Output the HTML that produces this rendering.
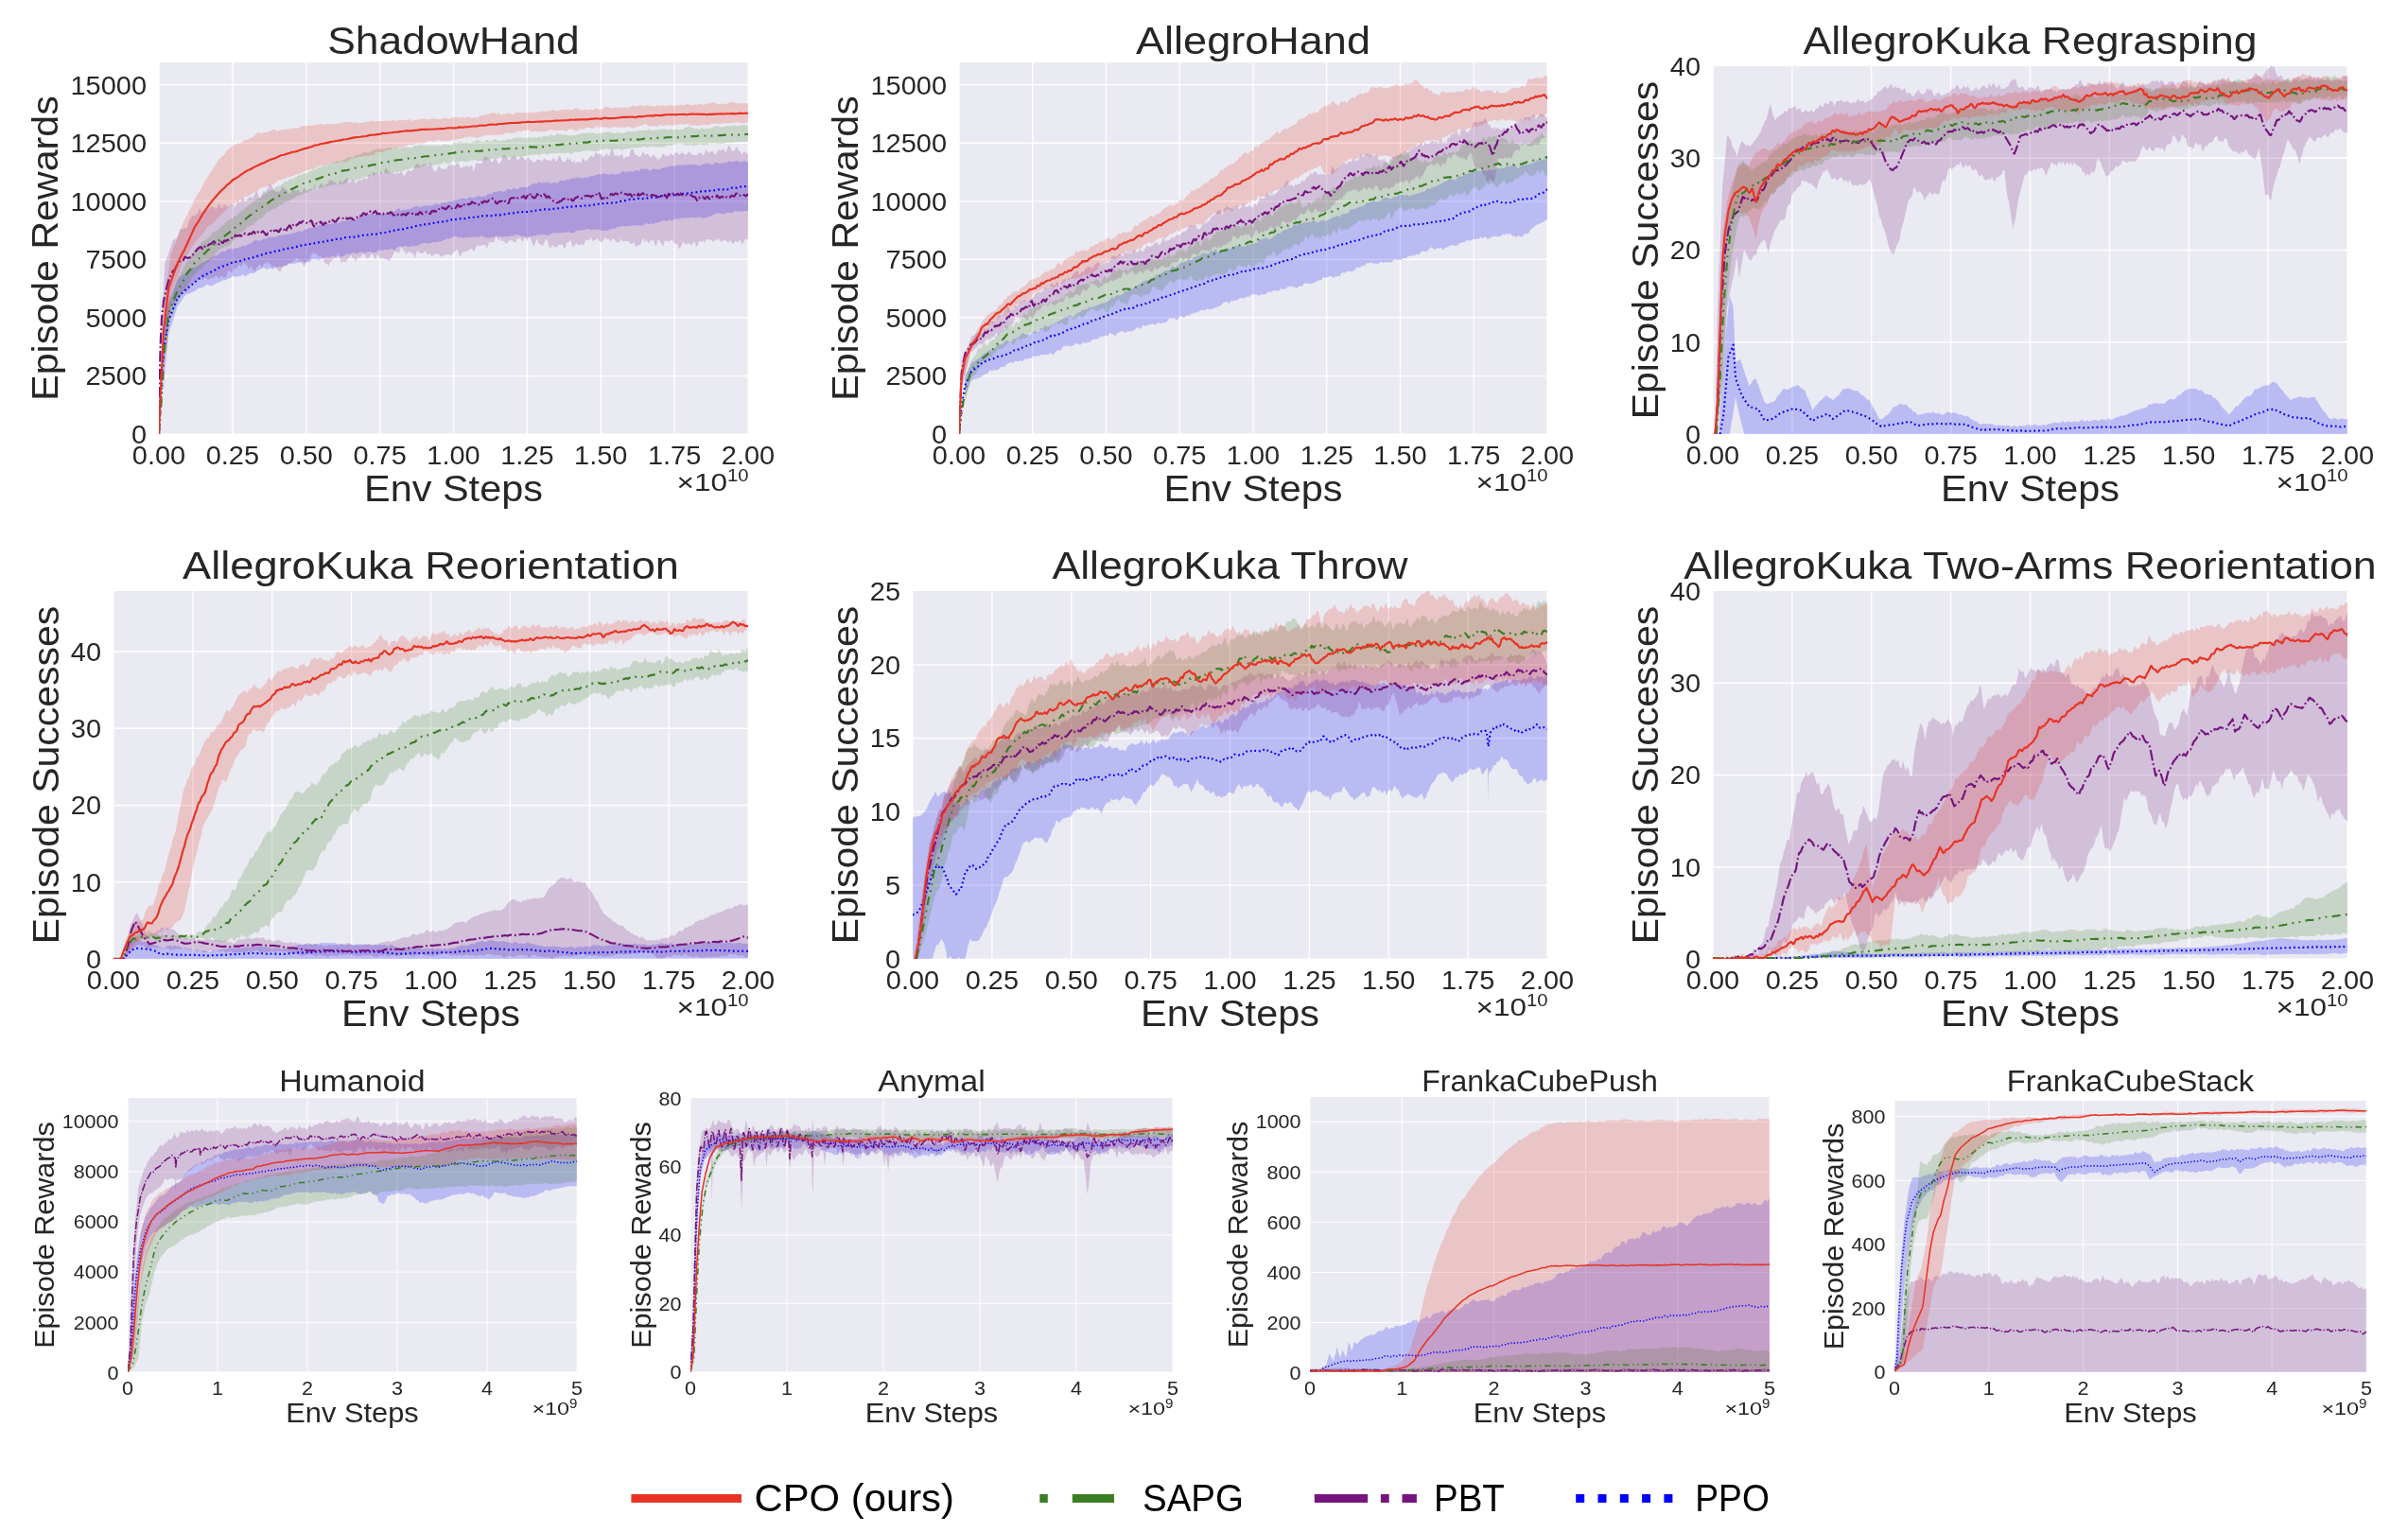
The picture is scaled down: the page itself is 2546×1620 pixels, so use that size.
<!DOCTYPE html>
<html><head><meta charset="utf-8"><title>Learning curves</title>
<style>html,body{margin:0;padding:0;background:#fff}svg{display:block;will-change:transform}text{font-family:"Liberation Sans",sans-serif}</style></head>
<body>
<svg width="2546" height="1620" viewBox="0 0 2546 1620">
<rect x="0" y="0" width="2546" height="1620" fill="#fff"/>
<g id="P1">
<rect x="168" y="66" width="623" height="393" fill="#EAEAF2"/>
<clipPath id="cP1"><rect x="168" y="66" width="623" height="393"/></clipPath>
<path d="M168.00,66V459M245.88,66V459M323.75,66V459M401.62,66V459M479.50,66V459M557.38,66V459M635.25,66V459M713.12,66V459M791.15,66V459M168,459.15H791M168,397.53H791M168,335.97H791M168,274.40H791M168,212.83H791M168,151.26H791M168,89.70H791" stroke="#fff" stroke-width="1.30" fill="none" clip-path="url(#cP1)"/>
<g clip-path="url(#cP1)">
<path d="M171.8,374.1l2-24.1l.6-6.9l1.4-8.6l2-11.8l.5-2.3l1.5-4.1l2-4.9l2-5.2l2-5.1l1.7-4.5l.3-.5l2-2.7l2-1.9l2-1.2l2-1l.7-1.1l1.3-2.2l2,.3l2-2.2l2-1.1l1.9,0l.1,0l2-1.3l2-1.2l2-.9l2-2l.9,.1l1.1-.1l2-1.6l2-1.3l2-.9l2-2.1l2-.7l2-.9l2-.4l2-2.1l1.4-.8l.6-.4l2-1.1l2,.8l2-2.2l2-.4l2-.9l2,1.3l0,0l2-1.3l2-.1l2-.6l2-.5l2-1.3l2-.7l2,.5l2-1.3l2-.9l2-.6l2-1.7l2-1.6l2,.1l2,1.1l2-1.1l2-.6l2-.8l2-.1l2-1.6l1,0l1-.1l2-.3l2,.7l2-.6l2-1l2-.7l2-.3l2-.2l2,0l2-.6l2,.4l2-.9l2-1.2l2,.3l2-1.1l2-1.1l2,.9l2-.4l2-1.7l1.7-.4l.3-.1l2-.4l2-1.4l2,1.1l2-1.9l2,.6l2-1.8l2-.8l2,.8l2-1l2-.4l2-1.2l2,1.2l2-.5l2-.7l2,.3l2-.7l2,.6l2-1.3l2-1.7l.4,.3l1.6,.7l2-.8l2,0l2-.9l2-.8l2,.7l2,.8l2-3.1l2-.1l2-.5l2-2l2,.3l2-.2l2-1.3l2-.1l2-.5l2,1.2l2-1l2-.6l1.5,.3l.5,.3l2,.3l2,.7l2-1.1l2-1l2-.5l2,.2l2-.5l2-1l2-1.7l2-1.3l2,3.2l2-1.8l2,1.1l2-.9l2-.4l2-.2l2-1.7l2-.2l2-1l.2,0l1.8-.2l2,1.3l2-.8l2-.8l2-.4l2,.2l2-.5l2,.9l2-.7l2-1.1l2-1.2l2,1.7l2-1.1l2-1l2-.7l2,1l2-1.6l2-.4l2,.5l1.2-1l.8-.7l2,0l2-.2l2-.5l2-1.3l2,.3l2,0l2,.7l2-1.8l2-.1l2,.7l2-.4l2-1.2l2-.7l2,.8l2,.2l2-.6l2,0l2-2.7l2,.3l2,.1l2-2.3l2,.3l2-.3l2-.7l2-.1l2,.6l2-.1l2-2.2l2-.9l2,1.5l2-1.1l2-1l2,1.5l2-.6l2-1.8l2,.2l2-.5l2,.8l1.7-.3l.3-.2l2-1.5l2-1.2l2-1.6l2,.8l2-.1l2-1.8l2,.8l2,.1l2-.1l2-.7l2,.7l2,.5l2,.3l2-1.7l2,1.5l2-.8l2-1.8l2-.3l2-.1l2,.1l2-1.2l2,.1l2-.8l2-.8l2,.5l2-.9l2-.4l2,.7l2,.3l2-.8l2-.5l2,.3l2-.9l2-.7l2,.3l2-1.5l2,0l2-1.2l1.7,1.3l.3,.1l2-1.6l2,.4l2,.3l2,.6l2-.1l2-1.4l2,1.9l2-.8l2-.4l2,.2l2-3l2,.3l2,1.2l2-1.8l2,1.1l2-.9l2,.6l2-1.3l2-.1l2,1l2-2.5l2,0l2,.4l2-.8l2,1.2l2,1.3l2-1.9l2,0l2,0l2,.4l2-.3l2-1.4l2-.2l2,.2l2-1.2l2-.5l2-.3l2,.1l1.5,.2l.5-.3l2-.7l2-.2l2-.1l2,.1l2-.2l2-.3l2,0l2,.4l2-.8l2,.7l2-.5l2,.6l2,.9l2-1.6l2,0l2-.6l2-.9l2,1.5l2-.2l2,.6l2-2.2l2-.2l2,1l2-.1l2-.7l2,.6l2-.6l2-.9l2-1l2,1.4l2-1.2l2,.3l2-.9l2,2.3l2-1l2-.4l2-.7l2,1.5l1.2,.3l0,51.7l-1.9-.1l-2-.2l-2,.3l-2,.4l-2-.2l-2,.2l-2-.7l-2,1.9l-2,.4l-2-.7l-2,.1l-2,.6l-2,1l-2-.2l-2-.4l-2-.8l-2,.9l-2,.8l-2,.7l-2,1.6l-2,0l-2,1.2l-2,.4l-2,.3l-2-1.4l-2,.2l-2,.2l-2,.3l-2-.3l-2-.1l-2,.8l-2-.4l-2,0l-2,.8l-2-.8l-2,.9l-2,.7l-2-.5l-1.8,.6l-.2,0l-2,1.1l-2,.3l-2-1.1l-2,1.7l-2-.5l-2-.3l-2,1.2l-2,.1l-2,1.4l-2-.7l-2,2.1l-2-1.1l-2,1.5l-2-.8l-2-.9l-2,1.3l-2,1.6l-2-.4l-2-.7l-2,1.3l-2-1.3l-2,.7l-2,.3l-2,.4l-2,0l-2,.1l-2-.1l-2-.1l-2,1.3l-2-.7l-2,2.2l-2-.2l-2,.6l-2,.4l-2,1.1l-2,.3l-2-.2l-2,.2l-1.6-.2l-.4-.2l-2-.5l-2-.5l-2,0l-2,0l-2,1l-2-1.4l-2-.2l-2,.4l-2,.5l-2,.5l-2,.6l-2-.5l-2,.6l-2,1.6l-2,.8l-2-.3l-2-1l-2,.4l-2,.4l-2-.6l-2,.9l-2-.1l-2,.3l-2-.4l-2,.4l-2,.6l-2,1.2l-2,.7l-2-.6l-2-.7l-2,.8l-2-.1l-2-.7l-2,1.2l-2,.3l-2,.8l-2-.4l-2,.4l-1.6,1.2l-.4,.3l-2-1.4l-2,0l-2-.5l-2-.9l-2-.4l-2-.2l-2,1.5l-2-.2l-2,0l-2,1.1l-2-.7l-2,.4l-2,.6l-2-1l-2,.8l-2-1l-2,.9l-2,.4l-2,0l-2,1.2l-2-.6l-2-.4l-2-.6l-2-1.4l-2,.9l-2,1l-2-.8l-2,.6l-2,0l-2-.2l-2,1l-2-.7l-2,.3l-2,.6l-2-1.4l-2,1l-2-1.2l-2-.7l-2,1.6l-.1,0l-1.9,.4l-2,1l-2-.2l-2,.9l-2,.7l-2,1.1l-2,.6l-2,0l-2,1l-2-.7l-2,.2l-2,.9l-2,.7l-2-.7l-2,.2l-2-.1l-2,1l-2,1.2l-2,.3l-1.1,.5l-.9-.4l-2,.8l-2-.7l-2,1.1l-2,.2l-2-1.1l-2,.7l-2,.3l-2-.4l-2,.5l-2,1.4l-2,2.2l-2-1.3l-2-.5l-2,1.4l-2-.2l-2-.2l-2,.6l-2,.3l-1.8-.4l-.2-.1l-2,.7l-2,2.1l-2,0l-2-.4l-2-.9l-2,1l-2,0l-2,1.2l-2-1.9l-2,.6l-2,.6l-2,1.2l-2-1.5l-2,0l-2,1.4l-2,0l-2,.2l-2,.8l-2,1.6l-.9,.3l-1.1,.2l-2,0l-2-.1l-2,1.9l-2-2.3l-2-.1l-2,1.1l-2,.3l-2-.7l-2,1.2l-2,.1l-2,1.4l-2,1.3l-2-1.3l-2,.1l-2-.7l-2,1.4l-2,2.3l-2-.1l-1.6-.2l-.4,.3l-2,.3l-2-1.9l-2,.7l-2,1.6l-2,.1l-2,.5l-2,.3l-2-.6l-2,.3l-2,1l-2,1.2l-2,.7l-2,.8l-2-.6l-2,1.3l-2-.6l-2,2.1l-2-.6l-2-.4l-.3,0l-1.7,1.5l-2-.9l-2-1.2l-2,1l-2,.5l-2,1.5l-2,.7l-2,1.9l-2,.4l-2-.3l-2,.8l-2,1.5l-2,1.2l-2-2.2l-2,1.5l-2,1l-2-.6l-2,1.6l-2-1.5l-1.1-.2l-.9,1.3l-2,1.1l-2,.2l-2,1.5l-2,.5l-2,.2l-1.9,1.6l-.1,.1l-2,.1l-2,1l-2,.9l-2,1.9l-2-.2l-2-.1l-2-1.4l-2,1.8l-2,1.5l-.4,0l-1.6,.7l-2,.2l-2,.3l-2,2.5l-1.4,.6l-.6,.1l-2,.7l-2,1.4l-2,.9l-2,0l-.6,.5l-1.4,1.7l-2,2.6l-2,3.1l-2,3l-1.6,2.3l-.4,1.3l-2,6.3l-2,6.6l-2,5.8l-2,6.1l-.8,2.7l-1.2,9.3l-1.4,11.6l-.6,8.6l-2,29.9Z" fill="#0000FF" fill-opacity="0.2"/>
<path d="M170.6,348.3l1.5-27.2l1.5-27.1l.8-15.4l.7-2.1l1.5-4.2l1.5-3.6l1.5-5.1l1.2-3.2l.3-.5l1.5-5.1l1.5-1.8l1.5-.6l1.5-.7l1.5-3.7l1.5-5.6l1.5,.1l1.5-.3l.6-.2l.9-1.1l1.5,.1l1.5,1.3l1.5-6.4l1.5-4.3l1.5-1.8l1.5-2l1.5,1l1.4-1.6l.1,0l1.5-.1l1.5-3l1.5-4.4l1.5,4.3l1.5,.4l1.5-2.4l1.5,.4l1.5-1l1.5-1.5l1.5,1.1l1.5-3.2l1.5,.9l1.5,.2l1.5,1.5l1.5,.5l1.5-4l1.5-1.3l1.5,4.2l1.5,.6l1.5-4.2l1.5,.3l1.5,2.3l1.5-.8l1.5,.9l1.5-2.7l1.5,.6l.2-.1l1.3-.5l1.5,3.6l1.5-3.5l1.5-5.1l1.5,3.3l1.5-1.4l1.5-3.3l1.5-.2l1.5,3.5l1.5-.2l1.5-3.4l1.5-.6l1.5-1.6l1.5,3l1.5-2.7l1.5-3.1l1.5-2.7l1.5,2.3l1.5,5.7l1.5-.4l1.5-3.9l1.5-3.2l1.5,.5l1.5-1.1l1.5-2l.4-1.4l1.1-3.3l1.5-.4l1.5,2l1.5,4.2l1.5,.9l1.5,2.1l1.5-1.8l1.5,.9l1.5-1.7l1.5-2.8l1.5-1.2l1.5,2.9l1.5-.2l1.5,2.3l1.5,3l1.5-.8l1.5-3.2l1.5-.5l1.5-.6l1.5,1.9l1.5-1.5l1.5-.1l1.5,4l1.5-1.6l1.5-2.8l1.5-1.6l1.4,2.3l.1,.2l1.5,.8l1.5-.6l1.5-2.5l1.5,2.2l1.5-1.5l1.5-4.1l1.5,1.9l1.5,4.3l1.5-3.7l1.5-3.5l1.5-.1l1.5,3.1l1.5-.4l1.5-2.3l1.5,.8l1.5-3.5l0-.2l1.5-1.2l1.5,.1l1.5,1.8l1.5,0l1.5,.8l1.5,3.1l1.5-1.7l1.5-3.4l1.5,.8l1.5,1.4l1.5-2.4l1.5-2.3l1.5-.7l1.5,6.1l1.5-1.4l1.5-1.3l1.5-1.3l1.5,2.1l1.5,2.2l1.5-2.5l1.5-1.2l1.5-.4l1.5,.8l1.5-1.9l1.5-1.1l1.5,1l1.5,1l1.5-5.2l1.5-.5l1.5,3l1.5-5.7l1.5,.4l1.5,1.7l1.5-1.3l1.5,2.4l1.2-1.2l.3-.7l1.5-1.7l1.5,3.2l1.5-2.6l1.5-5l1.5,2.3l1.5,1.6l1.5,2.2l1.5,.5l1.5,.3l1.5-2.3l1.5,3.5l1.5-2.4l1.5,.9l1.5-.5l1.5-2.9l1.5,3.6l1.5,2.7l1.5-1.9l1.5-2.7l1.5-1.8l1.5,.1l1.5,2.1l1.5-2.3l1.5-.8l1.5-3.8l.9-1.5l.6-.2l1.5,0l1.5,2.1l1.5,0l1.5-.8l1.5-1.8l1.5,.5l1.5,.4l1.5,1.8l1.5-2l1.5-1.5l1.5,4.9l1.5,2.8l1.5,1.8l1.5-1.3l1.5-3.7l1.5-1.4l1.5,2.6l1.5,1.2l1.5-.8l1.5,.6l1.5-1l1.5-1.6l1.5-3l1.5,1.6l1.5-.5l.9-.2l.6,.6l1.5,.6l1.5-2.7l1.5-.5l1.5,2.5l1.5,3.7l1.5-1.3l1.5-.6l1.5,.3l1.5-2.1l1.5,1l1.5,1.5l1.5-2.3l1.5,.3l1.5,6.4l1.5-4.8l1.5-4.3l1.5,0l1.5,.6l1.5,.5l1.5-.9l1.5-5.1l1.5-1.4l1.5-1.4l1.5,2.6l1.5-.2l.4-.6l1.1,3.6l1.5,1.9l1.5-2.7l1.5-2.8l1.5,1.6l1.5,2.7l1.5,3.3l1.5-3.1l1.5-1.8l1.5-5.8l1.5,.2l1.5,1.9l1.5,1.6l1.5,3.1l1.5-2.5l1.5-1.8l1.5,0l1.5-1.4l1.5,2.5l1.5,1.9l1.5,.1l1.5-3.5l1.5,0l1.5,1l1.5,2.1l1.5,.6l1.4-3l.1-.1l1.5,.9l1.5,2.1l1.5,.8l1.5,.9l1.5,1l1.5-1.7l1.5-1.9l1.5,.7l1.5,0l1.5,2.2l1.5-2.3l1.5-2l1.5,2.3l1.5,0l1.5-.3l1.5,1.6l1.5-.7l1.5-2.6l1.5,.5l1.5,3.1l1.5-.8l1.5-4.7l1.5-.5l1.5,4l.9,1.8l.6,.3l1.5,.7l1.5-1.1l1.5-3.9l1.5,3.1l1.5-2.6l1.5,3.9l1.5,.5l1.5-1.9l1.5,3.2l1.5-1.5l1.5-.4l1.5,1.4l1.5-.3l1.5-5.7l1.5,2.1l1.5,2.2l1.5-1.1l1.5-1.3l1.5-2.4l1.5-1l1.5,1.5l1.5-1.3l1.5-4.1l1.5,.9l1.5,1.6l1.5-1l1.4,.5l.1,.1l1.5,2.3l1.5,.5l1.5-1.8l1.5-2.4l1.5,3.7l1.5-1.4l1.5-6.6l1.5-1l1.5,6l1.5,2.6l1.5-.9l1.5,1.1l1.5-.2l1.5-1.1l1.5-.8l1.5,5.5l1.5-2.1l1.5-1.5l1.5,1.6l1.5-2l1.5-6.5l1.5,0l1.5,.4l1.5,6.1l1.5-.8l.9,.3l.6,1.7l1.5,.3l1.5-.7l1.5-3.7l1.5-.5l1.5,3.2l1.5-1.4l1.5-.4l1.5,2.8l1.5,1.4l1.5-2.2l1.5-1l1.5,1.7l1.5,1.3l1.5,3.3l1.5-2.7l1.5,.9l1.5-4.5l1.5-1.1l1.5,2.7l1.5-.9l1.5,1.4l1.5-1l1.5-3.1l1.5,2.4l1.5,.1l1.2-1.6l.3-.4l1.5-1.3l1.5,1.6l1.5,1.5l1.5-1.5l1.5-1l1.5,.5l1.5,2.3l1.5-.5l1.5-1.8l1.5-1.9l1.5,1.6l1.5,2.5l1.5-.6l1.5,.7l1.5-.2l1.5-.2l1.5-2l1.5-.1l1.5,.6l1.5,2.5l1.5-2.9l1.5-3.8l1.5,2.2l1.5,1.8l1.4-2l.1,0l1.5,.4l1.5-.8l1.5,4.1l1.5-.8l1.5-3.8l1.5-.8l1.5,1l1.5-1.2l1.5-.4l1.5,1.5l1.5,2.5l1.5-5l1.5-3l1.5,1.5l1.5,4.7l1.5-.3l1.5-.6l1.5-2.9l1.5-.8l1.5,4.5l1.5,.5l1.5,3.4l1.5-2.1l1.5-1.7l1.5,1l1.5,1.5l.9,.9l0,90.1l-1.2-.2l-1.4-.5l-1.6,2.6l-1.4,2.3l-1.6,.2l-1.4-5.6l-1.6,3.9l-1.4,.1l-1.6-1.9l-1.4,2.2l-1.6,1.8l-1.4-2.3l-1.6-2l-1.4,2.6l-1.6-.8l-1.4-1.7l-1.6-.1l-1.4,.7l-1.6,0l-1.4,.4l-1.6-3.6l-1.4,2.5l-1.6-.8l-1.4,1.8l-1.6,.5l-1.4-1.9l-1.4-.3l-.2,.3l-1.4,0l-1.6-.9l-1.4,1l-1.6,2.7l-1.4-2l-1.6,1.5l-1.4-1.1l-1.6,.5l-1.4,4.9l-1.6,.5l-1.4-6l-1.6,2.6l-1.4,1.8l-1.6-.5l-1.4-1.4l-1.6,.7l-1.4,.7l-1.6-1.2l-1.4-2.1l-1.6,3.8l-1.4,2.6l-1.6,1.8l-1.4-5.7l-1.6,.4l-1.4-.9l-.1-.1l-1.5-1.7l-1.4-2.4l-1.6,1.6l-1.4,1.1l-1.6-1.4l-1.4,.6l-1.6-.6l-1.4,5.7l-1.6-1.3l-1.4-2.5l-1.6-2.6l-1.4-.3l-1.6,6.9l-1.4-2.1l-1.6-4.7l-1.4,1.5l-1.6-1.9l-1.4,4.4l-1.6-1.8l-1.4-2.8l-1.6,3.9l-1.4-5.1l-1.6,2.5l-1.4,4.6l-1.6,.4l-1.4,0l-.4,1l-1.2,1.2l-1.4-2.4l-1.6-3.8l-1.4,3.3l-1.6-1.3l-1.4-1.2l-1.6-1.1l-1.4-.2l-1.6,.2l-1.4,.3l-1.6-.2l-1.4-2.9l-1.6,4l-1.4,.3l-1.6-.5l-1.4-1.4l-1.6-1.9l-1.4-.3l-1.6,3.7l-1.4-2.9l-1.6-.2l-1.4-.1l-1.6-2l-1.4,2.7l-1.6,3.1l-1.3-.7l-.1,.1l-1.6-1.1l-1.4-2l-1.6-.3l-1.4,1.4l-1.6,.6l-1.4,.5l-1.6-4.7l-1.4,2.9l-1.6,1.2l-1.4-1.2l-1.6,1.5l-1.4,3.7l-1.6,1.1l-1.4-2.2l-1.6,2.3l-1.4-1.1l-1.6-.8l-1.4,.3l-1.6,2.3l-1.4,1.1l-1.6-6.6l-1.4-.9l-1.6,3l-1.4-1.3l-1.6,5.6l-1.4,1.8l-1.6-4.4l-.3-.3l-1.1,.1l-1.6,.8l-1.4-.7l-1.6,2.8l-1.4-.6l-1.6,.6l-1.4-3l-1.6,2.5l-1.4,2.2l-1.6-5l-1.4-5.3l-1.6,.8l-1.4,2.8l-1.6,3.8l-1.4-1.1l-1.6-1.2l-1.4-.9l-1.6-4.5l-1.4,2.7l-1.6,5.5l-1.4-2.5l-1.6-3l-1.4-4l-1.6,0l-1.3,3.8l-.1-.2l-1.6-2.5l-1.4-.9l-1.6,4.3l-1.4-1.4l-1.6-3.2l-1.4,1.7l-1.6-.5l-1.4,3.8l-1.6,.7l-1.4-2.2l-1.6-.2l-1.4-.9l-1.6,1.8l-1.4,1.5l-1.6,1.2l-1.4-2.6l-1.6-1l-1.4,.8l-1.6-3.6l-1.4,3.2l-1.6-2.9l-1.4-2.9l-1.6,6.2l-1.4,1.1l-1.6-.4l-1.4,.2l-.9-.5l-.7,.8l-1.4,6.7l-1.6-3.8l-1.4,.1l-1.6-.2l-1.4-.4l-1.6,2l-1.4-1.9l-1.6,1.4l-1.4,.3l-1.6,4.7l-1.4-.3l-1.6-1.8l-1.4-.7l-1.6,2.4l-1.4-.1l-1.6,2.3l-1.4-1.9l-1.6,1.4l-1.4,.7l-1.6,4.2l-1.4-2.1l-1.6-5.4l-1.4,.6l-1.6,1.2l-1.4,1.5l-.4,.3l-1.2,2.5l-1.4-.5l-1.6-.3l-1.4,.3l-1.6-1.4l-1.4,1.8l-1.6,.4l-1.4-.1l-1.6,1.6l-1.4-2.7l-1.6-.8l-1.4-.7l-1.6,1.6l-1.4,0l-1.6,2.5l-1.4-2.6l-1.6-1.3l-1.4,1.9l-1.6-2.2l-1.4-2.5l-1.6,1.9l-1.4,.9l-1.6-.3l-1.4-.3l-1.6-2.3l-1.4,1.7l-.4,1.7l-1.2,5.6l-1.4-5.6l-1.6,0l-1.4-1.9l-1.6-.1l-1.4,0l-1.6,2.5l-1.4-2.1l-1.6-2.1l-1.4-2l-1.6-1.9l-1.4,6l-1.6,.8l-1.4-1.3l-1.6-.8l-1.4,1.8l-1.6,3.8l-1.4,2.5l-1.6,2.3l-1.4-.6l-1.6-.9l-1.4-.5l-1.6,.4l-1.4-2.2l-1.6,1.8l-1.4-.9l-.1-.3l-1.5-4.2l-1.4,1.6l-1.6,4.3l-1.4-2.5l-1.6-3.7l-1.4,.6l-1.6,3.1l-1.4,.8l-1.6,.5l-1.4-1l-1.6-4.4l-1.4,1.7l-1.6,1.7l-1.4,1.9l-1.6-1.9l-1.4,3.4l-1.6,1.6l-1.4-3l-1.6,.1l-1.4-3.7l-1.6,1.7l-1.4,1.6l-1.6,2.6l-1.4,2l-1.6-1l-1.4-.4l-.2,.2l-1.4,2l-1.4-5.4l-1.6-5.1l-1.4,1.2l-1.6,2.2l-1.4,2.4l-1.6,.7l-1.4,2l-1.6,.6l-1.4,4.7l-1.6-3l-1.4-.1l-1.6-1.6l-1.4-3.8l-1.6-.9l-1.4-2.3l-1.6,1.9l-1.4-2.2l-1.6-1.6l-1.4-.1l-1.6,0l-1.4,1.2l-1.6,5.1l-1.4,.5l-1.6,.5l-1.3,2.6l-.1,.6l-1.6,3.7l-1.4-1.8l-1.6-2.8l-1.4,.2l-1.6-1.6l-1.4-3.5l-1.6,2l-1.4,1.4l-1.6-.1l-1.4,2.2l-1.6,.2l-1.4,.4l-1.6,2.9l-1.4-.6l-1.6,.6l-1.4-.1l-1.6,2.9l-1.4,2.6l-1.6,0l-1.4-2.3l-1.6-1.6l-1.4-2.1l-1.6,.4l-1.4,1.5l-1.6-3.9l-1,.3l-.4-.9l-1.6-2.3l-1.4,2.9l-1.6-.8l-1.4,1.9l-1.6,2.3l-1.4-2.3l-1.6-.1l-1.4,2.1l-1.6,1.4l-1.4,3.7l-1.6-2.1l-1.4-1.7l-1.6-2.5l-1.4,4.1l-1.6-2.7l-1.4-2.2l-1.6-2.1l-1.4-.5l-1.6,3.6l-1.4,1.2l-1.6-2.9l-1.4,2.7l-1.6,1.4l-1.4,1.4l-1.6-1l-1,4.1l-.4,.9l-1.6-1l-1.4-2.4l-1.6,1.6l-1.4,5.9l-1.6,.4l-1.4,.2l-1.6-2l-1.4,.7l-1.6,3l-1.4-3.2l-1.6-.1l-1.4-.2l-1.6,2.9l-1.4-1.3l-1.6,.6l-1.4,1.2l-1.6,1.1l-1.4-2.3l-1.6-.2l-1.4,.5l-1.6,2.8l-1.4-3.2l-1.6-1.1l-1.4,3.8l-1.6-.7l-1.3,.9l-.1,.2l-1.6,1.7l-1.4,.1l-1.6,1.3l-1.4,5l-1.6,1.6l-1.4,2.5l-1.6-.1l-1.4-1l-.7,.1l-.9,1.4l-1.4,3.4l-1.6,1.9l-1.4,.7l-1.6,.5l-1.4,1.4l-1.6,4.2l-1.4,.6l-1.6,2l0,0l-1.4,6.2l-1.6,7l-1.4,7.3l-.7,2.9l-.9,11.2l-1.4,20.3l-1.6,20.2Z" fill="#75147C" fill-opacity="0.2"/>
<path d="M175.7,335.5l2-12l.6-3.3l1.4-4l2-5.5l1.9-5.6l.1-.1l2-5.2l1.8-4.9l.2-.5l2-3.2l2-2.9l2-4.4l2-4.2l.8-1.6l1.2-1.7l2-3l2-1.6l2-4.2l2-2.4l0,0l2-2.3l2-2.1l2-2.1l2-2.7l1-.9l1-1l2-.9l2-1.5l2-1.5l2-2.3l.2-.3l1.8-2.2l2-.6l2-1l2-2.2l1.5-1.4l.5-.6l2-1.3l2-2.3l2-1.7l2-1.2l2-1.8l2-.2l.3-.4l1.7-1.9l2-.9l2-1.4l2-2.6l2-1.2l2-.9l2-2.4l2-.8l.7-.8l1.3-1.2l2-1.2l2-1.7l2-1.3l2-1.6l2-1.2l2-1.9l2-1.2l2-.9l2-1.4l2-1.5l2-1.5l2-.5l.4-.1l1.6-.6l2-2.6l2-.1l2-1l2-1.3l2-1.1l2-2.4l2,1l2-2.7l.6-.3l1.4-.2l2-.3l2-1.2l2-.8l2-1.4l2-.6l2-.6l2-1.7l2,.7l.8-1l1.2,0l2-1.5l2-.4l2-1l2,.1l2-2.2l2-.9l2,.1l2-1.3l1.1-.2l.9,.4l2,.2l2-1.4l2-1.1l2-.7l2-1.3l2-.7l2,0l2-.2l2-.8l.5-.2l1.5,.2l2-2l2-.7l2-.9l2,.4l2-.3l2-1.5l2-.8l2-.2l2-.5l2-1.6l2-.7l2,.9l2-.3l2,0l2-2.4l2-.4l2-.5l2-.5l1.6,.1l.4-.3l2,0l2,.4l2-.7l2-1l2,1l2-1l2,.9l2-1.1l2-.5l2,1.7l2-.4l2-.6l2-.2l2,.5l2-.7l2,1.2l2-1l2-1l2-1.2l.3,.1l1.7,.3l2-.8l2-.5l2,1.4l2-.3l2,.6l2-.7l2,.4l2-.3l2,.4l2-.1l2-.6l2,.4l2-.2l2-1.6l2,1l2-.2l2,.3l2,.7l1.3-2.4l.7-1.2l2,.4l2,.2l2-.9l2,0l2,.7l2,.1l2-.7l2,1.1l2-.5l2-.9l2,.4l2-2.2l2,.5l2,1.2l2,.1l2,.5l2-2l2-.7l2,2.6l2-1.6l2-.3l2-1.3l2,1.6l2,.5l2-.4l2-.2l2,.2l2-.9l2-1.2l2,1.5l2-1.7l2,.2l2-1.9l2,1.8l2-2.1l2,1.6l2,.2l2-.4l1.8-.6l.2,0l2,.3l2,.6l2-.6l2-.4l2,.8l2-1.7l2,1.8l2-2.5l2,.5l2,.6l2-.1l2-1.9l2,.1l2,.9l2-.7l2-2.4l2,2.1l2-.7l2,1.6l2-1.7l2,1.5l2-.1l2,.1l2-.2l2,.1l2-1l2-.4l2-.2l2-.8l2,.1l2,.1l2-.8l2,.5l2-.4l2,.4l2,.2l2,1.1l2-1.4l1.8,0l.2,.1l2,0l2-1.1l2,.5l2-.8l2,.8l2,.4l2,.7l2-1.1l2,.4l2-.2l2,.7l2-.5l2-.2l2-1.6l2,.4l2-.2l2-.1l2,.2l2-.4l2-.6l2,.3l2-.2l2-.4l2,0l2-.7l2,0l2,1.5l2-.9l2,0l2-.6l2,.3l2-.5l2-.5l2,.7l2,0l2,.4l2-1.1l2,1.3l1.6-.5l.4-.3l2-.4l2,1l2-.7l2,.6l2-1.7l2-.8l2-.6l2-.8l2,2.1l2,0l2,.8l2-.1l2,.8l2-1.7l2,.4l2,.9l2-.5l2-.1l2-.6l2-.8l2-.6l2-1l2,1l2,.3l2,.2l2-.3l2-1.2l2,.2l2,.4l2-.5l2,0l2-.4l2,.2l2,.2l2-.9l2,.1l2,.2l2-.3l1.3,.9l0,16.9l-1.3-.3l-2,.2l-2,.2l-2-.1l-2,.6l-2-.3l-2-.1l-2,.4l-2,.4l-2,.3l-2-1.1l-2,1.3l-2-.1l-2,.7l-2-.2l-2,.3l-2-.3l-2-.3l-2,0l-2-.2l-2,0l-2,2.1l-2-.9l-2,1l-2-1.1l-2-.1l-2,.7l-2,.1l-2,1.2l-2-1.2l-2-.1l-2,.4l-2,.1l-2,0l-2-1.4l-2-.8l-2,.3l-2,.2l-2,1.5l-.4-.4l-1.6-.5l-2,1.7l-2-.5l-2-.7l-2,1.8l-2,.6l-2-.2l-2,.6l-2-.5l-2,.5l-2-.4l-2-1l-2,.5l-2,.4l-2,.5l-2-1.2l-2,.7l-2,.5l-2,.3l-2,.1l-2-.8l-2,1.2l-2-.3l-2,.7l-2,.6l-2-.1l-2,.2l-2,1.3l-2-.6l-2-1.4l-2,.9l-2,.3l-2-1.3l-2,.5l-2,.2l-2-.3l-2,.5l-2,.3l-2,.4l-.2,0l-1.8,.1l-2,1.3l-2,0l-2-.1l-2,0l-2-.6l-2-.3l-2,.9l-2-.6l-2,.6l-2,.9l-2,.3l-2-.5l-2,.4l-2,1l-2,1.1l-2-1.4l-2-.1l-2,.8l-2-.6l-2,.1l-2-.1l-2,.4l-2,0l-2,.3l-2-.7l-2,.5l-2,.7l-2,.4l-2-.5l-2-.4l-2,1.1l-2,.7l-2-1.3l-2,.5l-2,0l-2,.6l-2,0l-2,1.3l-.2,0l-1.8-.5l-2,.3l-2,.5l-2-.2l-2,.2l-2,.8l-2-.1l-2,.2l-2-.1l-2-.1l-2,.2l-2,0l-2,0l-2,.5l-2-.6l-2,1.8l-2-1.2l-2,.4l-2,.8l-2-.6l-2,1.1l-2,.7l-2,0l-2,.4l-2,.1l-2,.3l-2-.6l-2-.8l-2,1.1l-2-.3l-2,.9l-2,.5l-2,.2l-2-.7l-2-.2l-2,1.3l-2,0l-2,.3l-2-1.8l-.7,0l-1.3,.7l-2,1.4l-2,.8l-2-.6l-2-1.3l-2,1.9l-2,.6l-2,.1l-2,.7l-2-.4l-2,1.3l-2-1l-2,.2l-2-.2l-2,.1l-2,.8l-2,.7l-2,1.1l-2,.4l-1.7-.1l-.3,.1l-2,1.1l-2-1.4l-2,1.3l-2,.6l-2,.4l-2,.7l-2,.7l-2-.3l-2,1.3l-2,.9l-2-1.5l-2,1.2l-2,1.5l-2-.1l-2-.2l-2-.1l-2-1.4l-2,2.3l-2-.8l-.4-.1l-1.6,.1l-2,.9l-2,1l-2-.3l-2,.8l-2,.5l-2,.5l-2-.3l-2,1l-2,1l-2,.9l-2-.3l-2,1.4l-2,.9l-2-1.3l-2,.7l-2,.6l-2,1.8l-2,1.3l-1.5-.8l-.5-.1l-2,1.3l-2,.8l-2-.5l-2-.1l-2,0l-2,.6l-2,0l-2,.9l-2,.6l-.9,.2l-1.1,.9l-2-.3l-2,1.3l-2-.6l-2-1.4l-2,1.3l-2,2.6l-2,.3l-2,1.1l-1.2,.7l-.8,.8l-2-.7l-2,2.2l-2,.5l-2,.1l-2,1.2l-2,1.1l-2,1.2l-2,1.1l-1.4,1l-.6,.3l-2,1l-2,.6l-2,1l-2,2.3l-2-.4l-2,2.3l-2,.9l-2,1.2l-1.6,0l-.4-.1l-2,2.2l-2,.8l-2,.3l-2,3.1l-2,2.2l-2,1.6l-2,.6l-2,1.8l-2,1.7l-2,3l-2-.6l-2,1.4l-1.3,.8l-.7,.2l-2,2.1l-2,2.6l-2,0l-2,2.8l-2,1.6l-2,1.8l-2,2.6l-1.7,1.6l-.3,.2l-2,3.7l-2,0l-2,2.1l-2-.7l-2,2.3l-2,0l-.5,.2l-1.5,1.7l-2,1.3l-2,2.8l-2,2l-1.8,2.3l-.2,.5l-2,1.7l-2,2.3l-2,.7l-2,2.6l-1,1.7l-1,1.9l-2-.4l-2,1.9l-2,2.1l-2,2l0,0l-2,2.3l-2,2.9l-2,3.2l-2,3.3l-1.2,1.7l-.8,.7l-2,3.6l-2,3.3l-2,4.2l-2,4.4l-.2,.4l-1.8,4.2l-2,4.5l-.1,.2l-1.9,5.1l-2,5.2l-1.4,3.9l-.6,9.6l-2,33.9Z" fill="#3A7D22" fill-opacity="0.2"/>
<path d="M173.1,322.8l2-14.3l2-13.9l2-13.8l1.7-11.9l.3-.8l2-5.3l2-5.1l2-4.8l2-5.7l2-4.7l2-5.8l.6-1.3l1.4-2.9l2-3.8l2-3.7l2-4.7l2-2.4l2-5.9l1.4-2.6l.6-.7l2-4.3l2-2.5l2-3l2-4.5l2-3.5l2-3l.2-.4l1.8-2.9l2-2.7l2-3.9l2-2l2-3.4l2-3.7l1.1-1.2l.9-1l2-1.1l2-2.2l2-2.8l2-2.6l2-1.3l2-2.2l.7-.7l1.3-.6l2,.2l2-2.3l2,.6l2-1.1l2-1l2-2.1l2,.9l2-1.7l2-1.4l2-.3l2-1.6l1.5-1.8l.5-.4l2-.9l2,.1l2,.8l2-1.5l2,.6l2-.8l2-.4l2-1.1l2-1.2l2,.9l2,1.4l2-1.1l1.2-.3l.8-.7l2,.5l2-1.3l2,.9l2-.4l2-1l2,.3l2-1l2,.9l2-.5l2-.9l2-1l2-.6l2,.6l.4-.1l1.6-.9l2,.5l2-.2l2-.4l2-.2l2-.3l2-.9l2,.1l2,0l2,1.7l2-1.7l2-.3l2,.8l2-.3l2-.4l2,0l2,.1l2-.7l2-.2l2-.5l2-.4l2-.4l2,.4l2-.8l2,1.5l.2,0l1.8-.3l2-.4l2,1.2l2-.2l2-.5l2-.8l2,.4l2-.9l2-.5l2-.4l2,1.3l2-.6l2-.2l2-.1l2,.2l2-.2l2,0l2-.6l2,.5l2,.4l2-1.5l2,.9l2,.5l2-1.1l2-.1l1.5-.4l.5,0l2,.8l2,.1l2-1l2-.4l2,2.4l2-1.9l2,.7l2-.5l2-.8l2-.1l2-.3l2,.1l2,.8l2-.5l2-.2l2-.1l2,0l2,.1l2,.3l2,.2l2-.5l2-.8l2,.1l2,.4l2,.3l2-1.3l1.9-.4l.1,0l2,.2l2-.8l2,1l2,.2l2-.5l2,.6l2-1l2-.2l2,.9l2,.6l2-.9l2,.7l2-.4l2-1.6l2-.6l2-.9l2,.4l2-1.1l2,0l2-1.1l2-.2l2-.1l2,1.4l2-1.4l2,2.4l2-.5l2-1l2,1.1l2-2.1l2,1l2,.3l2,1l2-2.3l2-.2l2,.6l2-.6l2,.1l2,.2l2,0l.4,0l1.6-.1l2-.3l2,.1l2,.5l2-.7l2,0l2-.9l2-.6l2,1.2l2-1.2l2,1l2-1.6l2,.7l2-1.5l2,1.4l2,.1l2-.5l2-.2l2-.9l2,.2l2-.5l2,.5l2-.5l2,1.4l2-2.4l2,.1l2,.3l2,1.7l2-.2l2-.2l2-.8l2,1.3l2-.6l2-.1l2,.3l2-.9l2-1l2,1.4l2-.1l.4,.1l1.6,.2l2-2.3l2-.9l2,.7l2,.9l2-.2l2,.2l2-1.3l2,1.6l2-1.2l2,.4l2,0l2-.3l2,1.1l2-1.4l2-.3l2-1.3l2,.5l2,.4l2-.8l2-.8l2,.5l2,1.2l2-1.5l2,.3l2,.6l2,.1l2,.8l2-.9l2-.6l2,.8l2-.5l2-.4l2,.8l2-.2l2-.6l2-.2l2,.6l2,0l.2,0l1.8-.2l2,0l2-.7l2,0l2,.7l2-1.3l2,0l2,.9l2-.4l2,.9l2-1.4l2,.2l2,.1l2-1l2,1.6l2-.4l2-1.4l2,.8l2-1l2-.7l2-.1l2,1.5l2,.4l2-.5l2,.3l2-.2l2,0l2-.1l2-.9l2-1.3l2,1.3l2-.6l2,1.2l2-.6l2,.7l2-.1l2-.4l2,.2l1.9,.6l0,20.1l-1.3-.1l-2,.2l-2-.1l-2,.6l-2-.8l-2-.8l-2,.5l-2,.5l-2-.1l-2,.8l-2-.5l-2,.3l-2-.1l-2,.5l-2,0l-2,.2l-2,.1l-2-.5l-2,.2l-2,0l-2,1.5l-2,0l-2-.5l-2,.1l-2,.6l-2,.1l-2,.7l-2-.8l-2,.2l-2-.3l-2,0l-2-1.1l-2-.5l-2,1.3l-2-.7l-2-.6l-2,1l-2,.2l-2,0l-.4,.2l-1.6,.4l-2,0l-2-.4l-2-.2l-2,.5l-2,.4l-2,.2l-2-1.3l-2,2l-2-.4l-2,.4l-2-.8l-2,.6l-2-.5l-2-1.1l-2-1.2l-2,1.6l-2,.3l-2,.7l-2,.1l-2,1l-2,1.2l-2-.8l-2-1l-2,.4l-2,.2l-2,.4l-2-.8l-2,.7l-2-.1l-2,0l-2-.8l-2,.4l-2,1.2l-2-.4l-2-.3l-2-.1l-2-1l-2,.8l-.2,.1l-1.8,.5l-2-1.6l-2,.6l-2,2l-2-.2l-2-.6l-2-.4l-2,.1l-2,1.5l-2-.1l-2,.1l-2,.7l-2,1.6l-2-.6l-2-1.2l-2-.7l-2,.4l-2,1.6l-2,.6l-2-1.9l-2,1l-2-.5l-2,1.2l-2-.2l-2-.7l-2-.5l-2,0l-2,.7l-2,.6l-2,1.2l-2-.8l-2,.6l-2-.5l-2-.1l-2-.3l-2,.4l-2,.8l-2-2.1l-2-.2l-.2,0l-1.8,.8l-2-1.3l-2,2.2l-2,.3l-2-1.3l-2,1.8l-2,.4l-2,.2l-2,.3l-2-1l-2,.8l-2,0l-2,1.6l-2,.2l-2-.6l-2,.9l-2-.4l-2,.4l-2,0l-2-.1l-2,0l-2,.4l-2,0l-2,1.1l-2,.4l-2,1.1l-2-.3l-2-.1l-2-.7l-2-.2l-2-.2l-2,1.1l-2-.8l-2,1.4l-2,.5l-2,.4l-2-.2l-2,1.4l-2,.1l-.7,.1l-1.3-.3l-2,.4l-2,.6l-2-.1l-2,.1l-2,0l-2,.1l-2-1.7l-2,1.2l-2,.9l-2,0l-2-.7l-2,.1l-2,.4l-1.4,1.4l-.6,.4l-2,.3l-2,0l-2,.6l-2-.5l-2,.4l-2,.7l-2,.4l-2,0l-2-.1l-2,1.6l-2,.5l-2,.7l-1.1,0l-.9,.2l-2-.2l-2,.1l-2,.6l-2-.2l-2,2.2l-2-.3l-2,.7l-2-.1l-2,1.6l-2,.9l-2-.3l-.4,0l-1.6-.2l-2,.4l-2,2.4l-2,.4l-2,0l-2,1.2l-2-.6l-2,1l-2-.8l-2,1.3l-2-.3l-2,.5l-2,1.1l-2-.2l-.4-.1l-1.6,.3l-2,1.7l-2,1.7l-2,.1l-2,.9l-2-1.5l-2,.3l-2,1.5l-2,.4l-2-.2l-2,.5l-2,.4l-2,1l-.1,0l-1.9,.8l-2,.6l-2-.5l-2,.2l-2,.1l-2,.8l-2,1.7l-2,1.5l-2-.5l-2-.1l-2,1.6l-2,.2l-.2,0l-1.8,.6l-2,1.7l-2-.1l-2,2l-2-.5l-2,.9l-2,.8l-2,.8l-2,.7l-2-.1l-2,1.4l-2,.5l-2,.9l-1.4,0l-.6,.2l-2,.6l-2,2l-2,1.7l-2,.6l-2,.2l-2,1.5l-2,.7l-2,.1l-2,.6l-2,.1l-2,1.8l-2,1.9l-1.1,1.2l-.9-.1l-2,.8l-2,.9l-2,1.6l-2,1.3l-2-.2l-2,1.3l-2,1.9l-2,.7l-2,1.6l-2,1.2l-2,.4l-1.9,2.1l-.1,.1l-2,1.2l-2,1l-2,2.7l-2,.7l-2,3.1l-2,1.7l-1.5,1.1l-.5,.6l-2,2.4l-2,2l-2,2.2l-2,1.9l-2,.2l-2,1.9l-.4,.4l-1.6,2.3l-2,3l-2,2.2l-2,2.5l-2,1.7l-2,3.1l-1.2,1.4l-.8,.7l-2,3.9l-2,2.1l-2,3.5l-2,2.7l-2,4.5l-2,2.5l0,.1l-2,5l-2,6l-2,5l-2,5.2l-2,4.8l-2,5.6l-.9,2.2l-1.1,14.1l-2,24.8l-2,25.1Z" fill="#E83323" fill-opacity="0.2"/>
<path d="M168.0,459.2l2-33.9l1-20.3l.8-18.2l2.2-21.5l.4-4.2l2.6-14.7l1.3-7.3l1.7-4.7l3-7.7l3-7.3l1.5-4.2l1.5-1.5l3-3.2l3-2.9l1.5-1.7l1.5-.9l3-2.5l3-2.3l1.7-1.6l1.3-1l3-2.6l3-2l1.7-1.4l1.3-.9l3-1.2l3-1.3l3-1.8l3-1.2l3-1.9l2.2-.9l.8-.2l3-1.1l3-1.2l3-1.3l3-1l0,0l3-.6l3-.9l3-.4l3-1.1l3-1.3l3,.2l3-.9l3-1l3-1l3-.9l3-1.3l3-.5l2.8-.5l.2-.1l3-.7l3-.9l3-.4l3-.8l3-.9l3-.6l3-.6l3-.4l3-1.1l3-.1l3-1.1l3-.8l2.5-.1l.5-.1l3-.4l3-1.1l3,0l3-.8l3-.3l3-.5l3-.6l3-.6l3-.5l3-.9l3-.2l3-.1l2.2-1.1l.8-.2l3-.3l3-.4l3,0l3-.1l3-.7l3-.4l3-.8l3,0l3-.6l3-.4l3,.2l3-.6l2.3-.6l.7-.2l3-.3l3-.5l3-.7l3-.6l3-.8l3-.5l3-.3l3-.4l3-1.3l3-.1l3-.5l3-1.3l2-.2l1-.1l3-.7l3-.3l3-.8l3-.3l3-.4l3-.7l3-.5l3-.4l3-.4l3-.6l3-.3l3-1.1l2-.4l1,.2l3-.2l3-.6l3-.3l3,0l3-1.1l3,.4l3-.6l3-.1l3-.7l3-.6l3,.2l3-.8l3,.4l3-.1l3-.9l3,.4l3-.9l3-.2l3-.6l3-.3l3-.3l3-.4l3-.8l3,0l3-.3l2.5,.2l.5,.1l3-.6l3-.5l3-.5l3-.4l3-.4l3-.4l3,.2l3-.1l3-.5l3-.4l3-.3l3-.5l3-.2l3-.6l3-.2l3-.1l3-.5l3-.1l3,.1l3-.6l3-.1l3-.2l3-.4l3-.8l3-.3l2.5-.1l.5,0l3-.8l3,0l3,.2l3-.7l3-.2l3-.4l3-1.1l3-.2l3-.8l3-.7l3,.1l3-.8l3-.3l3,0l3,.2l3-.6l3-.4l3-.6l3,.1l3-.3l3-.9l3-.3l3-.4l3-.5l3,.2l2.3-.1l.7-.1l3-.5l3-.3l3-.6l3-.3l3-.2l3-.5l3-.4l3-.3l3-.6l3-.4l3,.3l3-.6l3-.3l3-.2l3-.8l3-.3l3,.2l3,0l3-.2l3-1.6l3,.4l3-.7l3-.8l3-.3l3-.1l2-.1" fill="none" stroke="#0000FF" stroke-width="2.15" stroke-linejoin="round" stroke-dasharray="1.80 2.97"/>
<path d="M168.0,458.8l.8-59.5l.2-8.6l.8-29.8l.2-3.9l1-19.8l.1-1.6l.9-8.4l.9-8.2l.1-.5l1-4.4l1-4.6l1-4.4l1-3.9l1-4l.3-1.2l.7-1.8l1-2.1l1-1.3l1-2.5l1-1.9l.6-.3l.4,.1l1-1.8l1-2.1l1-1.3l.5-.7l.5-.5l1-.5l1-2.7l1-1.5l1,.1l1,0l1-.2l1-2.6l1-.8l.5,.3l.5,.5l1,.5l1-.1l1-.3l1-.1l1-2.1l1-.8l1-.2l1-1.5l.7-.9l.3-.4l1-1l1-1.2l1-1.1l1-.8l1-.8l1,0l1-.3l1,2.1l.7,.2l.3,.1l1-1.8l1-2.2l1-.6l1,.9l1-.5l1-.8l1-.7l1,.1l.9-1l.1,0l1-.8l1-1.1l1,.7l1,1.2l1-.3l1,.3l1,.9l1,.2l1-.5l.2-.4l.8-1.6l1,1.2l1-.1l1-2.2l1-.2l1,.8l1-1.3l1-.4l1,.4l1-.7l1-.7l1-1l1,.4l0,0l1,.5l1-1.9l1-2l1,1.1l1,0l1-.5l1,.4l1-.9l1,1.1l1-.3l1,.3l1-1.6l1-1.5l1,.7l1,.7l1,.3l.4-.2l.6-.2l1-1.2l1,.5l1,.2l1-1.3l1-1.2l1,.5l1,1.7l1,.1l1-1.7l1-.1l1,1.2l1-.9l1,.1l1-.8l1-.6l1,1.2l1,1.2l1,1.6l1,.2l1-1.8l1-.3l1-.5l1-1.8l1-.1l1,1.4l.1-.1l.9-.8l1-.6l1-.2l1-.2l1,.2l1,1.2l1,.2l1-2l1-1.4l1,0l1-.7l1,.8l1,2.4l1,.8l1-2.4l1-2l1-.6l1-1.8l.3,.3l.7,.7l1,2.3l1-1l1-2.9l1-.5l1,1.6l1-.4l1-.8l1-.3l1-1.5l1-1l1,1.1l1-.8l1-1.2l1-.1l1,.9l1,.2l1,.7l.5,.2l.5,.1l1,.5l1-1l1-1.4l1-.9l1,1.5l1,3.4l1,1.5l1-3l1-1l1,1.3l1,.3l1-1l1-.6l1-1l1,1l1,1.9l1,.4l.8-1.3l.2-.4l1-.7l1,.7l1,.5l1-1.1l1-1.1l1,.5l1,.2l1-1.8l1-.7l1,1.3l1,.7l1-.1l1-1.3l1-1.5l1-.8l1-.9l1-.5l1,.2l1,.7l.2,.1l.8,.3l1-1.2l1-.1l1,.8l1,1.4l1-.5l1-.6l1,.4l1-.4l1-.1l1,1.4l1,.4l1,.2l1-.6l1-1.3l1-1.6l1-1.2l1,.7l1,0l1-.3l1-1.2l1-1.5l1-.2l1,1.4l1,.4l1-1.3l1,.1l1,0l1-1.8l1-.9l1,.4l1,1.6l1-.1l1-1.4l1-.6l1,1.8l1,1.5l1-.5l1-.1l.3,.1l.7,.3l1-.7l1,.7l1,.4l1-1.2l1-.4l1,.7l1,0l1-.2l1,.2l1-.4l1-1l1,.3l1,1.7l1,1.3l1-.2l1-1.2l1,.9l1,.3l1-.6l1,.5l1,.9l1,0l1-1.7l1,0l1-.1l1,.2l1,1.1l1-.7l1-1.7l1-.1l1,0l1-.5l1,1.1l1,.1l1,.1l1,.9l1,.8l1-1.2l1-.3l1,.8l1-1.5l1-1.3l1,.1l1,1.7l1,.4l1-.3l1-.5l1-.8l1-.9l1,.2l1,1.1l1,.7l1,.2l1-2l1-1.2l1,.2l1,.7l1-1l1,.8l1,.5l1-1.3l1-1.5l1-2.1l1-.2l1,.1l1,1.1l1,.2l1-.1l1,.9l1-.4l1-1.3l1-1l1-.4l1,1.7l1,1.6l1-1.4l1-.6l0,0l1-.1l1,.7l1-.3l1-1.8l1-1.5l1,1.1l1,1.4l1-.5l1-.5l1-1.6l1-1.1l1,1.5l1,.3l1-.9l1-.1l1,.2l1-.3l1,.1l1-1.2l1-1.5l1,.9l1,.4l1,.1l1,.7l1,.1l1,.8l1,.4l1-1.7l1-1.9l1,.4l1,1.1l1-.9l1-1.1l1,.4l1,.5l1,0l1-.6l1-1.3l.5-.1l.5-.1l1,.2l1-.7l1-1.2l1,.6l1,1l1,2.5l1,1.5l1-.1l1-1.3l1-1.1l1,.3l1-.3l1-.5l1-1.1l1,.1l1,1.6l1,.9l1-.3l1,1.5l1-.5l1-3.6l1-1.2l1-.4l1,0l1,0l1,.5l1,1l1-.2l1-1l1-.8l1-.2l1,.1l1,.1l1-.3l1-.6l1-.7l1,1.7l1,1l1-1.9l.5-.6l.5-.5l1,1.2l1-1.6l1-2.1l1,1.9l1,2l1,.7l1,.5l1-.6l1-1.7l1-2l1,.6l1,1.9l1,.4l1-1.1l1,.1l1,.3l1-1.8l1,0l1,2.2l1,1.2l1-.9l1-.8l1,1.4l1,1l1,1.6l1,.6l1,.6l1,.3l1-.2l1,1.1l1,.7l1-.3l1-.4l1-1.1l1,.2l1-.8l.5-.6l.5-.8l1-.2l1-.4l1-.1l1,1l1,.6l1-.8l1-.8l1-.7l1,1.4l1,1.7l1,0l1-1.1l1-1.5l1-.7l1-.2l1-.9l1,.3l1,1.2l1,.1l1,.3l1-1.6l1-.4l1-.5l1-.1l1-.4l1,.3l1,0l1-.1l1,1l1,.3l1-1.3l1,0l1-.3l1,.3l1,.2l1-2.9l1-.9l1,.2l1,1.3l1,2.7l.5,1.4l.5,1.5l1-.8l1-.1l1-.5l1-1.4l1,.7l1,.9l1-.9l1-.7l1-.9l1-1.8l1,.1l1,1.2l1-.2l1-1.3l1-.2l1,.3l1,.4l1,.6l1-.2l1-.8l1-1.3l1,.4l1,.8l1-.3l1,.8l1,0l1,.2l1,.9l1-.7l1-.6l1,.6l1,2l1,1.1l1-2.8l1,0l1,1.2l1,.5l1-1.6l0,0l1-1.2l1,1.7l1-.5l1-.7l1-.9l1-.1l1,1.3l1,1.5l1,0l1-1.1l1,.1l1-.3l1,.2l1,.5l1,.1l1-.7l1,.2l1,.6l1-.1l1,.3l1,1.4l1-.4l1,.2l1,.3l1-.6l1-1.2l1,1.7l1-1.1l1-1.4l1,1.6l1,1.7l1-1.9l1-2.4l1,.4l1,.7l1-1.6l1-.1l1,1.4l1,1.4l.3-.2l.7-.5l1-.2l1-1.3l1-.1l1,1.6l1-.5l1-1.4l1,1.4l1,.6l1-.7l1,.4l1,.2l1-.5l1-.2l1,.3l1,.3l1,0l1,.6l1,.1l1,1.1l1,.2l1,0l1,2l1,1.5l1-1.3l1-2l1,.8l1-.1l1-1l1-.3l1,1l1,1.4l1-.5l1-1.4l1-.5l1,.8l1,1.7l1,.5l1-2.1l1-.5l1-.3l1-.1l1,.8l1-.3l1-1.8l1,.5l1,2l1,.2l1-.5l1-.9l1,.1l1,.5l1-.8l1-.6l1,1.2l1,.5l1-.7l1,.9l1-.4l1-1.6l1-.1l1,.4l1,.4l1-.8l1-2.2l1-.1l1,1.8l1,.2l1-.1l1,.4l1,.1l1-1.3l1,.4l1-.1l1,1.1l1,.2l1-1.5l1,.3l0,0" fill="none" stroke="#75147C" stroke-width="2.15" stroke-linejoin="round" stroke-dasharray="11.52 2.88 1.80 2.88"/>
<path d="M168.0,459.2l2.6-34.1l.4-7.1l3-50.1l.4-6.9l2.6-19.6l1.3-9.8l1.7-4.6l3-8l.6-1.8l2.4-5.8l1.5-3.5l1.5-2.9l3-4.9l3-5.5l1.5-3.2l1.5-2.6l3-3.5l3-4.4l1.7-2.8l1.3-1.2l3-2.9l3-2.5l1.7-2l1.3-1.2l3-3.1l3-2.4l1.9-2.3l1.1-.7l3-3l3-2.1l2.2-1.9l.8-.7l3-2.1l3-2.3l3-2.4l3-2l0,0l3-3l3-2.3l3-2l3-3l3-2.5l1.4-1.2l1.6-1.3l3-1.9l3-2.4l3-1.9l3-2l3-2.1l3-1.9l3-2.6l3-2l.1,0l2.9-1.7l3-1.7l3-1.4l3-1.9l3-1.7l3-1.6l.3-.2l2.7-1.3l3-1.4l3-1.6l3-1.4l3-1.4l3-1l.5-.1l2.5-.7l3-1.2l3-1.5l3-.3l3-1.1l3-1.3l.8-.2l2.2-.3l3-1.5l3-.3l3-1l3-.8l3-1.1l2.2-.9l.8-.2l3-.2l3-.7l3-.7l3-1l3-.7l3-.5l3-.2l3-1.1l3,.1l3-.9l3-.4l3-.8l2.3-.5l.7-.4l3-.6l3,.4l3-1.3l3,0l3-1.1l3-.5l3-.3l3-.3l3-.4l3-.8l3-.8l3,.4l2-.1l1-.1l3-.8l3-.3l3-.6l3-.1l3-.6l3-.2l3-.3l3-.4l3-.3l3-.2l3-.5l3-.6l2,0l1-.4l3-.6l3,.4l3-.9l3,.2l3-.5l3-.1l3-.4l3,0l3,0l3-.3l3-.2l3-.5l3-.1l3-.2l3-.4l3-.6l3,0l3,.1l3-.3l3-.2l3-.2l3,.1l3-.7l3,.2l3-.3l2.5-.4l.5-.1l3-.2l3,0l3,.4l3-1.2l3,.8l3-.5l3-.4l3-.8l3-.3l3-.4l3,.3l3-.7l3-.1l3,0l3-.6l3,0l3-.4l3-.3l3-.3l3-.4l3,.2l3-.8l3,.3l3-1l3,.2l2.5-.3l.5,0l3-.4l3,.4l3-.4l3,0l3-.1l3-.3l3,.1l3-.8l3,.1l3-.2l3,.2l3-.5l3,.4l3-.4l3-.6l3,0l3,.2l3-.7l3-.1l3-.2l3,.2l3-.3l3-.4l3-.1l3-.2l2.3-.1l.7-.1l3,.5l3-.5l3-.1l3-.5l3,.2l3-.3l3,0l3-.4l3-.1l3,.3l3-.5l3-.4l3,.7l3-.3l3-.1l3-.2l3-.2l3-.4l3,.2l3-.2l3,.4l3,.1l3-1.2l3,.3l3-.1l2-.1" fill="none" stroke="#3A7D22" stroke-width="2.15" stroke-linejoin="round" stroke-dasharray="9.00 5.40 1.80 5.40 1.80 5.40"/>
<path d="M168.0,459.2l1.3-33.8l1.3-25.9l.4-8.6l2.1-42.6l.9-7.4l3-25.8l1.3-10.8l1.7-4.8l3-8.3l3-8.3l1.5-4.1l1.5-3l3-6.1l3-5.8l1.5-3.2l1.5-3.2l3-6.6l3-6.5l1.7-4.1l1.3-2l3-4.5l3-5.1l1.7-3l1.3-1.8l3-4.4l3-4.1l1.9-2.5l1.1-1.3l3-3.3l3-3.5l2.2-2.6l.8-.7l3-2.6l3-3.2l3-2.3l2.8-3l.2-.2l3-1.5l3-1.9l3-2.1l3-2.2l3-1.8l1.4-.9l1.6-.3l3-1.7l3-1.7l.6-.4l2.4-.9l3-1.5l3-1l3-1.8l3-1.2l3-1.2l3-.8l3-1.5l2.3-1.2l.7-.3l3-.5l3-1l3-.9l3-1.1l3-.3l3-.9l3-1l3-1.2l2.5-.6l.5,0l3-.9l3-.9l3-1.4l3-.3l3-1l3-.5l3-.7l2.6-.5l.4-.2l3-.6l3-.5l3-.6l3-.3l3-.9l3-.2l3-.6l3-.8l1.3-.3l1.7-.2l3-.4l3-.3l3-.5l3-.2l3-.9l3-.4l3-.1l3-.5l2.3-.2l.7-.2l3-1l3,.3l3-.5l3-.2l3-.5l3-.2l3-.5l1.6-.1l1.4-.3l3-.4l3,0l3,0l3-.4l3-.1l3-.7l3-.3l3,0l.3,.1l2.7-.2l3,0l3-.2l3,0l3-.5l3,.1l3-.4l3-.5l3,.1l2,.2l1-.1l3-.3l3-.7l3,.4l3-.5l3-.1l3-.4l3-.3l3,0l3-.7l3-.2l3,.1l3-.7l3-.4l3,.1l3-.1l3-.6l3,0l3-.4l3-.2l3-.4l3,0l3-.3l3,.2l3-.7l3,.1l2.5-.3l.5-.2l3,.2l3,0l3-.3l3-.1l3,0l3-.3l3-.1l3,0l3-.5l3-.1l3-.1l3-.1l3-.2l3,0l3-.6l3,.2l3-.2l3-.2l3,0l3-.1l3,.1l3-.5l3-.3l3-.2l3,.1l2.5,.1l.5,.2l3-1.2l3,.5l3,0l3,0l3-.1l3-.5l3-.4l3-.2l3,0l3-.1l3-.3l3,.7l3-1.1l3,.3l3-.4l3-.5l3-.2l3,.3l3-.7l3,.1l3,.1l3-.5l3-.4l3,.1l3-.2l2.3,.1l.7,.2l3-.4l3,0l3-.1l3,.4l3-.5l3-.2l3,.2l3-.2l3,.2l3,0l3,.4l3-.3l3,0l3-.3l3-.1l3-.2l3,.2l3-.2l3-.1l3-.1l3,.3l3-.4l3-.4l3,.4l3-.4l2,.2" fill="none" stroke="#E83323" stroke-width="2.15" stroke-linejoin="round"/>
</g>
<text x="168.0" y="490.8" font-size="26.82" text-anchor="middle" fill="#262626" textLength="56.3" lengthAdjust="spacingAndGlyphs">0.00</text>
<text x="245.9" y="490.8" font-size="26.82" text-anchor="middle" fill="#262626" textLength="56.3" lengthAdjust="spacingAndGlyphs">0.25</text>
<text x="323.8" y="490.8" font-size="26.82" text-anchor="middle" fill="#262626" textLength="56.3" lengthAdjust="spacingAndGlyphs">0.50</text>
<text x="401.6" y="490.8" font-size="26.82" text-anchor="middle" fill="#262626" textLength="56.3" lengthAdjust="spacingAndGlyphs">0.75</text>
<text x="479.5" y="490.8" font-size="26.82" text-anchor="middle" fill="#262626" textLength="56.3" lengthAdjust="spacingAndGlyphs">1.00</text>
<text x="557.4" y="490.8" font-size="26.82" text-anchor="middle" fill="#262626" textLength="56.3" lengthAdjust="spacingAndGlyphs">1.25</text>
<text x="635.2" y="490.8" font-size="26.82" text-anchor="middle" fill="#262626" textLength="56.3" lengthAdjust="spacingAndGlyphs">1.50</text>
<text x="713.1" y="490.8" font-size="26.82" text-anchor="middle" fill="#262626" textLength="56.3" lengthAdjust="spacingAndGlyphs">1.75</text>
<text x="791.0" y="490.8" font-size="26.82" text-anchor="middle" fill="#262626" textLength="56.3" lengthAdjust="spacingAndGlyphs">2.00</text>
<text x="155.0" y="468.9" font-size="26.82" text-anchor="end" fill="#262626" textLength="16.1" lengthAdjust="spacingAndGlyphs">0</text>
<text x="155.0" y="407.3" font-size="26.82" text-anchor="end" fill="#262626" textLength="64.4" lengthAdjust="spacingAndGlyphs">2500</text>
<text x="155.0" y="345.7" font-size="26.82" text-anchor="end" fill="#262626" textLength="64.4" lengthAdjust="spacingAndGlyphs">5000</text>
<text x="155.0" y="284.2" font-size="26.82" text-anchor="end" fill="#262626" textLength="64.4" lengthAdjust="spacingAndGlyphs">7500</text>
<text x="155.0" y="222.6" font-size="26.82" text-anchor="end" fill="#262626" textLength="80.5" lengthAdjust="spacingAndGlyphs">10000</text>
<text x="155.0" y="161.0" font-size="26.82" text-anchor="end" fill="#262626" textLength="80.5" lengthAdjust="spacingAndGlyphs">12500</text>
<text x="155.0" y="99.5" font-size="26.82" text-anchor="end" fill="#262626" textLength="80.5" lengthAdjust="spacingAndGlyphs">15000</text>
<text x="769.0" y="518.7" font-size="25.93" text-anchor="end" fill="#262626" textLength="53.4" lengthAdjust="spacingAndGlyphs">×10</text>
<text x="791.5" y="509.4" font-size="18.77" text-anchor="end" fill="#262626" textLength="22.5" lengthAdjust="spacingAndGlyphs">10</text>
<text x="479.5" y="529.8" font-size="38.95" text-anchor="middle" fill="#262626" textLength="189.0" lengthAdjust="spacingAndGlyphs">Env Steps</text>
<text x="479.5" y="56.7" font-size="41.51" text-anchor="middle" fill="#262626" textLength="266.5" lengthAdjust="spacingAndGlyphs">ShadowHand</text>
<text x="0" y="0" transform="translate(61.2,262.5) rotate(-90)" font-size="38.95" text-anchor="middle" fill="#262626" textLength="322.6" lengthAdjust="spacingAndGlyphs">Episode Rewards</text>
</g>
<g id="P2">
<rect x="1014" y="66" width="622" height="393" fill="#EAEAF2"/>
<clipPath id="cP2"><rect x="1014" y="66" width="622" height="393"/></clipPath>
<path d="M1014.00,66V459M1091.75,66V459M1169.50,66V459M1247.25,66V459M1325.00,66V459M1402.75,66V459M1480.50,66V459M1558.25,66V459M1636.15,66V459M1014,459.15H1636M1014,397.53H1636M1014,335.97H1636M1014,274.40H1636M1014,212.83H1636M1014,151.26H1636M1014,89.70H1636" stroke="#fff" stroke-width="1.30" fill="none" clip-path="url(#cP2)"/>
<g clip-path="url(#cP2)">
<path d="M1020.4,397.2l1.5-2.9l1.5-2.9l1.5-3.1l1.5-3.2l.4-.8l1.1-.9l1.5-.9l1.5-.6l1.5-1.1l1.5-.9l1.5-1.2l1.5-1.3l1.5-1.8l1.3-1.2l.2,0l1.5-.6l1.5-.9l1.5-.8l1.5-2.1l1.5,.2l1.5,.8l1.5-1.5l1.5-1.6l1.5-2l1.5-.9l1.5-1.3l1.5,.5l1.5,.4l1.5-1.7l1.5-1.2l1.5-2l1.4,.2l.1,.1l1.5,1.6l1.5-.1l1.5-.5l1.5-3.1l1.5-.1l1.5,.2l1.5-1.4l1.5-.3l1.5-1.9l1.5-1.6l1.5-.5l1.5,.9l1.5,1.3l1.5-1.1l1.5,.8l1.5-.2l1.5-1.6l.1-.1l1.4-1.6l1.5-.5l1.5,.2l1.5,.5l1.5-1.4l1.5-2.6l1.5,.2l1.5,.6l1.5-3.4l1.5,.4l1.5,.5l1.5-.3l1.5-.6l1.5-1.6l1.5,.7l1.5-1.6l1.5-.7l1.5-1.2l1.5-.2l1.5-.7l1.5-1l1.5-1l1.5-.9l1.5-1l1.5,.6l1.1-1.1l.4-.5l1.5-1l1.5,.8l1.5,1.7l1.5-1.5l1.5-1.5l1.5-1.8l1.5-.6l1.5,.1l1.5-1.8l1.5-.4l1.5-.7l1.5-.1l1.5-.3l1.5-1.8l1.5-.9l1.5,.7l1.5-.3l1.5-1.2l1.5-.1l1.5-.5l1.5-.6l1.5-.7l1.5-.7l1.5-.3l1.5,.2l1.5-1.5l.1-.1l1.4-.5l1.5-.5l1.5-1.1l1.5-2.6l1.5,.1l1.5,.6l1.5-2.2l1.5-.7l1.5-.2l1.5,.3l1.5-.6l1.5-.8l1.5-1.9l1.5-1.3l1.5,.5l1.5-.3l1.5-1.9l1.5-.6l1.5,.3l1.5-1.7l1.5-1.6l1.5-.3l1.5-1.1l1.5-.4l1.5-.9l.1,0l1.4-1.2l1.5-1.5l1.5-.1l1.5-.7l1.5-.2l1.5-.2l1.5-.9l1.5,0l1.5-1.5l1.5-1.2l1.5-2.4l1.5,.9l1.5,0l1.5-1.9l1.5-.5l1.5-1.4l1.5-1l1.5,.1l1.5-.2l1.5-.3l1.5-2.2l1.5-2.4l1.5,1l1.5,.9l1.5-.7l1.5-1.1l1.5-2.1l.1-.1l1.4-1.5l1.5,0l1.5-.1l1.5-.6l1.5,.2l1.5-2.6l1.5,.2l1.5,1.1l1.5-.9l1.5-2.5l1.5-.7l1.5-.4l1.5-.7l1.5-.1l1.5-.8l1.2-1.1l.3-.3l1.5-.3l1.5,0l1.5,0l1.5,.8l1.5-.6l1.5-3.2l1.5,1.3l1.5-.3l1.5-1.7l1.5-.4l1.5,3.3l1.5-.7l1.5-.9l1.5-1.2l1.5,.3l1.5-1.7l1.4-.6l.1,0l1.5,1.4l1.5,.2l1.5-1l1.5-1.4l1.5,.5l1.5-2l1.5,0l1.5,.5l1.5-1.1l1.5,1.4l1.5-.1l1.5,.1l1.5,.3l1.5-.9l1.5-1.7l1.5,.2l1.5-.1l1.5-1.5l1.5,1.2l.1,0l1.4-1.1l1.5-.2l1.5-.2l1.5-2.5l1.5-.8l1.5-.2l1.5-1l1.5-.4l1.5-.3l1.5,.4l1.5,1.3l1.5-.1l1.5-1.1l1.5-1.3l1.5-1.1l1.5-1.1l1.5-1.8l.3,0l1.2,0l1.5,.2l1.5-1.6l1.5-1.2l1.5-.6l1.5-1l1.5,.2l1.5-1.7l1.5-.5l1.5,.6l1.5-2.1l1.5-1.7l1.5,.6l1.5-.2l1.5-.9l1.5-.9l1.5,.5l.4,.5l1.1-1.3l1.5-.5l1.5,.4l1.5-.5l1.5-.4l1.5,.7l1.5-.5l1.5-1.8l1.5-.3l1.5,1.7l1.5,.8l1.5,0l1.5-1l1.5-1.3l1.5,0l1.5,0l1.5,1.4l1.5-1.6l.6-.1l.9,0l1.5-.9l1.5-.4l1.5-1.2l1.5-1.2l1.5,1.2l1.5-2.1l1.5-.1l1.5,1.8l1.5-2.5l1.5-1.3l1.5,.3l1.5-.1l1.5-.6l1.5-.2l1.5-2.1l.7-1.1l.8-1.1l1.5,0l1.5,.3l1.5,0l1.5-1.9l1.5-.1l1.5-.6l1.5-.8l1.5,.5l1.5-.6l1.5-1.9l1.5-1.9l1.5,.2l1.5,.2l1.5-.6l1.5-1.4l1.5-1l.9,.5l.6,1.1l1.5,.4l1.5-.9l1.5,.4l1.5-.9l1.5-1.7l1.5-1.1l1.5,0l1.5-.6l1.5,.8l1.5,.3l1.5,.8l1.5-1l1.5-1.2l1.5-.3l1.5,.6l1.5-1.8l1.5-.5l1.5,0l.9-.1l.6-.2l1.5,.3l1.5,.2l1.5-.2l1.5-.2l1.5,1.8l1.5-1.1l1.5-.6l1.5-.9l1.5,.4l1.5-.4l1.5-1.1l1.5,.2l1.5-1l1.5-.5l1.2-.4l.3,0l1.5,0l1.5-2.1l1.5-1.6l1.5,.9l1.5-.1l1.5-1.4l1.5-.4l1.5-.4l1.5-.5l1.5-.6l1.5-.8l1.5-.7l1.5-.9l1.5-.3l1.5-1.3l1.5-.6l1.4-.6l.1-.1l1.5-1.6l1.5-1.6l1.5,1.6l1.5,1.1l1.5-.2l1.5-.4l1.5-2.5l1.5-.5l1.5-.8l1.5,.7l1.5-.8l1.5-2.1l1.5,.4l1.5-1.1l1.5-.3l1.5-1.2l1.5,.7l1.5-.3l1.5-.8l.6-.9l.9,.2l1.5-.1l1.5-.1l1.5,.1l1.5,0l1.5,0l1.5-.6l1.5,.7l1.5,.1l1.5-1.3l1.5,.3l1.5,.5l1.5-.3l1.5-.2l1.5-.6l.2-.3l1.3-1.7l1.5,1.4l1.5-.3l1.5-.7l1.5-.3l1.5,.6l1.5-1.1l1.5-1.4l1.5,.7l1.5-.6l1.5,.7l1.5-2.6l1.5,.1l1.5,.5l1.5,2.8l1.5,1.5l1.5-2.3l.4-.2l1.1-.3l1.5-1.6l1.5,.6l1.5,0l1.5-.3l1.5-.2l1.5-.5l1.5-1.2l1.5,.2l1.5-.8l1.5-.8l1.5-1.4l1.5,.1l1.5,.9l1.5-.3l1.5-1.6l1.5,.1l1.5-.4l1.5-1.7l1.1,.1l0,64.6l-1.1,.9l-1.5,.5l-1.5,1.4l-1.5,1.3l-1.5-.2l-1.5,1.4l-1.5,.5l-1.5,.3l-1.5,1l-1.5,2.1l-1.5,.4l-1.5,1.6l-1.5,2.2l-1.5,1.9l-1.5,.6l-1.5,0l-1.5,.2l-1.5,2.4l-1.5,.5l-1.1,.2l-.4-.5l-1.5-.8l-1.5,1l-1.5,.7l-1.5-2.1l-1.5,.8l-1.5-1.2l-1.5-2l-1.5,1.9l-1.5-1.7l-1.5,1.1l-1.5,.4l-1.5-.7l-1.5,1.8l-1.5,1l-1.5-.3l-1.5,.6l-1.3-.8l-.2-.1l-1.5,.4l-1.5,.2l-1.5,.2l-1.5,1.4l-1.5,.5l-1.5,0l-1.5-2l-1.5,.2l-1.5,1.3l-1.5-.7l-1.5-.5l-1.5,2.4l-1.5-.7l-1.5,.2l-.9,.5l-.6-.1l-1.5,0l-1.5,1.1l-1.5,.3l-1.5-.1l-1.5-.1l-1.5,.1l-1.5,2.3l-1.5-.5l-1.5,.7l-1.5,.2l-1.5,.7l-1.5,1.8l-1.5,.4l-1.5,.1l-1.5-.7l-1.5,.2l-1.5-.2l-1.5,1.1l-1.5,1.1l-.1-.1l-1.4,.2l-1.5,1l-1.5,2.1l-1.5-1.9l-1.5-1.1l-1.5,1l-1.5-.1l-1.5,.4l-1.5,1l-1.5-1.1l-1.5-1.6l-1.5,1l-1.5,.8l-1.5,2.2l-1.5,.8l-1.5,.1l-1.5-.6l-.3-.1l-1.2,.4l-1.5,1.2l-1.5,2l-1.5,.4l-1.5-.7l-1.5,1.1l-1.5,.5l-1.5-.1l-1.5,.4l-1.5,0l-1.5,1.1l-1.5,1l-1.5,.1l-1.5,.1l-1.5,1l-.6,.7l-.9,.5l-1.5-.7l-1.5,.6l-1.5-.3l-1.5-.6l-1.5,.9l-1.5,2l-1.5,.5l-1.5-.3l-1.5,.5l-1.5-1l-1.5,.8l-1.5,.6l-1.5-1.5l-1.5,.5l-1.5,.3l-1.5,1.7l-1.5-.5l-1.5-.1l-.6,.2l-.9-.1l-1.5-.5l-1.5-.6l-1.5,1l-1.5-.6l-1.5,.3l-1.5,2.3l-1.5,.4l-1.5,.1l-1.5,1.3l-1.5,.5l-1.5-.4l-1.5,.6l-1.5,1.7l-1.5,1.6l-1.5,.7l-1.5-.1l-.8,.2l-.7,0l-1.5-.7l-1.5,.6l-1.5,1.3l-1.5,.2l-1.5-.5l-1.5,1.4l-1.5,2.7l-1.5-.4l-1.5,.5l-1.5,.5l-1.5,.7l-1.5,.1l-1.5-1.4l-1.5-.3l-1.5,.5l-.9,.9l-.6,.2l-1.5,.6l-1.5-1l-1.5,.5l-1.5,2.8l-1.5-.2l-1.5,.2l-1.5,.8l-1.5,1l-1.5,1l-1.5,.4l-1.5,.4l-1.5,0l-1.5-.4l-1.5,.5l-1.5-.8l-1.5,.1l-1.5,2.7l-1.1,.8l-.4-.4l-1.5,0l-1.5,.8l-1.5,1.5l-1.5-.7l-1.5-.7l-1.5-.1l-1.5-.4l-1.5-.1l-1.5,.3l-1.5,.9l-1.5,1l-1.5,.9l-1.5,0l-1.5-1.5l-1.5,1.9l-1.5,1.1l-1.2-.1l-.3,.1l-1.5,.3l-1.5-.6l-1.5,.3l-1.5,1.3l-1.5,.3l-1.5-.8l-1.5,1.2l-1.5,1.1l-1.5,1.3l-1.5-.8l-1.5,.3l-1.5,.8l-1.5,.3l-1.5-.7l-1.5-.2l-1.5,0l-1.4-.2l-.1,0l-1.5,0l-1.5,1.4l-1.5,1.2l-1.5-.5l-1.5,1.2l-1.5,.4l-1.5,.7l-1.5-.6l-1.5-.1l-1.5,.7l-1.5,1.3l-1.5,.9l-1.5-.5l-1.5,1.1l-1.5-.5l-1.5,.8l-1.5,2.6l-1.5-1.9l-1.5-.6l-.1,.1l-1.4,.7l-1.5,.4l-1.5,2l-1.5,1.6l-1.5,.1l-1.5,.2l-1.5,1.5l-1.5-.3l-1.5,1l-1.5,.6l-1.5,0l-1.5,1l-1.5-1.3l-1.5,.2l-1.5,1.5l-1.5-.5l-1.5,.1l-.3,0l-1.2,.3l-1.5,1l-1.5,.9l-1.5,.7l-1.5-.4l-1.5,1l-1.5,.4l-1.5,.5l-1.5,1.5l-1.5,0l-1.5-.2l-1.5,1.9l-1.5,.6l-1.5-.9l-1.5-1.1l-1.4,.8l-.1,.1l-1.5,2.8l-1.5,.5l-1.5-1.2l-1.5-.3l-1.5,.4l-1.5-.3l-1.5-.3l-1.5,1.9l-1.5,2.6l-1.5-.3l-1.5,.2l-1.5,.8l-1.5,.4l-1.5-.5l-1.5-.9l-1.5,1.3l-1.5,1.9l-1.5-1.5l-1.5-.2l-1.5,.7l-1.5,.3l-1.5,.5l-1.5,.3l-1.5,1.1l-1.5-1l-1.5,.4l-1.4,2.4l-.1,.1l-1.5,1.1l-1.5-2l-1.5,.2l-1.5,1.6l-1.5,1.6l-1.5,.4l-1.5,0l-1.5,.8l-1.5-.6l-1.5,1l-1.5,1.1l-1.5-.9l-1.5-1.6l-1.5,.8l-1.5,.4l-1.5,.6l-1.5,1l-1.5,2.7l-1.5-1l-1.5-.6l-1.5-.8l-1.5-1.3l-1.5,3l-1.5,1.4l-1.4-1.2l-.1,0l-1.5,.3l-1.5,1l-1.5,0l-1.5-.1l-1.5,2.7l-1.5-.1l-1.5-.1l-1.5,.3l-1.5,0l-1.5,1.3l-1.5,2.2l-1.5-.7l-1.5,1.1l-1.5,.1l-1.5-.3l-1.5-.2l-1.5,1.5l-1.5,1.3l-1.5-1.4l-1.5,0l-1.5-.5l-1.5,1.6l-1.5,.5l-1.5,.8l-1.5,.8l-1.5-1.9l-.4,.1l-1.1,1.1l-1.5-.2l-1.5-.5l-1.5,1.6l-1.5,2l-1.5,2.1l-1.5-1.1l-1.5,.7l-1.5,1.1l-1.5,1.8l-1.5,1.3l-1.5-.4l-1.5-1.5l-1.5,1.7l-1.5,0l-1.5,.4l-1.5,0l-1.5,.3l-1.5-.5l-1.5,.3l-1.5,1.5l-1.5-.4l-1.5,.1l-1.5,.5l-1.5-.3l-1.4,2l-.1,0l-1.5,.3l-1.5-.1l-1.5,1l-1.5-.2l-1.5-.4l-1.5,2.1l-1.5,1l-1.5-1.1l-1.5,.8l-1.5,.3l-1.5-.3l-1.5,.1l-1.5,1.7l-1.5-.5l-1.5-.4l-1.5,1.1l-1.5,.5l-.1,.1l-1.4,1.5l-1.5,1.7l-1.5,.4l-1.5-.4l-1.5,.4l-1.5,2.3l-1.5,.4l-1.5,.6l-1.5-.5l-1.5,.3l-1.5,1.2l-1.5-.9l-1.5,.5l-1.5,2.9l-1.5,.1l-1.5,.9l-1.5,.7l-.2,0l-1.3,.9l-1.5,2l-1.5-.5l-1.5,.9l-1.5,.6l-1.5-.1l-1.5,.6l-1.5,1.1l-1.1,.5l-.4,1.1l-1.5,3.9l-1.5,4.1l-1.5,4l-1.5,4.3Z" fill="#0000FF" fill-opacity="0.2"/>
<path d="M1016.6,381.6l1.5-3.5l1.5-3.7l1.5-3.6l1.5-3.4l1.5-3.7l1.5-3l1.2-4l.3-.2l1.5-1.7l1.5,0l1.5-2.2l1.5-1.2l1.5,.6l1.5,.2l1.5,.9l1.5-1.3l.6-1.7l.9-2.9l1.5,.9l1.5-.4l1.5-1.3l1.5-3.9l1.5-2.8l1.5,0l1.5,.7l1.5-1.4l1.5-3.4l1.5-3.3l1.5,1.1l1.5,1.2l1.5-1.2l1.5-1.7l1.5-2.5l1.5-2.2l.7-2.2l.8-.5l1.5,3.8l1.5,1.4l1.5-3.4l1.5,1l1.5-3.9l1.5,.7l1.5-1.4l1.5-2.8l1.5-1.8l1.5,.5l1.5-.9l1.5-.9l1.5,1.8l1.5-2.2l1.5-1.4l1.5-.5l.9,.1l.6,.6l1.5-1l1.5-3.1l1.5-1.9l1.5,.3l1.5-.3l1.5,.3l1.5-.9l1.5-1.6l1.5-3.2l1.5,.8l1.5,0l1.5-1.5l1.5-2l1.5-1.8l1.5,2.8l1.5-.4l1.5-3.6l1.5,.8l1.5,2.7l1.5-.3l1.5-3.6l1.5-2.3l1.5,.1l1.5,1.6l1.5-2.4l.4-.7l1.1,.3l1.5-.1l1.5-2.2l1.5-2l1.5-2l1.5-.8l1.5-.6l1.5,4.3l1.5-2.1l1.5-1.3l1.5,.2l1.5-2.5l1.5-1.8l1.5-1.2l1.5-.2l1.5,.1l1.5,2.1l1.5-1.6l1.5-3l1.5-.7l1.5-2l1.5,1l1.5,2.8l1.5,0l1.5-1.4l1.5-.6l.9-.8l.6-.4l1.5,.6l1.5-.6l1.5-3.8l1.5-2.5l1.5-1.1l1.5,1.9l1.5-1.5l1.5,1.8l1.5-3.5l1.5,.4l1.5,1.5l1.5,.7l1.5-3.6l1.5-.6l1.5,0l1.5,1.4l1.5-1.4l1.5,1.6l1.5-3.3l1.5-.7l1.5,1.6l1.5,.6l1.5-1.4l1.5-1.8l.9,.6l.6,1.5l1.5,1.1l1.5-3.3l1.5-1.7l1.5-2.8l1.5,2.2l1.5-.1l1.5-.6l1.5-1.1l1.5-2.9l1.5,.5l1.5-1.3l1.5,3.3l1.5-.8l1.5-2.3l1.5-4.3l1.5,.9l1.5,3.4l1.5-2.1l1.5,.3l1.5-.3l1.5-3l1.5,.9l1.5-.8l1.5-.7l1.5-2.4l1.5,1.4l.9-.5l.6-1l1.5-.4l1.5-2.3l1.5-.2l1.5-.2l1.5-1.6l1.5-3.4l1.5-1.6l1.5,.4l1.5,.6l1.5,.3l1.5-.7l1.5,3.3l1.5,.5l1.5,.1l1.5-2.4l.5-1.6l1-1.1l1.5-1.4l1.5-.1l1.5-1.2l1.5-.4l1.5-1.1l1.5-3.4l1.5-1.6l1.5-.2l1.5-2.1l1.5-2.2l1.5-1.4l1.5-.3l1.5,2.1l1.5,3.8l1.5-6.8l1.5-1.1l.7-1.3l.8-.7l1.5,.8l1.5,1l1.5,.1l1.5,1l1.5,0l1.5-3l1.5-.9l1.5,2.6l1.5,1.9l1.5-1.4l1.5-3.3l1.5-1.6l1.5,3.7l1.5,0l1.5-.2l1.5-1.6l1.5,1.2l1.5,1.6l.9-1.6l.6-1.4l1.5-1.8l1.5,1.9l1.5-2.2l1.5-4.5l1.5-.8l1.5,.8l1.5-.2l1.5-1.4l1.5-3.4l1.5-2.1l1.5,2.8l1.5,1.5l1.5-2.6l1.5,1.9l1.5-2.1l1.5-.2l1.1-1.7l.4-.5l1.5-1.4l1.5-2.5l1.5-.5l1.5-1.3l1.5-.8l1.5-4.3l1.5-.2l1.5,5l1.5-.8l1.5-.1l1.5,2.8l1.5-2.9l1.5,.2l1.5-.6l1.5-.2l1.5-1.2l1.2-2.4l.3-.5l1.5,.9l1.5,.1l1.5-3.6l1.5-.9l1.5-1.4l1.5-3.6l1.5,2.8l1.5-2.5l1.5-1l1.5,.6l1.5,2.2l1.5,.5l1.5-.9l1.5,.4l1.5,.3l1.5,0l1.5,.2l1.4,.1l.1,0l1.5-.2l1.5-.7l1.5-7.7l1.5,.7l1.5,3.1l1.5-.8l1.5-1.2l1.5-1.1l1.5-2l1.5,.1l1.5-3.4l1.5,0l1.5,2.7l1.5-1.5l1.5-2.2l1.5,.7l0-.1l1.5-.7l1.5-1.2l1.5-.2l1.5,1.6l1.5-.8l1.5-1.2l1.5-4.7l1.5-2.1l1.5,4.6l1.5-2.9l1.5-.9l1.5-.9l1.5,2.4l1.5-.7l1.5,.5l1.5,1.1l1.5-1.5l.2,.2l1.3,.7l1.5,.1l1.5,4.9l1.5-.7l1.5,1l1.5-.2l1.5-2.3l1.5,3.7l1.5,.4l1.5,2.5l.6,1.4l.9-1.2l1.5-4.9l1.5-2.5l1.5-1.6l1.5,2.3l1.5-1.3l1.5-2.5l1.5,.8l1.5-2.2l.2,.3l1.3,.9l1.5-3l1.5-1l1.5,2.3l1.5-1.1l1.5-1.1l1.5-2l1.5-1.1l1.5,.6l1.5-1.6l1.5-.6l1.5-1.5l1.5-1.1l1.5-2.1l1.5,3.4l.5,1.3l1-1.1l1.5-4.2l1.5,2.4l1.5,1.2l1.5-2.5l1.5-.7l1.5-1.4l1.5,1.4l1.5,0l1.5-.7l1.5,2.8l1.5-3l1.5-4.2l1.5,5.7l1.5,.3l1.5-1l1.5,1.2l.7-3.4l.8-2l1.5,.5l1.5-4.2l1.5-.1l1.5-.3l1.5-.2l1.5-2l1.5,2.4l1.5,2.9l1.5-6l1.5-.7l1.5,.8l1.5-1.6l1.5,3.1l1.5-.6l1.5-1.5l1.5-2.2l1.5-3.6l1.5-3l1.4-.3l.1,0l1.5-.4l1.5,1.2l1.5-.3l1.5-1.7l1.5,.9l1.5-1.2l.2-.5l1.3-2l1.5,2.1l1.5,3.8l1.5,.4l1.5,2.6l1.5,2.2l1.5-1l1.5-.7l1,2.9l.5-1.2l1.5-1.4l1.5,1.7l1.5,.8l1.5-.5l1.5-1.8l1.5,1.1l1.5,0l1.5,1.3l1.5-.3l1.5-.9l1.5-.6l1.5-.8l1.5-2.5l1.5-3.8l1.5,1.7l1.5-.9l1.2-3.2l.3-.7l1.5,2l1.5,.7l1.5-4l1.5,0l1.5,.7l1.5-.6l1.5-.5l1.5,.4l1.5-4.2l1.5,3.5l.1,.3l1.4,2.3l1.5-2.6l1.5-.2l1.5-3.7l1.5,2.7l1.5-1.8l1.5,1.7l1.5,2.9l1.5-1.6l.4-1.2l0,22.7l-.4-.4l-1.5-3.1l-1.5,4.4l-1.5,.5l-1.5-.4l-1.5,2.9l-1.5,4.4l-1.5,.5l-1.5-.9l-1.5,.4l-1.5-.1l-1.5,1.7l-1.5-.1l-1.5-.3l-1.5,0l-1.5-3.5l-1.5,.9l-1.5,1.3l-1.5,.5l-1.5,1.1l-.3,1.3l-1.2,4.2l-1.5-2l-1.5,1l-1.5,.6l-1.5,2.6l-1.5,4.1l-1.5,1.6l-1.5-2.1l-1.5,1.6l-1.5,.1l-1.5-1.9l-1.5,1.9l-1.5,.9l-1.5-1.6l-1.5,.8l-.9-.1l-.6,2.2l-1.5,7.6l-1.5,11.6l-1.5,3.9l-.1,0l-1.4-2.2l-1.5-.9l-1.5-.2l-1.5,3.6l-1.5-2.8l-1.5-5.8l-1.5,.3l-1.5-3.1l-1.5-3.7l-1.5-.1l-1.5,.9l-1.5-1.7l-1.5-.2l-.1,0l-1.4-3.5l-1.5-6.7l-.6-3.6l-.9-1.4l-1.5,1.3l-1.5,2.4l-1.5,3.9l-1.5-.6l-1.5-2.9l-1.5,2.7l-1.5-2l-1.5-.4l-1.5-.7l-1.5-.9l-1.5-1.6l-1.5-.3l-1.5,2.1l-1.5,3.7l-1.5-2.3l-1.5-.5l-.8,2.1l-.7,1.6l-1.5,4.1l-1.5,.2l-1.5-1.7l-1.5,5l-1.5-1.8l-1.5-2.3l-1.5-.5l-1.5,1.4l-1.5,2.2l-1.5-2l-1.5-.6l-1.5,.6l-1.5,1.7l-1.5,.9l-1.5,3.6l-1.5,2.3l-1,2.4l-.5,.7l-1.5,1l-1.5,3.2l-1.5-2.7l-1.5-1.1l-1.5,1.6l-1.5,1.8l-1.5,.7l-1.5,.3l-1.5,4.1l-1.5-1.5l-1.5-2.9l-1.5,.1l-1.5,2.9l-1.5-.5l-1.3-.1l-.2,0l-1.5-.7l-1.5,1.6l-1.5,.9l-1.5-1.3l-1.5,4.1l-1.5,.7l-1.5,.5l-1.5,1l-.9,.7l-.6-.5l-1.5-1.3l-1.5,.2l-1.5,0l-1.5,1.1l-1.5,2.5l-1.5-.5l-1.5-.7l-1.5-4.4l-1.5-.8l-1.3,1.8l-.2,.4l-1.5,2.9l-1.5-1l-1.5-1.2l-1.5-.8l-1.5,3.1l-1.5-.6l-1.5-3.2l-1.5,3.1l-1.5,1.1l-1.5,.6l-1.5,1.2l-1.5-.7l-1.5-2.6l-1.5,1.7l-1.5-1.4l-1.5,1.6l-1.5,1.2l0,0l-1.5-1.3l-1.5,1.7l-1.5,.9l-1.5,2.6l-1.5,.8l-1.5,3.5l-1.5-1.4l-1.5,1.8l-1.5,.4l-1.5,.5l-1.5,3.1l-1.5,1.4l-1.5,.7l-1.5,3l-1.5,1l-1.5,.8l-.1,.1l-1.4,1.7l-1.5-.1l-1.5-.2l-1.5,1.8l-1.5-1.8l-1.5-.2l-1.5,.4l-1.5-2.8l-1.5-.3l-1.5,3.3l-1.5,1.5l-1.5-2l-1.5-1.2l-1.5-2.1l-1.5,4.4l-1.5,1.1l-1.5,1.3l-1.5-1.3l-.3-.3l-1.2-.2l-1.5,2.5l-1.5,2.4l-1.5,1.2l-1.5,2.3l-1.5-1.8l-1.5,2.5l-1.5,.6l-1.5,.5l-1.5-.2l-1.5,1.3l-1.5-2.6l-1.5,0l-1.5,.2l-1.5,3.5l-1.5,2.8l-1.5-1.5l-.4-1l-1.1,1.4l-1.5,5.9l-1.5-1.8l-1.5-4.3l-1.5,.7l-1.5,.7l-1.5,2.6l-1.5,.6l-1.5-.6l-1.5,2.9l-1.5-.9l-1.5-.4l-1.5,2.3l-1.5-.9l-1.5-3.5l-1.5,2l-1.5,3.4l-.6,2.2l-.9,2.4l-1.5-1.8l-1.5-2.9l-1.5,.1l-1.5-.3l-1.5-.6l-1.5,1.9l-1.5,0l-1.5-.7l-1.5,1.8l-1.5,2.1l-1.5-.7l-1.5-1.1l-1.5-1.4l-1.5,.7l-1.5,5.1l-1.5,1l-1.5-.3l-1.5,2.2l-.8,.9l-.7,.3l-1.5-.1l-1.5,.8l-1.5,1.7l-1.5,.5l-1.5-1.5l-1.5,2.2l-1.5-1.2l-1.5-.7l-1.5,1.4l-1.5,2.2l-1.5,0l-1.5,1.4l-1.5-1.1l-1.5-.1l-1.5,.3l-1.5-.7l-1,0l-.5,.3l-1.5,2.4l-1.5,2.4l-1.5,.8l-1.5-1.1l-1.5-.6l-1.5-.2l-1.5,2.8l-1.5,3.2l-1.5-1.2l-1.5,.6l-1.5-.8l-1.5,1.4l-1.5,1.3l-1.5-3.4l-1.5-.1l-.6,1.9l-.9,1.9l-1.5,1.5l-1.5-.1l-1.5-.4l-1.5,1l-1.5-.2l-1.5,3.5l-1.5,1.5l-1.5-.4l-1.5,1.2l-1.5-2l-1.5-.4l-1.5,.7l-1.5,.6l-1.5,1.8l-1.5,.9l-1.5-.9l-1.5-.6l-1.5,2.9l-1.5,1.7l-1.5-1.6l-1.5-1.3l-1.5-1l-1.5,1.5l-1.5,.5l-1.5,3.1l-1.5-1.1l-.6-1.1l-.9-.3l-1.5,.5l-1.5,3.1l-1.5-1.7l-1.5,1.7l-1.5-2.9l-1.5-1.5l-1.5,1.4l-1.5,1.6l-1.5,2.5l-1.5-1.7l-1.5-1.3l-1.5-.4l-1.5,3.5l-1.5,3.5l-1.5-2.2l-1.5,2.3l-1.5,0l-1.5,.8l-1.5,2l-1.5-2.1l-1.5,.6l-1.5,1.8l-1.5,1l-1.5,.4l-.6,0l-.9,.1l-1.5,.7l-1.5,2.2l-1.5-.1l-1.5,2l-1.5-.2l-1.5-2.9l-1.5-.3l-1.5-1.4l-1.5,.3l-1.5,0l-1.5,3.7l-1.5,1.6l-1.5,3.2l-1.5-1.6l-1.5-1.1l-1.5,2.3l-1.5,3.6l-1.5,1l-1.5-1.3l-1.5-.3l-1.5,0l-1.5,3l-1.5,.9l-1.5-.5l-1.5,1.3l-1.1-1.3l-.4-1.3l-1.5-.7l-1.5,1.2l-1.5,4.7l-1.5,1.4l-1.5-1.1l-1.5,.7l-1.5,.3l-1.5,1.5l-1.5,1l-1.5,.1l-1.5-.3l-1.5-2.4l-1.5,.6l-1.5,3.4l-1.5-.7l-1.5-.4l-1.5,.1l-1.5,.7l-1.5,2.7l-1.5,2.2l-1.5-1l-1.5,1.8l-1.5,2.4l-1.5,2.8l-1.5,2.8l-.6-.7l-.9-1.8l-1.5-1.2l-1.5,4.7l-1.5,.4l-1.5-2.1l-1.5-.4l-1.5-1.3l-1.5,2.1l-1.5,.3l-1.5-1.8l-1.5,1l-1.5-2.3l-1.5,5.2l-1.5,4.9l-1.5-1.4l-1.5-.9l-1.5,3.5l-.8,1.9l-.7,1.2l-1.5-1.8l-1.5-1.2l-1.5,5.5l-1.5,1.4l-1.5,.1l-1.5,2l-1.5-1.4l-1.5-.5l-1.5,3.9l-1.5-.2l-1.5,.5l-1.5,3.1l-1.5-1.4l-1.5,0l-1.5,1l-1.5,2.9l-.9,1.1l-.6,0l-1.5,.6l-1.5,.6l-1.5-.3l-1.5,2.9l-1.5,.6l-1.5,1.1l-1.5,2.9l-1.5-.4l-.3-.2l-1.2,2.6l-1.5,6l-1.5,5.9l-1.5,5.7l-1.5,5.4l-1.5,5.5l-1.5,5.5Z" fill="#75147C" fill-opacity="0.2"/>
<path d="M1020.4,399.2l1.5-4.3l1.5-4l1.5-3.9l1.5-4.2l.4-1.1l1.1-1.6l1.5-2.5l1.5-1.7l1.5-2.5l1.5-4.8l1.5-1l1.5,1.6l1.5-2.9l1.3-2.5l.2-.5l1.5-.1l1.5,2.4l1.5-.4l1.5-3.1l1.5-1.6l1.5-1.3l1.5,.3l1.5-1.4l1.5-2.6l1.5-1.7l1.5-1.4l1.5,1.2l1.5-2l1.5-3.6l1.5-3.4l1.5-.8l1.4,1.9l.1,.1l1.5-3.4l1.5-1.3l1.5,4.4l1.5,0l1.5-2.7l1.5-2.9l1.5,1.7l1.5-.3l1.5-2.7l1.5-3.1l1.5-3.6l1.5-1.2l1.5,1.9l1.5,1.4l1.5-5.2l1.5-2.7l1.5,.9l.1-.1l1.4-2.1l1.5-.3l1.5,1.5l1.5-1.8l1.5-2.3l1.5-.2l1.5,.9l1.5-.2l1.5-.9l1.5,2l1.5-1.2l1.5-2.6l1.5-.9l1.5,1.1l1.5-1.4l1.5-.2l1.5-1l1.5-.2l1.5,1.5l1.5-2.8l1.5-1.7l1.5,2.4l1.5-3.8l1.5-3l1.5,1.2l1.1-.6l.4-1.3l1.5-2l1.5,2l1.5,.9l1.5-1.6l1.5-2.2l1.5-4.9l1.5-1.8l1.5,2.1l1.5,.3l1.5-1.4l1.5,.8l1.5-.9l1.5-.6l1.5,1.5l1.5-.7l1.5-2.4l1.5-.8l1.5,0l1.5-1.2l1.5-1.3l1.5,1.7l1.5,2.4l1.5,.7l1.5-4.8l1.5-2.7l1.5,.8l.1,.1l1.4,.8l1.5,.4l1.5-1.4l1.5-3.2l1.5-2.2l1.5-2.7l1.5,1.2l1.5,1l1.5-1.8l1.5-1.3l1.5,1.6l1.5,1.4l1.5-1.4l1.5-.4l1.5-.8l1.5,3l1.5-2.5l1.5-2.4l1.5,1.6l1.5-3.3l1.5-2.1l1.5-.7l1.5,1.4l1.5-.6l1.5-2l.1,0l1.4,.5l1.5,2l1.5-1.8l1.5,.3l1.5-2.5l1.5-1.1l1.5-.1l1.5,.2l1.5,.1l1.5,.9l1.5-.5l1.5,0l1.5-1.2l1.5,1.2l1.5-1l1.5-3.1l1.5,3.2l1.5-2.5l1.5-.5l1.5-2.8l1.5,3.4l1.5,.8l1.5-2.5l1.5,.3l1.5-2.9l1.5-2.5l1.5,.3l.1-.2l1.4-2.4l1.5,2.5l1.5-.7l1.5,1.9l1.5,.5l1.5-4l1.5-3.2l1.5-1.6l1.5,3.1l1.5,.2l1.5-2.9l1.5-3.6l1.5,.4l1.5,2l1.5,4.4l1.2-2.6l.3-1.4l1.5-3.6l1.5-.6l1.5-1.8l1.5,1l1.5,2.7l1.5-1.6l1.5-1.5l1.5-3.7l1.5,.5l1.5-2.1l1.5-2.5l1.5,1.7l1.5-1.8l1.5,.8l1.5-2.2l1.5-2.1l1.4,.4l.1,.2l1.5-2.3l1.5,1.1l1.5-.1l1.5,1.4l1.5,.5l1.5-2.8l1.5-.4l1.5,1.1l1.5-.8l1.5,2l1.5-.1l1.5-.5l1.5-4.5l1.5,1.8l1.5,2.8l1.5-.9l1.5-2.5l1.5,.8l1.5,3.1l.1-.2l1.4-6.1l1.5-.5l1.5-3.6l1.5,2.1l1.5,3l1.5-3.3l1.5-4.1l1.5,.2l1.5,.2l1.5-2.8l1.5-1.1l1.5,.2l1.5,4.4l1.5-1l1.5-6.2l1.5,2.9l1.5-2.1l.3-.7l1.2-2.2l1.5-1l1.5-.4l1.5,.3l1.5-1.8l1.5-1.8l1.5,1.6l1.5-.4l1.5-2.5l1.5,1.1l1.5-.4l1.5,.8l1.5,1.6l1.5-3.9l1.5-4.4l1.5,3l1.5,3.8l.4,1.4l1.1,3.1l1.5-2l1.5-.1l1.5-1l1.5-2.2l1.5-.7l1.5,2.9l1.5-2.7l1.5-1.1l1.5-2.2l1.5,.3l1.5-2.3l1.5,1.6l1.5,.4l1.5-4.8l1.5-1.5l1.5-2l1.5,.7l.6,1.2l.9,1.2l1.5-4.4l1.5-.1l1.5-1.8l1.5-2.1l1.5,2.4l1.5-2.7l1.5-.1l1.5-2l1.5,2.2l1.5,.8l1.5-2.1l1.5-2.9l1.5-.9l1.5-.2l1.5-1.2l.7-.6l.8-.7l1.5,.2l1.5-2.2l1.5-1l1.5,.9l1.5-.8l1.5-.2l1.5-1l1.5-.9l1.5-2.2l1.5-2.1l1.5-1.7l1.5-.2l1.5-.2l1.5,.2l1.5-1.5l1.5-1l.9-.4l.6,.9l1.5,1.8l1.5-2.9l1.5,.3l1.5,3.4l1.5-1.4l1.5-4.6l1.5-.7l1.5-.9l1.5,2.3l1.5-3.5l1.5-2.6l1.5,2.6l1.5-1.8l1.5-3l1.5-1.5l1.5,2.3l1.5-2.1l1.5-2.1l.9,1l.6,1.2l1.5-.6l1.5,.7l1.5-1.2l1.5-1.7l1.5,3l1.5,3.7l1.5-.1l1.5-.7l1.5-1.4l1.5-.3l1.5,1.7l1.5,2l1.5,3.1l1.5-1.2l1.2,1.5l.3,.3l1.5-4.1l1.5,1.5l1.5,2.6l1.5-2.3l1.5,2l1.5-2l1.5-2.6l1.5-1.2l1.5-2.8l1.5,.7l1.5,.8l1.5-1.2l1.5,1.7l1.5-2.4l1.5-3l1.5,2.3l1.4,1.7l.1,0l1.5-3.3l1.5,.9l1.5-.7l1.5-1l1.5,1.7l1.5-.4l1.5-1.6l1.5,.6l1.5-4.4l1.5-3.3l1.5,.2l1.5,0l1.5-4.7l1.5,.6l1.5-.4l1.5-.1l1.5,0l1.5,2.4l1.5-.5l.6-1.2l.9,.5l1.5,1l1.5-.8l1.5,.1l1.5-.5l1.5-4.6l1.5,.9l1.5,2.8l1.5-1.7l1.5-2.6l1.5,.6l1.5,.9l1.5-.9l1.5-1.1l1.5,.7l.2-.1l1.3,.8l1.5,3.3l1.5-1.9l1.5-1l1.5,.2l1.5,.9l1.5,1.2l1.5-.1l1.5,3.4l1.5,.7l1.5-2.4l1.5-1.5l1.5,2.5l1.5,2.4l1.5-1.4l1.5,1.6l1.5,1.6l.4,.2l1.1-1.1l1.5-1.3l1.5-2.7l1.5,.6l1.5,.6l1.5,1.6l1.5,.2l1.5-2.7l1.5-.4l1.5-1.7l1.5-1.8l1.5-.4l1.5-1.4l1.5,.3l1.5-4.3l1.5,1.5l1.5,2.1l1.5-.2l1.5-1.2l1.1,.1l0,43.5l-1.1,.5l-1.5-1.1l-1.5-2.6l-1.5-4.2l-1.5,2.3l-1.5,3.2l-1.5-3.6l-1.5,.5l-1.5,2.9l-1.5,1.7l-1.5-.2l-1.5,1.1l-1.5,.4l-1.5-3.6l-1.5-.7l-1.5-1.9l-1.5,3.4l-1.5,.5l-1.5,.3l-1.1,1l-.4,.3l-1.5,1.9l-1.5,.5l-1.5,.2l-1.5,1.6l-1.5,2.2l-1.5-.4l-1.5,.7l-1.5,.6l-1.5,2l-1.5-1.5l-1.5-4.2l-1.5,1.3l-1.5,3l-1.5,.2l-1.5,2.7l-1.5,1.3l-1.3-.8l-.2-.2l-1.5-2.8l-1.5-1.9l-1.5,1.7l-1.5-.3l-1.5,1.2l-1.5-1.4l-1.5-1.1l-1.5,5.1l-1.5,1.6l-1.5-1.2l-1.5,3.2l-1.5,.5l-1.5-2.6l-1.5-1.9l-.9,0l-.6,.7l-1.5,1.2l-1.5,1.1l-1.5,3.2l-1.5,1.1l-1.5,2.4l-1.5-2.7l-1.5-2.4l-1.5,3l-1.5-.6l-1.5,.6l-1.5,.5l-1.5-1.5l-1.5,.6l-1.5,2.1l-1.5,.7l-1.5-1.6l-1.5-1l-1.5,2.5l-1.5,2.3l-.1-.1l-1.4,.2l-1.5,2.6l-1.5-1.7l-1.5-.6l-1.5,.1l-1.5,2.1l-1.5,1.1l-1.5,1.2l-1.5,3.7l-1.5-1.4l-1.5,1.1l-1.5-1.1l-1.5,1.6l-1.5,1.6l-1.5,1.4l-1.5-.7l-1.5-.4l-.3-.3l-1.2-.4l-1.5,1.4l-1.5,.6l-1.5-.7l-1.5,1.2l-1.5-.8l-1.5-2.5l-1.5,1.2l-1.5,1.4l-1.5-1.3l-1.5,1.9l-1.5,0l-1.5,1.8l-1.5-1.6l-1.5-2.1l-.6-1.2l-.9-.3l-1.5,1.1l-1.5,1.6l-1.5,2.3l-1.5-.6l-1.5,4.3l-1.5,3.5l-1.5-1.2l-1.5-5.8l-1.5,1l-1.5,3.6l-1.5,2l-1.5,1.8l-1.5-.9l-1.5,.9l-1.5,1.4l-1.5-.1l-1.5-2.5l-1.5,1.1l-.6,0l-.9-1.1l-1.5-.6l-1.5,2.9l-1.5-.3l-1.5-2l-1.5,1.5l-1.5,.7l-1.5-.8l-1.5,2.4l-1.5-1.4l-1.5-1.1l-1.5,1.4l-1.5,2.3l-1.5,.3l-1.5,1.4l-1.5,1l-1.5,.9l-.8,.7l-.7,1l-1.5,1.1l-1.5,.1l-1.5-.4l-1.5,.1l-1.5,1.6l-1.5-1.5l-1.5-2.9l-1.5,3.3l-1.5,4.5l-1.5-1.4l-1.5-3.2l-1.5,2.8l-1.5,4.5l-1.5-.1l-1.5-2.7l-.9,.9l-.6,1.1l-1.5,.6l-1.5,.4l-1.5-1.8l-1.5,3.1l-1.5,1l-1.5-1.9l-1.5,.5l-1.5,1.5l-1.5-2.7l-1.5-1.6l-1.5,.1l-1.5,1.8l-1.5,3l-1.5-2.1l-1.5-2l-1.5,4.6l-1.5,2l-1.1-.5l-.4,.4l-1.5,2.8l-1.5,2.1l-1.5-1.6l-1.5-1l-1.5,.3l-1.5,1.9l-1.5,2.6l-1.5,.6l-1.5,.5l-1.5-1.7l-1.5,1.6l-1.5,.7l-1.5-.9l-1.5,2.9l-1.5,1.5l-1.5,1.7l-1.2,.9l-.3-.1l-1.5-.4l-1.5-3.8l-1.5-.6l-1.5,4.3l-1.5,.9l-1.5-1.1l-1.5,1.2l-1.5,1.7l-1.5,3.6l-1.5,3l-1.5-2.1l-1.5,.4l-1.5-.4l-1.5,1.5l-1.5,1.8l-1.5-.3l-1.4,2.7l-.1,.2l-1.5,.6l-1.5-2.9l-1.5-2.2l-1.5,3.2l-1.5,1.3l-1.5-2.4l-1.5,2.3l-1.5-1.8l-1.5,.6l-1.5-1.4l-1.5,.8l-1.5,3.2l-1.5,1.4l-1.5,1.1l-1.5,.2l-1.5-3.7l-1.5,.2l-1.5,4.8l-1.5-.3l-.1,0l-1.4,1.5l-1.5,1.9l-1.5-1.8l-1.5,.2l-1.5,.9l-1.5-1.6l-1.5,.4l-1.5,1.1l-1.5,.7l-1.5-.3l-1.5,1.1l-1.5,1.8l-1.5,.1l-1.5-3.2l-1.5,2.8l-1.5,3.2l-1.5-.1l-.3-.3l-1.2-1.1l-1.5,.3l-1.5,1.3l-1.5,.4l-1.5-1.4l-1.5,.6l-1.5-2.9l-1.5-2.2l-1.5,2l-1.5,2.3l-1.5,0l-1.5-.3l-1.5,1.9l-1.5-2.4l-1.5,.2l-1.4,.9l-.1-.1l-1.5-.4l-1.5,1.3l-1.5,1.7l-1.5,1l-1.5-1.3l-1.5-.8l-1.5-.5l-1.5,3.4l-1.5,.5l-1.5,2.2l-1.5,1.9l-1.5,1.9l-1.5,.6l-1.5-1.6l-1.5,1.2l-1.5-2.2l-1.5-.2l-1.5-1l-1.5-.7l-1.5,5.8l-1.5,1.5l-1.5,2.5l-1.5-2l-1.5,1.4l-1.5-.4l-1.5,1.2l-1.4,1.4l-.1,0l-1.5-.7l-1.5-1.6l-1.5-.6l-1.5,.3l-1.5-.6l-1.5,.2l-1.5,1.7l-1.5,1.9l-1.5,4.9l-1.5,3.4l-1.5-2.8l-1.5-1.3l-1.5,2.1l-1.5-.9l-1.5-2.1l-1.5-1.8l-1.5,1.8l-1.5,1.4l-1.5,3.4l-1.5,1.6l-1.5-1.1l-1.5,2.1l-1.5,3.3l-1.5,2l-1.4-1.7l-.1,0l-1.5-2.1l-1.5-1.5l-1.5,1.5l-1.5,.6l-1.5,1.4l-1.5,0l-1.5-.5l-1.5-.2l-1.5-2.6l-1.5,1.1l-1.5,1.4l-1.5,.5l-1.5,1.8l-1.5,1.9l-1.5,2l-1.5,1.1l-1.5,.4l-1.5-1.4l-1.5-.8l-1.5,2.7l-1.5,.7l-1.5-.3l-1.5,2.1l-1.5-3l-1.5-1.7l-1.5,2.8l-.4,2l-1.1,4l-1.5,1.2l-1.5-.8l-1.5-.4l-1.5-2.6l-1.5,1.9l-1.5,1.3l-1.5-2.6l-1.5-.4l-1.5,3.7l-1.5-1.7l-1.5,1.7l-1.5,2.6l-1.5,2.6l-1.5,1.3l-1.5-.9l-1.5,1.4l-1.5-2.4l-1.5-1.4l-1.5,1.4l-1.5-.7l-1.5,1.7l-1.5,2.5l-1.5,.4l-1.5-.3l-1.4-1.8l-.1,0l-1.5,1.9l-1.5-.4l-1.5,3.7l-1.5,1.4l-1.5,1.1l-1.5-1.5l-1.5,2.6l-1.5-.7l-1.5-1l-1.5,0l-1.5,1.9l-1.5,2.7l-1.5,2.5l-1.5-2.3l-1.5-1.2l-1.5-.1l-1.5,1.4l-.1,.2l-1.4,2.2l-1.5,.3l-1.5,2.6l-1.5,1.2l-1.5-1.1l-1.5,1.1l-1.5,.3l-1.5,2.3l-1.5,1.8l-1.5,.1l-1.5,2.9l-1.5,1.9l-1.5-1.5l-1.5,1.6l-1.5,2.9l-1.5,1.1l-1.5-.5l-.2,.4l-1.3,3.1l-1.5,2l-1.5,1.8l-1.5,2l-1.5,3.3l-1.5,1.6l-1.5,.8l-1.5,1.4l-1.1,1.3l-.4,1.7l-1.5,5.5l-1.5,6.4l-1.5,5.7l-1.5,5.8Z" fill="#3A7D22" fill-opacity="0.2"/>
<path d="M1016.6,387.2l1.5-3.9l1.5-3.8l1.5-3.9l1.5-3.7l1.5-3.6l1.5-3.3l1.2-3.1l.3-.4l1.5-2.2l1.5-3.1l1.5-3.7l1.5-3l1.5-2.7l1.5-2.2l1.5-1.9l1.5-3.9l.6-1l.9-.9l1.5-1.6l1.5-2.2l1.5-.3l1.5-1.2l1.5-2.1l1.5-.3l1.5,.3l1.5-1.5l1.5-1l1.5-3.8l1.5-.3l1.5-.9l1.5-1.4l1.5-3.7l1.5-.6l1.5-1.5l.7-1.9l.8-.4l1.5,.2l1.5-1.4l1.5-2.8l1.5,.3l1.5-1.1l1.5,.3l1.5,.3l1.5-2.4l1.5-1.1l1.5-1l1.5-.8l1.5-1l1.5-1.7l1.5-1.7l1.5-1.8l1.5-1l.9-.2l.6-.2l1.5-.3l1.5,.2l1.5-1.3l1.5-1.2l1.5,.4l1.5-1.6l1.5-2l1.5-.9l1.5-1.1l1.5-.5l1.5,.2l1.5-.8l1.5-1.8l1.5-.7l1.5,.7l1.5-2l1.5-2.7l1.5-1.9l1.5,.3l1.5,1.9l1.5-.8l1.5-3.3l1.5-2.7l1.5-.1l1.5-.6l.4-.6l1.1-.4l1.5-.5l1.5-1.2l1.5,1.5l1.5-4.5l1.5-1.7l1.5,1.5l1.5-1.1l1.5-1.1l1.5,.2l1.5-1.1l1.5,1.3l1.5,.5l1.5-.6l1.5-2.6l1.5-1.9l1.5,.6l1.5-1.2l1.5-1l1.5-.8l1.5,0l1.5-1.6l1.5-1.6l1.5,.3l1.5,.8l1.5-2.2l.9-.9l.6-.4l1.5-.7l1.5-.8l1.5,2.7l1.5-1l1.5-1.2l1.5,.2l1.5-1.7l1.5-1.9l1.5-1.8l1.5,1.3l1.5-1.2l1.5-1.8l1.5,.7l1.5,.7l1.5-.3l1.5-.9l1.5,.4l1.5-.8l1.5-2.9l1.5-3.4l1.5,.5l1.5,.4l1.5-1.4l1.5-2.6l.9-.2l.6-.1l1.5-1.4l1.5-.2l1.5-1.1l1.5-.5l1.5-1.7l1.5-1.9l1.5,.3l1.5,1.3l1.5-.6l1.5-2.7l1.5-.2l1.5-.1l1.5-.9l1.5-1.9l1.5-1.6l1.5-.9l1.5-.5l1.5-1.4l1.5-1.2l1.5-1l1.5,.8l1.5,.2l1.5-.2l1.5-1.6l1.5-.2l1.5-2.1l.9-1.6l.6-1.1l1.5,.7l1.5,.6l1.5-.9l1.5-2.6l1.5-1.5l1.5-1.5l1.5-1.3l1.5-2.8l1.5,0l1.5,.3l1.5-.9l1.5-1.5l1.5,.2l1.5-.9l1.5-1.8l.5-.4l1-.7l1.5-1.3l1.5-1.2l1.5,.3l1.5-1.5l1.5-1.8l1.5-1.9l1.5,.1l1.5-.6l1.5-1.9l1.5,.5l1.5-2.2l1.5-2.6l1.5-2.3l1.5,.7l1.5-1l1.5-1.4l.7-.9l.8-.3l1.5-1.5l1.5-1l1.5-.2l1.5-1.1l1.5,.7l1.5-2.1l1.5-1.4l1.5-1l1.5-2.8l1.5,0l1.5-3.2l1.5-1l1.5-1l1.5,1.1l1.5,1.3l1.5-2.4l1.5-1.2l1.5,.2l.9-.6l.6-.8l1.5-3.9l1.5,1l1.5,.1l1.5-1.6l1.5-2.3l1.5-.5l1.5-.6l1.5-1.7l1.5-.3l1.5-1.1l1.5,0l1.5-1.6l1.5-2.3l1.5-.7l1.5-1.9l1.5-1.4l1.1-.5l.4,.2l1.5,2.8l1.5-2.3l1.5-2l1.5-.9l1.5-1.3l1.5,1l1.5-.5l1.5-1.4l1.5-1.3l1.5,0l1.5-1.1l1.5-.6l1.5-.9l1.5-2.6l1.5-2.1l1.5,.2l1.2-1.1l.3-.2l1.5,.8l1.5-1.7l1.5-1.1l1.5-.5l1.5-2.5l1.5-.1l1.5,.6l1.5-1.2l1.5-.8l1.5,.6l1.5-.2l1.5-1.7l1.5-1.8l1.5-.6l1.5-1.8l1.5-1.9l1.5,2l1.4-1.7l.1-.1l1.5-1.2l1.5,1.3l1.5-3.6l1.5-.7l1.5,2.2l1.5,.5l1.5,1.2l1.5,.8l1.5-3.5l1.5-1.3l1.5,1.4l1.5-1.8l1.5,2.2l1.5-.4l1.5-3l1.5-.9l0,0l1.5-.8l1.5-.7l1.5,1.3l1.5-2.7l1.5-.6l1.5-1.6l1.5-.8l1.5,.5l1.5,.9l1.5-1.6l1.5-.8l1.5,.5l1.5-.8l1.5-3.6l1.5-1.8l1.5,.1l1.5,.7l.2-.1l1.3,.2l1.5,.6l1.5-1.1l1.5-.6l1.5,.4l1.5,.4l1.5,.9l1.5-.2l1.5,.4l1.5-1.2l1.5,0l1.5-1l1.5-.5l1.5-.3l1.5-.5l1.5-1.2l1.5,1.3l1.5,1.5l1.5-1.4l.2,.1l1.3,0l1.5-.5l1.5-1.8l1.5,.9l1.5,0l1.5-.7l1.5,.1l1.5-1.5l1.5-1.2l1.5-1.1l.3-.1l1.2,.6l1.5,1.6l1.5,1.8l1.5,1.2l1.5,1.4l1.5,1.6l1.5,1.5l1.5-1.4l1.5,.7l1.5,2.9l1.5-1.3l1.5,2.8l1.5,1.5l1.4-.4l.1-.2l1.5,.6l1.5,1.8l1.5-.8l1.5-2.9l1.5-1.1l1.5,.6l1.5,.7l1.5,.3l1.5,.1l1.5-.9l1.5,.9l1.5-.2l1.5-.9l1.5,1.1l1.5-1.1l1.5-.5l1.5,.4l0,0l1.5,0l1.5-.6l1.5,.2l1.5-1.7l1.5-.6l1.5-.2l1.5,1.3l1.5-.1l1.5-2.8l1.5-1.3l1.4,1.7l.1,0l1.5,2.2l1.5-1.1l1.5,1.3l1.5,2.7l1.5-1.2l1.5-.2l1.5-.5l1.5-.6l1.5,.7l1.5-.7l1.5,0l1.5-.2l1.5,2.7l1.5,1.2l1-1.4l.5-.7l1.5-.4l1.5,1.2l1.5,.7l1.5,.1l1.5-.7l1.5,.4l1.5-.3l1.5-1.6l1.5-.4l1.5-1.5l1.5-1.1l1.5-.2l1.5-.6l1.5,.1l1.5,0l1.5,.2l1.2-.7l.3-.4l1.5-1.3l1.5,.9l1.5,.6l1.5-2l1.5-4.5l1.5-2.3l1.5,.5l1.5,.2l.5-.4l1-.2l1.5-.6l1.5-.9l1.5,.8l1.5,.5l1.5-.8l1.5-.5l1.5,.6l1.5-2.3l1.5,.1l1.5,1.1l.4,.3l0,38.1l-.4-.4l-1.5,1.3l-1.5,.8l-1.5,1l-1.5,1.1l-1.5,.1l-1.5-1.4l-1.5-1.1l-1.5,2.2l-1.5,.3l-1.5,0l-1.5-.2l-1.5,3.2l-1.5,2.2l-1.5-2.7l-1.5-.3l-1.5,1.6l-1.5,1.9l-1.5-3l-1.5,1.1l-.3,.6l-1.2,1.2l-1.5-.3l-1.5-.5l-1.5-.4l-1.5-.8l-1.5-.1l-1.5-.6l-1.5-.3l-1.5,.9l-1.5,.7l-1.5-.2l-1.5-1l-1.5-.3l-1.5,.1l-1.5,1.3l-1.5-.1l-1.5-.1l-.5-.6l-1-.2l-1.5,.6l-1.5,.4l-1.5,.2l-1.5,0l-1.5,.5l-1.5,2.4l-1.5-.5l-1.5,.6l-1.5,2.3l-1.5-1.3l-1.5,.5l-1.5,1.6l-1.5,.3l-1.5-.3l-.1,0l-1.4-1.8l-1.5,2.2l-1.5,.7l-1.5,.1l-1.5,.9l-1.5,.5l-1.5,.4l-1.5,1.6l-1.5,.1l-1.5-1.4l-1.5-.8l-1.5-.5l-1.5,3.8l-1.5,.1l-1.5,1.3l-1.5-.7l-1.5,.9l-1.5,.2l-1.5,1.6l-.8,.6l-.7-.1l-1.5,1.3l-1.5,1l-1.5-.7l-1.5,.2l-1.5,2.4l-1.5,2.1l-1.5-2l-1.5,.7l-1.5-.8l-1.5,.1l-1.5,.7l-1.5,0l-1.5,.6l-1.5-1.4l-1.5,.8l-1.5,3.2l-1-1.4l-.5,.1l-1.5,1.5l-1.5,.4l-1.5-1.9l-1.5,2.2l-1.5,2.6l-1.5,1.1l-1.5-1l-1.5,.4l-1.5,3l-1.5,.9l-1.5-.3l-1.5,1.9l-1.5,.7l-1.5,.7l-1.3,3.1l-.2,.5l-1.5-.9l-1.5,1.4l-1.5,.9l-1.5-1.1l-1.5,.4l-1.5,1.1l-1.5-1.5l-1.5-2.3l-1.5,1.5l-1.5-1.7l-1.5,.9l-1.5-1.1l-1.5,1.1l-1.5-.2l-1.5-.5l-1.5,1l-1.5,.5l-1.5-2.3l-1.3,0l-.2-.1l-1.5-1.4l-1.5,2.3l-1.5,1.6l-1.5-1l-1.5-1.2l-1.5-.5l-1.5,.1l-1.5-.5l-1.5,.8l-1.5,.7l-1.5,2.2l-1.5,1.4l-1.5-.5l-1.5,1.1l-1.5,.6l-1.5-.6l-1.5-1.6l0-.1l-1.5,2.1l-1.5,.5l-1.5,1.4l-1.5-1l-1.5,1.5l-1.5,3.7l-1.5-.2l-1.5,2l-1.5,3.8l-1.5-1.2l-1.5,2.7l-1.5,2.4l-1.5-1.1l-1.5-.4l-1.5,1.2l-1.5,1l-.1,0l-1.4-1.1l-1.5-.6l-1.5-2.4l-1.5-3.3l-.8-1.7l-.7-.6l-1.5-.3l-1.5,1.7l-1.5,.7l-1.5,.3l-1.5,.6l-1.5,.3l-1.5,1.4l-1.5,0l-1.5,1.1l-1.5,.9l-1.5,.2l-1.5,1.5l-1.5,1.5l-.3-.3l-1.2-.3l-1.5,2.3l-1.5,1.3l-1.5,0l-1.5,.1l-1.5,1.9l-1.5,.1l-1.5,1.6l-1.5,1.4l-1.5-.1l-1.5,2.3l-1.5,1.4l-1.5,.4l-1.5,.1l-1.5,.9l-1.5,2.5l-1.5-.6l-.4-.3l-1.1,.7l-1.5,.3l-1.5,.6l-1.5,2.5l-1.5,.7l-1.5-1.4l-1.5-.3l-1.5,4l-1.5,.6l-1.5-.7l-1.5,.7l-1.5,1l-1.5-1.5l-1.5,0l-1.5,3.3l-1.5,1.9l-1.5,.4l-.6-1.1l-.9-1l-1.5,3l-1.5,.4l-1.5-.6l-1.5,2.5l-1.5-.1l-1.5,1.1l-1.5-.5l-1.5,.4l-1.5,1.2l-1.5-.2l-1.5,1l-1.5-.4l-1.5,3l-1.5,1.2l-1.5,.4l-1.5-1.2l-1.5-1.6l-1.5,1.7l-.8,.2l-.7-.4l-1.5,1.7l-1.5,.2l-1.5,1l-1.5,1.1l-1.5,1l-1.5-.6l-1.5-1.5l-1.5,.4l-1.5,1.8l-1.5,1.2l-1.5,.5l-1.5,2.1l-1.5,1.4l-1.5,1.2l-1.5,2.5l-1.5,1l-1,0l-.5,.3l-1.5,.8l-1.5-1.5l-1.5,.3l-1.5,2.6l-1.5,.3l-1.5-.2l-1.5-.4l-1.5-.3l-1.5,1.3l-1.5-.5l-1.5,.8l-1.5,.8l-1.5,.1l-1.5,1.2l-1.5,2.1l-.6,0l-.9-.3l-1.5-.1l-1.5,0l-1.5,1.9l-1.5,.2l-1.5,.7l-1.5,.2l-1.5,1.4l-1.5,1l-1.5,2l-1.5,.4l-1.5-1l-1.5,.2l-1.5,.7l-1.5,.1l-1.5,1.1l-1.5,0l-1.5,2.5l-1.5,.5l-1.5,1.6l-1.5-1.6l-1.5-.5l-1.5,1.5l-1.5,.9l-1.5,.2l-1.5,1.2l-1.5,2.4l-.6,.4l-.9,.7l-1.5,.2l-1.5-1.1l-1.5,2.7l-1.5,.3l-1.5,1.7l-1.5-.5l-1.5,.1l-1.5,1.7l-1.5-2.2l-1.5-.3l-1.5,1.8l-1.5,2.2l-1.5-1.6l-1.5,2.8l-1.5,.8l-1.5,.6l-1.5,1.5l-1.5,.1l-1.5,1.4l-1.5-2.1l-1.5,1.2l-1.5,1l-1.5,.9l-1.5,1.5l-.6-.1l-.9-.1l-1.5,1.4l-1.5,2l-1.5-1.2l-1.5,1.4l-1.5,3.5l-1.5,1.2l-1.5,.7l-1.5,1.8l-1.5,1.1l-1.5-.1l-1.5,1.2l-1.5-.4l-1.5,1.7l-1.5-.7l-1.5,.4l-1.5,1.3l-1.5,1.1l-1.5-.1l-1.5-.4l-1.5,1.8l-1.5-1l-1.5,.2l-1.5,.5l-1.5-1.1l-1.5,1.8l-1.1,1.4l-.4-.2l-1.5-.9l-1.5,1.8l-1.5,1.6l-1.5,1.8l-1.5-.3l-1.5-.8l-1.5,2.6l-1.5-.1l-1.5,.8l-1.5,1.2l-1.5-.9l-1.5-.8l-1.5,0l-1.5,1.2l-1.5,.7l-1.5,1.4l-1.5-.3l-1.5,0l-1.5,1.1l-1.5,1.1l-1.5,.3l-1.5-.4l-1.5,.9l-1.5,1.2l-1.5,2.7l-.6,.9l-.9,.4l-1.5,0l-1.5,1.7l-1.5,.9l-1.5,2.3l-1.5-.1l-1.5,0l-1.5,.6l-1.5,1.4l-1.5-.4l-1.5,2.2l-1.5,2.4l-1.5,1.1l-1.5-1.1l-1.5,2l-1.5,3.6l-1.5,.6l-.8-1.2l-.7-.8l-1.5,2.9l-1.5,2.1l-1.5-1.5l-1.5,1.6l-1.5,2.3l-1.5,.1l-1.5,1.6l-1.5-.2l-1.5,3.1l-1.5,1.6l-1.5-1.7l-1.5,2.9l-1.5,2.3l-1.5,2l-1.5,.2l-1.5,1.4l-.9,.6l-.6,1.4l-1.5,3.4l-1.5,.6l-1.5,3.2l-1.5,2.8l-1.5,1.1l-1.5,2.2l-1.5,1.8l-1.5,3l-.3,.5l-1.2,5.3l-1.5,5.9l-1.5,6.2l-1.5,6.3l-1.5,6.2l-1.5,6l-1.5,6.1Z" fill="#E83323" fill-opacity="0.2"/>
<path d="M1014.0,459.3l1.5-16.8l1.1-12l.4-2.6l1.5-9l1.5-9l.4-2.5l1.1-2.4l1.5-3.2l1.5-3.1l1.5-3.4l.8-2l.7-.7l1.5-1.1l1.5-1.1l1.5-1.3l1.5-1.1l1.5-1.4l1.5-.9l1.5-1.7l1.5-1.4l.2-.2l1.3-.2l1.5-.1l1.5-.7l1.5-.8l1.5-.6l1.5-.3l1.5-.2l1.5-.9l1.5-.8l1.5-.6l1.5-.7l1.5-.2l1.5,.2l1.5-.6l1.5-.2l1.5-.7l1.5-.3l.3-.2l1.2-.8l1.5-.4l1.5-1.8l1.5-.5l1.5-.7l1.5-.7l1.5,.1l1.5-.2l1.5-1.3l1.5-.3l1.5-.4l1.5-.3l1.5-1.1l1.5-.8l1.5,0l1.5-.6l1.5-.9l.5-.1l1-.2l1.5-1.3l1.5,.2l1.5-.6l1.5-.6l1.5-.9l1.5-.2l1.5-.4l1.5-.2l1.5-.5l1.5-1.5l1.5-1l1.5-.2l1.5-1.4l1.5,.2l1.5,.1l1.5-1l1.5-.6l1.5,0l1.5-.6l1.5-.8l1.5-.4l1.5-.7l1.5-.7l1.5-1.1l1.5-.1l0,0l1.5-.5l1.5-1l1.5,.2l1.5-.4l1.5-1.2l1.5-1.3l1.5,.3l1.5-.6l1.5-.6l1.5-.8l1.5-.7l1.5-.3l1.5-.4l1.5-.3l1.5-1.2l1.5-.9l1.5,.2l1.5-.7l1.5-.8l1.5-.4l1.5-1l1.5-.2l1.5,.2l1.5-1l1.5-1l1.5-.3l.5-.2l1-.4l1.5-.7l1.5-.2l1.5-.3l1.5-.8l1.5-.3l1.5-.5l1.5-1.1l1.5-1l1.5-.7l1.5,0l1.5-.4l1.5-.8l1.5-.2l1.5-.1l1.5-.9l1.5,.4l1.5-.7l1.5,.1l1.5-.3l1.5-1.6l1.5-.3l1.5-.6l1.5,0l1.5-.3l.5-.1l1-.2l1.5-.3l1.5-.7l1.5-.6l1.5-.9l1.5,0l1.5-.6l1.5-.7l1.5-.9l1.5-.4l1.5,.6l1.5-.7l1.5-.6l1.5-.7l1.5-1.2l1.5,.4l1.5-.3l1.5-1.1l1.5-.7l1.5-.5l1.5-.4l1.5-.4l1.5-.6l1.5-.5l1.5-.9l1.5-.3l1.5-.4l.5-.3l1-.1l1.5-.5l1.5-.8l1.5-1l1.5,0l1.5-.3l1.5-.7l1.5-.2l1.5-.7l1.5-.6l1.5-.4l1.5-.6l1.5-.8l1.5-.6l1.5-.2l1.5-.6l.1,0l1.4,.1l1.5-.8l1.5-1.2l1.5-.8l1.5-.3l1.5-.5l1.5-.2l1.5-.5l1.5,.2l1.5-1.2l1.5-.9l1.5-.2l1.5-.4l1.5-1.3l1.5-.5l1.5,.2l1.5,0l.3-.1l1.2-.4l1.5-.6l1.5-.4l1.5-.6l1.5,.1l1.5,.3l1.5-1.1l1.5-.5l1.5-.5l1.5-.2l1.5-.9l1.5,.1l1.5,.4l1.5-1.1l1.5-.3l1.5-.4l1.5-.2l1.5-.4l1.5-.8l.5-.3l1,.1l1.5,0l1.5-1.1l1.5,.4l1.5-.1l1.5,.4l1.5-.4l1.5-.5l1.5-.4l1.5-.5l1.5-1.1l1.5-.1l1.5-.1l1.5-.6l1.5-.1l1.5-1.1l1.5,.3l.7-.2l.8-.6l1.5-1l1.5,.2l1.5-1l1.5-.8l1.5-.1l1.5-.9l1.5,.1l1.5-.4l1.5-.5l1.5-.3l1.5-.5l1.5-1.2l1.5-.3l1.5-.4l1.5-1.3l1.5-.3l.8-.3l.7-.2l1.5-.5l1.5-.3l1.5,.5l1.5-.9l1.5,.1l1.5-1.2l1.5-.2l1.5-.3l1.5-.5l1.5-.5l1.5,.1l1.5-.4l1.5-.7l1.5-.4l1.5,.5l1.5-.7l1.5,0l1-.2l.5-.2l1.5-1.2l1.5-.3l1.5-.4l1.5-.2l1.5-.1l1.5-1l1.5-.7l1.5-.2l1.5-.9l1.5-.2l1.5-.6l1.5-.1l1.5-.1l1.5-.7l1.5-.1l1.1-.6l.4-.4l1.5-.5l1.5,.1l1.5-.6l1.5-.5l1.5,0l1.5-.5l1.5-.6l1.5-.6l1.5-.6l1.5-.3l1.5-.4l1.5-.7l1.5-.9l1.5-.2l1.5,0l1.5-.3l1.3-.6l.2,0l1.5,0l1.5-.9l1.5,.3l1.5-.5l1.5-.3l1.5-1.5l1.5-1l1.5,.1l1.5-.8l1.5-.4l1.5,0l1.5-.2l1.5-.9l1.5-.9l1.5-.6l1.5-.4l1.5-.9l1.5-.2l1.3-.6l.2-.1l1.5,.2l1.5-.1l1.5,0l1.5-.6l1.5,.2l1.5,.2l1.5-.4l1.5-.3l1.5-.8l1.5-.2l1.5,.1l1.5,.1l1.5-.1l1.5-.1l1.5-.2l.1,0l1.4,.4l1.5-.8l1.5-.4l1.5-.2l1.5,0l1.5-.6l1.5,.1l1.5-.4l1.5-.5l1.5,.4l1.5-.3l1.5-.6l1.5,.2l1.5-.1l1.5-.6l1.5-.4l1.5,0l.3-.1l1.2-.6l1.5-.7l1.5-.4l1.5,.1l1.5-1.1l1.5-1.8l1.5-.4l1.5-.4l1.5-1.2l1.5-.9l1.5-.1l1.5-.9l1.5-.1l1.5-.3l1.5-.1l1.5-.8l1.5-1.1l1.5-.7l1.5-1.4l1-.5l.5-.1l1.5-.4l1.5-.5l1.5-.6l1.5-.6l1.5-1l1.5-.5l1.5,.8l1.5-.1l1.5-1.1l1.5-.1l1.5-.1l1.5-.5l1.5-1.8l1.5-.5l.6-.2l.9,.4l1.5,.7l1.5,.3l1.5,.4l1.5,0l1.5,.1l1.5,.4l1.5-.2l1.4,.4l.1,0l1.5-.4l1.5-.2l1.5-.4l1.5-1l1.5,.1l1.5-1.2l1.5-.7l1.5,.2l1.5-.7l1.5,.1l1.5,.7l1.5-.4l1.5-.7l1.5,.3l1.5,0l1.5-.2l1.5-.4l.1,0l1.4-1l1.5-.5l1.5-.9l1.5-1.6l1.5-.9l1.5-.5l1.5-.3l1.5-.6l1.5-1.5l1.5-.9l1.5-1.2l0,0" fill="none" stroke="#0000FF" stroke-width="2.15" stroke-linejoin="round" stroke-dasharray="1.80 2.97"/>
<path d="M1014.0,459.2l1-24.9l1-25.3l.6-14.5l.4-2.4l1-5.3l1-5.3l1-5.6l.4-2.2l.6-.9l1-1.1l1-1.3l1-1.6l1-1.8l1-1.7l.8-1.3l.2-.1l1-.3l1,.1l1-.9l1-1l1-1.3l1-1.2l1-.6l1-.9l1-.6l1,1.1l1,.4l1-2.1l.7-1.6l.3-.8l1-2.1l1-1l1,1l1-.5l1-1.8l1-.9l1-.3l1,.8l1-.8l1-.4l1-.9l1-2.9l1,.3l1,.3l1-.9l1,0l1,0l1-2.1l1-.5l1,1.4l1-.8l1-1.6l1-1.3l1-1.7l1-1.6l.3-.3l.7-.3l1-.4l1-1.6l1-1.4l1,.7l1,.5l1-.2l1,0l1-.3l1-.4l1-1.4l1-1l1,0l1-.7l1-2l1-.8l1,.6l1-1.1l1-.8l1-.6l1,.6l1,1.2l1-1l1-3.6l1-2.8l1-.6l0,0l1,3.5l1,1.9l1-1.3l1-1.1l1-.3l1-.9l1,1l1,1l1-.3l1-1.7l1-2l1-1.1l1,.1l1,1.8l1-.7l1-2.4l1-1.3l1-.8l1-.9l1,.2l1,0l1-.9l1-2.1l1-2.3l1,.1l1-.7l1,.5l1,2.1l1-1.6l1-1.6l1-1.1l1-.3l1,.1l1-2.1l1-.1l1,.3l1,1l1-.3l.5-.9l.5-1l1-1l1,1.6l1,1l1-.8l1-1.1l1-.4l1-1.1l1,.1l1-.3l1-1.4l1-1.4l1-.5l1-1l1-.1l1,1.1l1-1l1-1.4l1-.3l1,.1l1-1.1l1-.7l1,.3l1-.6l1-1.5l1,0l1,1.5l1-.1l1,.4l1-.5l1-1.2l1,.1l1,.6l1-1.7l1-1.3l1-.4l1-.2l1-.4l1-.3l1-.6l0,0l1,.7l1-.1l1-1.1l1-.6l1,1.3l1,0l1-2.8l1-1.7l1,.1l1-.6l1-.4l1-.8l1-1.5l1-.1l1-1.5l1-1l1,1.2l1,1.1l1-1.1l.5-.4l.5-.1l1,0l1,1.2l1,.9l1,.6l1-.7l1-1.4l1-1.1l1,1.7l1,1.2l1-.3l1-.2l1,.4l1-.4l1-1.4l1,.2l1,.7l1-.5l.5-.8l.5-1.2l1-1l1,1.9l1,1.7l1,.4l1-1.8l1-1.6l1,.1l1-.7l1-1.7l1-1.8l1-.8l1,.6l1,.5l1,.1l1-.2l1,.5l1,.5l1-1.1l1-.9l1-2.1l1-1.3l1-.8l1,0l1,2l1,0l1-.1l1,.2l1-1.1l1-1.6l1-2.7l1,1l1-.3l1-1l1,.3l1-1.3l1-2.2l1-.6l1,1l1-2l1,1.3l1,2l1-1l1-1.9l1-.7l1,0l1,.4l1-.8l1-1.7l1,.2l1,1.3l1-1.4l1,.3l1,1.8l1-2.4l1-2.2l1,.2l1,.8l1-1.2l1-1.6l1-1.9l1,.7l1,1.1l1,.7l.6,.3l.4,.3l1-2.3l1-3.8l1-.2l1,1.4l1,1l1,.5l1-.8l1-3l1-.9l1,1.4l1-1.8l1-2.3l1,.4l1,.2l1-1l1,.2l1,.9l1-.9l1,.1l1,0l1,.3l1,.8l1-1.3l1,.6l1-2l.3-.3l.7-.5l1,1l1,.7l1-.8l1-1.6l1-.1l1,1.5l1-.1l1-1.5l1,.3l1-.5l1-1.6l1-1.9l1-.4l1,0l1-1.7l1,1.3l1,1.1l1-.2l1,2.5l1,.2l1-2.6l1-.6l1-.2l1-.6l1,0l1,1.3l1,.7l1-1.5l0,0l1-1.3l1-1l1-.9l1-.1l1-1.3l1-.9l1-.2l1-1.8l1-.1l1,.4l1-.7l1-1.5l1,0l1,1l1,.5l1-1l1-1.4l1-1.1l1-1.4l1-1.7l1,1.8l1,.6l1-2l1-1.3l1,.3l.7-.7l.3-.3l1-.2l1-1.7l1-1.7l1-.5l1-.5l1,.2l1,.1l1-1l1-.8l1,.2l1,0l1-.3l1,0l1-.3l1-.6l1-.4l1-.5l1,.1l1-.6l1-.9l1-1.9l1-1.8l1,.4l1,.8l1,.3l.3,.1l.7,.1l1-.2l1-2.8l1-1.4l1,.8l1,.2l1,.6l1,1.3l1,0l1-3.9l1-1.8l1-.3l1-1.2l1,.6l1,1.4l1-.9l1-.5l1-.5l.3-.6l.7-.6l1,1.3l1,1.5l1,.5l1-.2l1,1l1,1.6l1,1.2l1,0l1,.2l1-.5l1,2.3l1,1.3l.1,0l.9-2.1l1-1.1l1-.4l1-.2l1-.4l1-2l1-2l1-1.1l1-.3l1-.7l1-1.8l1-2.1l1-1.6l1-1.5l1-1.2l1-.7l1-.4l1-.5l1-2l1-1.1l.6-.6l.4,0l1,1.3l1,.7l1,.4l1-1.2l1-1.7l1-.1l1-.4l1-.6l1-.3l1,.6l1,.8l1,1.3l1,1.3l1-1.6l1-1l1-.2l1-.1l1,.2l1,.5l1,.5l1,.8l1-.4l1-1l1,.5l1,.5l.3-.2l.7-.4l1-.5l1,.2l1,.2l1-.8l1-1l1,.2l1,.2l1-1.4l1,0l1,1.1l1,1.9l1-2.1l1-2.5l1-1.6l1-1.3l1,1.3l1,2.1l1-1l1-1.4l1-.4l1-.5l1-.7l1,.5l1-.3l1-1.7l1-1.1l1-1.9l.8,.7l.2,.1l1,2.7l1,1.3l1-1.2l1-3.1l1-.8l1,.2l1,.5l1-.8l1-.9l1-.7l1-.9l1-.3l1-.9l1-.3l1-1.3l1-2l1-2.7l.5-1l.5-.3l1,1.1l1,1.5l1,.4l1,2.3l1,.1l1-.3l1,1.4l.2,.1l.8-.7l1,.2l1,.6l1,1.1l1,.1l1-.9l1-.9l1,.3l1-.8l1-.5l1-.2l1-1.1l1-1.4l1-.2l1-1l1,.3l1-.4l1-1.1l1-1l1,.5l1-.5l1-.8l1-1.8l.3-.3l.7-.6l1,.6l1-.2l1-2.1l1-.7l1,0l1-.1l1,.3l1,.9l1-.4l1-.9l1,.1l1-.8l1-2.2l1-.7l.7,.8l.3,.8l1,.7l1-2.5l1,.9l1,1.9l1,.3l1,1.2l1-.3l1-1l1,.8l1,1.1l1,.3l1,1.3l1,.7l.5,.1l.5-.6l1-.7l1-1.1l1-1l1-.7l1,.4l1-.7l1,.4l1,.4l.8-1.3l.2,.1l1-.4l1,.8l1,1.4l1,1.1l1,0l1,.9l1,3.1l1,2.9l1,2.9l1,1l0-.1l1-6l1-3.6l1-1.2l1-2.5l1-4.1l.2-.8l.8-1.8l1-1l1,1.2l1-1.5l1-.9l1-1.3l1-1.4l1,.4l1-.3l1-2.3l1-1.4l1-.4l1-.7l1-.3l1-1.4l1-.3l1,0l1-.6l1,1.7l1,2.4l1,1.1l1,1.4l1,2.4l.3,.4l.7,.3l1-.3l1-1.1l1-1.1l1-.4l1-.3l1-1.4l1,.4l1,1.7l1,.2l1-1.7l1-1.2l1,.2l1-.8l1-.6l1,.2l1,1.9l1-.6l1-3.1l1-1.3l1,1l1,1.1l1,0l1-1.9l1-1.5l1,.6l1-.6l1-1.6l1,0l.5,0" fill="none" stroke="#75147C" stroke-width="2.15" stroke-linejoin="round" stroke-dasharray="11.52 2.88 1.80 2.88"/>
<path d="M1014.0,459.4l1.5-12.4l1.1-8.8l.4-2.9l1.5-10.1l1.5-9.9l.4-2.8l1.1-3.4l1.5-4.8l1.5-4.7l1.5-5.2l.8-2.8l.7-.7l1.5-1.6l1.5-1.6l1.5-1.8l1.5-2l1.5-1.3l1.5-1.2l1.5-1.3l1.5-1.8l.2,0l1.3-.8l1.5-1.6l1.5-1l1.5-2.4l1.5-1.1l1.5-.8l1.5-1.5l1.5-1.5l1.5-1.9l1.5-2l1.5-1.1l1.5-1.3l1.5-1.2l1.5-1.4l1.5-1.6l1.5-1.8l1.5-1.8l.3,0l1.2,.1l1.5-.8l1.5-.9l1.5-.7l1.5-1.3l1.5-1.1l1.5-.7l1.5-.8l1.5-1l1.5-1l1.5-.2l1.5-1.1l1.5-.8l1.5-.1l1.5-.5l1.5-.5l1.5-1.3l.5-.5l1-.9l1.5,0l1.5-.2l1.5-1.2l1.5-1.3l1.5,0l1.5-.1l1.5-.4l1.5-.5l1.5,0l1.5-.6l1.5-1.4l1.5-1.2l1.5-.5l1.5-.6l1.5-.4l1.5-.7l1.5-.8l1.5-.3l1.5-.2l1.5-.9l1.5,.2l1.5-1.1l1.5-.9l1.5-.3l1.5-.3l0,0l1.5-.4l1.5-1.3l1.5-.1l1.5-.7l1.5-.4l1.5,.1l1.5-.9l1.5-1l1.5-.1l1.5,.3l1.5-.2l1.5-1l1.5-1.6l1.5-.5l1.5-.6l1.5-.7l1.5-.7l1.5-.1l1.5-.1l1.5,.1l1.5-.4l1.5-.8l1.5-.7l1.5-.7l1.5-.5l1.5-1.1l.5-.7l1-.5l1.5,.3l1.5,.2l1.5,.1l1.5,.2l1.5-1.2l1.5-.2l1.5-1.1l1.5-1.2l1.5,0l1.5,.1l1.5-1l1.5-.7l1.5-.4l1.5,0l1.5,.2l1.5,.4l1.5-1.5l1.5,.2l1.5-.3l1.5-.7l1.5-.1l1.5-.3l1.5-1l1.5-.8l.5-.2l1-.3l1.5,0l1.5-1l1.5-.7l1.5-.5l1.5-.5l1.5-1.7l1.5-1.1l1.5-.1l1.5-1.4l1.5-.8l1.5,0l1.5-1l1.5-.8l1.5,.1l1.5-1.6l1.5,.1l1.5-.2l1.5-.4l1.5-.2l1.5-1.4l1.5-1.4l1.5-.2l1.5-.6l1.5,0l1.5-.8l1.5-.4l.5,.1l1,.2l1.5-1.4l1.5-.7l1.5,.1l1.5-.7l1.5-.9l1.5-1.2l1.5-.6l1.5-.7l1.5-.3l1.5-.6l1.5-.9l1.5-1.1l1.5-.3l1.5-.7l1.5-1.3l.1-.1l1.4-1l1.5-.6l1.5,.4l1.5-.5l1.5-.3l1.5-1l1.5-.3l1.5-.7l1.5-.9l1.5-.4l1.5-.1l1.5-.3l1.5-1.3l1.5-1.1l1.5-.3l1.5-.1l1.5-.3l.3-.1l1.2-.5l1.5-.8l1.5-.5l1.5,0l1.5-.6l1.5,.1l1.5-.7l1.5-.6l1.5-1.1l1.5-.5l1.5-1.2l1.5-.7l1.5,.2l1.5,.1l1.5-.9l1.5-.8l1.5-.6l1.5,.3l1.5,0l.5-.3l1-1.2l1.5-.9l1.5-.1l1.5,0l1.5-1.6l1.5-1.3l1.5-.9l1.5-1l1.5,.2l1.5-.7l1.5-.6l1.5-.5l1.5-.9l1.5-.1l1.5-.2l1.5-1.8l1.5-1l.7-.4l.8-.2l1.5-.5l1.5-1.1l1.5-.4l1.5-.4l1.5-.1l1.5-1l1.5-.3l1.5-.8l1.5-.4l1.5-.6l1.5-.5l1.5-.4l1.5-.7l1.5,.4l1.5-.3l1.5-.9l.8,0l.7,.3l1.5-.4l1.5-1.1l1.5-.7l1.5-.5l1.5,.3l1.5-.1l1.5-.2l1.5-.9l1.5-.6l1.5-.8l1.5-.2l1.5-.6l1.5-1.2l1.5-.2l1.5-.7l1.5-1l1.5-.6l1-.1l.5-.1l1.5-.8l1.5,.1l1.5-.3l1.5-.3l1.5-.8l1.5-.5l1.5-1.1l1.5-1l1.5-.5l1.5-.4l1.5-1.2l1.5-.7l1.5-.6l1.5-1.2l1.5-1.1l1.1-.3l.4-.1l1.5-.3l1.5-.3l1.5,.1l1.5,.4l1.5-.4l1.5-.7l1.5,0l1.5,.5l1.5-.8l1.5-.1l1.5-.7l1.5,.4l1.5-.4l1.5-.6l1.5-.4l1.5,0l1.3-.7l.2-.3l1.5-1.7l1.5,.1l1.5,0l1.5-.2l1.5,.2l1.5-.8l1.5-.2l1.5-.6l1.5-.5l1.5-.3l1.5-.3l1.5,0l1.5-.8l1.5,.1l1.5,.2l1.5-.3l1.5-.7l1.5-.7l1.3,0l.2,0l1.5-1l1.5-.8l1.5-.6l1.5-.3l1.5-.6l1.5-1l1.5,.1l1.5,.8l1.5-1.4l1.5-1l1.5,.1l1.5-.7l1.5,.1l1.5-.2l1.5-.7l.1-.1l1.4-.7l1.5-.4l1.5-.7l1.5,0l1.5-.7l1.5-1.6l1.5,.5l1.5-.4l1.5-1.1l1.5,.1l1.5-.4l1.5-.9l1.5-.1l1.5-.3l1.5-1.5l1.5,.1l1.5-.4l.3,0l1.2,.1l1.5-.5l1.5,.3l1.5-1.2l1.5-.2l1.5,.1l1.5-.2l1.5-.1l1.5-.5l1.5-.4l1.5-.6l1.5-.6l1.5-.2l1.5-1.7l1.5-.9l1.5,.1l1.5,.1l1.5,.2l1.5-1.4l1-.3l.5,0l1.5-.3l1.5,.2l1.5-.3l1.5-.9l1.5-.3l1.5-1l1.5-.7l1.5-.2l1.5,.1l1.5,0l1.5-.2l1.5-1.9l1.5,.2l1.5-.3l.6-.2l.9-.1l1.5-.9l1.5,.8l1.5,.9l1.5-.3l1.5-.3l1.5,.2l1.5-.6l1.5,.4l1.5,.4l1.5,.3l1.5,0l1.5-.3l1.5,0l1.5-.2l1.5-.2l1.5,.1l.8-.1l.7-.2l1.5-.3l1.5-1l1.5,0l1.5-.9l1.5,0l1.5-.2l1.5-.3l1.5-.7l1.5-.7l1.5,.5l1.5-.2l1.5-.5l1.5-.5l1.5-1.2l1.5-.1l1.5-.3l1.5-1.1l1.5,.5l1.5-.9l0,0" fill="none" stroke="#3A7D22" stroke-width="2.15" stroke-linejoin="round" stroke-dasharray="9.00 5.40 1.80 5.40 1.80 5.40"/>
<path d="M1014.0,459.0l1-23.1l1-23.3l.6-13.2l.4-2.3l1-5.3l1-5.4l1-5.2l.4-2.2l.6-1.2l1-1.9l1-1.7l1-2l1-2.2l1-1.9l.8-1.7l.2-.3l1-1.9l1-1.9l1-1.2l1-.8l1-1.6l1-1.5l1-1.5l1-2.1l1-2.1l1-2.7l1-2l1-1.5l.7-.5l.3,0l1-.7l1-1.2l1-.3l1,.4l1-1.4l1-1.8l1-1.8l1-1l1-.6l1-1.1l1-1.1l1-1.4l.5-.7l.5-.6l1-.1l1-.4l1-.6l1-.4l1-.7l1-1.5l1-.8l1-.4l1-1.1l1-.7l1-1.3l1-1.3l.3-.3l.7-.5l1,.1l1,.6l1-.7l1-1.5l1-.9l1-.8l1-1.6l1-.8l1-.9l1-1.2l1-.5l1-.3l1-.4l1-1l1-1.1l1,0l1-.3l1-.3l1-.5l1-.6l1-.6l1-1.6l1-.4l1,.1l1-.2l0,0l1-.7l1-.4l1,0l1-.1l1-1.5l1-1.2l1-.2l1,.2l1-.7l1-2l1-.2l1,.7l1-.8l1-1l1-.6l1-.6l1-.4l1,0l1-.2l1-.3l1-1.4l1-.1l1,0l1-.1l1-1.1l1-.1l1,.1l1-1.1l1-1.4l1-.5l1,.1l1,0l1-.8l1-.9l1-1l1,.1l1,.1l1-.9l.5-.4l.5-.5l1-.1l1,.2l1-.5l1-1.1l1-1.4l1-.8l1,.4l1-.5l1-.3l1-.9l1-1.4l1-.8l1-.5l1-1.8l1-.6l1,.9l1-.7l1-.3l1,.3l1-.5l1-1.8l1-.5l1-.1l1-.9l1-.7l1-.4l1-.8l1,.1l1-.4l1-.7l1-.7l1,0l1,.2l1-.3l1-.3l1-.7l1-1l1-.5l1-.3l0,0l1-.1l1-.1l1-.6l1,0l1-1l1-.9l1-.3l1-.2l1,.8l1,.2l1-.6l1-.6l1-1.5l1-1.8l1-.3l1-.4l1-.2l1-.7l1-.9l1-.4l1,.4l1-.2l1-1.1l1-.2l1-.3l1-.7l1-.4l1,.3l1-.3l1-.8l1-.7l1-.9l1-1.1l1-.5l1-.6l1-.5l1,.6l.5,.3l.5,.3l1-.6l1-1.7l1-1.1l1-.4l1,.2l1-.2l1-.5l1-1.1l1-.6l1-.5l1-.4l1-1.1l1-1l1,.2l1-.4l1-.8l1-1l1-.8l1-.1l1,.3l1-.3l1-1.2l1-.9l1-.2l1-.9l1-.7l1-.3l1-.6l1-1l1-.2l1-.3l1-.2l1-.2l1-1.3l1-.3l1,0l1-.2l1-.6l1-1.7l1-.5l1-.5l1-.5l1,.2l1,.3l1,.1l1-.1l1-1.3l1-.2l1,0l1-.4l1-.5l1-.6l1-.5l1-.8l1-.9l1-.7l1-.1l1,0l1-.5l1-.3l1-.6l1-.2l1-.3l.6-.7l.4-.6l1-.4l1,0l1-.6l1-.6l1-.6l1-1.2l1-.4l1-.3l1-1.3l1-.4l1-.2l1-.7l1-.9l1-1l1-.4l1-.5l1-.5l1-.3l1,0l1-.5l1-.6l1-1.2l1-1.2l1-.7l1-.9l.3-.5l.7-1.3l1-1.4l1-.2l1,.4l1-.6l1-.6l1-.2l1-.3l1-1.1l1-.9l1-.1l1,.1l1-.4l1-.1l1-.3l1-1.1l1-1.1l1-.7l1-.3l1-.4l1-.3l1-.8l1-.3l1-.4l1-.5l1-1.1l1-.3l1-.6l1-1.2l0,0l1-.3l1-.8l1-1.1l1-.6l1,0l1-.5l1-.3l1-.7l1-1.3l1,1l1,.5l1-1.4l1-1.1l1-.3l1,.3l1-.3l1-2.5l1-1.9l1,.4l1-.2l1-.9l1-1.2l1-1.2l1,0l1-.3l.7-.3l.3-.1l1-.8l1-.9l1-.3l1,.8l1-.3l1-.2l1,.1l1-.8l1-1.4l1-1.1l1,.6l1-.4l1-1.7l1-.8l1,.2l1-.2l1-.5l1-1.4l1-.4l1-.1l1-1l1-1.5l1-.9l1,.5l1,.4l.3-.4l.7-.8l1-.5l1,.3l1,0l1-.4l1-1.1l1-.5l1,.3l1-.5l1-.7l1-.7l1-.5l1-.3l1-.2l1-.3l1-.2l1,.1l1,.4l1-.1l1-1l1-.3l1-1.3l1-1.6l1-.2l1-.3l1,.2l1-.3l.5,.1l.5,.2l1-.4l1-1.4l1-.6l1,.2l1-.7l1-.1l1,.1l1-.4l1,.1l1,.1l1-.8l1-.8l1-1.4l1-.9l1,.7l1,.6l1,0l1-.4l1-.5l1-.2l1,0l1-.6l1-.2l.6,.3l.4,.1l1-.1l1-.5l1-.9l1-.7l1-.7l1-.1l1,.5l1-.1l1-1.2l1-.8l1-1.1l1-.9l1-.1l1-.1l1-.5l1-.5l1,.1l1-.1l1-.9l1-.4l1-.2l1-.3l1-.6l1-.7l1-1.4l.3-.4l.7-.7l1-.3l1,.1l1-.2l1,.1l1,.3l1,.1l1,.1l1,.6l1,.3l1-1l1-.5l1,.3l1,.9l1-.1l1-.8l1-.1l1-.3l1,.3l1,.1l1-.6l1-.6l1,.6l1,.7l1,.3l1-.4l1-.5l1-.1l.8,.5l.2,.1l1,.2l1-.2l1-.5l1-1.1l1-.8l1,.5l1,.7l1-.4l1-.7l1,.5l1-.1l1-1.1l1-1l1,.2l1,.4l1-.2l1-1.3l.5-.3l.5,.1l1,1l1,.5l1-.2l1-.6l1,.1l1,.8l1,.8l1,.2l1-.5l1,.1l1,1.3l1,.3l1,.3l1,.4l1-.4l1,.4l1,.5l.5,.2l.5,0l1-.4l1-.6l1-1.1l1-.4l1,0l1,.6l1,0l1-.8l1-.5l1-.7l1-.2l1,.3l1-.2l1,.4l1-.3l1-1.5l1-.5l1-.3l1-.8l1-.9l1,.2l1-.1l1,.1l1,.1l1-.2l.1-.1l.9-.5l1-.5l1-.8l1-.9l1,0l1,0l1-.1l1,.1l1,.1l1,.3l1-.3l1-1.4l1-.3l1-.1l1-.3l1-.6l.5-.5l.5-.3l1,.7l1-.2l1-.6l1,.9l1,1l1,0l1,.6l1,0l1-1.2l1-.6l1,.4l1,.6l1-.1l1-1l1-.6l1,.1l1-1l1,.1l1,.5l1,.1l1-.3l.6,.2l.4,0l1,.3l1-.5l1-.3l1,.4l1-.3l1-.8l1,.3l1,.8l1-.5l1-.5l1-.5l1-.3l1-.2l1-.1l1,.5l1,.2l1-.6l1-.9l1-.9l1-.3l1,.9l1-.4l1-.8l1,.2l1,.7l.3,0l.7-.1l1-.1l1-.2l1-.3l1-1.2l1-1.2l1,.5l1-.2l1,.3l1-.8l1-1l1-.6l1-.1l1,.2l1-.4l1-1.3l1-.3l1,.9l1-.5l1-.8l1,.4l1,.1l1-.7l.4-.4l.6,.1l1-.6l1-.1l1,1.5l1,1.2l1,1.2l.5,.1" fill="none" stroke="#E83323" stroke-width="2.15" stroke-linejoin="round"/>
</g>
<text x="1014.0" y="490.8" font-size="26.82" text-anchor="middle" fill="#262626" textLength="56.3" lengthAdjust="spacingAndGlyphs">0.00</text>
<text x="1091.8" y="490.8" font-size="26.82" text-anchor="middle" fill="#262626" textLength="56.3" lengthAdjust="spacingAndGlyphs">0.25</text>
<text x="1169.5" y="490.8" font-size="26.82" text-anchor="middle" fill="#262626" textLength="56.3" lengthAdjust="spacingAndGlyphs">0.50</text>
<text x="1247.2" y="490.8" font-size="26.82" text-anchor="middle" fill="#262626" textLength="56.3" lengthAdjust="spacingAndGlyphs">0.75</text>
<text x="1325.0" y="490.8" font-size="26.82" text-anchor="middle" fill="#262626" textLength="56.3" lengthAdjust="spacingAndGlyphs">1.00</text>
<text x="1402.8" y="490.8" font-size="26.82" text-anchor="middle" fill="#262626" textLength="56.3" lengthAdjust="spacingAndGlyphs">1.25</text>
<text x="1480.5" y="490.8" font-size="26.82" text-anchor="middle" fill="#262626" textLength="56.3" lengthAdjust="spacingAndGlyphs">1.50</text>
<text x="1558.2" y="490.8" font-size="26.82" text-anchor="middle" fill="#262626" textLength="56.3" lengthAdjust="spacingAndGlyphs">1.75</text>
<text x="1636.0" y="490.8" font-size="26.82" text-anchor="middle" fill="#262626" textLength="56.3" lengthAdjust="spacingAndGlyphs">2.00</text>
<text x="1001.0" y="468.9" font-size="26.82" text-anchor="end" fill="#262626" textLength="16.1" lengthAdjust="spacingAndGlyphs">0</text>
<text x="1001.0" y="407.3" font-size="26.82" text-anchor="end" fill="#262626" textLength="64.4" lengthAdjust="spacingAndGlyphs">2500</text>
<text x="1001.0" y="345.7" font-size="26.82" text-anchor="end" fill="#262626" textLength="64.4" lengthAdjust="spacingAndGlyphs">5000</text>
<text x="1001.0" y="284.2" font-size="26.82" text-anchor="end" fill="#262626" textLength="64.4" lengthAdjust="spacingAndGlyphs">7500</text>
<text x="1001.0" y="222.6" font-size="26.82" text-anchor="end" fill="#262626" textLength="80.5" lengthAdjust="spacingAndGlyphs">10000</text>
<text x="1001.0" y="161.0" font-size="26.82" text-anchor="end" fill="#262626" textLength="80.5" lengthAdjust="spacingAndGlyphs">12500</text>
<text x="1001.0" y="99.5" font-size="26.82" text-anchor="end" fill="#262626" textLength="80.5" lengthAdjust="spacingAndGlyphs">15000</text>
<text x="1614.0" y="518.7" font-size="25.93" text-anchor="end" fill="#262626" textLength="53.4" lengthAdjust="spacingAndGlyphs">×10</text>
<text x="1636.5" y="509.4" font-size="18.77" text-anchor="end" fill="#262626" textLength="22.5" lengthAdjust="spacingAndGlyphs">10</text>
<text x="1325.0" y="529.8" font-size="38.95" text-anchor="middle" fill="#262626" textLength="189.0" lengthAdjust="spacingAndGlyphs">Env Steps</text>
<text x="1325.0" y="56.7" font-size="41.51" text-anchor="middle" fill="#262626" textLength="248.0" lengthAdjust="spacingAndGlyphs">AllegroHand</text>
<text x="0" y="0" transform="translate(907.2,262.5) rotate(-90)" font-size="38.95" text-anchor="middle" fill="#262626" textLength="322.6" lengthAdjust="spacingAndGlyphs">Episode Rewards</text>
</g>
<g id="P3">
<rect x="1811" y="70" width="671" height="389" fill="#EAEAF2"/>
<clipPath id="cP3"><rect x="1811" y="70" width="671" height="389"/></clipPath>
<path d="M1811.00,70V459M1894.88,70V459M1978.75,70V459M2062.62,70V459M2146.50,70V459M2230.38,70V459M2314.25,70V459M2398.12,70V459M2482.15,70V459M1811,459.15H2482M1811,361.75H2482M1811,264.50H2482M1811,167.25H2482" stroke="#fff" stroke-width="1.30" fill="none" clip-path="url(#cP3)"/>
<g clip-path="url(#cP3)">
<path d="M1817.3,458.9l1.4-23.1l1.6-23.3l.8-12.6l.6-9.1l1.6-19.7l1.4-20.2l.2-1.6l1.4-13l1.4-14.4l1-9.1l.6,1.2l1.4,4.5l1.6,4.4l.2,.5l1.2,28.2l1.3,29.9l.3,.3l1.4,.3l1.6-1.4l1.4-.7l.4-.1l1.2,3.3l1.4,4.9l1.6,4.9l1.4,4.3l1.6,4.2l1.4,5.1l.3,.9l1.3-.9l1.4-1.4l1.6-2.6l1.4-2l1.6,.3l.3-.1l1.1,3.4l1.6,3.3l1.4,3.9l1.6,5.2l1.4,3.2l1.6,4.4l.2,.9l1.2,.9l1.6,.9l1.4-.4l1.6,0l1.4-1l1.6-.4l.1,.1l1.3-.7l1.6-1.7l1.4-2.8l1.6-2.2l1.4-.9l1.6-2.6l1.2-2l.2-.2l1.6-1l1.4,.3l1.6,.3l1.4,0l1.6-1l1.4-.8l1.6-1.4l1.4-.1l1.6,.4l1.4-1.5l.1,0l1.5,.3l1.4,1l1.6,1.8l1.4,.6l1.6,1.2l1.4,1.2l0,.3l1.6,5.1l1.4,2.3l1.6,3.6l1.4,3.8l1.6,5.3l0,.1l1.4-1.6l1.6-2.6l1.4-1.8l1.6-1l1.4-2.6l1.6-1.1l1.4-1.2l1.6-1.3l1.4-1.6l.6-.8l1,.2l1.4,.8l1.6,1.4l1.4,.5l1.6,1.2l.6,.6l.8-.5l1.6-1.2l1.4-1.7l1.6-.7l1.4-1.7l1.6-2.7l1.4-1.6l1.6-2.1l1.4,.1l1.6,.6l.8-1.1l.6-.2l1.6,.5l1.4,.3l1.6,1.3l1.4,.7l1.6,.3l1.4-.2l.6-.2l1,.5l1.4,1.8l1.6,1.9l1.4,.8l1.6,.6l1.4,1.4l1.6,1.6l1.4,1.4l1.3-.5l.3,0l1.4,3.3l1.6,3l1.4,2.5l1.6,2.9l1.4,2.2l1.6,3.3l1.4,2.8l1.6,1l.4,.4l1-.7l1.6-.6l1.4-1.9l1.6-1.4l1.4-.5l1.6-1.8l1.4-1.4l1.6-2.6l1-2.2l.4-.4l1.6-.5l1.4,.3l1.6-1.4l1.4-1.2l1.6-.8l1.4,.6l1.6,1l1.4-.4l.4-.3l1.2,0l1.4,1.5l1.6,2.1l1.4,.3l1.6,1.5l1.4,2.8l1.6-.6l1.4,.9l1,2l.6,.3l1.4,.1l1.6,0l1.4-.4l1.6-.3l1.4-.3l1.6-1.1l1.4,.3l1.6-.2l.1,0l1.3,0l1.6,.2l1.4-1.6l1.6,1.3l1.4,1.2l1.6-.6l1.4-.2l1.6,1l1.4,.4l1.6,.7l1.4-1.1l1.6-.9l1.4-1.2l1.6,.2l1.4,.3l1.6,1.1l1.4-.9l.1-.1l1.5,.1l1.4,.6l1.6-.2l1.4,1.1l1.6,1.1l1.4-1.1l1.6,1.1l1.4,1.1l.8,.3l.8-.3l1.4-.4l1.6,1l1.4,1.6l1.6,.9l1.4,.5l1.6,1.7l1.4-.5l1.6,.8l1.4,1.3l1.6,1.4l1.4,.4l.6-.4l1-.7l1.4,0l1.6,.5l1.4,0l1.6,.5l1.4-.4l1.6-.4l1.4,.6l1.6,.7l1.4,.8l1.6,0l1.4-.6l1.6-.2l1.3,.9l.1,.1l1.6-.4l1.4,0l1.6,.6l1.4-.5l1.6-.3l1.4,.9l1.6,.7l1.4-.2l1.6-1l1.4,0l1.6,1.6l1.4-.4l1.6-1.5l1.4,.6l1.6-.1l1.4,.3l1.6-.1l1.4-1.2l1.6,.2l1.4,0l1.6,.5l1.4,.2l1.6-1l1.4-.6l1.6,.9l1.4,.4l1.6,.2l1.4-.2l1.6-.1l1.4-.6l1.6,.6l1.4-.3l0,0l1.6-1.1l1.4,0l1.6-.6l1.4-.3l1.6-.8l1.4,.1l1.6,.3l1.4,.5l1.6-.5l1.4,.2l.2-.1l1.4-1.8l1.4,.4l1.6,.9l1.4,.4l1.6-2.1l1.4,1l1.6,.3l1.4-.1l1.6-.4l1.4-.4l1.6,.1l1.4,.6l0,0l1.6-.2l1.4-1.2l1.6-.8l1.4,.8l1.6,1.3l1.4-1.5l1.6,.1l1.4,1l1.6,.1l1.4-.9l1.6-.3l1.4-.4l1.6-.3l1.4,1.4l1.6,.2l.2-.3l1.2-1l1.6-1l1.4,1l1.6-.2l1.4,.4l1.6-1.2l1.4-.7l1.6,1.2l1.4,.4l1.6-.9l.5,0l.9-.6l1.6-1.1l1.4-.3l1.6-.2l1.4-1.4l1.6,.1l1.4-.1l1.6-.4l1.4-.1l1.6-1.2l1.4-.8l1.6-.1l.2,0l1.2-.6l1.6-1.1l1.4-.3l1.6-1.1l1.4-.4l1.6,.5l1.4-1.3l1.6-.8l1.4-.2l1.6,.2l1.4-.5l1.6-1.6l1.4-1.6l1.2-.7l.4-.1l1.4,.3l1.6-.5l1.4-.7l1.6-.1l1.4,.4l1.6,.2l1.4-.2l1.6,.1l1.4,.4l1.6-.4l1.4-.9l1.6-1.8l1.4-1.2l1.6-.8l1.4-.2l1.6,1l1-.2l.4-.3l1.6-1l1.4-2l1.6-1.7l1.4,.3l1.6-1.3l1.4-1.8l1.6-1.2l1.4-1l1.6,.2l1.2-1.7l.2-.3l1.6,.2l1.4,.6l1.6-1.1l1.4,.8l1.6-.3l1.4,.3l1.6,1.7l1.4-.5l.5-.3l1.1,.4l1.4,.9l1.6,1.6l1.4,2l1.6-.6l1.4,.8l1.6,0l1.4,.3l1.2,1l.4,.6l1.4,1.5l1.6,.1l1.4,1.7l1.6,1.5l1.4,2.1l1.6,3l1.4,1.7l1.6,1.7l1.4,1.4l1.6,1.4l1.4,2.2l1,.9l.6-.8l1.4-1.3l1.6-1.6l1.4-2.1l1.6-2.2l1.4-1.4l1.6,.8l1.4-2.6l1.6-.9l.1-.1l1.3-1.9l1.6-2.2l1.4-1.5l1.6-1.4l1.4-.2l1.6-.3l1.4-.8l1.6-.7l1.4-3.6l1.6-2.2l1.4,.3l1.4-.7l.2,0l1.4-.5l1.6-.9l1.4-1l1.6,0l1.4-1l1.6-.6l1,.8l.4-.3l1.6-.6l1.4-1.2l1.6-1.1l1.4-1.4l0,.1l1.6,1.5l1.4,.4l1.6,1.2l1.4,2.4l.3,.2l1.3,2l1.4,1.2l1.6,1.7l1.4,2.5l1.6,1l1.4,2.3l1.6,1.3l1.1,1.7l.3,.2l1.6-.3l1.4-1.5l1.6-.1l1.4-.1l1.6-.6l1.4-.8l1.6-.2l1.4,.8l1.6,.1l1.4,.1l1.6,0l1.4,.6l.8,0l.8,.4l1.4-.9l1.6-.4l1.4-.3l1.6,.1l.8,1.2l.6,1.4l1.6,2.1l1.4,2.6l1.6,2.3l1.4,2.3l1.6,2.7l1.4,.9l1.6,2.3l1.4,1.8l1.4,2.3l.2,.3l1.4,.5l1.6,1.2l1.4-1.5l1.6-.1l1.4,.3l1.2,.9l.4,.1l1.4,.7l1.6-1.6l1.4,.3l1.6-.1l1.4,.5l1.6,.3l1.4-.9l.2,0l0,19.2l-.2,.1l-1.4,.5l-1.6-1.1l-1.4,.5l-1.6-.4l-1.4,.9l-1.6,.3l-1.4,.5l-1.6-.3l-1.4-.6l-1.6,.2l-1.4-.1l-1.6-1.9l-1.4,.3l-1.6,0l-1.4-.7l-1.6,0l-1.4,.5l-1.6,.6l-1.4,.3l-1.6-.5l-1.4-.7l-1.6,.7l-1.4-1.2l-1.6-.1l-1.4-.6l-1.6,.6l-1.4,1.4l-1.6,.5l-1.4,.1l-1.6-1.2l-1.4-.1l-1.6,0l-1.4-.4l-1.6,.8l-1.4,.2l-1.6,0l-1.4,.8l-1.6,.8l-1.4-.2l-1.6,.4l-1.4-.9l-1.6-.2l-1.4-.8l-1.6,1.5l-1.4,.3l-1.6-.9l-1.4-1.2l-1.6,.3l-1.4,.6l-1.6-1.1l-1.4-.6l-1.6,.1l-1.4-.2l-1.6,.3l-1.4,.4l-1.6-.1l-1.4,.1l-1.6-1l-1.4-.9l-1.6,1.5l-1.4,1l-1.6-.8l-1.4,0l-1.6,.2l-1.4,.1l-1.6,.8l-1.4,.1l-1.6-.7l-1.4,.5l-1.6-1.4l-1.4-.5l-1.6,1.1l-1.4,.2l-1.6-.7l-1.4,1l-1.6,.8l-1.4-1.1l-1.6-1.2l-1.4-.2l-1.6,1.9l-1.4,.6l-1.6,0l-1.4-.6l-1.6-1.3l-1.4-.4l-1.6,.5l-1.4,.6l-1.6,.8l-1.4,.1l-1.6-1l-1.4-.3l-1.6,.3l-1.4-.1l-1.6,.6l-1.4,.8l-1.6-1l-1.4-.5l-1.6,.7l-1.4,0l-1.6-.1l-1.4,.4l-1.6-.9l-1.4-.5l-1.6,0l-1.4-.7l-1.6-.3l-1.4,1.3l-1.6,.5l-1.4,.1l-1.6-.3l-1.4,1.1l-1.6-1l-1.4,.1l-1.6,.3l-1.4-.7l-1.6-.8l-1.4-.9l-1.6,1.1l-1.4-.2l-1.6,1.9l-1.4,.6l-1.6,.8l-1.4,.3l-1.6-1.5l-1.4-.2l-1.6-.5l-1.4-.5l-1.6,.2l-1.4,1l-1.6-.8l-1.4-.7l-1.6,.8l-1.4-.2l-1.6,.8l-1.4-1l-1.6-.4l-1.4,1.5l-1.6-.8l-1.4,.2l-1.6,.3l-1.4-.7l-1.6-.1l-1.4-.7l-1.6,1l-1.4,.7l-1.6,1.1l-1.4-.1l-1.6-.7l-1.4,0l-1.6-1.1l-1.4-.3l-1.6,.9l-1.4,.8l-1.6,.5l-1.4,.6l-1.6-1.1l-1.4-.3l-1.6,.3l-1.4-1.7l-1.6,.3l-1.4,.3l-1.6,.2l-1.4-.6l-1.6,0l-1.4,.8l-1.6,0l-1.4,.2l-1.6-.7l-1.4,.7l-1.6,.7l-1.4-.9l-1.6-.9l-1.4,.5l-1.6,1.4l-1.4-.7l-1.6,.1l-1.4-.2l-1.6,.4l-1.4-.7l-1.6-.7l-1.4-.4l-1.6,.2l-1.4,1.5l-1.6-.1l-1.4-.4l-1.6-1.3l-1.4-.2l-1.6-.3l-1.4,.2l-1.6,1.3l-1.4,.7l-1.6-.6l-1.4,.2l-1.6,.3l-1.4-1.3l-1.6-.5l-1.4,1.6l-1.6,.9l-1.4,.2l-1.6,.6l-1.4-.4l-1.6-2.1l-1.4,.9l-1.6,.4l-1.4-.5l-1.6-.2l-1.4,.7l-1.6-1l-1.4,.6l-1.6-.7l-1.4,.6l-1.6,1.6l-1.4-1.7l-1.6-.2l-1.4-.9l-1.6-.2l-1.4,1.7l-1.6,1.5l-1.4-2.1l-1.6-.5l-1.4,.4l-1.6-.1l-1.4-.3l-1.6,1.6l-1.4,.5l-1.6-.6l-1.4-.8l-1.6-.3l-1.4,.7l-1.6-.4l-1.4-.2l-1.6,.2l-1.4-.6l-1.6,.7l-1.4,.7l-1.6-.1l-1.4-.9l-1.6-1.4l-1.4,.2l-1.6,.5l-1.4-.6l-1.6,0l-1.4,1l-1.6-.7l-1.4,.3l-1.6,.8l-1.4,0l-1.6,.7l-1.4-.2l-1.6-1.4l-1.4,.7l-1.6,1l-1.4,.1l-1.6-.6l-1.4,.5l-1.6-.3l-1.4-.2l-1.6,0l-1.4,0l-1.6-1.1l-1.4,2.2l-1.6-.1l-1.4,0l-1.6-.4l-1.4-.1l-1.6,.5l-1.4,.1l-1.6,0l-1.4-.3l-1.6-2.7l-1.4-.2l-1.6,.5l-1.4,.1l-1.6,.2l-1.4,.3l-1.6,.8l-1.4-.2l-1.6-.7l-1.4,.8l-1.6,1.4l-1.4-1.3l-1.6,.1l-1.4,.2l-1.6,.2l-1.4,.9l-1.6-.2l-1.4-1.7l-1.6-.3l-1.4,.3l-1.6,.3l-1.4-1l-1.6,1.2l-1.4,.9l-1.6-.3l-1.4-1.7l-1.6-.3l-1.4,1.3l-1.6-.5l-1.4,.1l-1.6,0l-1.4-.4l-1.6,.3l-1.4-1.2l-1.6,.3l-1.4,.2l-1.6,1l-1.4,.6l-1.6-.1l-1.4-.3l-1.6-.1l-1.4,0l-1.6-.4l-1.4,.2l-1.6,.8l-1.4,.1l-1.6-1.3l-1.4,.7l-1.6-1.1l-1.4-.4l-1.6,.8l-1.4,.6l-1.6,0l-1.4,.4l-1.6-1.8l-1.4,1.3l-1.6-.2l-1.4,.4l-1.6,.5l-1.4,.1l-1.6-.2l-1.4-1.1l-1.6,.1l-1.4,.1l-1.6,1.3l-1.4,.1l-1.6-.9l-1.4,.1l-1.6,.5l-1.4,.8l-1.6,.6l-1.4-1.3l-1.6-.2l-1.4-.8l-1.6-.3l-1.4-.1l-1.6,.3l-1.4-.4l-1.6-.5l-1.4,.6l-1.6-.5l-1.4-.8l-1.6,.2l-1.4,1.7l-1.6-.2l-1.4-1.1l-1.6,.7l-1.4,.3l-1.6,.2l-1.4,1.8l-1.6-.2l-1.4-.3l-1.6-.8l-1.4,.1l-1.6,.7l-1.4,.2l-1.6-.9l-1.4-1.5l-1.6,.3l-1.4,.2l-1.6,.4l-1.4,0l-1.6-.6l-1.4-.2l-1.6,.7l-1.4,.2l-1.6-.1l-1.4,.2l-1.6-.4l-1.4,1.5l-1.6-1.2l-1.4-.1l-1.6,.5l-1.4,.4l-1.6-1.3l-1.4-1.1l-1.6,1.3l-1.4,.5l-1.6-.3l-1.4,.6l-1.6,.5l-1.4,.5l-1.6-.8l-1.4,.1l-1.6-.4l-1.4-1.9l-1.6,.3l-1.4,.3l-1.6,.4l-1.4,.2l-1.6,1.2l-1.4-.4l-1.6,1.6l-1.4-.2l-1.6-1.1l-1.4,0l-1.6-.8l-1.4-.2l-1.6,1l-1.4-.5l-1.6,.3l-1.4,.2l-1.6-.7l-1.4,.4l-1.6,.2l-1.4,.4l-1.6-1.3l-1.4-.2l-1.6-.7l-1.4,.1l-1.6,.7l-1.4,1.2l-1.6,.3l-1.4-2.7l-1.6,.2l-1.4-.9l-.4-.3l-1.2-5.6l-1.4-5.2l-1.6-5.9l-.9-3.9l-.5-2.8l-1.6-6.7l-1.4-6.9l-.3-1l-1.3,8.1l-1.4,9.7l-1.6,9.1l-1.4,9.6l-.6,3.5l-1-.2l-1.4,.3l-1.6,.4l-1.4-.2l-1.6,.2l-1.4,.1l-1.6,.2l-1.4-.1Z" fill="#0000FF" fill-opacity="0.2"/>
<path d="M1813.5,450.9l1.5-75l1.1-52l.4-11.6l1.5-37.5l1.5-37.9l1.5-36.9l.2-2.9l1.3-14l1.5-16.3l1.5-16.2l.7-7.4l.8,.2l1.5,2.4l1.5,2.1l0,0l1.5,6.8l1.5,2.8l1.5,1.9l1.5,5l.4,1.3l1.1-3.6l1.5-6.2l1.5-4l1-2.4l.5-.2l1.5,1.7l1.5,2l1.5,1.2l1.5-.9l1.5,.4l1.5,.5l.6-.4l.9-1.3l1.5-2.3l1.5-1.9l1.5-1.7l1.5-2.4l1.5-2.2l1.5-2l.3-.9l1.2-4.8l1.5-1.2l1.5-5.2l1.5-1.3l1.5-5.1l1.5-7.7l1.4-3.9l.1,.3l1.5,7.1l1.5,5.1l1.5,4.7l.5,.7l1-2.3l1.5-1.7l1.5-.5l1.5-1.8l1.5-.7l1.5-.9l1.5-2.7l.2-.1l1.3,1.4l1.5-1.2l1.5-3.3l1.5,.8l1.5-.8l1.5-.5l1.3-1.7l.2-.3l1.5,3.5l1.5,1l1.5-1.3l1.5-.1l1.5,4.8l1.5-1l1.5-1.2l1.5-.6l1.5,.9l1.5,1l.1-.1l1.4-1.1l1.5-.9l1.5,2.1l1.5-.3l1.5-3.7l1.5,1l1.2-2.1l.3-.3l1.5-2.6l1.5,2.3l1.5,.3l1.5-3l1.5-1.5l1.5,1.2l1.5,.4l1.5-3.4l1.5,.2l1.5,.8l0,.1l1.5,4.1l1.5-3.1l1.5-2.4l1.5,1.1l1.5-1.3l1.5-.8l1.5,2.3l1.5,0l1.5,.3l1.5-1.5l.2-.1l1.3,1.1l1.5,1.3l1.5,.9l1.5-2l1.5,.1l1.5,1.2l1.5-3.3l1.5-1l1.5,2.3l1.5,.1l.4-.5l1.1-.8l1.5,1.9l1.5,1.4l1.5-1.7l1.5-1.1l1.5,.2l1.5-1.9l1.5-.4l1.5-2.7l1.5-.5l.7-.3l.8-1.8l1.5-2.8l1.5,.5l1.5-.9l1.5-2l.8-1.1l.7-.7l1.5-.8l1.5,2.3l1.5,.3l1.5-3.1l1.5-2.5l1.5,4l.4,1.3l1.1-1l1.5-1l1.5,1.5l1.5-.4l1.5,.8l1.5,.9l1.5,2.3l1.5-3l1.2-.3l.3,.9l1.5,5.7l1.5-1.9l1.5-.1l1.5,2l1.5,1.7l1.5,.1l1.5-2.8l1.5-1.3l.3-.5l1.2-2.6l1.5,2l1.5,2.8l1.5,.2l1.5-.4l1.5-.5l1.5-3.9l1.5-1.6l1,2.7l.5,0l1.5-2.1l1.5,2.8l1.5,5.1l1.5-.7l1.5-1.5l1.5-1.7l1.5,.7l1.5,2l.2,.6l1.3,.6l1.5-1.8l1.5,.4l1.5-1.5l1.5-.8l1.5,.4l1.5-2.6l1.5-2.1l.9,.3l.6,.5l1.5-1.3l1.5-3.2l1.5,.4l1.5,2.9l1.5,1.7l1.5-1.6l1.5-1.9l1.5,.4l1.5,1.8l1.2-2.4l.3-.8l1.5,3.2l1.5,2.7l1.5,0l1.5-1l1.5-1.1l1.5-2.1l1.5,3.3l1.5-.4l1.5-2l1.5-1.1l1.5-1.4l1-.3l.5,.5l1.5,3l1.5-.8l1.5-5.3l1.5,3.6l1.5-.3l1.5-3.4l1.5,2.2l1.5,3.3l1.5-.8l1.5-2.9l1.5,2.4l.7,2.3l.8,.6l1.5-1l1.5,.4l1.5-1.7l1.5-.6l1.5-1.5l1.5-4.3l1.5-.7l.2-.1l1.3-1.1l1.5-.7l1.5,1.6l1.5,6l1.5,2l1.5-.2l1.5-1l1.1-.7l.4,.6l1.5,3l1.5,.9l1.5-1.1l1.5-1.6l1.5-.9l1.5,.9l1.5,.4l1.5,.7l1.5,.3l1.1-2.9l.4-.5l1.5,.4l1.5,4l1.5,1l1.5-.4l1.2-.4l.3-.5l1.5-.2l1.5,0l1.5,.5l1.5-1.8l1.5,.5l1.5,1.1l.9,1.5l.6-.3l1.5,.3l1.5,.7l1.5-2.1l1.5,.9l1.5-.7l1.5-1l1.5,0l1.5,.1l.1,.1l1.4,.3l1.5-.3l1.5,.4l1.5-2l1.5-.5l1.5-.4l1.5-2.8l1.5,.7l1.5-1.6l1.5-4.1l.3-.3l1.2,2.4l1.5,2.8l1.5,2.5l1.5-.1l1.5-2.4l1.5-1.5l1.5,.4l1.5,.7l1,.4l.5-.4l1.5,1.5l1.5-1.5l1.5,1.2l1.5-1.1l1.5-3.6l1.5,3.9l1.5,.7l1.5-4l1.5,1.2l1.5,2.6l1.5-.2l.8-.6l.7,.9l1.5-1.8l1.5,.3l1.5,1.8l1.5,2l1.5,1.7l1.5,.2l1.5-2.2l1.5-3.3l1.5-2.3l1.5,2.1l1.5,2.4l.6,.3l.9,.5l1.5,1.7l1.5-1.5l1.5-1.4l1.5,2.3l1.5-3.3l1.5,.8l1.5,2.3l1.3-.1l.2-.2l1.5-1.2l1.5-.7l1.5-1.8l1.5,.6l1.5,.6l1.5,.2l1.5-1.1l1.5-.2l.5-.5l1-1.4l1.5-.9l1.5,.1l1.5,.4l1.5-1.3l1.5,1.2l1.5,2l1.5-3.7l1.5,1.8l1.5,.3l.7,1.7l.8,2.1l1.5-.1l1.5-2.1l1.5-1.6l1.5-.4l1.5-.2l1.5,.3l1.5,3l1.5,2.7l1.5,1.7l.9-.9l.6-1.3l1.5-2.7l1.5-2.2l1.5-.9l1.5,.9l1.5,.3l1.5,.7l1.5,2l1.5-1.7l1.5,2.8l1.5,3.5l1.5-1.4l1.5-.4l1.5-3.3l.3-.4l1.2-1.9l1.5-1.6l1.5,2.5l1.5,.1l1.5,1.6l1.5,.9l1.5-2.6l1.5,.4l1.5,1.8l1.5-1.1l1.5-3.1l1.5-1.8l1.5,2.2l1.1-.9l.4-1.3l1.5,.9l1.5,.4l1.5-2.3l1.5-.1l1.5,2.1l1.5,.7l1.5-2.1l1.5-1.5l.3,.9l1.2,4.2l1.5,.9l1.5-1.7l1.5-.5l1.5,1.1l1.5,0l1.5-1.4l1.5,4l1.5-2.2l1.5-.2l1.5,.4l1.5,.9l1.5-.2l1.5-4.1l1.5,0l1.5-.6l1.5-1.8l1.5-2.5l1.5-1.6l1.5,1.1l1.5,2.4l1.5,.1l.3,.4l1.2,1.2l1.5-1.6l1.5-3.6l1.5-1.1l1.5-3.3l.4-.8l1.1,.5l1.5-1.4l1.5-2.3l1,1.4l.5,.7l1.5-.6l1.5,4.9l1.5,4.3l1.5,1.5l1.1-.3l.4-.7l1.5-.4l1.5,2.6l1.5,3l1.5-.1l1.5-2l1.5-1.3l1.5,2.8l1.5,3.6l1.5-5.5l1.3-.7l.2,.3l1.5,0l1.5-.8l1.5-1.2l1.5,2.2l1.5,.6l1.5,.5l1.5,0l1.5-1.1l1.5,1.6l1.5-3.4l1.5-.9l1.5,.8l1.5,1.9l1.5-2l1.5,1.9l1.5,.9l1.2-1.7l.3-.1l1.5,1.8l1.5,.7l1.5,0l1.5,1l1.5-.4l1.5,.6l1.5-1.9l1.5,1.4l1.5,.5l1.5,.8l0-.1l1.5-1.5l1.5-.2l1.5,.9l1.5-1.8l1.5,1.2l1.5,.2l1.5-.9l1.5-4.1l1.5,1l1.5-.9l1-.6l0,61.4l-1.2-1l-1.5,.9l-1.5-1.2l-1.5-1.5l-1.5-1.8l-1.5-.2l-1.5,1.9l-1.5-.7l-.5-.8l-1,1.2l-1.5,3.2l-1.5-.9l-1.5,.4l-1.5,3.8l-1.5,.9l-1.5-.3l-1.5-3l-1.5,1.5l-1.5,1.8l-1.5,1.5l-1.5-1.4l-1.5,0l-.1,0l-1.4,1.3l-1.5,3.3l-1.5,.1l-1.5-2.4l-1.5-1.4l-1.5-1.4l-1.5,2.7l-1.5,3l-.8,1l-.7,2.2l-1.5,3.1l-1.5,6.6l-1.5,2.5l-1.1,8l-.4-.8l-1.5-5.2l-1.5-5l-1.5-3.5l-1.5-1.7l0,0l-1.5-.3l-1.5-5.2l-1.5-1.2l-1.5-3.2l-.3-.4l-1.2,3.3l-1.5,6.5l-1.5,4.3l-1.5,4.4l-1.5,5.9l-1.5,5.4l-.2,.5l-1.3,1.3l-1.2,5.2l-.3,1l-1.5,4.7l-1.5,4.7l-1.5,7.4l-1.5,8.8l-.1,.7l-1.4,0l-1.5-5.5l-1.5,.4l-1.5,0l-.4-1.9l-1.1-9.4l-1.5-13.7l-1.5-9.9l-1.5-9.2l-.8-6.5l-.7,3.7l-1.5,4.2l-1.5,5.3l-.1,.2l-1.4-2.7l-1.5,2.3l-1.5-3.8l-1.5-.5l-1.5-1.1l-1.5-3.8l-1.3-1.1l-.2-.1l-1.5,1.7l-1.5,1.9l-1.5-2.1l-1.5,3.2l-1.5-.4l-1.5-1.7l-1.5-1.2l-.7,1.1l-.8,0l-1.5-1.3l-1.5-1.3l-1.5-1.8l-1.5-1.5l-1.5-6.2l-.6-2l-.9,0l-1.5,.3l-1.5,2.6l-1.1,.4l-.4-.4l-1.5-.5l-1.5,0l-1.5-5.2l-1.5,.6l-1.3,.7l-.2,.3l-1.5,3.6l-1.5,2l-1.5-.7l-1.5,1.2l-1.5,3.3l-1.5-.7l-1.5,1.7l-1.5,4.4l-.5,.4l-1-4.3l-1.5-4.5l-1.5,1.8l-1-.3l-.5-1l-1.5-2.4l-1.5,3.8l-1.5,3.7l-1.5-1.8l-1.5-.4l-.9,.5l-.6-.4l-1.5-1.7l-1.5-7.7l-1.5,.2l-1.3-3.1l-.2-.3l-1.5,.7l-1.5,4.9l-1.5,1.4l-.4,1.2l-1.1-.9l-1.5-3.9l-1.5-2l-.9-1.3l-.6-.2l-1.5,5.3l-1.5,4.3l-1.5,.5l-1.5-.4l-1.5,2.8l-1.5,4.8l-.6,.1l-.9-1.9l-1.5-2.2l-1.5,1.8l-1.5-1.8l-1.5,.3l-1.5-.1l-1.5,1.2l-.3,.8l-1.2,2.2l-1.5-1.1l-1.5-2.3l-1.5-2.3l-1.5,4.7l-1.5-1.2l-1.5-1.5l-1.5-1.8l-.9,0l-.6,1.6l-1.5,3.7l-1.5,5.2l-1.5,1.7l-1.5,2.1l-1.1,1.9l-.4,.1l-1.5-.8l-1.5,.7l-1.5,.2l-1.5-1.7l-1.5,3.1l-1.5-1l-1.5-.7l-1.5-1.1l-1.5,.1l-1.5,4.1l-1.5,1l-1.5,1.6l-1.5-1.7l-1.5,2.2l-1.4,2.7l-.1,.2l-1.5,.4l-1.5,.8l-1.5,3.6l-1.5,.9l-1.5,1.4l0,.2l-1.5-3.6l-1.5-3.1l-1.5-3.8l-1.5-5.1l-1.5-1.5l-.2-1l-1.3-1.6l-1.5,3.4l-1.5,7.7l-1.5,4.9l-1.5-2.5l-1.5,1.3l-1.5,3.4l-1.1-1.1l-.4-1.7l-1.5,2.1l-1.5,.5l-1.5-3.8l-1.5-.4l-1.5-4.4l-1.5-.4l-1.5-1l-.5-.4l-1-.9l-1.5-1l-1.5-1.7l-1.5,3.7l-1.5-3.6l-1.5,1.6l-1.5,.4l-1.5-3.5l-1.2,3.8l-.3,1.4l-1.5-2.7l-1.5-2.5l-1.5,3.2l-1.5-2.2l-1.5,.5l-1.5,3.9l-1.5-1.8l-1.5,.5l-.4-.5l-1.1-1.5l-1.5-.7l-1.5,5.6l-1.5,1.1l-1.5,5l-.5,1.9l-1-.4l-1.5-4.5l-1.5-2.3l-1.5-1l-1.5,1.7l-1.5-.6l-1.5,.4l-.2,.1l-1.3,1.7l-1.5-1.3l-1.5,.5l-1.5,2.7l-1.5-1.8l-1.5-.4l-1.5,4.1l-1.5,1.3l-.7-.8l-.8,1.5l-1.5,6.1l-1.5,6.6l-1.3,3.8l-.2,1l-1.5,6.1l-1.5,8.8l-1.5,10.6l-1.5,6.5l-1.4,6.8l-.1-.9l-1.5-10.1l-1.5-10.2l-1.5-9.4l-1.5-5l-1.5-11.4l-1.3-15l-.2-.4l-1.5,.6l-1.5,3.8l-1.5,1l-1.5,1.7l-1.5-.1l-1.2,1.3l-.3,1.1l-1.5,3.2l-1.5-3.5l-1.5-2.1l-1.5,3.8l-1.5-1.9l-1.5,1.4l-1.5-.4l-1.5,.9l-1.5-3.8l-1.4-2.6l-.1,0l-1.5,1.9l-1.5-.1l-1.5-3.9l-1.5-2.5l-1.5-1.3l-1.5,1.8l-1.5-.6l-1.5-5.2l-1.5,.6l-1.5,1.3l-1.5-2.4l-1.2,.4l-.3,.3l-1.5,4l-1.5-3.6l-1.5-4.7l-1.5,4.1l-1.5-.8l-1.5,1.4l-1.5,1.4l-1.5,1l-1.5,1.7l-1.5-1.8l-1.5,.5l-.9,1.3l-.6,1.5l-1.5,6.8l-1.5,4.4l-1.5-2l-1.5,2.7l-1.5,6l-1.5,6.1l-.6,1.3l-.9-.9l-1.5,.2l-1.5-1.9l-1.5,2l-1.5,.5l-1.5-2.5l-1.5,0l-1.5,3.8l-1.5,.4l-1.5,3.1l-.8,.4l-.7-2.1l-1.5-3.8l-1.5-1.7l-1.5-1.4l-1.5,2l-1.5-1.9l-1.5-2.6l-.5-1.7l-1,1.3l-1.5,6.7l-1.5,3.7l-1.5,.4l-1.5,3.2l-.6,2.2l-.9,5l-1.5,6.5l-1.5,6.8l-1.5,4.9l-1.5,5.4l-.7,5.9l-.8,3.4l-1.5,3.6l-1.5,2.6l-1.5,5.6l-1.5,3.5l-.9,1.1l-.6-2.3l-1.5-.6l-1.5-3.9l-1.5-4.6l-1.5-8.1l-1-1.9l-.5-1.7l-1.5-4.9l-1.5-3.5l-1.5-6.6l-1.5-1.6l-1.5-7.6l-1.5-7.8l-.6-1.5l-.9-2l-1.5-7.1l-1.5-6.1l-1.5-5l-1.5-2.6l-.7-1.1l-.8,1.6l-1.5,2.5l-1.5,1.8l-1.5-.4l-1.5,.9l-1.5,.1l-1.5-1.6l-1.5,2.4l-1.4-.3l-.1,0l-1.5-.1l-1.5-.8l-1.5,1.5l-1.5-3.6l-1.5-3.6l-1.5,3.8l-1.5-1.1l-1.5-2.5l-1.5,2.3l-1.5-1.9l-.2-.5l-1.3-2.2l-1.5,.2l-1.5,2.1l-1.5,1.1l-1.5-2.1l-1.5-.7l-1.3,1.5l-.2,.1l-1.5-1.5l-1.5-3l-1.5-3.8l-1.5-2.6l-1.5,1.2l-1.5,2l-1-1l-.5,1.2l-1.5,3.7l-1.5,2.5l-1.5,3.3l-1.5,6.5l-1.1,2.2l-.4-1.2l-1.5-2.6l-1.5,.1l-1.5-2.1l-1.5-1.4l-1.2,.6l-.3,.5l-1.5-1.8l-1.5-1.4l-1.5,1.5l-1.5-2.4l-1.3,.9l-.2,.2l-1.5,5.7l-1.5,.3l-1.5,.7l-1.5,3l-1.5,1.6l-1.5,1.5l-1.5,3.7l0,.1l-1.5,8.1l-1.5,.1l-1.5,2.2l-1.5,8.7l-1.1,4.3l-.4,.2l-1.5,1.8l-1.5-.5l-1.5,0l-1.5,3.4l-1.5,2.4l-1.5,3.7l-.8-.1l-.7,2l-1.5,5.1l-1.5,3.9l-1.5,4.8l-1.5,7.2l-.9,1.8l-.6-2.3l-1.5-7.5l-1.5-3.1l-1.5,.1l-1.5,1.6l-1,.4l-.5,1.5l-1.5,2.2l-1.5,2.9l-1.5,6.9l-.1,.1l-1.4-.4l-1.5,1.6l-1.5,2.6l-.7,1.6l-.8,.3l-1.5-1.4l-1.5-3.1l-1.5-2.9l-1.5-2.6l-.8-1.1l-.7,3.7l-1.5,9l-1.5,8.9l-1.4,8.3l-.1-.9l-1.5-14.3l-.9-8l-.6,2.9l-1.5,9.2l-1.5,9.7l-1.5,5.8l-1.5,6.8l-1.5,8.9l-1.5,8.1l-.6,2.8l-.9,13.7l-1.5,21.9l-1.5,22.5l-1.1,17.1l-.4,3.3l-1.5,13.4l-1.5,13.5l-1.5,14.1l-1.5,14.3Z" fill="#75147C" fill-opacity="0.2"/>
<path d="M1814.8,450.6l1.5-30.1l1.5-29.6l.8-15.9l.7-16.1l1.5-35.5l1.5-35.6l.1-2.8l1.4-17.8l1.5-19.9l.9-12.3l.6-3.6l1.5-9.9l1.5-9.4l1.5-9.7l1.5-7.2l1.5-7.3l1.5-6.4l.6-2.7l.9-2l1.5-2.5l1.5-1.3l1.2-2l.3,.3l1.5-1.3l1.5,3l1.5,2.3l1.5-.2l1.3,1.5l.2,.1l1.5,1.5l1.5,1.6l1.5-1.4l1.5-.9l1.5-.8l1.5-1.9l1.5,.2l1.5-1.5l.5-1.1l1-.9l1.5,.4l1.5-.4l1.5-.7l1.5-1.5l1.5-4.9l1.5-2.4l1.5,.9l1.2-1.8l.3-.8l1.5-1.6l1.5,.9l1.5-1l1.5-2.2l1.5,.2l1.5-1.9l1.5-2.9l1.5,.1l.4,.1l1.1,.2l1.5-.7l1.5-2.6l1.5,.1l1.5-2.2l1.5-1.5l1.5,1.2l1.5-.8l1.1-1.1l.4,0l1.5-1.2l1.5,.4l1.5-.8l1.5-1.1l1.5-.7l1.5,1.2l1.5,.9l1.5-1l.3-.3l1.2,1.1l1.5-.3l1.5,1.2l1.5-.8l1.5-1.1l1.5,1.5l1.5,.8l1.5,.1l1.5-2.7l1.5-.5l1.5,0l1.5,0l1.5,.5l1.5-.5l1.5,0l1.5,0l1.5-.8l.2-.3l1.3-1.6l1.5,.1l1.5-1.8l1.5,.6l1.5,.3l1.5,.4l1.5,.3l1.5-.8l1.5,1.4l1.5-.1l1.5,.4l1.5,1.7l1.5-.6l1.5-1l1.5-1.4l1.5,.7l1.5,.2l.1,0l1.4-.6l1.5,.6l1.5,1.5l1.5,.7l1.5-1.4l1.5,1.7l1.5,.1l1.5-3.2l1.5-1l1.5,.6l1.5,2.9l1.5-1.6l1.5-2.6l1.5-.2l1.5-2.7l1.5-1.3l1.5-.6l0,0l1.5,2l1.5,1l1.5-1.7l1.5,1.3l1.5-.6l1.5,.7l1.5-2.2l1.5,.3l1.5-1.5l1.5,.6l1.5-.8l1.5,1.3l1.5-1.3l1.5,.2l1.5,1.6l1.5-1.5l1.4-.9l.1,0l1.5-.5l1.5,.4l1.5-1.7l1.5,1.9l1.5-.5l1.5-.6l1.5,.1l1.5-1.2l1.5,.5l1.5-.9l1.5-.5l1.5-.3l1.5-.2l1.5,.5l1.5-2.5l1.5-1.3l1.2,.9l.3,.3l1.5-.3l1.5,.4l1.5-.4l1.5-.2l1.5-1.5l1.5-1.2l1.5-.7l1.5-.6l1.5-.7l1.5-1.1l1.5,1.5l1.5-.2l1.5,1l1.5,.2l1.5-1.3l1.5-.5l1.1,.1l.4,0l1.5,0l1.5-2l1.5-1.5l1.5,.2l1.5,.9l1.5-.2l1.5,.4l1.5-.6l1.5-.4l1.5-1.4l1.5,.9l1.5,0l1.5-1.2l1.5,1.6l1.5-2l1.5,1.3l1,.7l.5-.3l1.5-1.6l1.5,.5l1.5,.5l1.5,0l1.5-1.4l1.5,1.1l1.5,1.8l1.5,.6l1.5-1.2l1.5-.4l1.5,.1l1.5,1.3l1.5,1l1.5-.9l1.5-2.7l1.5,.9l.9,.5l.6-.3l1.5-1.7l1.5,.5l1.5,1.6l1.5-1.1l1.5,0l1.5-2.7l1.5-.1l1.5-.8l1.5-.7l1.5,.5l1.5-2.2l1.5-.6l1.5,.3l1.5,.5l1.5-.1l1.5-.1l1.5,.3l1.5-1.8l1.5-.1l1.5-2.4l1.5-.4l1.5,2l1.5,.3l1.5,.4l1.5,.3l1.5-2.2l1.5-.7l1.5,.6l1.5,0l1.5,.3l1.5-.3l1.5-1l1.5-.2l1.5,.5l1.5,0l1.5-.2l1.1-1.7l.4-.5l1.5,.2l1.5,1.9l1.5,1.5l1.5-1.9l1.5,.1l1.5-1l1.5-2.6l1.5,.7l1.5,.5l1.5,.2l1.5-.3l1.5,.7l1.5,.9l1.5-2.3l1.5-1.3l1.5,1.4l1,0l.5-.1l1.5,.1l1.5,2.4l1.5-.2l1.5-1.3l1.5,.4l1.5-.7l1.5,.8l1.5,1.8l1.5-1.8l1.5-1.1l1.5,.6l1.5,2l1.5,0l1.5-2.1l1.5,0l1.5-2.1l1.5,.2l1.5,2.1l1.5,.7l1.5-.6l1.5-.2l1,0l.5-.1l1.5-1.9l1.5-2l1.5,.5l1.5-.5l1.5,1.2l1.5,.5l1.5,1.7l1.5-1.6l1.5-1.2l1.5-.1l1.5,1.5l.8,.3l.7-.3l1.5-1.4l1.5-.6l1.5-1.8l1.5-.9l1.5,1.9l1.5,0l1.5-1.2l1.5-1l1.5,.1l1.5,1.2l1.5-1.1l1.5-1.2l1.5-1.3l1.5,1.2l1.5,1.1l1.5-1.2l.7-.3l.8,.1l1.5,1.3l1.5,1l1.5-.4l1.5-1.9l1.5-.2l1.5,.3l1.5,.6l1.5-.6l1.5,.1l1.5-.9l1.5,1.2l1.5-.3l1.5,1.2l1.5-1.4l1.5-.8l1.5,.5l.6,.4l.9,.4l1.5,.3l1.5,.7l1.5-1.3l1.5-1.1l1.5-1.4l1.5,.2l1.5,1l1.5-1.5l1.5,1.4l1.5,1l1.5-.4l1.5-1.6l1.5-.3l1.5,1.4l1.5,.3l1.5-1.6l.5-.2l1,1.1l1.5,1.4l1.5-1l1.5-.3l1.5-1.8l1.5,.8l1.5,.3l1.5-.4l1.5-.5l1.5-.2l1.5-.5l1.5,1.4l1.5-.2l1.5-1.8l1.5,.1l1.5,.6l1.5-.7l.4-.4l1.1-1.1l1.5-.6l1.5,1.3l1.5,1.1l1.5-3l.5-.6l1-.4l1.5,1l1.5,1.4l1.5-2.6l1.5,.1l1.5-.8l1.5-1.4l1.5,1l1.5,1.7l1.5-.4l1.5,.2l1.5,2.2l.2,.2l1.3-.5l1.5,.7l1.5,1.5l1.5-1.6l1.5-.6l1.5,.3l1.5,.3l1.5,.1l1.5,1.7l1.5-.4l1.5-1.6l1.5-.8l1.5,.1l1.5,1.5l1.5-2.5l1.5-.4l1.5,3.2l.1,0l1.4-.6l1.5-2.6l1.5,1l1.5,1.8l1.5,.5l1.5-1.3l1.5-1.3l1.5,.4l1.5-1.2l1.5-1.5l1.5,.1l1.5,0l1.5,.6l1.5,.5l1.5,1.1l1.5-.3l1.5-.6l0,0l1.5-.7l1.5,.3l1.5,.7l1.5,1.2l1.5-1l1.5-1.3l1.5,0l1.5-1.4l1.5-.4l1.5,2l1.5-1.2l1.5,1.9l1.5-.2l1.5-.5l1.5,1l1.5,.8l1.4-1.5l.1-.1l1.5-1.3l1.5-.7l1.5-.8l1.5,.7l1.5,1.2l1.5-3l1.5-.6l1.5,.2l.6,.8l.9,.6l1.5-.6l1.5-.9l1.5-.5l1.5,1.9l1.5,1.4l1.5,1l1.5-1.2l1.5,2.3l1.5,2l1.5-2.1l1.5-.7l1.2,1.5l0,15.3l-1.4-.4l-1.5,.6l-1.5,3l-1.5,.4l-1.5-3.8l-1.5-.2l-1.5,1.2l-1.5,1.4l-1.5,0l-1.5,.4l-1.5,.5l-1.5-1.3l-1.5-2.5l-1.5,1.8l-1.5,1.3l-1.5,.7l-1.5-.9l-1.5,0l-1.5-1.2l-1.5,.9l-1.4,.1l-.1,0l-1.5,.3l-1.5-1.4l-1.5-.2l-1.5,3.1l-1.5,.1l-1.5,.6l-1.5,.9l-1.5-1.3l-1.5,1.1l-1.5,1.1l-1.5,0l-1.5,1.6l-1.5,1.9l-1.5-2.6l-1.5-1.5l-1.5,.4l-1.3,.6l-.2,.1l-1.5-1.2l-1.5,.3l-1.5-.6l-1.5,1.3l-1.5,.2l-1.5-1.3l-1.5-1.1l-1.5,1.7l-1.5,0l-1.5-.1l-1.5,.4l-1.5-.6l-1.5,.4l-1.5,.4l-1.5,.5l-1.5-.3l-1.2-.2l-.3,.2l-1.5,.3l-1.5-.1l-1.5-.3l-1.5,.1l-1.5,.1l-1.5,.2l-1.5-1l-1.5,.8l-1.5-1.2l-1.5,1.4l-1.5,.9l-1.5,.5l-1.5-.8l-1.5,1.1l-1.5-.2l-1.5-.9l-1.1-1.2l-.4-.7l-1.5-.3l-1.5-.6l-1.5,1.4l-1.5,1.2l-1.5-2.5l-1.5,1.6l-1.5-.9l-1.5,1.1l-1.5,.4l-1.5-.3l-1.5,.4l-1.5,2.8l-1.5-.4l-1.5-.4l-1.5,.2l-1.5,.2l-.9-1.6l-.6-.5l-1.5,1.7l-1.5,.5l-1.5-2.7l-1.5,1.9l-1.5-.1l-1.5,.4l-1.5,.9l-1.5,1.3l-1.5-.8l-1.5-.2l-1.5-.5l-1.5-.5l-1.5,.2l-1.5-.6l-1.5,.9l-1.5,.2l-.8,.5l-.7,.4l-1.5,.3l-1.5,.5l-1.5-1.8l-1.5,1l-1.5,1.4l-1.5,.8l-1.5,.4l-1.5-.3l-1.5,.7l-1.5-.5l-1.5,.4l-1.5-.3l-1.5-.5l-1.5-.1l-1.5,.5l-1.5-1.3l-.7-1l-.8-.7l-1.5,.8l-1.5,.4l-1.5-1.1l-1.5,2.7l-1.5,.1l-1.5-.7l-1.5,1l-1.5,1.8l-1.5-.8l-1.5,.9l-1.5,1.9l-1.5-.6l-1.5-1.6l-1.5,.3l-1.5-.4l-1.5-.6l-.6-1.1l-.9,.3l-1.5,4.2l-1.5,2.4l-1.2,1l-.3,.3l-1.5,.8l-1.5,1.1l-1.5,.5l-1.5-2.1l-1.5,.1l-1.5-.1l-1.5-1l-1.5,0l-1.5,.9l-1.5,1.2l-1.5-.9l-1.5-.5l-1.5,1.7l-.5-.6l-1-1.2l-1.5-1.7l-1.5-.2l-1.5,2.4l-1.5,1l-1.5-.1l-1.5,2.1l-1.5-.8l-1.5,.5l-1.5-.7l-1.5,1.3l-1.5,.9l-.3,0l-1.2-.2l-1.5-1.5l-1.5,.6l-1.5,1.3l-1.5,.4l-.4,0l-1.1-1.1l-1.5-.3l-1.5,1.2l-1.5-.4l-1.5,.2l-1.5,.6l-1.5,1.4l-1.5-.3l-1.5-2.1l-1.5-.2l-1.5-.7l-1.5,1.6l-1.5,1.5l-1.5-1l-1.5-.1l-1.5,1.1l-1.5-1.7l-.3-.2l-1.2,.4l-1.5,.3l-1.5,.2l-1.5,2l-1.5-1.6l-1.5,.2l-1.5,1.1l-1.5-.1l-1.5-.5l-1.5-.2l-1.5,1.3l-1.5-.4l-1.5-.4l-1.5,0l-1.5,1.9l-1.5,0l-1.5,0l-.2,0l-1.3-1.9l-1.5,2.8l-1.5,1.6l-1.5,1.1l-1.5,1.7l-1.5-1.4l-1.5-3.2l-1.5,2l-1.5,1.9l-1.5-1.5l-1.5-1.5l-1.5,.7l-1.5,0l-1.5,2.2l-1.5,1.1l-1.5,.5l-1.5,.2l-1.5-2l-1.5,.3l-1.5,1.8l-1.5,1.5l-1.5-1l-1.5,.4l-1.5,1.6l-1.5,.1l-1.5,.8l-1.5-.2l-1.5-.6l-1.5,1.6l-1.5-.5l-1.5,.4l-1.5-.7l-1.5-1.3l-1.5,1.7l-1.5,.6l-1.5,0l-1.5,.5l-.4,.1l-1.1-.4l-1.5-.2l-1.5,.3l-1.5-.8l-1.5,.7l-1.5,1.1l-1.5,.5l-1.5,.4l-1.5-.9l-1.5,1.3l-1.5,.8l-1.5-.5l-1.5,.2l-1.5,1.7l-1.5-1.8l-1.5,.7l-1.5,.7l-.3,.1l-1.2-.9l-1.5-.9l-1.5,1.4l-1.5,1l-1.5-2l-1.5-.4l-1.5,.4l-1.5-1.9l-1.5,.9l-1.5,1.7l-1.5,.9l-1.5,1.1l-1.5-1.6l-1.5,.7l-1.5,.2l-1.5-.2l-1.5,.2l-.2,0l-1.3-.6l-1.5-2.2l-1.5,.7l-1.5,.1l-1.5,2.7l-1.5,.9l-1.5-.6l-1.5,1.7l-1.5-1l-1.5,0l-1.5,.4l-1.5-.3l-1.5,1.2l-1.5,.9l-1.5-.2l-1.5-.5l-1.5,.8l-.1,0l-1.4,.1l-1.5,1l-1.5-1l-1.5-.4l-1.5,2.1l-1.5,.9l-1.5-.2l-1.5,.1l-1.5-.8l-1.5,.3l-1.5,1.1l-1.5-.1l-1.5,.2l-1.5,0l-1.5-.7l-1.5,.7l-1.4,2.6l-.1,.1l-1.5-.4l-1.5,.5l-1.5,2.4l-1.5,1l-1.5-1.2l-1.5,.6l-1.5,0l-1.5-1l-1.5,0l-1.5,1.2l-1.5-1.2l-1.5,.6l-1.5,.2l-1.5-.1l-1.5,1.3l-1.5,0l-1.3,.2l-.2,.2l-1.5-.1l-1.5-1.6l-1.5,1.1l-1.5,2.1l-1.5,.4l-1.5-.3l-1.5-.8l-1.5,.9l-1.5-.5l-1.5,.4l-1.5-.3l-1.5-.4l-1.5-1l-1.5,.3l-1.5,.2l-1.5-1l-1.2,.5l-.3,.2l-1.5,1l-1.5,1.6l-1.5,1.7l-1.5-.7l-1.5-1.3l-1.5-1.3l-1.5,1.3l-1.5,1.1l-1.5,.4l-1.5-.6l-1.5-2l-1.5,.7l-1.5,1.3l-1.5,.3l-1.5,.8l-1.5-.3l-1.1-.8l-.4,.1l-1.5,1.5l-1.5,.9l-1.5,1.1l-1.5-.2l-1.5-.6l-1.5,2.8l-1.5,2.3l-1.5,.7l-1.5-.5l-1.5-.1l-1.5,1.7l-1.5,.9l-1.5-1.3l-1.5,.1l-1.5,1.8l-1.5,.4l-1,.4l-.5,.2l-1.5-1l-1.5,2.1l-1.5,1.6l-1.5-.4l-1.5-.7l-1.5,.1l-1.5,1.7l-1.5-.3l-.2,0l-1.3,.8l-1.5,.4l-1.5,3.2l-1.5,2l-1.5-.2l-1.5,.1l-1.5,1.4l-1.5,2.6l-.9,3l-.6,.9l-1.5-.3l-1.5,1.3l-1.5,1.1l-1.5,.5l-1.5,1.3l-1.5,3.5l-1.5,1.6l-1.5,1.1l-.1-.1l-1.4-1.7l-1.5,2.6l-1.5,3.7l-1.5,2.9l-1.5,.4l-1.5-.3l-1.5,4.1l-1.5,2.7l-.8,1l-.7,.3l-1.5,.3l-1.5-.7l-1.5,.7l-1.5-1.6l-1.5,.5l-1.5,1l-1.5,1.7l-1.5,.2l0,0l-1.5,2.6l-1.5,1.1l-1.5,1.8l-1.5,1.3l-1.5-1.5l-.1-.2l-1.4,.8l-1.5,3.3l-1.5,6.5l-.7,2.3l-.8,4.8l-1.5,8l-1.5,7.4l-1.3,7.2l-.2,2.1l-1.5,12.6l-1.5,12.4l-1.5,13l-.4,3l-1.1,19.8l-1.5,26.2l-1.5,26.7l-.9,15.7l-.6,6.7l-1.5,17.5l-1.5,17.4l-1.5,17.6Z" fill="#3A7D22" fill-opacity="0.2"/>
<path d="M1813.5,450.9l1.5-40l1.5-40.2l.9-21.4l.6-18.4l1.5-40.2l1.5-40l.2-3.1l1.3-9.2l1.5-10.5l1.5-10.8l.7-4.7l.8-2.9l1.5-5.5l1.5-6.8l1.3-4.7l.2-.5l1.5-2.2l1.5-4.1l1.5-4.8l.4-.8l1.1-3.7l1.5-.9l1.5-.5l1.5-.6l.7-1.5l.8-.3l1.5,.6l1.5,0l1.5,2l1.1,.7l.4-1.1l1.5-3.7l1.5-3.9l1.5-1.8l1.5-2.2l1.2-2.2l.3-.1l1.5-1l1.5,.9l1.5-2.3l1.5-1.2l1.5-.2l1.5-.4l1.5,.8l1.5,1l1.5,1.5l1.5-1.5l1.5-.7l1-.2l.5-.7l1.5-1.9l1.5-.7l1.5-3.7l1.5,.8l1.5,1.7l1.5-1.6l1.5-1.6l1.5-.9l.2-.1l1.3-1.8l1.5-2.6l1.5-2.5l1.5-.8l1.3-.6l.2-.1l1.5-1.5l1.5-.1l1.5,.7l1.5-2.4l1.5-.8l1.5,.1l1.5-1.6l1.5-2.6l1.5-1.9l1.5-.2l1.5-.5l1.5-.2l.1-.1l1.4-.9l1.5,0l1.5,1.1l1.5,1.9l1.5-1.4l1.5-1l1.5-1.7l1.5,.7l.8,.3l.7,.4l1.5-.5l1.5-2.7l1.5-1.8l1.5,1.4l1.5-1.2l1.5,0l1.5-1.3l1.5-1.3l0,0l1.5-1.4l1.5-.7l1.5,2.4l1.5-.6l1.5-1.4l1.5,0l1.5,.6l1.5,1.1l1.5-.8l1.5-1l1.5,3.7l1.5-.2l1.5-.6l1.5,.1l1.5-.5l1.5,.1l1.4,.1l.1-.1l1.5-3.5l1.5,1.2l1.5,2l1.5-1.6l1.5,.4l1.5-2.2l1.5,0l1.5-.7l1.5,.2l1.5-1.2l1.5,1.8l1.5-.6l1.5-.1l1.5,.4l1.5,0l1.5-.4l1.3-.2l.2-.4l1.5-.9l1.5,.3l1.5,.2l1.5-1.7l1.5-2.2l1.5-3.5l1.5,.8l1.5-1.8l.4-1l1.1-.7l1.5,2.5l1.5-1.2l1.5,.1l1.5-1.3l1.5-1.7l1.5,3l1.5-.6l1.5,0l1.5-1.6l1.5,.7l1.5-.5l1.5-.4l1.5-.1l1.5,1.4l1.5-.4l1.5-.5l.3-.8l1.2-1.7l1.5,1.3l1.5-.4l1.5-.3l1.5,1.9l1.5,1.1l1.5,.9l1.5-.5l1-.9l.5-.1l1.5,1l1.5-2.1l1.5-.1l1.5-.4l1.5-.1l1.5,1.4l1.5-.5l1.5-.3l1.5-.2l1.5-2.2l1.5-.8l1.5,.3l1.5-.5l1.5,.2l1.5-1l1.5-1.5l.9-.7l.6,0l1.5-.7l1.5,1.4l1.5,1l1.5-.5l1.5-2.4l1.5,1.1l1.5,1.2l1.5-1l1.5-.2l1.5,.7l1.5,1l1.5,1.3l1.5-.9l1.5-.1l1.5,.9l1.5,.6l.8,.8l.7,.5l1.5-.1l1.5,0l1.5-.7l1.5-.5l1.5-1.2l1.5,1.9l1.5-.2l1.5-1.6l1.5-1.9l1.5,.7l1.5,3l1.5-1.7l1.5,.3l1.5-.4l1.5-1.8l1.5,1.5l.7,.5l.8,0l1.5-.1l1.5-1.5l1.5,.4l1.5-2.2l1.5-.5l1.5,1.3l1.5,.1l1.4-1.4l.1-.1l1.5-.6l1.5,.7l1.5,.7l1.5-.1l1.5,.9l1.5-2l1.5-1.5l1.5,1.7l1.5,0l1.5-.8l1.5,1.4l1.5-.6l1.5-1.3l1.5,.7l1.5-1.1l1.5,.9l1.5-.2l1.5-.5l1.5,1.7l1.5,.5l1.5-.9l1.5-1.9l1.5-1l1.5-.5l1.5,.4l1.5,.6l1.5-2.2l1.5-1.1l.9-.6l.6,.1l1.5-.3l1.5,.6l1.5,2.1l1.5,1l1.5-.7l1.5,1.2l1.5-.9l1.5,1.4l1.5-1.5l1.5-.7l1.5,1.3l1.5-.6l1.5-1.9l1.5-.7l1.5,.3l1.5,1.6l.8,.4l.7-.6l1.5-1l1.5-1l1.5,.1l1.5-.2l1.5,0l1.5,.8l1.5-.3l1.5-1.8l0-.1l1.5,.2l1.5-2.1l1.5,1.5l1.5,1l1.5-1.3l1.5-.8l1.5,1l1.5-.8l1.5,.6l1.5-.5l1.5-.5l1.5-1.5l1.5,.5l.8,.2l.7-.7l1.5-1.1l1.5,1.8l1.5,.4l1.5,.4l1.5-1l1.5,.9l1.5,.6l1.5,1.7l1.5-1.6l1.5,2.4l1.5,2.5l.6,.4l.9-1.7l1.5-1.6l1.5,1.3l1.5-.5l1.5-.8l1.5,.2l1.5,.3l1.5-1.4l1.3-1.9l.2-.1l1.5,.9l1.5,3.1l1.5-.8l1.5-.2l1.5,2.5l1.5,.4l1.5-.2l1.5,2.8l.5,.5l1,.3l1.5,0l1.5-.8l1.5-1.4l1.5-1.2l1.5,1.8l1.5-1.7l1.5-1.7l1.5-1.9l1.5-.4l1.5,.2l1.5-.1l1.5,1.5l1.5-.2l1.5-1.9l1.5-.2l1.5-.4l.4,.3l1.1,1l1.5-.5l1.5-2.1l1.5-.4l1.5,1.6l1.5-1.2l1.5-1.4l1.5-.5l1.5-.8l1.5,.6l.6-.1l.9,.1l1.5-.4l1.5,.3l1.5,2.6l1.5-1.2l1.5,.9l1.5,.7l1.5-1.4l1.5,.9l1.5,.3l1.5-.6l1.5,1.2l1.5,1l1.5-.7l1.5-.5l.9-.7l.6-.4l1.5-.8l1.5,.6l1.5-.3l1.5,1.3l1.5,0l1.5-3l1.5-.4l1.5-.1l.2,0l1.3-.1l1.5-1l1.5,.3l1.5,1.9l1.5,1.7l1.5-.6l1.5-.4l1.5-.1l1.5,.5l1.5,.5l1.5,1l1.5,.2l1.5-2.1l1.5-1.4l1.5,.1l1.5,1.2l1.5-1.3l1.5-1.2l1.5-.2l1.5,.5l1.5,.2l1.5-1.5l1.5-.9l1.5-.4l1.5-1.3l1.5,.1l1.5,.2l.3-.1l1.2,1.3l1.5,3.4l1.5-.5l1.5-1l1.5,.1l1.5-.3l1.4,.3l.1,.1l1.5,.5l1.5,.4l1.5-.2l1.5,.6l1.5-2.4l1.5,2.1l1.5,.2l1.5,.8l1.5,.3l1.5,.1l.2-.1l1.3-1l1.5,1.4l1.5,1.7l1.5-1.4l1.5-2.8l1.5-.3l1.5-.4l1.5-1.1l1.5,.1l1.5-1.1l1.5-.7l1.5-.2l1.5-2.9l1.5,1.6l1.5,.8l.5-.4l1,.2l1.5,2.7l1.5-2.5l1.5,1.3l1.5,1.6l1.5-.7l1.5,.6l1.5-1l1.5-.4l1.5,1l1.5,.6l1.5-1.4l1.5-1.3l1.5,.4l1.5,1.1l1.5,.9l1.5,1.7l.4,.4l1.1,.7l1.5-.6l1.5-.1l1.5-1.5l1.5-.1l1.5-1l1.5,.7l1.5-1.1l1.5-1.5l1.5,.2l1.5,.2l1.5,.9l1-.1l0,23.6l-1.2,.8l-1.5-.6l-1.5-.2l-1.5,.8l-1.5-.4l-1.5-.4l-1.5,2.4l-1.5-.2l-1.5-2.8l-1.5,2.1l-1.3,.9l-.2-.1l-1.5-.9l-1.5,.3l-1.5,.6l-1.5-2.5l-1.5,1.1l-1.5,.1l-1.5,.2l-1.5-.2l-1.5-2.8l-1.5,1.8l-.1,0l-1.4-.6l-1.5-.2l-1.5,.6l-1.5-.1l-1.5-.7l-1.5,1.2l-1.5,.4l-1.5-1.7l-1.5,2l-1.5-.2l-1.5-.2l-1.5,3l-1.5,.6l-1.5,1l-1.5,0l-1.5-1.3l-1.5-.8l0,.1l-1.5,2.1l-1.5,1.5l-1.5,2.3l-1.5,1.2l-1.5,.4l-1.5,.6l-1.1,1.8l-.4,.1l-1.5-.4l-1.5,.2l-1.5,.2l-1.5-.6l-1.5-2.7l-1.5,.6l-.8,.3l-.7,.6l-1.5,1.7l-1.5,4.1l-1.5,3.4l-1.5,2.4l-.9,2.3l-.6-.7l-1.5-2.5l-1.5-2.9l-1.5-1.8l-1.5-2.5l-1-.4l-.5-.5l-1.5-2.4l-1.5-2.3l-1.5-.6l-1.5-.4l-1.5-4.2l-1.5-1.8l-.7,.4l-.8,1.6l-1.5-.1l-1.5,.9l-1.5,1.3l-1.5-1l-1.5-1.8l-1.5,2.6l-1.5,.2l-1.5,.9l-1.5,.2l-1.5-1.9l-1.5,1.1l-.5,.1l-1-.7l-1.5,.7l-1.5-1.3l-1.5-.5l-1.5-.1l-1.5-.8l-1.5-2.2l-1.5-1l-1.1-1.6l-.4-.3l-1.5,1.2l-1.5,2.4l-1.5-1.1l-1.5-2l-1.5,2l-1.5-.8l-1.5-.6l-1.5,.6l-.4,.3l-1.1,1l-1.5,.6l-1.5-1.6l-1.5,1.6l-1.5,.5l-1.5-1.4l-1.5,2.2l-1.5,2.6l-1.5-.6l-1.5-.8l-1.5-1.4l-1.5,4.3l-1.5-.6l-1.5-2.7l-1.5,.8l-.7,.9l-.8,0l-1.5,.7l-1.5-.2l-1.5,.4l-1.5-.3l-1.5,.4l-1.5,.1l-1.5,.9l-1.5-.5l-1.5,.7l-.9,.6l-.6,.2l-1.5-1.1l-1.5,.4l-1.5,1.5l-1.5-1.8l-1.5,1l-1.5,2.5l-1.5,.3l-1.5-1.8l-1.5-2.6l-1.5,1.4l-1.5,.7l-1.5-.8l-1.5,.2l-1.5,1.5l-1.5-1.2l-1.5-.2l-.8-.7l-.7-.5l-1.5,1.1l-1.5,1.3l-1.5-.3l-1.5-3.4l-1.5-1.6l-1.5,.9l-1.5-1l-1.5-.3l-1.5-1l-1.5,1.1l-1.5,.3l-1.5-.9l-1.5-.8l-1.5-2.1l-1.5-1.5l-1.5,2.7l-.7,0l-.8-.4l-1.5-.9l-1.5-.5l-1.5,.5l-1.5,1.3l-1.5,1.9l-1.5,0l-1.5-1.6l-1.5,0l-1.5,.2l-1.5,.6l-1.5-.9l-.5-.1l-1,.7l-1.5,1.8l-1.5,.9l-1.5-1.1l-1.5,.2l-1.5-1.1l-1.5,1.4l-1.5,0l-1.5,1l-1.5,.1l-1.5,0l-1.5-.9l-.3,.1l-1.2,1.5l-1.5,1.4l-1.5,.6l-1.5-.9l-1.5,1.7l-1.5-.4l-1.5,.8l-1.5,1.1l-1.5,2.1l-1.5,1.7l-.5,.6l-1-1.8l-1.5-.4l-1.5,.7l-1.5-1l-1.5-1l-1.5,1l-1.5-.8l-1.5,.1l-1.5-.6l-1.5-1.6l-1.5,1.2l-1.5,0l-1.5-.8l-1.5-.8l-1.5,.4l-1.5,.5l-1.5-1.8l-.4-.2l-1.1-.9l-1.5-.4l-1.5,.6l-1.5,1.2l-1.5,.1l-1.5-.7l-1.5,3l-1.5,.8l-1.5-.5l-1.5-1.1l-1.5,0l-1.5,1.2l-1.5,1.1l-1.5-1.5l-1.5-.5l-1.5,.5l-1.5-.3l-1.5-1.4l-1.5,.9l-1.5,.3l-1.5-1.3l-1.5,.2l-1.5,1.3l-1.5,0l-1.5-.6l-1.5-.6l-1.5,1.6l-1.5-.2l-1.5,.1l-1.5-.9l-1.5-.2l-1.5-.6l-1.5,1.9l-1.5,2.7l-1.5-.3l-1.5-.6l-1.5-.3l-.6,.3l-.9,1.6l-1.5,2.6l-1.5-1.7l-1.5-1.1l-1.5,.6l-1.5,1.5l-1.5-1.3l-1.5,.4l-1.5-.7l-1.5,.6l-1.5,1.1l-1.5,.3l-1.5,.3l-1.5-.2l-1.5,.6l-1.5-1l-1.5,.4l-.5,.2l-1,.6l-1.5,.5l-1.5-.4l-1.5-.2l-1.5,.8l-1.5,1.4l-1.5-.6l-1.5-.9l-1.5-.4l-1.5,.3l-1.5-.7l-1.5,.8l-1.5,1.9l-1.5,.3l-1.5-.3l-1.5-1.2l-1.5-.6l-.4,.1l-1.1,2.8l-1.5-.1l-1.5,.9l-1.5,1l-1.5-1.1l-1.5-1.2l-1.5,2.5l-1.5,1.6l-1.1,.4l-.4,.1l-1.5,2.2l-1.5,1.3l-1.5,.1l-1.5-.4l-1.5,2.5l-1.5-1.5l-1.5-1.2l-1.5,1.6l-1.5,.3l-1.5,.3l-1.5-.4l-1.5,.5l-1.5-.1l-1.5-.1l-1.5-.3l-1.5,1.3l-1,1.2l-.5,0l-1.5-1.6l-1.5,1.2l-1.5-.5l-1.5,.5l-1.5,0l-1.5-.2l-1.5-.1l-1.5-.8l-1.5-.7l-1.5,2.5l-1.5,2.2l-1.5,.4l-1.5,.4l-1.5-3.6l-1.5-2.1l-1.5,1.3l-.9,1.8l-.6,1.2l-1.5,3.1l-1.5,2.3l-1.5-.5l-1.5-.7l-1.5,1.6l-1.5,1l-1.5,2.8l-1.5,1.1l0,.2l-1.5,3.3l-1.5-1.3l-1.5,.6l-1.5,2.1l-1.5,1.1l-1.5-.3l-1.5-.8l-1.5-1.4l-1.5,.6l-1.5,.1l-1.5,.2l-1.5,1.7l-1.5-.1l-1.5,0l-1.5,1.8l-1.5,0l-1.4,.3l-.1,0l-1.5,.3l-1.5,1.1l-1.5-.9l-1.5,.2l-1.5,.4l-1.5,1.5l-1.5-2l-1.5,.5l-1.5,.4l-1.5,.3l-1.5-1.3l-1.5,.8l-1.5,.2l-1.5,.9l-1.5-2.2l-1.5-.9l-1.3,.6l-.2,.3l-1.5-.3l-1.5,1.4l-1.5,3l-1.5,1.1l-1.5,.8l-1.5-.3l-1.5,.7l-1.5,2.5l-.5,.4l-1,.5l-1.5,.6l-1.5,1.3l-1.5-2.8l-1.5,1.1l-1.5,3.7l-1.5,.1l-1.5-1.7l-1.2-.7l-.3,0l-1.5,1.1l-1.5,.1l-1.5,2.1l-1.5,1.3l-1.5,.4l-1.5,.3l-1.5-.4l-1.5,2.9l-.4,1.1l-1.1,2.4l-1.5-1.8l-1.5,1l-1.5,.8l-1.5,2.5l-1.5,1.9l-1.5,.8l-1.5,3.1l-1.1,1.8l-.4,.4l-1.5,.6l-1.5,1.7l-1.5,.5l-1.5,2.7l-1.5,.5l-1.5,2l-1.5,2.5l-1.5,1.2l-.3-.3l-1.2,.9l-1.5,2.4l-1.5,3.3l-1.5,4.1l-1.5,3.3l-1.5,.7l-1.5,2.5l-1.5,3.8l-1,1.7l-.5,2.3l-1.5,6.6l-1.5,7.7l-1.5,8.4l-.1,.5l-1.4-4.1l-1.5-5.6l-1.5-4.2l-1.5-3.5l-1.5-5.7l-.2-.6l-1.3,.7l-1.5-2.3l-1.5-2.4l-1.5,1.2l-1.5,.1l-1.5-.8l-1.5-1l-1.5-2.7l-.9,0l-.6,1.6l-1.5,4l-1.5,3.6l-1.5,1.7l-1.5,5.5l-1.5,6.2l-1.5,7.1l-.6,2.3l-.9,10.6l-1.5,17.3l-1.5,17.7l-1.1,13l-.4,12.1l-1.5,52.4l-.7,24.2l-.8,12.6l-1.5,23.1l-1.5,23.2Z" fill="#E83323" fill-opacity="0.2"/>
<path d="M1818.6,459.0l3-16.4l.8-4.4l2.2-26.2l.4-4.2l2.5-30.6l.1-.2l3-7.4l2-5.1l1,14.8l1.5,20.9l1.5,3.9l3,8.7l1.9,5l1.1,1.9l3,4.6l3,4.4l.5,.7l2.5,1.1l3,.7l3,1.1l1.6,.5l1.4,2.8l3,5.5l2,3.3l1-.2l3-.3l3-.4l1.9-.7l1.1-.8l3-1.9l3-2.6l3-1.4l0,0l3-1.2l3-.9l3-1.3l2.5-.7l.5,.5l3,.4l3,.7l2.4,.4l.6,.6l3,3.2l3,2.5l3,3.3l1.8,1.6l1.2-.8l3-2.5l2.1-.8l.9-.4l3-.5l3-1.8l3-.6l.3,0l2.7,2.8l2.4,2.3l.6-.4l3-2l3-2.1l3-1.9l3-2.4l.1,0l2.9,.2l3,1.1l3,.4l3,.9l.8,.1l2.2,.9l3,1.3l3,.8l3,1.4l1.5,.9l1.5,1.4l3,1.6l3,2.7l3,1l2.2,2.1l.8-.1l3-.6l3-.2l3-.8l2.8-.2l.2,0l3-.7l3-.5l3-.1l3-1l3-.5l2.6-.4l.4,.2l3,1.4l3,2.2l1.2,.2l1.8,.1l3-.4l3-.4l3-.3l1.9-.5l1.1,.2l3-.1l3-.6l3,.2l3,.1l3,0l3,.3l3-.3l3-.3l.3,0l2.7,.9l3,0l3-.2l3,.2l1,.1l2,.5l3,1.6l3,.9l3,1l3,.9l3,.7l.8,.6l2.2-.3l3-.4l3-.1l3-.2l3,.2l3-.1l3,.3l.1,0l2.9,.3l3,.2l3,.7l3-.3l.8,.3l2.2-.4l3,.7l3-.5l3,.1l3,.4l3-.2l3,.1l3-.2l3-.3l3,.3l3-.1l3-.1l.2-.1l2.8-.3l3-.9l1.8-.8l1.2-.1l3,.2l3-.1l3-.1l3,0l3-.1l3-.6l3,0l3-.4l.2,0l2.8-.1l3,.4l3-.2l3,0l3-.2l3,0l3-.1l3-.3l3,0l3-.1l3,.5l.2,0l2.8-.4l3,.2l3-.5l3,0l3-.3l3,0l0,0l3-.8l3-.5l3-.3l3-.1l3-.6l3-.4l3-.8l3-.7l1.4,0l1.6-.4l3,.1l3-.3l3,0l3,.2l3-.2l3-.4l3-.4l2.8,0l.2,0l3,.2l3-1.3l3,.2l3-.4l3-.3l0,0l3-.1l3-.1l3-.3l3-.1l.7-.2l2.3,1.2l3,.7l3,.7l3,.2l1.4,.3l1.6,.5l3,.9l3,.8l3,.6l3,.7l3,.4l1.2,.5l1.8-1.1l3-1.5l3-1.7l3-.6l1.9-.9l1.1-.5l3-1.2l3-1.5l3-1l3-1.4l3-1.5l1.6-.8l1.4-.1l3-.6l3-1l3-1.7l3,0l3-.9l.2,0l2.8,1.4l3,1.1l3,1.8l3,1.5l3,.8l2.9,1.5l.1,0l3,.6l3,.3l3,.1l3,.7l3-.3l3,.2l1-.2l2,1l3,1.5l3,1.6l3,1.5l3,1l3,1.7l.7,.3l2.3-.3l3,.3l3,.1l3,0l3,.7l3,0l3-.4l3,.4l.4,.1" fill="none" stroke="#0000FF" stroke-width="2.15" stroke-linejoin="round" stroke-dasharray="1.80 2.97"/>
<path d="M1813.5,459.2l1-13.3l1-13.3l.6-7.1l.4-12.3l1-26.6l1-26.4l1-26.8l.4-9.3l.6-9.6l1-14.6l1-14.7l1-14.7l.2-2.3l.8-5.5l1-6.8l1-6.5l1-6l0,0l1-3.3l1-3.1l1-2.4l1-2.8l1-3.1l.1-.2l.9-1.6l1-1l1-.5l1-.8l1-1l.2-.1l.8-2.2l1-3.7l1-2.9l1-3.1l1-3l.2-.5l.8,.7l1,1l1-1.3l1-.4l1,1.6l1,.7l1,.4l1,.9l1,.5l.1,0l.9-1.1l1-.1l1,.7l1-.1l1-.2l1-.3l.5,.2l.5-1.2l1-2.4l1-3.7l1-1.9l.3-.5l.7-.8l1,.6l1-1l1-1.7l1-2.3l1-3.2l1-2.2l.9-1.6l.1-.2l1-.7l1-1.1l1-1.1l1-1.4l1-1.3l1-1.5l1-1.2l.5-.4l.5-.3l1-.1l1,.2l1-.5l1-1.1l1-.4l1-.5l1,.1l1-1.1l1-1.2l.7-.1l.3-.3l1-.7l1-1.5l1-1.3l1-1l1-.5l1-1.7l1-2.1l1-1.1l1-.8l.8-1.7l.2-.3l1-1.7l1-1.2l1-.3l1-1.1l.9-.2l.1,0l1,.3l1-1.2l1-.5l1-1.3l1-1.2l1-.3l1,0l1-.1l1-.5l1-.4l.1,.1l.9,.1l1,.5l1-.5l1-1.2l1-.3l1,0l1-.1l1-.9l1,.4l1,0l1-.9l1-.5l.8-.2l.2-.1l1-.8l1-.3l1,.1l1,.5l1-.4l1-.6l1-.7l1,.8l1,1.2l1,.1l1-.8l1-2.4l.5,0l.5,.1l1,2.4l1,0l1-.7l1,.8l1,.5l1,0l1,.2l1,.3l1-.2l1-.2l1-.1l1-.3l.2-.1l.8,0l1,0l1,.1l1,.5l1,.4l1-.2l1,.5l1,1.3l1,.3l1-1l1-.3l1,.5l.9-.1l.1-.2l1,.7l1-.2l1-1.4l1-.9l1-.5l1-.1l1-.8l1-.2l1,.5l1,0l1-.1l1-.3l.6-.1l.4,.6l1,1.6l1,1.2l1,1.6l1,1.5l1,1.6l1,1l1,1.6l.2,.2l.8,.3l1-.7l1-.2l1,.6l1-.1l.3,.1l.7,2l1,2.1l1,2.8l1,2.8l1,2.6l.3,.9l.7,1.2l1,1.5l1,1.1l1,1.5l1,1.8l1,1.1l1,.5l.9,.3l.1-.2l1-1.6l1-.6l1-.2l1-1.2l1-1.7l1-2.5l1-1.7l.6-.5l.4-1.2l1-3.4l1-2.4l1-2.6l1-1.9l1-2.6l1-3l1-1.9l.2-.4l.8-.4l1-1.1l1-1l1-.3l1,.4l1,.5l1-1l1-1.4l1,0l1,.9l.3,.2l.7,.7l1,1.1l1,.7l1,.6l1,.6l1,0l1-.8l1-.6l1,1.4l1,1l1-.3l1-.5l1,1l1,.7l1-.5l1-1.2l1-1l1,1l1,1.5l1-.2l.7-.1l.3-.5l1-1.9l1-1.3l1,0l1-.7l1-1.2l1-1.9l1-1.5l1-.2l1-1.2l1-1.1l1-.7l1-.7l.4-.2l.6,0l1,0l1-.5l1,.4l1,0l1-1.3l1-.9l1,.7l1,.8l1-.1l.5-.1l.5-.2l1-1.2l1-1.5l1-.4l1-.5l1-.2l1,1l1,1l1-.2l1-.5l.7-.2l.3,.1l1,.6l1,1.3l1,.5l1-.5l1-.4l1,1.9l1,1.2l1-.5l1-.1l.8,1.1l.2,.1l1-.2l1-.4l1-.2l1-.3l1-.1l1,.7l1,.4l1-1.1l1-1.2l1-.1l1-.1l1-.2l.5,0l.5,.1l1-.2l1-.1l1-.3l1-.3l1,.8l1,.7l1-.2l1,.6l1,1.1l1-.2l1-.1l1-1.3l.2-.2l.8,.3l1,1.1l1,1.6l1,1.8l1,2.1l1,1.7l.6,.7l.4,.8l1,1.9l1,1.5l1,1.7l1,2.1l1,2.9l1,2.5l1,1.2l.2,.4l.8-1.7l1-2.5l1-3.3l1-2.6l1-2.8l1-4l.5-1.6l.5-.3l1-.5l1-.3l1-.2l1-.5l1-.6l1,.1l1,.9l1,.1l1-.8l1-.7l1-1l1-.5l1,.3l1,.1l1-1.1l1-.9l1,.9l1,.4l1-1.7l1-1.6l1,.7l1,.7l.2-.2l.8-.7l1-.5l1-.3l1-.6l1-1.2l1,.1l1,.6l1,.3l1-.5l1-1l1-.5l1-.7l.9-.2l.1,0l1,.5l1,1l1,.5l1-.9l1-.6l1-.3l1-.4l1,1.4l1,.5l1-.8l1,.5l1,1.1l1-.5l1-.7l1,.4l1,1l1-.6l1-.4l1,.8l1,.4l1-1.5l1-.4l1,1.5l1,.2l1,.2l.3-.2l.7-.8l1-2l1-.6l1,.6l1-.7l.4-.2l.6,.5l1,.9l1,1.5l1,.5l1,1.1l1,2.2l1,1.3l1,.7l1,1l.3,.1l.7-1.2l1-.1l1-.4l1-1.6l1-2.1l1-1.5l1-1l1-1.2l1-.7l.1-.1l.9,.8l1,.9l1,.8l1,.4l1,1.2l1,.8l1,.7l.8,1.4l.2,.2l1-.4l1-.2l1,.3l1-.6l1-.9l1,1.4l1,.1l1-1.2l1-.2l1-.3l1-.7l1,.2l1,.4l1-.4l1-1.9l1-.4l1,.3l1,.3l1-1.3l1-1l.1,0l.9,0l1,.4l1,.2l1-.3l1-.5l1-.4l1-.5l1-.2l1,0l1,.5l1,1.3l1-.5l.8-.6l.2-.3l1-.9l1-.1l1,.6l1-.6l1-1.9l1-.6l1-.3l1-1.7l1-.6l1-.4l1-1l1-.8l.5-.5l.5,.1l1,1.5l1,.9l1-.3l1,1.1l1,1.1l1-.2l1,.3l.1,0l.9-.7l1-.8l1,.6l1,.8l1-.6l1-1l1-1.9l1-.2l1-.5l1,.5l1,1.3l1,.5l1-.6l1,0l1-.9l1-1.3l1-1.2l.9-.4l.1-.1l1,.2l1,.6l1,1l1-.1l1-1.1l1-1.2l1-.3l1-.6l1-1.6l1-.1l0,0l1,1.2l1,.6l1,1.7l1,.7l1,.4l1,.5l1,.6l.6,.5l.4-.3l1-1.2l1-.9l1-.2l1-.4l1-1.4l1-.2l1-.5l.3-.3l.7,0l1,.5l1,.8l1,0l1,.5l1,1.6l1-.1l.9,.3l.1-.1l1-.2l1,.1l1-.1l1-1.1l1-.7l1-.4l1-.7l1,0l1,0l1-.5l0,0l1,.4l1-.5l1-1.2l1-1.4l1,1l1,1.1l1-.4l1,.6l1,1.3l1,.5l.2-.1l.8,.3l1,.6l1,.3l1,0l1,1.3l1,.8l1,.6l1,0l1,.6l1,1.8l.3,.5l.7,.2l1-.9l1-1.6l1-.8l1-.2l1,.4l1,0l1-.6l0,0l1,.4l1,.4l1-.6l1-.1l1,.2l1-.9l1,.1l1,1.7l1,1.1l1-.5l1,.1l1,.6l1,1.2l1,.6l1,0l.2,0l.8-1.2l1-1.3l1-1.5l1-.5l1-.6l.3-.3l.7,1.8l1,3.9l1,2.8l1,3.3l1,2.6l1,.6l.6,1.5l.4,.1l1,1.4l1,1.6l1,1.6l1,.7l.7-.3l.3-1l1-2.2l1-2.8l1-2.4l1-2l1-3.2l1-2.3l.1,0l.9,.4l1-.6l1-1.1l1-1.4l1-1.4l1,.6l1,.3l1-1.4l1-.9l1-.6l1-.4l1-1.5l.7-1.2l.3-.1l1,2l1,1l1-.3l1,1.5l1,2.2l1,1.2l1,.6l1,1.7l1,.3l1,.1l1,.8l.2,.2l.8-1.3l1-1.9l1-2.3l1-1.1l1-.6l1-.8l.5-1.3l.5-.6l1-1.3l1-.4l1,.3l1-.5l1-.8l1,0l1,.8l.1,0l.9,.4l1,.8l1-.3l1-.8l1-.3l1-1l1-1.3l1-.3l1,.8l1,.6l.3-.2l.7-.2l1-1.4l1,.5l1,1l1-.3l1-.6l1,.8l.9,.6l.1,0l1-.4l1-.9l1-.2l1-.8l1,.1l1-.7l1-.6l.5-.6l.5-.2l1,.4l1,1.4l1,.6l1,.5l1-.3l1,.3l1,1.3l1,1.3l1,.5l1,1.2l.5,.1" fill="none" stroke="#75147C" stroke-width="2.15" stroke-linejoin="round" stroke-dasharray="11.52 2.88 1.80 2.88"/>
<path d="M1814.8,459.0l1-15.5l1-15.6l1-15.4l.8-12.4l.2-3.8l1-20l1-19.8l1-20l.6-12.3l.4-5.1l1-13.3l1-13.3l1-13.5l.4-5.7l.6-4.6l1-8l1-8.4l1-8.2l.2-1.8l.8-4l1-5.6l1-5.8l1-5.9l0-.3l1-3.8l1-4l1-3.2l1-3.2l1-2.3l.1-.2l.9,.4l1,.5l1-.2l1-.9l1-.3l1-.8l1-1.3l1-1.1l1-.7l1-.1l.3-.1l.7-.5l1-1.2l1-.8l1-.6l1-.6l1-1.7l.6-.5l.4,.1l1-.1l1,.1l1,0l1-.6l1,.7l1,.5l0,0l1-1.8l1-1.8l1-1.2l1-.4l1-.8l1-.6l1-.6l1-.3l1-.9l1-2.1l1-1.2l1-.2l.7-.1l.3,0l1-1.4l1-1.5l1-.9l1-.2l1-.9l1-.4l1,0l1-.7l1-.8l1-1l1-1.6l1-1.2l.4-.2l.6-.5l1-.5l1-.1l1-.7l1-1l1-.9l1-.9l1-.6l1-.6l1-1.3l1-.2l1-.4l1-1.4l.1-.1l.9-.4l1-.2l1-.3l1-.1l1-.6l1-.8l1-1l1-.6l1,.1l1-.6l1-.7l1,.2l.8,.2l.2,.1l1-.7l1-.4l1-.8l1,0l1,.5l1-.6l1,.1l1,.1l1-1.2l1,0l1,.2l1-.1l.5,.1l.5,.1l1-.1l1-.4l1-.1l1-.8l1-.6l1,.9l1,.8l1-.5l1-1l1-1l1,.1l1,.7l.2,0l.8,.1l1-.2l1-1.2l1-1.2l1-.1l1,.9l1,.1l1-.4l1-.3l1-.2l1-.4l1-1.1l.9-.5l.1-.1l1,.3l1,.6l1,0l1-.3l1,.7l1,.4l1-.2l1,0l1-.1l1,.2l1,0l1,.1l.6-.3l.4-.2l1,0l1,.9l1-.1l1-.4l1-.1l1-.8l1,.5l1,0l1-.4l1,.2l1,.3l1-.2l.3-.1l.7-.3l1,.3l1,.1l1-.5l1-.1l1-.1l1,.9l1-.1l1-.6l1,.1l1-.2l1-.1l1-.2l0,0l1,.5l1,.1l1-.1l1-.1l1-.2l1,.2l1,0l1-.5l1,.4l1,.7l1-.5l1-.3l.6-.3l.4-.3l1-.2l1,.9l1-.4l1-1.8l1-1.1l1,.7l1,1.1l1-.7l1-1.2l1-.8l1-.5l1-.3l.4,0l.6,.1l1-.1l1-.3l1-.3l1,.1l1-.6l1-.9l1-.5l1,.2l1,.6l1,.1l1-.6l1,.1l0,.1l1,.6l1-.4l1-.5l1-.8l1-.9l1-.4l1-.5l1,0l1-.1l1-.3l1-.5l1-.2l.7,.3l.3,.2l1,.3l1,.1l1,.2l1-.4l1-.8l1-.3l1-.1l1-.3l1-.3l1,.2l1-.4l1-.5l.4-.4l.6-.6l1-.7l1-.3l1,0l1-.2l1-.1l1,.2l1-.5l1-.5l1-.8l1,0l1,1.1l1-.3l.1-.2l.9-.8l1-.7l1,.1l1-.1l1,0l1,.4l1,.1l1-.9l1-1.2l1-.3l1,0l1-.5l.8-.2l.2,.1l1,.5l1,.9l1,.7l1,0l1,.1l1-.3l1,.1l1,.1l1,0l1,.2l1-.4l1,0l.5,.4l.5,.4l1,.6l1-.3l1-1l1,.5l1,.7l1-.6l1-1.2l1-.6l1,.2l1-.2l1,.2l1-.5l.2-.1l.8-.2l1-.2l1,.8l1,.8l1-.4l1-.4l1-.3l1,0l1,.2l1-.7l1,0l1,.2l.9-.4l.1,0l1-.5l1,.2l1,.1l1,1l1,.2l1-.1l1-.4l1-1l1-1.1l1,0l1-.3l1-.9l.6-.9l.4-.5l1-.8l1,.8l1,.2l1-.4l1-1.1l1-.6l1,0l1,.5l1,.4l1,.1l1,.5l1,0l1-.4l1-.3l1-.7l1,.3l1,.2l1-.5l1,.5l1,.5l1,0l1-.2l1-1.2l1-.7l1-.1l1,.6l1-.2l1-.2l1,.1l1-.7l1,0l1-.3l1-1l1,.3l1-.1l1-.7l1,.4l1-.5l1-.9l1-.3l1-.1l1,.3l.6,.1l.4,0l1-.8l1-.7l1-.2l1,.3l1,0l1,.1l1,.1l1-.7l1,.8l1,.7l1-.3l1,.3l1-.4l1-.1l1-.3l1-.6l1,.3l1,.2l1,.2l1-.5l1-.4l1,.5l1,.4l1-.9l1-.9l0,0l1,0l1-.1l1-.4l1-.4l1,.9l1,1.4l1,.3l1-.3l1,.1l1,.6l1-.2l1-.8l1-.1l1,.1l1-.3l1,.3l1,.2l1,0l1,.1l1,.1l.3,0l.7-.2l1-.3l1-.2l1-.2l1-.1l1-.3l1-.1l1,0l1,0l1-.3l1-.3l1,.1l1-.8l0,0l1-.2l1,0l1-.1l1,0l1-.2l1-.6l1-1.3l1,0l1,0l1-.9l1-1l1,.5l.7-.3l.3,0l1-.6l1,0l1-.2l1,.7l1,.3l1-.1l1,0l1-.1l1,.3l1,.2l1-.2l1,.8l1,.7l1,.6l1,.4l1,.8l1-.1l1-.8l1-.2l1-.1l1,.4l1,.2l.6,0l.4-.4l1-.4l1-1l1-.5l1-.6l1-1.3l1-1.1l1-.7l.2-.1l.8,0l1,.5l1-.2l1-.6l1-.9l1-.5l1,.1l1-.3l1-.2l1-.6l1-.1l1,.5l.9-.2l.1,0l1,.2l1,.2l1-.4l1,1l1,0l1-.6l1,0l1,.8l1,.5l1,.1l1,.8l1,.3l.6,.1l.4-.1l1-.4l1,.1l1,.4l1-.2l1-.9l1-.3l1,.6l1,.6l1-.2l1,.1l1,0l1,.4l1-.2l1-.6l.8-.2l.2-.1l1,.1l1-.2l1-1l1-.8l1-1l1-.5l1,.4l1,.5l1-.5l1-.5l0,0l1,.4l1-.8l1-.2l1,.3l1,.4l1,.3l1,.3l1,.5l1,.1l1-.1l1,0l1,.4l.6,.4l.4,.1l1-.3l1-.4l1-.7l1-.8l1-.3l1-.6l1,.9l1,.2l1-1.2l1-.9l1,0l1,.2l.4-.1l.6-.2l1-.9l1-.8l1,.2l1-.1l1-.1l1,.1l1-.3l1-.9l1-.7l1,.3l1-.1l1-.3l0,0l1-.2l1-.7l1,.2l1,.3l1-.4l1,0l1,.1l1,0l1,0l1,.3l1-.8l1-.1l1,.2l1,.1l1-.9l1-.1l1,.4l1-.5l1-.1l1,.3l.4,.2l.6,.5l1,0l1-.5l1,1l1,1.4l1,.2l1-.7l1-.5l1,.5l1,0l1,.4l1,.3l1,.2l1,.4l1-.1l1-.3l1-.1l1,.2l.1,0l.9-.6l1-.2l1,.7l1,.1l1-1.3l1-1.2l1-.2l1-.2l1-.5l1,0l1-.3l1-1.1l.8-.3l.2,0l1,1.5l1,.8l1,.2l1-.1l1,.7l1,1.3l1,.5l1,.2l1,0l1-.4l1-.1l1-.1l1,.8l1-.2l1,.7l1,.7l1,.7l.6,.1l.4-.1l1-.7l1-.5l1-.2l1-.2l1-.1l1,.1l1-.3l1-.7l1-.1l1-.6l1-.1l1,.1l1,.5l1-.2l1,0l1,.3l1-.4l1-1l1-1.5l.9-.5l.1,0l1,.2l1-.3l1-.3l1-.3l1,.2l1,1.1l1,.1l1-.4l1-.1l1,0l1,.9l1-.6l.6-.2l.4,0l1-.3l1,.4l1,.7l1,0l1-.8l1,0l1,.5l1,.7l1-.7l1-.9l1-.8l1-.3l1,.8l1,1.1l1-.1l1,0l1,0l1-.1l.2,.1" fill="none" stroke="#3A7D22" stroke-width="2.15" stroke-linejoin="round" stroke-dasharray="9.00 5.40 1.80 5.40 1.80 5.40"/>
<path d="M1813.5,459.1l1-13.2l1-13.2l.6-7.2l.4-13.7l1-29.8l1-29.8l.1-2.4l.9-25.9l1-28.5l.7-17.5l.3-4.6l1-11.8l1-11.7l.2-1.9l.8-5.5l1-6.6l1-6.5l1-6.9l0-.1l1-3.2l1-3.4l1-3.3l.8-2.4l.2-.3l1-1.8l1-1.5l1-1.8l1-1.3l.9-.4l.1,.1l1-.4l1-.4l1-1.7l1-1l1-.3l1-.9l.2-.3l.8-.3l1,.5l1,.3l1,1l1,1.7l1,1.6l.6,1l.4,.1l1-.9l1-2l1-1.3l.4-.1l.6,2.9l1,3.9l1,3.8l1,2.8l.2,.6l.8-3.6l1-2.6l1-3.2l1-2.8l1-3l.3-.9l.7-.9l1-1.5l1-1.5l1-1.5l1-.9l1-1.9l1-2.1l1-.6l1-.2l1-1.5l1-1.6l1-1.9l1-1.5l0,0l1,.4l1-.7l1-1.5l1-2.9l1-1.5l1,.6l1,.8l1-.4l1-1.1l1-1.3l1-1.7l1-1.4l.7-.4l.3-.3l1-.6l1-.5l1-1l1-1.8l1-.5l1,0l1-1.7l1-1.1l1-.9l1-.3l1-.6l1-1.4l.4-.2l.6,.3l1,.2l1,.1l1,1.1l1,.2l1-.1l1-1.7l1-.6l0,0l1-.4l1-.4l1-1.5l1-2.1l1-2.1l.1,0l.9,.1l1,.4l1-.2l1-1.2l1-.7l1,.4l1,.8l1-.6l1-1.5l1-1l1,.1l1-.4l.8-1.1l.2-.4l1-1.3l1,1.6l1-.4l1-.5l1-.3l1-.9l1-1.4l1-.7l1-.1l1,.1l1-1.9l1-1.8l.5,0l.5,.1l1,1.3l1-.6l1-1.6l1,.2l1,.5l1,.1l1,.9l1,.8l1,.3l1-.9l1,.8l1,1.2l.2-.1l.8-.5l1-.3l1,.9l1,.2l1-.6l1,.7l1,.6l1-1l1-.1l1,1l1,.6l1,.2l.9-.2l.1-.1l1-.7l1-.3l1-.6l1-.8l1,1.3l1,.5l1-1.9l1-.8l1,1l1-.3l1-1.2l1-1.7l.6-.2l.4-.3l1,1l1-.2l1-1l1-.1l1-.4l1-1.3l1-1.3l1-.9l1-1.3l1-1.4l1,0l1,1.5l.3,.1l.7,.8l1-.2l1,.9l1,1.4l1,.1l.3,.2l.7-.9l1-1.6l1-2.6l1-1.6l1-2l1-1.2l.7-.9l.3,.2l1,.7l1-.3l1,.6l1,1.4l1,.1l1,.7l1,1.4l1,.4l.6-.1l.4-.5l1,0l1-.3l1-.9l1-.3l1-.4l1-.3l1,0l1-.3l1-.8l1,0l1-1l1-1.4l1-.3l1,.5l1,.2l1-.5l1-1.9l.3-.5l.7-1.1l1-1.1l1-.3l1,.3l1,.5l1-.4l1-.1l1-.7l1,0l1,.8l1-.5l1-.8l1-.3l1-.9l1-.3l1,0l1,1.1l1,.1l1-.7l1,.3l1,.8l1-.5l1-1.1l1,.2l1,1.9l.7,.7l.3,.2l1-.9l1-1.1l1-1.3l1-1.2l1-.6l1,.1l1-.3l1-.4l1-.6l1-.3l1,0l1,.1l.4,.3l.6,1.7l1,.8l1,.2l1,1.7l1,2.8l.5,.7l.5-.2l1-2.4l1-1.2l1-.6l1,.4l1,0l1-.1l1-.5l1-1.6l1-.4l1,0l1-.7l1-1l1-1.2l1-.4l.7,.9l.3,.5l1,1.9l1,.9l1,.1l1-1.4l1-1.9l1-1l1,.5l1-.2l1-.7l1-.7l1,.2l1,.9l1-.4l1-.1l1,.5l1,0l1-.7l.5,.3l.5,.5l1-.4l1-.4l1-.1l1-.8l1,.6l1,.8l1,0l1,.3l1,.8l1,.1l1-.3l1,.1l.2,0l.8,.2l1,.6l1,1.1l1-.3l1-1.1l1-.2l1,.3l1,1.1l1,.5l1-.2l1,.2l1,.4l.9,.3l.1,0l1,0l1-.6l1,.1l1-.5l1-2.3l1-1.3l1-.4l1,.2l1,.4l1-.4l1-1l1,.2l1,.6l1,.2l1-.7l1,.6l1,.8l1-.4l1-1.1l1-1.4l1-.6l1,.3l1,1.5l1-.2l1-.4l1,0l1-.1l1-1.2l1-.8l1-.6l.2,0l.8,1l1-.4l1-.5l1,.1l1-.1l1,1.2l.5,.7l.5,.2l1-.2l1-.3l1-.6l1-.3l1,.1l1-1.4l1-.6l1,.2l1,.4l1-.6l1-1l1-.2l1,.8l1-.2l1-1.6l1-1.1l.1,0l.9,1.4l1,1.2l1-.4l1,.1l1,.1l1,1.1l1,1.3l1,.2l1-.2l1,.6l.2,.1l.8,.3l1,.2l1-.5l1,.6l1,1.2l1,.3l1-.3l.8,0l.2-.1l1-.8l1-.4l1-.6l1-1.6l1-1.1l1-1.7l1-.3l1,.5l1,.2l1,.2l1-.5l1-.5l.5-.7l.5-.5l1-.2l1-.6l1-.5l1,1.1l1,.8l1-.2l1-.2l1,0l1-.1l1,0l1-.1l1,0l1-1.2l1,.2l1,1.6l1,.9l1-.5l.3-.2l.7-.8l1-.2l1-.1l1,1l1,.7l1-1.2l1-1.2l1,.5l1-.1l1-1.3l1-.1l1-.5l1-.1l0,0l1,.1l1-.8l1,.5l1,2.6l1,.7l1-.5l1-.7l1-.3l1-.1l1-.4l.1,.1l.9-.3l1,0l1-.4l1-.9l1-.1l1,.4l1-1l1-.8l1,0l1-.7l.3-.4l.7,.1l1,.6l1,.6l1,2.2l1,2.8l1,0l1-.7l.9,2.1l.1,.1l1,1.6l1-.4l1,.3l1-.4l1,0l1,.7l1,.6l.5-.1l.5-.5l1-.8l1-.1l1,.6l1-.7l1-1.3l1-.3l1,.4l1,.1l1,.1l.7,.1l.3,.2l1,.5l1,.4l1-.5l1,.7l1,1l1-.1l1-.5l1-.9l1-1l1-.4l1,.7l1,1l1,.9l1-.4l.9,.5l.1,0l1,.4l1,.1l1-1.1l1-.3l1-.8l1,.7l1,.3l1-.9l1,0l1-.1l.1-.1l.9-1.5l1-1.4l1-.6l1,.1l1,0l1,.5l1-.6l.7-.4l.3-.1l1,0l1,.8l1-.5l1-1.5l1-1l1-.7l1,.7l1,.5l1,1l1,.1l1-.6l1,0l.4-.4l.6-.8l1-1l1-.6l1,.4l1,.5l1,.8l1,.1l1-.4l1,.4l1-.8l.6-1.1l.4-.5l1,1.1l1,1.9l1,2l1,.4l1-.2l1,.2l1,1.5l1,1.1l1-.2l1,.1l1,1.1l1,0l.3,.3l.7-.6l1-.5l1-1.9l1-1.5l1-1l.3,.1l.7,.8l1-.1l1-.4l1,0l1,1.2l1-.1l1-1.1l1-1l1-1l1,.8l1,.5l1-1.1l1-.7l1-.1l1,.2l1-.8l1-1l1,.5l.1,0l.9,.2l1,.2l1,.1l1,.4l1,.5l1-.3l1,.5l1,1.7l1,1.5l1,0l.3,0l.7,.2l1,.7l1,.6l1,.9l1,1.3l1,.1l1-.1l1,.6l1,.8l.2,0l.8-.7l1-1.5l1-1l1-.9l1-1.4l1-.9l1-.3l1-.4l1-1.6l.1,0l.9-.8l1,1.2l1,1.9l1,.9l1,.8l1,1.1l1,1.5l.7,.6l.3-.2l1-1.1l1-1.2l1-.1l1-.5l1,0l1-1.6l1-1.6l1-1.3l1,0l1-.6l1-.1l1,1l1,0l.6-1.4l.4-.2l1-.6l1,.6l1,2.2l.5,.7l.5,.2l1-1l1,.1l1,1.4l1,.1l1-1.1l1-2l1-1l1-.3l1,.2l1,.3l1,.4l1,.1l.1,0l.9,.1l1,.2l1-.2l1-1l1-.5l1,.4l1,1.1l1-1.2l1-1.4l1-.4l1,.2l1,.1l1-.2l1,.3l.1,0l.9,1.2l1,0l1,1l1,1.2l1-.4l1,1l.5,.8l.5,.4l1-.7l1-.2l1-.2l1,.8l1,.1l1-1.9l1-1.1l.1,0l.9,.2l1-.6l1-.4l1,.4l1,1.2l1,1.3l1,.1l1,0l.5-.2" fill="none" stroke="#E83323" stroke-width="2.15" stroke-linejoin="round"/>
</g>
<text x="1811.0" y="490.8" font-size="26.82" text-anchor="middle" fill="#262626" textLength="56.3" lengthAdjust="spacingAndGlyphs">0.00</text>
<text x="1894.9" y="490.8" font-size="26.82" text-anchor="middle" fill="#262626" textLength="56.3" lengthAdjust="spacingAndGlyphs">0.25</text>
<text x="1978.8" y="490.8" font-size="26.82" text-anchor="middle" fill="#262626" textLength="56.3" lengthAdjust="spacingAndGlyphs">0.50</text>
<text x="2062.6" y="490.8" font-size="26.82" text-anchor="middle" fill="#262626" textLength="56.3" lengthAdjust="spacingAndGlyphs">0.75</text>
<text x="2146.5" y="490.8" font-size="26.82" text-anchor="middle" fill="#262626" textLength="56.3" lengthAdjust="spacingAndGlyphs">1.00</text>
<text x="2230.4" y="490.8" font-size="26.82" text-anchor="middle" fill="#262626" textLength="56.3" lengthAdjust="spacingAndGlyphs">1.25</text>
<text x="2314.2" y="490.8" font-size="26.82" text-anchor="middle" fill="#262626" textLength="56.3" lengthAdjust="spacingAndGlyphs">1.50</text>
<text x="2398.1" y="490.8" font-size="26.82" text-anchor="middle" fill="#262626" textLength="56.3" lengthAdjust="spacingAndGlyphs">1.75</text>
<text x="2482.0" y="490.8" font-size="26.82" text-anchor="middle" fill="#262626" textLength="56.3" lengthAdjust="spacingAndGlyphs">2.00</text>
<text x="1798.0" y="468.8" font-size="26.82" text-anchor="end" fill="#262626" textLength="16.1" lengthAdjust="spacingAndGlyphs">0</text>
<text x="1798.0" y="371.5" font-size="26.82" text-anchor="end" fill="#262626" textLength="32.2" lengthAdjust="spacingAndGlyphs">10</text>
<text x="1798.0" y="274.3" font-size="26.82" text-anchor="end" fill="#262626" textLength="32.2" lengthAdjust="spacingAndGlyphs">20</text>
<text x="1798.0" y="177.0" font-size="26.82" text-anchor="end" fill="#262626" textLength="32.2" lengthAdjust="spacingAndGlyphs">30</text>
<text x="1798.0" y="79.8" font-size="26.82" text-anchor="end" fill="#262626" textLength="32.2" lengthAdjust="spacingAndGlyphs">40</text>
<text x="2460.0" y="518.7" font-size="25.93" text-anchor="end" fill="#262626" textLength="53.4" lengthAdjust="spacingAndGlyphs">×10</text>
<text x="2482.5" y="509.4" font-size="18.77" text-anchor="end" fill="#262626" textLength="22.5" lengthAdjust="spacingAndGlyphs">10</text>
<text x="2146.5" y="529.8" font-size="38.95" text-anchor="middle" fill="#262626" textLength="189.0" lengthAdjust="spacingAndGlyphs">Env Steps</text>
<text x="2146.5" y="56.7" font-size="41.51" text-anchor="middle" fill="#262626" textLength="479.9" lengthAdjust="spacingAndGlyphs">AllegroKuka Regrasping</text>
<text x="0" y="0" transform="translate(1752.5,264.5) rotate(-90)" font-size="38.95" text-anchor="middle" fill="#262626" textLength="357.5" lengthAdjust="spacingAndGlyphs">Episode Successes</text>
</g>
<g id="P4">
<rect x="120" y="625" width="671" height="389" fill="#EAEAF2"/>
<clipPath id="cP4"><rect x="120" y="625" width="671" height="389"/></clipPath>
<path d="M120.00,625V1014M203.88,625V1014M287.75,625V1014M371.62,625V1014M455.50,625V1014M539.38,625V1014M623.25,625V1014M707.12,625V1014M791.15,625V1014M120,1014.15H791M120,932.75H791M120,851.50H791M120,770.25H791M120,689.00H791" stroke="#fff" stroke-width="1.30" fill="none" clip-path="url(#cP4)"/>
<g clip-path="url(#cP4)">
<path d="M130.2,1013.0l2-3.7l.5-1l1.5-2.9l2-4l1.6-3.1l.4-.3l2-2.3l2-1.5l.6-.9l1.4,0l2,.6l2,.4l2,1.6l2-.1l.8,.3l1.2,.7l2,.5l2,.6l2-.4l.4,.1l1.6,.8l2,1.3l2-.2l2,1.9l2,.2l.6,.7l1.4,.3l2-.5l2-1l2-1.1l2-.2l2,1.4l1.3-1.2l.7-.5l2,.9l2,.2l2,.7l2,.6l2,.3l2,0l0,0l2,.6l2,.2l2,.7l2,1.2l2,.1l2-.4l.7-.4l1.3,.5l2,1.4l2-.5l2-.4l2,1l2,.4l1.4,0l.6-.4l2-.7l2-1.3l2,.4l2,.1l2-.6l2-.1l2-.6l2,.2l2-.3l2-1l2,.8l2-.5l.8-.2l1.2,.1l2,.3l2-.7l2,.1l2-.5l2,.3l2-.8l2,.3l2,.5l2-1.5l2,.6l2-.2l2-.7l.2,0l1.8,0l2,.7l2,.3l2-.1l2,.3l2-.2l2,1l2,.4l2-.5l2,.9l2-.5l2,.4l1.6,.8l.4,0l2-.6l2-.1l2-.7l2-.1l2-.1l2-1l2-.5l2-1.1l2-.4l2-.9l2,.6l2-.9l1,.2l1,.3l2,.8l2-1.3l2,.4l2,.2l2-.7l2,.4l2-.9l2-.2l2,0l2-.3l2,.5l2-.4l.3-.1l1.7,.4l2,.1l2-.4l2,.9l2,.8l2-.8l2,.7l2-.3l2,.6l2-.4l2,0l2,.6l1.7-.1l.3,0l2-.4l2,.3l2-.6l2,.1l2,.5l2-.4l2,.2l2-.4l2,.7l2,.6l2-.5l2-.3l1.1-.4l.9,.1l2,.4l2,.6l2-.9l2,1.1l2,.8l2-1.2l2-.1l2,.9l2,1.5l2,.3l2-.1l2,.9l.5-.3l1.5,.1l2-.8l2,.1l2,.4l2-.6l2,.6l2,.8l2-.2l2,0l2-.2l2,1.5l2-.8l2,.2l2-.4l2,.4l2-1l2,.1l2,1.5l2-1.5l2,.8l2,.3l2,.4l2-1.2l2,1.3l.6,.1l1.4-.2l2-2l2,1l2-.3l2-1l2-.7l2-.5l2-1.3l2,.9l2-.3l.9-.2l1.1,.2l2-.8l2-.9l2,.1l2-.4l2-1.2l2-.5l2-.3l2-.7l2,.9l2-.1l2-.9l2-.9l.3-.1l1.7,.3l2,.4l2,.5l2,.4l2-.1l2,.1l2-.3l2,.8l2-.1l2,.3l.6,.5l1.4,.4l2,0l2-1l2-.2l2,2.1l2-.9l2,.5l2,.3l2-1.1l.4-.2l1.6-.1l2,.7l2,.7l2,.6l2,.2l2,.6l2,.7l2-.4l2,.7l2,.8l2-.8l2,.8l1.8-.2l.2-.1l2-.1l2-.2l2,.5l2-.1l2,.6l2,.1l2,.2l2-.3l2,.6l2-1.2l2-.3l2,1.1l1.2,.8l.8,.1l2-1l2-.9l2,.8l2,.2l2-1l2,.1l2,.2l2,.1l2-1.6l2-.2l2,.4l2-.2l.6,0l1.4,.5l2,.2l2,.1l2-.3l2,0l2-1.2l2,1l2-1.2l2-.6l2,0l2-.2l2-.5l2-.2l0,0l2,1.5l2-1.1l2,.5l2,.7l2-.2l2-1.2l2,.5l2,.8l2-.2l2,.3l2-.1l2-.4l1.3,.9l.7,.5l2,0l2-.1l2-1l2,.5l2-.7l2-.5l2-.7l2,.4l2,.7l2-.2l2,0l2-.6l.7,0l1.3-.2l2,1.5l2-.4l2-.5l2-.5l2,1.1l2,.2l2-.2l2,.4l2-.6l2,.2l2-.1l2-.3l.1-.1l1.9-.6l2,.2l2,.1l2,0l2,.4l2-1.7l2,.3l2-.2l2-.4l2-.8l2,.7l2,.5l1.5,.1l.5-.1l2-.3l2,1l2,.1l2,0l2-.6l2-.5l2,1.2l2,.1l2-.1l2-.4l2-.1l2,.3l2,.9l2-.6l2,.6l.8,.2l0,15.2l-660.8,1.5Z" fill="#0000FF" fill-opacity="0.2"/>
<path d="M130.2,1012.3l1.5-3.8l1-2.6l.5-2.5l1.5-8.1l1.5-8.4l1.5-8.4l.1-.6l1.4-2.3l1.5-2.9l1.5-3.1l1.5-3.4l.4-1.2l1.1,1.3l1.5,2.9l1.5,2.9l1.5,2.7l.8,1.6l.7,2l1.5,3.7l1.5,3l1.4,4.8l.1,.1l1.5-.5l1.5-1.4l1.5-.1l1.5-.9l1.5-.3l1.5-.8l1-1l.5-.7l1.5-.4l1.5-1.2l1.5-2.6l.1-.1l1.4,1.4l1.5-.3l1.5,.2l1.5-.3l1.5,0l1.5,1.1l1.2,.6l.3,.1l1.5,.3l1.5,.1l1.5,1.7l1.5,1.5l1.5,.8l1.5,1.5l.9,1.2l.6,0l1.5,0l1.5,0l1.5,1.9l1.5,.4l1.5,.9l1.5-.3l1.5,1.1l1.5-1.3l1.5-1.1l1.5,1.6l1.5,1.6l.7-1.2l.8-.5l1.5,.5l1.5,.4l1.5,.6l1.5-.7l1.5,0l1.5-1.1l1.5-.1l1.4,.8l.1,0l1.5,.2l1.5,.3l1.5,.4l1.5-.3l1.5,.4l1.5-.3l1.5,.1l1.5,.6l1.5,.6l1.5-.6l1.5-1.1l1.5,1.8l1.5,1l1.5-.6l1.5-.2l1.5,1.1l1.3,1.3l.2,0l1.5-1.3l1.5-1.9l1.5-1.2l1.5-.8l1.5,.4l1.5,.2l1.5-.1l1.5-1.1l1.5,.4l1.5-.8l1.5,0l1.5,.9l1.5-.2l1.5-.1l1.5-.5l1.5-.7l1.2,.1l.3,.1l1.5,.6l1.5,.5l1.5-1.1l1.5-.3l1.5,2.4l1.5,.8l1.5-.9l1.5,0l1.5,.6l1.5,.6l1.5,1.5l1.5-1.2l1.5-.3l1.5-1l1.5,.1l1.5,1l1.1,.9l.4,.3l1.5,.1l1.5,.8l1.5-.1l1.5,.1l1.5-.2l1.5-1.2l1.5,1.5l1.5,0l1.5-.6l1.5,.8l1.5,.4l1.5-.6l1.5,1.9l1.5,.7l1.5-.4l1.5-.9l1-.4l.5-.2l1.5-.7l1.5,.5l1.5,.8l1.5,.8l1.5,0l1.5-1.2l1.5,0l1.5,1.9l1.5,.2l1.5-1.2l1.5,.1l1.5,1.2l1.5,.1l1.5-.2l1.5,.4l1.5-1.8l.8,.4l.7,.5l1.5,.2l1.5-.1l1.5-.5l1.5,.2l1.5-.2l1.5,.8l1.5-1.3l1.5-.1l1.5,0l1.5,1.2l1.5-.5l1.5-2.2l1.5,.1l1.5,.6l1.5,.8l1.5,1.5l.7,.1l.8-.3l1.5-.3l1.5-.1l1.5-.1l1.5,.5l1.5-.2l1.5,0l1.5-.4l1.5-.7l1.5,.8l1.5-.7l1.5,.5l1.5,.1l1.5,0l1.5-.2l1.5-.8l1.5,1.2l.6,.4l.9-.7l1.5-2l1.5-.6l1.5,.1l1.5-.4l1.5-.5l1.5-.8l1.5,.4l1.3,.3l.2,0l1.5,.7l1.5-.9l1.5-1.1l1.5,.8l1.5-1.3l1.5-.5l1.5-.2l1.5-1.3l.5,0l1,0l1.5-.5l1.5-.2l1.5,.7l1.5-.8l1.5-.9l1.5-.5l1.5-1.9l1.2-.2l.3,.1l1.5,.8l1.5,.3l1.5-.6l1.5-.7l1.5-.8l1.5,.3l1.5-.3l1.5-1.9l1.5-1.7l1.5,1.5l1.5,.5l1.5,.5l1.5-1.5l1.5,.3l1.5,1.5l1.5-.4l1.5-.6l1.5-.7l1.5-.1l1.5,.4l1.5-.6l1.5-.9l1.5,.4l.6-.6l.9-1l1.5-.7l1.5-1.2l1.5-1.8l1.5-1.3l.7-.4l.8,0l1.5-.8l1.5,0l1.5-.2l1.5-.5l1.5,.2l1.5-.8l1.5,1.6l1.4-.2l.1-.1l1.5-2.2l1.5-.6l1.5-1.1l1.5-1.5l1.5-.5l0-.1l1.5-.8l1.5-.6l1.5,.4l1.5-1.3l1.5-1.3l1.5,.3l1.5-.2l1.5-1.1l1.5-.8l1.5,.7l1.5-.9l1.3-.4l.2,0l1.5,0l1.5-.8l1.5-.6l1.5,1l1.5-.5l1.5-.3l1.5,.6l1.5-1.2l.5-.3l1-.5l1.5-1.2l1.5-2.5l1.5-1.6l1.5-1.8l1.5-1.6l1.5-.4l.1-.3l1.4-.2l1.5-.2l1.5,1.6l1.5,.5l1.5-.5l1.5,1.7l1.3-.9l.2-.3l1.5-1.1l1.5,.7l1.5-1.2l1.5-.4l1.5-.3l1.5,0l1.5-.7l1.5-.3l.5-.2l1-.1l1.5,.2l1.5,.7l1.5-.8l1.5-.3l1.5-.5l1.5,.6l.2,.1l1.3-1.7l1.5-2.7l1.5-3.1l1.5-2.5l1.5-1.2l.3-.3l1.2-1.5l1.5-.4l1.5-1.2l1.5-2l1.5-2l1.5-1.1l1.5-.8l1.5-.8l1-.8l.5,.2l1.5,1l1.5,.4l1.5,.8l1.5-.7l1.5-.3l1.5-.3l1.5,3l1.5,1.3l.2,0l1.3-.6l1.5-.6l1.5,.8l1.5-.6l1.5,.4l1.5,1.6l1.3-1.7l.2,.1l1.5,2.5l1.5,2.2l1.5,2.4l1.5,1.1l1.5,2.3l1.5,2.5l1,1.8l.5,1.1l1.5,2.9l1.5,1.6l1.5,1.8l1.5,4.9l1.5,1.5l1.5,2.7l.6,2l.9,1l1.5,.6l1.5,1.2l1.5,2.2l1.5-.1l1.5,1l1.5,2.7l1.5,.8l1.5,.1l1.5,1.9l.9,.9l.6,.2l1.5,.3l1.5,.3l1.5,.3l1.5,.9l1.5,2.3l1.5,1.7l1.5,.2l1.5,1l1.5,2.1l1.5-.4l1.5,2l.6,.1l.9,0l1.5,.2l1.5,1.3l1.5,1.5l1.5-1.4l1.5,.1l1.5,2l1.5,.1l1.3,1.9l.2,.1l1.5,0l1.5-.4l1.5,.6l1.5-1.2l1.5,1l1.5-.4l1.5-.7l1.5,.7l.5,.1l1-.3l1.5-1.6l1.5-.2l1.5,.2l1.5-1l1.5,.6l1.5,.2l1.5-1.5l1.2-1.3l.3-.2l1.5-.5l1.5,.8l1.5-.3l1.5-2.1l1.5-1.4l1.5-1.5l1.5,.2l1.5,.8l.4-.8l1.1-1.6l1.5-2.1l1.5,.2l1.5-.4l1.5-1.6l1.5,0l1.5-.4l1.5-1l1.1-1.6l.4-.6l1.5-1.4l1.5,.5l1.5-1.7l1.5-.2l1.5,0l1.5,.5l1.5-1.9l1.5-1.1l.3,.1l1.2,.2l1.5-1.3l1.5-1l1.5-.8l1.5,.2l.4-.2l1.1-.3l1.5-1l1.5-1l1.5,.2l1.5-.5l1.5-.1l1.5-1.3l.1-.2l1.4-1.2l1.5-.2l1.5-.7l1.5-1.1l1.5,1.3l1.5-.5l1.5-1l1.5-1.7l1.5,0l1.5,.2l1.5-1.2l1.5-1.3l1.5,.5l.9,1.1l.6,.1l1.5-.1l1.5-.5l1.5-.3l.8-.1l0,55.6l-.8,.1l-1.5,.1l-1.5-.7l-1.5-1.1l-1.5,.2l-1.5,.2l-1.5-.4l-1.5,.1l-1.5-1.3l-1.5,.3l-1.5,0l-1.5-.5l-1.5-.3l-1.5,.4l-1.5,1l-1.5,1.6l-1.5-1.1l-1.5,.5l-1.5,0l-1.5-.7l-1.5,1.3l-1.5,.2l-1.5-.2l-1.5-.2l-1.5,.1l-1.5,.7l-1.5-.3l-1.5-.6l-1.5,.4l-1.5,.2l-1.5,.8l-1.5-.6l-1.5,.6l-1.5,.1l-1.5-.8l-1.5-1l-1.5,.5l-1.5-.1l-1.5,.2l-1.5,.4l-1.5-1.3l-1.5,.8l-1.5-1l-1.5-1l-1.5-1.1l-1.5,2l-1.5,.2l-1.5,.4l-1.5-1.4l-1.5,.3l-1.5,.2l-1.5-.4l-1.5,0l-1.5,.6l-1.5,1.1l-.3,0l-1.2,.2l-1.5-.6l-1.5,.3l-1.5,.8l-1.5,.7l-1.5,.9l-1.5-.2l-1.5-1l-1,1.1l-.5-.2l-1.5-.5l-1.5-2.5l-1.5-1.5l-1.5-.4l-1.5-.5l-1.5-.5l-1.5,.5l-1.5-.9l-.2-.2l-1.3-1l-1.5,.6l-1.5,0l-1.5,.2l-1.5,.7l-1.5,.9l-1.5,.5l-1.5-.5l-1.5-.3l-1.5,.3l-1.5,.3l-1.5,.9l-1.5-.6l-1.5-.5l-1.5,.7l-1.5,.7l-1.5-1.1l0,0l-1.5,.4l-1.5-.2l-1.5-.3l-1.5,.7l-1.5,.2l-1.5,.5l-1.5,.2l-1.5,.1l-1.5,.8l-1.5-.3l-1.5-.4l-1.5,1.6l-1.5-.3l-1.5-.5l-1.5-.6l-1.5,.3l-1.5,.5l-1.5-.6l-1.5-.7l-1.5,.1l-1.5,.6l-1.5-.4l-1.5-.6l-1.5,.5l-1.5,.7l-1.5-.8l-1.5-1l-1.5-1.1l-1.5,.6l-1.5,1l-1.5,.2l-1.5,.3l-1.5,0l-1.3,0l-.2,0l-1.5,1l-1.5,0l-1.5,.1l-1.5-.5l-1.5,.1l-1.5-.1l-1.5-1l-1.5,1.1l-1.5,.7l-1.5-.8l-1.5,.5l-1.5,.3l-1.5,0l-1.5,.9l-1.5,.9l-1.5,.7l-1.5-1.1l-1.5-1.1l-1.5,.5l-1.5,.7l-1.5-.9l-1.5-.2l-1.5-.1l-1.5-.9l-1.5,.6l-1.5,.2l-1.5-1.8l-1.5-.1l-1.5-.2l-1.5,.6l-1.5,1.6l-1.5,1.1l-1.5-2l-1.1-1.1l-.4-.3l-1.5,.5l-1.5-.3l-1.5-.5l-1.5,.8l-1.5,.4l-1.5-.8l-1.5,1.4l-1.5,.5l-1.5-.3l-1.5,.6l-1.5-1.2l-1.5,.1l-1.5,.2l-1.5,.8l-1.5,.6l-1.5,.2l-1.5-2.3l-1.5-.2l-1.5,.4l-1.5-.7l-1.5-.5l-1.5,1.2l-1.5-.7l-1.5-.8l-1.5,.1l-1.5-.3l-1.5,.2l-1.5-.2l-1.5,.6l-1.5,1.3l-1.5-.2l-1.5-1l-1.5,.4l-.9,.1l-.6-.1l-1.5,1l-1.5-1.1l-1.5-.3l-1.5,.6l-1.5,.1l-1.5,.3l-1.5-.9l-1.5-.5l-1.5,.4l-1.5,.8l-1.5,.4l-1.5-.7l-1.5-.1l-1.5,.6l-1.5-.2l-1.5-.5l-1.5,.2l-1.5,.5l-1.5-.1l-1.5-.9l-1.5-1l-1.5,.2l-1.5-.9l-1.5,0l-1.5,.6l-1.5,1.1l-1.5-.1l-1.5,.2l-1.5,.3l-1.5,0l-1.5,.7l-1.5,.9l-1.5-.1l-1.5-1.5l-1.5,.6l-1.5,0l-1.5-.1l-1.5-.5l-1.5-1.1l-1.5-.1l-1.5,.7l-1.5,.7l-1.5,.1l-1.5-.3l-1.5,1.6l-1.5-.5l-1.5-.6l-1.5-.5l-1.5,.1l-1.5,.2l-1.5-.9l-1.5,.2l-1.5,0l-1,1l-.5,.5l-1.5-.4l-1.5-.4l-1.5,.9l-1.5-.4l-1.5-.5l-1.5-.3l-1.5-.4l-1.5,1.9l-1.5,.3l-1.5-1.1l-1.5-.8l-1.5,0l-1.5,1.3l-1.5-.7l-1.5-.6l-1.5,1.7l-.9,.6l-.6,.2l-1.5-.4l-1.5-.3l-1.5-.6l-1.5-1.1l-1.5-.3l-1.5,.6l-1.5-.1l-1.5,.3l-1.5-.3l-1.5,0l-1.5,1l-1.5-.1l-1.5,.5l-1.5-.9l-1.5,0l-1.5-.4l-.8-.1l-.7,.4l-1.5-.6l-1.5-.1l-1.5-.4l-1.5-.6l-1.5,1.7l-1.5-1.4l-1.5,.8l-1.5-.1l-1.5-.3l-1.5,0l-1.5,1.8l-1.5-.1l-1.5-.8l-1.5,.3l-1.5-.5l-1.5-.1l-.7,.9l-.8,1l-1.5,.4l-1.5-1.2l-1.5-.7l-1.5,.5l-1.5-.8l-1.5-.7l-1.5,.4l-1.5,.5l-1.5,1.1l-1.5-.7l-1.5-1l-1.5-.4l-1.5-.3l-1.5-.1l-1.5-.5l-1.5,1.3l-.5-.1l-1-.1l-1.5,.8l-1.5,.2l-1.5-.4l-1.5-1.1l-1.5,.3l-1.5-1.4l-1.5,.3l-1.5,.3l-1.5-1.3l-1.5,.8l-1.5,.3l-1.5-1.4l-1.5-.9l-1.5,.1l-1.5-.4l-1.5,.8l-.4-.3l-1.1-.9l-1.5,.6l-1.5,.1l-1.5-.2l-1.5,.5l-1.5,.1l-1.5,.4l-1.5-1l-1.5,.3l-1.5,1.3l-1.5-.1l-1.5-.5l-1.5,.2l-1.5,.4l-1.5,.5l-1.5-1l-1.5-1.6l-.3-.2l-1.2-.6l-1.5,.7l-1.5,.7l-1.5,.7l-1.5,.3l-1.5-.8l-1.5-.7l-1.5,1.1l-1.5,1.4l-1.5-.3l-1.5-1l-1.5,.3l-1.5-.1l-1.5,.2l-1.5,.8l-1.5-.7l-1.5,.3l-.2-.1l-1.3-.6l-1.5-.9l-1.5,0l-1.5,.3l-1.5,1.1l-1.5-.2l-1.5-1.5l-1.5-.1l-1.5,.5l-1.5-.4l-1.5,0l-1.5-.9l-1.5-.5l-1.5,1.8l-1.5-.3l-1.5-.9l-1.5,.3l-.1,0l-1.4,.9l-1.5,.9l-1.5-.1l-1.5,0l-1.5,.1l-1.5-.7l-1.5-.5l-1.5-.8l-1.5,1.4l-1.5-1.5l-1.5-.2l-1.5,.4l-1.5-.5l-1.5-.3l-1.5-.2l-1.5-.8l-1.5,.4l0,0l-1.5-1.1l-1.5-.5l-1.5,1.2l-1.5,.9l-1.5-1l-1.5-.1l-1.5,.4l-1.5,.5l-1.5,0l-1.5,.4l-1.5,.3l-1.5-1.9l-1.5-.4l-1.5,1.2l-1.5-1.5l-1.5,.3l-1.4,.6l-.1,0l-1.5-.5l-1.5-.1l-1.5-.5l-1.5,.6l-1.5,.5l-1.5-1.6l-1.5,.9l-1.5,1.3l-.6,.5l-.9,.4l-1.5-1l-1.5-1.9l-1.5-1l-1.5-1.1l-1.5,.4l-1.5-.2l-1.5-.3l-1.3-.3l-.2,.2l-1.5,1.5l-1.5,1.3l-1.5,2.1l-1.5,2l-1.5,1.6l-1.5,1.6l-1.5,2l-1.5,2l-.5,.5l-1,.2l-1.5,.6Z" fill="#75147C" fill-opacity="0.2"/>
<path d="M130.2,1012.8l1.5-4.3l1.5-3.9l1.5-4.5l.5-1.9l1-1.5l1.5-1.3l1.5-2.3l1.1-2.4l.4-.3l1.5-.8l1.5,.4l1.5-.3l1.5-.7l1.5-.1l1.5,.6l.8-.8l.7-.8l1.5,.1l1.5,0l1.5-2.3l1.5-2.8l1.5,2.6l1.5-.9l1.5,3.1l1.5,1.2l1.5-.9l1.5-.1l1.5,.1l1.5,2.5l1.5-1.3l.1-.4l1.4-.7l1.5,2.9l1.5,1.3l1.5,1l1.5-.2l1.5-1.5l1.5,.7l1.5,.2l1.5-1.1l1.5-1.8l1.5,2.1l1.5,2.2l1.5-2.6l1.5-1.6l1.5-.1l1.5,1.2l1.5-2.4l0,0l1.5,.5l1.5,1.7l1.5-2.2l1.5-.4l1.5-.3l1.5,1.6l1.5-.2l1.5-2.7l.7-.6l.8-.4l1.5-.6l1.5,.8l1.5-.2l1.5-.2l1.5-4.7l1.5-1.9l1.5-1.6l1.4-1.7l.1,.1l1.5,.1l1.5-5.1l1.5-1.3l1.5,.7l1.5-2.5l1.5-3.4l1.5-2.8l1.5-2.1l.6-.2l.9,.7l1.5-4.2l1.5-2l1.5-.3l1.5-1.2l1.5-3.6l1.5-4l1.5-3.6l1.3,.2l.2,.2l1.5,.7l1.5-3.6l1.5-6.7l1.5-2l1.5-1.8l1.5-2.8l1.5-3.9l1.5-3.1l.5-.8l1-.3l1.5-2.6l1.5-4.6l1.5-2.5l1.5,.8l1.5-2.9l1.5-4.2l1.5-1l1.2-.4l.3-1l1.5-3.5l1.5-1.7l1.5-4l1.5-3.5l1.5-1.5l1.5-3l1.5-1.5l1.5-.1l.4,.7l1.1-.1l1.5-2.9l1.5-2.1l1.5-.6l1.5-3l1.5-3.3l1.5-2.6l1.5-4.6l1.1-1l.4-.1l1.5-2.1l1.5-1.4l1.5-2.1l1.5-3l1.5-4l1.5-1.6l1.5-1.4l1.5-2.4l1.5-4.3l1.3,0l.2,.4l1.5-1.4l1.5,.8l1.5,.6l1.5,1.4l1.5-.7l1.5-1.7l1-1.7l.5-.8l1.5-1.5l1.5-1.1l1.5-.6l1.3-4.2l.2,0l1.5,1.4l1.5,1.1l1.5,1.1l1.5-2.4l.1-.1l1.4-1.2l1.5-2.7l1.5-4.4l1.5-1.8l1.5,.9l1.5-2.6l1.5-1.5l1.5-3.5l.8-1.4l.7-.5l1.5-.5l1.5-1.1l1.5-1.7l1.5,.4l1-.2l.5-.8l1.5-1.7l1.5-1.3l1.5-5l1.5-1l1.1-1l.4-.3l1.5-1l1.5-2.7l1.5,1.3l1.5-1.5l1.5-.7l1.5-.4l.7-1.5l.8-.6l1.5-.4l1.5,2.3l1.5,.9l1.5-2.9l1.5-.3l1.5-2.6l1.5-.5l1.4,.4l.1,0l1.5-2.6l1.5,.2l1.5,.5l1.5-.8l1.5-1.9l1.5-.9l1.5,1.5l1.5-1.3l.6-1.3l.9-2.2l1.5-1.8l1.5,2.2l1.5,1l1.5-1.7l1.5,.4l1.5,.5l1.5-.7l1.3-3.1l.2-.3l1.5-1l1.5,3.4l1.5-.5l1.5-.5l1.5-2.6l1.5-1.7l1.5-1.7l1.5-1.7l.5-1.1l1-2.5l1.5,.4l1.5,1.8l1.5-3.2l1.5-.5l.6-.4l.9-.6l1.5-.7l1.5-2.2l1.5-1.1l1.5-.2l1.5,1.2l1.5-1.3l1.5,1.8l1.5-.6l1.5-3.3l1.5,2l1.5-.9l.4-.4l1.1,.4l1.5-.6l1.5-.8l1.5-2.4l1.5,.6l1.5,1.1l1.5-.2l1.5,.3l1.5,.5l1.5,.4l1.5-1.8l1.5-2.9l1.5,1.8l1.5,1.9l1.5,.1l.6-1.1l.9-1.5l1.5-1.7l1.5-.6l1.5-.1l1.5,.5l1.5-1.8l1.5-3.5l1.5-1l1.5-.9l1.5,.4l1.5-.3l1.5-.3l1.5-.3l1.4,.1l.1,0l1.5-.9l1.5-.3l1.5,.1l1.5,.6l1.5,0l1.5-4.1l1,1.3l.5,.4l1.5-.8l1.5-.7l1.5-4.6l1.5,.4l1.5-1.4l1.5,.6l1.5,2.2l1.5-3.1l1.5-2.3l1.3,0l.2,0l1.5-3l1.5,1.4l1.5,2.3l1.5,.7l1.5-.9l1.5-.3l1.5-1.6l1.5,1.4l.5,.5l1-1l1.5,1.7l1.5-.2l1.5,0l1.5-1.6l1.5-1.9l1.5-.7l1.5,2.3l1.5-.9l1.5-.4l1.5-3.6l1.5,.5l.3,.2l1.2-.7l1.5,3.3l1.5,.8l1.5-.6l1.5,1.2l1.5-1.8l1.5-.9l1.5-1.2l1.5-.6l1.5-1.2l1.5,.9l1.5-.2l1.5-2.2l1.1,.2l.4,.9l1.5,1.2l1.5-1.9l1.5,.1l1.5-.2l1.5,.7l1.5-.2l1.5-3.5l1.5-1.5l1.5-1.8l1.5-1.1l1.5,2.4l1.5-1.4l1.5-.8l1.5-2.2l1.4-.1l.1,.1l1.5,.2l1.5,.8l1.5,.4l1.5-1.2l1.5,3.1l1.5,1.7l1.5-1.9l1.5-.6l1.5-2.9l1.5-.3l1.5,.4l1.5-.9l1.5,1.3l1.5,1.6l1.5-1.6l1.5-.7l1.3,1.8l.2-.1l1.5-1.6l1.5-.8l1.5,.1l1.5,2.3l1.5-1.1l1.5-.8l1.5-1.7l1.5,2.6l1.5-.9l1.5-1.3l1.5,1l1.5-1.1l1.5-2l.6,.1l.9,.4l1.5-1.1l1.5,1.3l1.5,2.3l1.5-3.9l1.5-.6l1.5,.8l1.5,.7l1.5-.4l1.5,.9l1.5,1.8l1.5-1.3l1.5-.6l1.5-.5l0,0l1.5-1.1l1.5,1l1.5-1.1l1.5,.3l1.5,0l1.5-2.9l1.5-2.5l1.5-2.2l1.5,.6l.4,0l1.1,.4l1.5,.3l1.5,1.8l1.5-.9l1.5,.4l1.5-1.8l1.5-4.1l1.5,4.3l1.5,1.6l1.5-1.4l1.5,.9l.4,.3l1.1,.1l1.5-.2l1.5,1l1.5-2.2l1.5-.9l1.5-.3l1.5,1l1.5,4.4l1.5-3.8l1.5-4.2l1.5-1.9l1.5,1.2l1.5,2.2l1.2-.4l.3-.2l1.5,.3l1.5,2.2l1.5,.5l1.5,1.7l1.5-.2l1.5-1.8l1.5,1.1l1.5,.3l.4,.5l1.1,.4l1.5-2.1l1.5-.5l1.5,.7l1.5,.2l1.5-1.5l1.5-2.2l1.5,1l1.1-1.4l.4,.1l1.5-.3l1.5,.9l1.5,1.6l1.5-3.3l1.5,1.9l1.5-.1l1.5-3.9l1.5,1.2l1.5,.8l1.5-2.8l1.5-4.6l1.5,1.8l1.5,.9l.4,.3l1.1,0l1.5,.1l1.5-.2l1.5-3.3l1.5,2.6l1.5,2.8l1.5,1.3l1.5-1.6l1.5-.4l1.5,1.6l1.5-1.6l1.5-1l.2,.1l1.3,.2l1.5,.9l1.5,.5l1.5-1.2l1.5-.9l1.5,1.9l1.5-2.4l1.5-1.7l1.5-1.4l1.5,2l1.5-1.2l1.5-1.5l.8-1.5l0,26.1l-.8,.6l-1.5-1.6l-1.5,1.1l-1.5,0l-1.5-.7l-1.5-.8l-1.5,.5l-1.5-2.7l-1.5-.6l-1.5,2l-1.5,.8l-.2-.3l-1.3-.5l-1.5,0l-1.5-.4l-1.5,.8l-1.5-.4l-1.5,1.9l-1.5,1.3l-1.5-1.4l-1.5,4.6l-1.5-.2l-.5-.8l-1-.3l-1.5,1.2l-1.5,.2l-1.5-1.7l-1.5,.5l-1.5,2.9l-1.5,.1l-1.5,2.3l-1.5-.5l-1.5-2.1l-1.5,1.4l-1.5,2l-1.5-.4l-1.5-1.8l-1.5-2.2l-1.5,1.5l-1.5,0l-.4,.1l-1.1,2.1l-1.5,1.5l-1.5-2.7l-1.5,.8l-1.5,2.1l-1.5-1.6l-1.5-1.7l-1.5,2.4l-1.5,2.2l-1.5-.3l-1.5,.3l-1.5,.2l-1.5-.6l-1.5,4.1l-1.5,1.5l-1.5-1.9l-1.5-1.8l-.3-.1l-1.2,.2l-1.5,.7l-1.5-.4l-1.5,1l-1.5,.1l-1.5,1l-1.5-2l-1.5,2.6l-1.5-.5l-1.5-2l-1.5,.3l-1.5,1.8l-1.5,2l-1.5-.5l-1.5,.4l-.6,.2l-.9-.7l-1.5-.8l-1.5,3.1l-1.5-2.4l-1.5,.1l-.7-1.6l-.8-1.1l-1.5,1l-1.5,1.6l-1.5,1.2l-1.5-.2l-1.5-1.1l-1.5,2.7l-1.5,2.5l-1.5-3.7l-1.5,.4l-1.5-.3l-1.5-1.5l-1.5,3.3l-1.5,.3l0,0l-1.5-.4l-1.5-.5l-1.5,1.3l-1.5-1l-1.5,2.4l-1.5,1.4l-1.5,2.5l-1.5-1.7l-1.5,3l-1.5,1.3l-.3-.2l-1.2-2l-1.5-2.2l-1.5-.3l-1.5,1.2l-1.5-1.7l-1.5-2.2l-1.5,1.7l-1.5,.1l-1.5-1.3l-1.5,1.2l-.5-.5l-1-.1l-1.5,1.5l-1.5,.4l-1.5,3l-1.5-1.1l-1.5,2.2l-1.5,.7l-1.5,.5l-1.5,1.7l-1.5,.5l-.8,1.1l-.7,0l-1.5-.9l-1.5,1.9l-1.5,.8l-1.5-1.4l-1.5,.6l-1.5-1.3l-1.5-.5l-1.5,1.7l-1.5,1.7l-1,1.3l-.5-.1l-1.5-1.5l-1.5-.2l-1.5,1.1l-1.5,4.2l-1.5-1.7l-1.5-.1l-1.5,2.4l-1.5,3.8l-1.5,1.8l-1.2-1.3l-.3-.7l-1.5-.1l-1.5,2.4l-1.5,0l-1.5-5l-1.5,.2l-1.5,.6l-1.5-2.5l-1.5-.7l-.4,.1l-1.1,.8l-1.5,3l-1.5,1.1l-1.5,.1l-1.5,.3l-1.5,1.4l-1.5,.5l-1.5,1.9l-1.5,.7l-1.5-.7l-.7,.9l-.8,.9l-1.5-1.8l-1.5,1.9l-1.5,1.4l-1.5-.2l-1.5,.1l-1.5-.5l-1.5-.1l-1.5-.9l-1.5-.8l-1.5,1l-1.5,.2l-1.5,3.6l-1.5-1.9l-1.5-.4l-1,.6l-.5,.3l-1.5,.7l-1.5,.6l-1.5,4.9l-1.5,.7l-1.5-.7l-1.5,2.7l-.7,1.2l-.8,.1l-1.5-.1l-1.5-3.8l-1.5,2.2l-1.5,3.7l-1.5,.1l-1.5-.8l-1.5-1.9l-1.5-3.7l-1.5,2.3l-.9,1.8l-.6,.3l-1.5-.5l-1.5,2.3l-1.5-.6l-1.5,2.2l-1.5,4.3l-1.5,.6l-1.5,.9l-1.5,1.1l-1.5-.2l-1.1,.9l-.4,.4l-1.5-.2l-1.5,.4l-1.5-1.5l-1.5-1.2l-1.5-1.1l-1.5-1.2l-.8-.1l-.7,1.5l-1.5,4.2l-1.5-1.2l-1.5,2.5l-1.5,3.4l-1.5,2l-1.5,2l-1.5,2.5l-1.5-1.3l-1.5,1.3l-1,3.4l-.5,1.2l-1.5,1.7l-1.5-1.7l-1.5-1.3l-1.5-.5l-1.5-1.8l-1.5-1.9l-1.5,2l-1.5-.2l-1.5,.7l-1.1-1.3l-.4-.8l-1.5,.6l-1.5,2.9l-1.5,1.5l-1.5-5.3l-1.5,.4l-1.5,1.6l-1.5,.4l-1.5,3.1l-.3,.2l-1.2,.1l-1.5,.5l-1.5,1.3l-1.5,2.8l-1.5,1l-1.5,2.5l-1.5,6.1l-1.5-1.7l-1-.6l-.5-.3l-1.5-.8l-1.5-1.2l-1.5,3.9l-1.5-.5l-1.5,.7l-1.5,2.5l-1.5-1.2l-1.5-.4l-.2,.3l-1.3,4.5l-1.5,1.6l-1.5,2.9l-1.5,2.6l-1.5,1.5l-.3,.3l-1.2,.5l-1.5-.7l-1.5,.4l-1.5,.3l-1.5-2l-1.5,3.6l-1.5,2.3l0,.3l-1.5,5.5l-1.5,5.7l-1.5,1l-1.5,2.7l-1.5-.2l-.1,0l-1.4,.2l-1.5,1.1l-1.5,2.5l-1.5,.5l-1.5,4.3l-1.5,0l-1.5-2.7l-1.5-.8l-.8,.7l-.7,2.9l-1.5,2l-1.5,2.5l-1.5,5.6l-1.5,2.8l-1.5,.2l-1.5-.1l-.4-.4l-1.1-.5l-1.5,2.1l-1.5,.5l-1.5,.7l-1.5,2.1l-.5,.9l-1,3l-1.5,2.5l-1.5,.6l-1.5,5l-1.5,2l-1.5,.4l-1.5,1.4l-1.5,4.6l-1.2,2.6l-.3,.5l-1.5,.7l-1.5-.1l-1.5,2.8l-1.5,3.1l-1.5,4.5l-1.5,5.2l-.9,1.3l-.6,.5l-1.5,2.8l-1.5-.4l-1.5,.7l-1.5-.3l-1.5-.8l-1.5,1.5l-.5,1.5l-1,2.8l-1.5,3.5l-1.5,5.3l-1.5,1.8l-1.5,2.2l-1.5,2.9l-1.5,3.3l-1.5,2.2l-1.3,1l-.2-.1l-1.5,2.2l-1.5,2.4l-1.5-.2l-1.5-.6l-1.5,2.5l-1.5,2.5l-1.5,3.9l-1.5,3.9l-.4,.1l-1.1,.4l-1.5-.2l-1.5,.2l-1.5,1.7l-1.5,1.9l-1.5,3l-1.5-.3l-1.5,2.6l-1.1,5.2l-.4,1.1l-1.5,.4l-1.5-1.5l-1.5-.2l-1.5,1.8l-1.5,.3l-1.5-.6l-1.5,4.5l-1.5,2.3l-.3,.3l-1.2-1l-1.5-.7l-1.5,.8l-1.5,2.5l-1.5-1l-1.5,1.8l-1.5,2.4l-1.5-.1l-1-1.4l-.5-.3l-1.5,.8l-1.5-2.4l-1.5,.8l-1.5,2.9l-1.5-.7l-1.5,.2l-1.5,3.1l-1.5,.8l-.2-.5l-1.3-2.4l-1.5-.8l-1.5,.6l-1.5,3.4l-1.5-.7l-1.5-.2l-1.5,0l-1.5,1.9l-.9,0l-.6-1.1l-1.5-.1l-1.5,.1l-1.5-.9l-1.5,1.4l-1.5-3.8l-1.5-1.2l-1.5,0l-1.5,2.3l-.1-.1l-1.4-1.9l-1.5,2l-1.5-.9l-1.5,1.1l-1.5-1.8l-1.5,.1l-1.5-.9l-1.5,.1l-.8,.3l-.7-.9l-1.5-.7l-1.5,4.2l-1.5-.9l-1.5,1.4l-1.5-1.3l-1.5-1.1l-1.5,1.7l-1.5-.8l0,0l-1.5-1.2l-1.5-1.7l-1.5,1.8l-1.5,.9l-1.5-1.9l-1.5,.9l-1.5-.2l-1.5-1.5l-1.5,1.1l-1.5-2.3l-1.5,2.4l-1.5,3.3l-1.5,1.2l-1.5-4.4l-1.5,.4l-1.5-1.2l-1.4,2.9l-.1,.3l-1.5,1.1l-1.5,.1l-1.5,1.8l-1.5-2.5l-1.5-1.5l-1.5-1.1l-1.5-2l-1.5,3.1l-1.5,.3l-1.5-1.2l-1.5,1.1l-1.5,1.5l-1.5-1.7l-.7-.6l-.8-.2l-1.5,.3l-1.5,.6l-1.5,3.1l-1.5-.2l-1.5-.4l-1.5,.2l-.4,.2l-1.1,1.7l-1.5,1.3l-1.5,2.9l-1,1.4l-.5,1l-1.5,2.8l-1.5,3.7l-1.5,3.9Z" fill="#3A7D22" fill-opacity="0.2"/>
<path d="M120.0,1013.4l1.5,.1l1.5-.3l1.5-.5l1.5,.3l1.5-.7l.1-.1l1.4-5.5l1.5-5l1.5-4.5l.7-2.9l.8-2.1l1.5-3.6l1.5-2.8l1.5-2.4l1.5-2.5l.8-1.3l.7-.3l1.5-2.8l1.5-2.9l1.5,0l1.5,1.3l1.5-.7l1.5-1.2l.5,.2l1-1.6l1.5-5.1l1.5-3.7l1.1-2.6l.4-.5l1.5-1.7l1.5-.7l1.5,.4l1.5-1.7l1.2-1.9l.3-1.9l1.5-4.8l1.5-4.5l1.5-8.7l1.5-1.8l1.3-4l.2-.7l1.5-4.2l1.5-2l1.5-6.7l1.5-6.5l1.4-4.8l.1-.4l1.5-5.6l1.5-4.7l1.5-7.5l1.5-2.7l1.5-5l0-.1l1.5-8.7l1.5-8.8l1.5-6.4l1.5-6l1.5-9.9l.1-.8l1.4-3.8l1.5-3.4l1.5-5.7l.7-.6l.8-.2l1.5-5l1.5-6.1l.8-2.3l.7,0l1.5-.5l1.5-5.1l1.5-4.1l1.5-.4l1.4-2.8l.1-.4l1.5-5.6l1.5-2l1.5-4.3l1.5-1.6l1.5-2.4l1.5,.1l1.1-2.6l.4-1.1l1.5-2.9l1.5,.4l1.5-1l1.5-2.8l1.5-3.6l1.5-.8l.7,.2l.8-1.1l1.5-2.6l1.5-2.5l1.3-3.8l.2-.5l1.5-3.4l1.5-2.4l1.5,1.5l1.5,1.1l1.5-3.5l1.5-1.8l1-1.6l.5-1.4l1.5-3l1.5-2.9l1.5-3.1l0-.1l1.5-.9l1.5-1.4l1.5-.9l1.5-1.4l1.5-.5l1.5,2.8l1.2-1.2l.3-1l1.5-2.8l1.5,.3l1.5-2.1l1.5-2l1.3,.1l.2,.5l1.5,2l1.5,1.1l1.5,.5l.4,.2l1.1-1.2l1.5-.6l1.5-2.4l1.5-1.3l1.5-1.8l1.5-4.6l1.5,.1l.1,.2l1.4,2.6l1.5-2.4l1.5-2l1.5-2.6l1.5-.7l1.5-2.8l1.5,.8l1.5,.4l.8-2l.7-.6l1.5,.8l1.5-1.8l1.5-.4l1.5,1l1.5-1.9l1.5-1l1.5,.3l1.5,.8l1.5,.1l1.5,.7l1.5,1.4l1.5-3.5l1.5-1.3l1.5,.2l1.5-2.1l1.5,2.7l.7,1.1l.8,1.1l1.5-1.9l1.5-.3l1.5-5.4l1.5-2.2l1.5,.7l1.5-2.1l1.5,2.1l1.5,1l1.1-1.5l.4-.5l1.5-.8l1.5,2.6l1.5,0l1.5,1.1l1.5-.6l1.5,.9l1.5,0l.5-.7l1-1.5l1.5-.7l1.5,.8l1.5-3l1.5-4.2l1.5-.5l1.5-.2l1.5,1.3l1.2-.1l.3-.3l1.5-1l1.5-1.8l1.5-1.3l1.5,.1l1.5-2.6l1.1-.9l.4,.2l1.5,2l1.5-.1l1.5-2.3l1.5,.6l1.5,1.7l1.5-.2l1.5-.4l1.5-1l1.5-1.3l1.5,3.5l1.1,1.2l.4-.4l1.5-1.6l1.5-.6l1.5,.3l1.5-1.7l1.5-2.3l1.5,.2l1.5-2.3l1.5-1.3l1.5-2.5l1.5-2.9l1.1,1.2l.4,.6l1.5,2.4l1.5,1.9l1.5-.6l1.5,1.3l1.5,5.4l1-.3l.5-2l1.5-3.5l1.5,.6l1.5-1.4l1.5,1.1l1.5,1.8l1.5-4.1l1.5-2.5l1.5,.1l.2-.3l1.3-1l1.5,1l1.5,.9l1.5,2.2l1.5,1.6l1.5,1.4l1.5-2.4l1.5-1.7l1.5-1.5l1.5,.4l1.5-1.5l1.5,3.5l1.5,.4l1.5-2.1l1.5-1.3l1.5-1.2l1.5,1.2l1.5,0l1.2,3l.3,1.3l1.5-1.3l1.5-5.2l1.5-1.2l1.5,.5l1.5,1.1l1.5,.2l1.5-1.5l1.5-1.2l1.5,1.2l1.5-2.6l1.5-.2l1.5,2.9l1.5,1l1.5-1.3l1.5,3.6l1.5,.4l1.5-1.4l1.5-2.2l.4,.2l1.1,.9l1.5,1.8l1.5-.3l1.5-3.7l1.5-.1l1.5,2.7l1.5-.2l1.5-3.1l1.1-.7l.4,.7l1.5-1.6l1.5-.6l1.5,2.4l1.5,1.2l1.5-1.8l1.5-.7l1.5-1.9l1.5-1.2l1.5,0l1.5,2.6l1.5-1.9l1.5-.9l1.5,1l1.5-.1l1.4-1.2l.1,0l1.5,1.1l1.5,2.2l1.5,1l1.5,1.2l1.5,2l1.5-2.3l1.5,2.9l1.5,.2l1.5-2.4l1.5,.1l.2-.5l1.3-3l1.5-.4l1.5-.1l1.5-2.7l1.5-1.4l1.5,3l1.5-.7l1.5-.6l1.5-1.5l1.5-1.1l1.5,3.8l1.5,2.1l1.5-2.2l1.5-1.2l1.5-1.4l1.5,0l1.5,1.8l.1,0l1.4-1l1.5,2l1.5-1.2l1.5-2.2l1.5-.6l1.5,2l1.5-.2l1.5-1.6l1.5-.1l1.5,1.1l1.5,3l1.5-1.5l1.5,.4l1.5,.8l1.5-.4l1.5-.6l1.5-1.2l0,0l1.5,.8l1.5,.3l1.5-.2l1.5-2.9l1.5,2.7l1.5,1.9l1.5-1l1.5-1.2l1.5,.9l1.5-.3l.2-.1l1.3,.4l1.5,1.6l1.5-1.1l1.5,.3l1.5-1.6l1.5,.7l1.5,3.3l1.5-2.2l1.5,.2l1.5,.9l.4-.7l1.1-1.6l1.5,.8l1.5-1.7l1.5-.9l1.5,2.8l1.5-1.8l1.5-.8l.1-.1l1.4-1.4l1.5,1.6l1.5-1.3l1.5-2.2l1.5,1.5l1.5,2.3l1.3-3.9l.2-.9l1.5-.8l1.5,3.1l1.5,2.2l1.5-2l1.5-.2l1.5-2.1l1.5,2.5l1.5,1.2l1.5-2.2l1.5,.4l0,0l1.5,0l1.5-2.4l1.5-.4l1.5-1.7l1.5,2.2l1.5,1.8l1.5-3.7l1.5,1.9l1.5-.8l1.5-.6l1.5,3.7l1.5-1.6l1.5-.5l1.5-.9l1.5,.2l.3,.1l1.2,1.6l1.5-.1l1.5-.9l1.5-1.1l1.5-1l1.5,2.1l1.5,.9l1.5-1.9l1,.2l.5,1.1l1.5-1.3l1.5,1.7l1.5,1.9l1.5-2.3l1.5,.2l1.5,.3l1.5,2.1l1.5-1.3l.2-.7l1.3-2.9l1.5,2.3l1.5-.9l1.5,1.2l1.5,.9l1.5-2.8l1.5,1.3l1.5,5l.9-.4l.6-.7l1.5-2.5l1.5-.5l1.5,4.1l1.5-.5l1.5-3.5l1.5,1l1.5,.5l1.5-1l1.5,.8l1.5-.4l1.5-3.5l1.5-.1l1.5,2.8l1.5-1.8l1.5-2.1l1.5-1.1l.8-.5l.7,.5l1.5,1.9l1.5-.2l1.5-.4l1.5-1.2l1.5,.9l1.5,.3l1.5,1.9l1.5,1.7l1.5-.1l1.5-.8l1.5,1.7l1.5-.3l1.5-.4l1.5,.1l1.5-.4l1.5-.3l.7,.1l.8-.2l1.5,1.4l1.5-.8l1.5-1.9l1.5-.6l1.5-.1l1.5,.9l1.5,.8l1.4-.4l.1,.1l1.5,1.6l1.5-.8l1.5-.7l1.5,.1l1.5-.7l1.5,.9l1.5-.3l1.5-.5l1.5-2.1l1.5,1l1.5,5l1.5,1l.5,.2l0,1.3l-.5,1.1l-1.5,2.7l-1.5-.9l-1.5,4l-1.5-.6l-1.5-.8l-1.5,.7l-1.5,2l-1.5-4l-1.5,1l-1.5-.7l-1.5,.8l-1.5,4l-1.5-1.9l-1.5-2.8l-1.5-1.4l-1.5,4l-1.5,1.5l-.2-.6l-1.3-2.6l-1.5-2.8l-1.5,.9l-1.5,2.4l-1.5-1.5l-1.5,.6l-1.5-2l-1.5,1l-1.5-.7l-1.5,2.3l-1.5,1.3l-1.5-2.4l0,0l-1.5,1.9l-1.5,2.5l-1.5,.5l-1.5-2.3l-1.5-2.2l-1.5,3.4l-1.5,.7l-1.5-.9l-1.5-.9l-1.5,.4l-.2,.8l-1.3,1.6l-1.5-2.8l-1.5,3l-1.5,2.1l-1.5-.2l-1.5-1.1l-1.5-.9l-1.5-.6l-1.5-1.3l-1.5,.4l-1.5,.7l-1.5,1.1l-1.5,.6l-1.5-3.2l-1.5,0l-.6-.2l-.9,1.3l-1.5,.1l-1.5-2.8l-1.5,.2l-1.5,.3l-1.5,.8l-1.5,.5l-1.5,.6l-1.5-1l-1.5,.6l-1.5,0l-1.5-2l-1.5-.3l-1.5-.8l-1.5,1.2l-1.5-.5l-1.5,1.6l-.5,.7l-1,.8l-1.5,.1l-1.5-.7l-1.5-1.1l-1.5-.8l-1.5,.8l-1.5,.2l-.1,0l-1.4,.2l-1.5,1.6l-1.5,1.6l-1.5,1.1l-1.5,1.6l-1.5,.5l-1.5,.9l-1.5-.2l-1.5,2.8l-1.5,.7l-.3-.4l-1.2-4.4l-1.5-.6l-1.5,3.6l-1.5,0l-1.5,2.2l-1.5-2.8l-1.5-2.5l-1.5,2.3l-1.5-2.2l-1.5,1.7l-1.5,2.8l-1.5-.4l-1.5-1.2l-1.2,2.3l-.3,0l-1.5-.2l-1.5-.9l-1.5-.4l-1.5,1.3l-1.5-1l-1.5,1.4l-1.5,1.2l-1.5-1l-1.5-1.4l-1.4,.3l-.1,.2l-1.5,1.5l-1.5-2.4l-1.5,.1l-1.5,.5l-1.5,2.6l-1.5,2.8l-1.5-1.2l-1.5-.4l-1.5-.4l-1.5-1.2l-.1-.1l-1.4-.1l-1.5,.7l-1.5,1.9l-1.5,1.9l-1.5,.9l-1.5,1.1l-1.3,.7l-.2-.1l-1.5-3.3l-1.5,1.9l-1.5-2.4l-1.5-1.3l-1.5,.4l-1.5,.9l-1.5-1.6l-1.5-2.3l-1.5,3.3l-1.5,.6l-1.5-2.2l-1.5,0l-1.5,1.9l-.6,.5l-.9,.8l-1.5-1.1l-1.5-.3l-1.5,.7l-1.5-.6l-1.5,1.7l-1.5,1.1l-1.5-.2l-1.5-.8l-1.5,2.6l-1.5-.4l-1.5-1.5l-1.5-.5l-1.4,1.6l-.1,.1l-1.5-.1l-1.5,.1l-1.5-.9l-1.5-.4l-1.5-2.7l-1.5-.1l-1.5,.9l-1.5,5.2l-1.5-.5l-1.5-2.7l-1.5-.9l-1.5,1.3l-1.5,1.3l-1.5-3.6l-1.5-.3l-1.5,.1l-1.3,.4l-.2,0l-1.5-4.7l-1.5,.2l-1.5,1.4l-1.5-.2l-1.5,.1l-1.5-1.3l-1.5-1.8l-1.5-1.6l-.5-.6l-1,.8l-1.5,4l-1.5-.5l-1.5-2.2l-1.5,3.3l-1.5,.8l-1.5-1.8l-1.5-.3l-1.5,1.4l-1.5,1.3l-1.5,2.4l-1.5-.1l-1.5-.8l-1.5,1.9l-1.5-2l-1.5,0l-1.5,1l-.4-.2l-1.1-1l-1.5-.3l-1.5,.5l-1.5-.5l-1.5-1.6l-1.5,1.3l-1.5-.7l-1.5,2.5l-1.1,2l-.4,.4l-1.5-1l-1.5,0l-1.5,2.9l-1.5-.3l-1.5-1.2l-1.5,.9l-1.5,1.8l-1.5-2.2l-1.5-.7l-1.5-.2l-1.5,1.1l-1.5-1.9l-1.5,.9l-1.5,1.8l-1.5,1.1l-1.5-1.9l-1.5,0l-1.5-2.7l-1.5,1.8l-1.5-1.2l-1.5-.3l-1.5,4.3l-1.5-.1l-1.5-.6l-1.5,2l-1.5,.3l-1.5,.5l-1.5,.4l-1.5,.1l-1.5-.6l-1.5,2.9l-1.5,2.8l-1.5-.3l-1.5-2.6l-1.5-.4l-1.5-1.3l-1.3,3.8l-.2,0l-1.5-.9l-1.5,.9l-1.5,3.1l-1.5,1l-1.5-.9l-1.5,4.3l-1.5,2.8l-1.5,.2l-.5,.6l-1-1.1l-1.5-2.2l-1.5-.7l-1.5-1.8l-1.5,3.5l-1.5,1.2l-1.5-2.9l-1.5,2.1l-1.2,.4l-.3,0l-1.5-1.6l-1.5,1.9l-1.5,.4l-1.5,2.2l-1.5,2.1l-1.5-.1l-1.5-1.7l-1.5-.6l-1.5-.7l-1.5-.3l-1.5,1.1l-1.5,.4l-1.5,0l-1.5,2.1l-1.5-2.6l-1.5-1.5l-1.1-.9l-.4,1.6l-1.5,3.8l-1.5-.4l-1.5-1.8l-1.5,.4l-1.5,2.8l-1.5,1.1l-1.5,.9l-1.5-1.9l-.3-.2l-1.2-.3l-1.5-.3l-1.5,.3l-1.5,3.8l-1.5,.6l-1.5,.7l-1.5,.1l-1.5,2.8l-1-.6l-.5-.6l-1.5,.4l-1.5,2.8l-1.5,4l-1.5,.9l-1.5,1.2l-1.5-1l-.6,1.9l-.9,2.9l-1.5,0l-1.5-2l-1.5,.3l-1.5-.9l-1.5,2.9l-1.5-.1l-1.5,.7l-1.5,.5l-1.5-2.3l-.8-.9l-.7,.8l-1.5,2.7l-1.5,2.7l-1.5,2.4l-1.5-2.8l-1.5,.2l-1.5,4.3l-.5,1.6l-1,1.7l-1.5-3.2l-1.5,.8l-1.5,1.3l-1.5,2.3l-1.5-1l-1.5,1.9l-1.5,1.2l-1.5-1.2l-1.5,.4l-.7-.9l-.8-.6l-1.5,2.6l-1.5,1.4l-1.5-.7l-1.5,1.4l-1.5,3.1l-1.5,1.6l-.4,.3l-1.1,2l-1.5,2.7l-1.5,2.2l-1.5,1.3l-1.5,4.3l-1.5,3.8l-1.5-.5l-.1,0l-1.4-1.2l-1.5-.4l-1.5,1.5l-1.5-.6l-1.5-1.2l-1.5,0l-1.2-.3l-.3,.2l-1.5,4.2l-1.5-.6l-1.5,2.4l-1.5,4.4l-1.3,7.4l-.2,.4l-1.5,.8l-1.5,1.8l-1.5,.2l-1.5,2.4l-1.5,2.7l0,.1l-1.5,1l-1.5,3.7l-1.5,2.4l-1.5,5.6l-1.5,1.4l-.1,0l-1.4,3.2l-1.5,5.2l-1.5,3.6l-.6,3.1l-.9-.1l-1.5-1.7l-1.5-.8l-1.2,1.8l-.3,1.6l-1.5,3.3l-1.5,3.2l-1.5,5.6l-.3,1.1l-1.2,3.3l-1.5,5.8l-1.5,4.6l-1.5,2.6l-1.5,3.6l-.4,.7l-1.1,1.1l-1.5,3l-1.5,1.7l-1.5,3.6l-1.5,3.8l-.5,2l-1,5.8l-1.5,4.9l-1.5,4.9l-1.5,7.4l-1.5,4.9l-.7,2.7l-.8,4.6l-1.5,5.7l-1.5,8.8l-1.2,8.7l-.3,1.3l-1.5,4.6l-1.5,7.3l-1.5,7.1l-1.5,7.3l-1.4,4.3l-.1,.2l-1.5,3.2l-1.5,2.9l-1.5-.5l-.4,.9l-1.1,.7l-1.5,1.1l-1.5,1.4l-1.5,1.9l-1.5,2.8l-1.5-.4l-1.5,.7l-1.5,1.9l-1.5-2.5l-1.5-.7l-1.5,2l-1.5,2.9l-.2,0l-1.3-1l-1.5-.3l-1.5,2.5l-1.5,2l-1.5,.6l-1.5,.2l-1.5-1.3l-1.5,1.6l-.9,.6l-.6-.1l-1.5,1.2l-1.5,2.3l-1.5-2l-1.5,.4l-1.5,1.4l-1.5,.2l-1.5,2.2l-1.5-1.7l-.1-.1l-1.4,1l-1.5,1.7l-1.5,2.4l-1.5,.7l-1.5,3.4l-1.5,2l-1.5,.9l-1.5,2l-1.5,2.5l-1.5,2.7l-1.5,2.7l-.1,.2l-1.4-.1l-1.5-.6l-1.5,.1l-1.5-.6l-1.5-.2l-1.5-.1Z" fill="#E83323" fill-opacity="0.2"/>
<path d="M120.0,1014.0l3,.1l3-.1l3,0l1.2-.1l1.8-1.8l3-3l2.8-3.1l.2-.2l3-1.9l1.8-1.2l1.2,.2l3-.1l3,.4l3,.3l0,0l3,.2l3,.6l1.6,.1l1.4,.5l3,1.3l3,1.7l2.8,1.3l.2,0l3-.3l3-.3l3,.6l3,.1l3,.3l3,.1l3,0l3,.2l1.2,0l1.8-.1l3-.1l3,.1l3,.1l3,.1l3,.3l3-.1l3,.6l2.6-.5l.4-.1l3,0l3-.1l3-.1l3-.2l3,0l3-.1l3-.4l3-.2l1-.1l2,.1l3-.1l3-.4l3,0l3-.4l3-.1l3-.1l3-.1l2.4,.2l.6,.1l3,0l3,.1l3,.5l3-.1l3-.3l3,.2l3,.2l3,0l.8,0l2.2,.2l3-.6l3-.1l3-.4l3,0l3-.5l3,.1l3-.2l2.2-.1l.8,0l3-.1l3,0l3-.6l3,0l3,0l3-.1l3-.2l3-.5l.5,.1l2.5,.4l3,0l3,0l3,.3l3-.2l3-.2l3,.2l3,.5l1.9-.3l1.1-.1l3,.5l3-.3l3-.2l3,.1l3-.2l3,.3l3-.3l3,.3l.3,0l2.7,.3l3,.2l3,.2l3,.3l3,.5l3,.2l3,.4l3-.2l1.7,.1l1.3,.1l3-.2l3-.3l3-.3l3-.2l3,.3l3,0l3-.2l3,.4l3-.6l3,0l3-.1l3,.2l3-.4l3-.2l3,.1l1.8,.1l1.2-.2l3-.1l3,0l3-.6l3-.3l3-.2l3,.2l1.1,.2l1.9-.7l3-.4l3-.1l3-.3l3-.4l3-.3l3-.6l3-.4l2.5-.3l.5,0l3,.5l3-.2l3,.5l3,0l3,.3l3,.6l1.8-.1l1.2,0l3-.1l3-.1l3,0l3-.1l3-.1l1.6,.3l1.4,.1l3,0l3,.2l3,.5l3,.1l3,.6l3,.1l3-.4l3,0l0,0l3,.3l3,.4l3,.4l3,.2l3,.3l3,.3l3,.6l3,.1l1.4,0l1.6,0l3-.4l3,.1l3-.1l3-.2l3,0l3,.1l3-.3l2.8-.1l.2,0l3,0l3-.3l3,.3l3-.2l3-.2l3,.2l3-.5l3,0l1.2,0l1.8,.1l3-.2l3,0l3,.1l3-.1l3-.1l3-.2l3,.3l2.5,.2l.5-.1l3,0l3-.1l3,.1l3-.2l3,.3l3-.3l3-.2l3-.3l.9-.1l2.1,0l3,.1l3,0l3-.1l3-.2l3,.2l3,0l3-.3l3-.1l3,0l3,.1l3-.2l3-.4l0,0l3,.1l3,.2l3-.2l3,0l3,.2l3-.1l3,.6l3-.2l3,.3l3,0l3,.1l3,.1l3-.3l3,.2l2,.1" fill="none" stroke="#0000FF" stroke-width="2.15" stroke-linejoin="round" stroke-dasharray="1.80 2.97"/>
<path d="M120.0,1014.0l3,0l3,.1l3,.1l1.2-.1l1.8-4.7l3-7.7l.2-.6l2.8-12.8l1-4.8l2-4.7l1.8-4.3l1.2,1.9l2.7,4.3l.3,.7l3,5.9l1.7,3.3l1.3,1.6l3,3.6l2.1,2.5l.9-.2l3-.9l3-.7l3-.8l2.8-1.3l.2-.1l3-.4l3,.6l3-.6l3-.3l.5,0l2.5,.6l3,1l3,1.4l3,1.2l1.2-.1l1.8,0l3-.4l3-1l3,.1l1.9-.5l1.1,.3l3,.3l3,.9l3,.5l2.6,.1l.4,.1l3,.9l3,.8l3,.4l3,.8l.3,0l2.7-.2l3,.1l3,.4l3-.5l1-.1l2,0l3,0l3-.7l3-.3l3-.1l3,0l3,0l3-.5l2.4-.3l.6,0l3,.4l3,.2l3,.3l3,.2l3-.1l3,.3l3,.4l3,.2l.8-.1l2.2,.9l3,.3l3,.7l3-.2l3,.4l3,.6l3,.3l3,.2l2.2,.8l.8,.4l3,.2l3-.1l3,.3l3-.1l3-.2l3-.4l3,.3l3,0l.5,0l2.5,.1l3-.1l3-.1l3,.2l3,.4l3,.5l3-.4l3-.1l1.9,.3l1.1,0l3-.6l3,.2l3-.3l3,.1l3-.1l3,0l3,.4l3,0l.3,.1l2.7,.2l3-.7l3-1.3l3,.4l3-.3l3,.1l3-.5l3,.5l1.7-.1l1.3-.3l3-.5l3-.5l3-.5l3-.2l3-.8l3,.2l3-.4l3-.6l3-.3l3-.2l3,0l3-.4l3-.2l3-.4l3,0l1.8-.2l1.2-.2l3-.9l3-.6l3-.3l3-.4l3-1.2l3,0l1.1-.4l1.9-.7l3-.4l3-.2l3-.5l3-.7l3-.5l3,.2l3-.8l2.5-.2l.5,0l3-.6l3-.2l3,.2l3-.6l3-.6l3,.6l1.8-.8l1.2-.2l3,.2l3,.4l3-.7l3-.6l3,.1l1.6,.2l1.4-.2l3-.1l3,.2l3-.3l2.3-.1l.7-.5l3-.3l3-1.4l3-1.1l3-.8l0,0l3-.5l3-.1l3-.2l3-.4l.7-.2l2.3,.2l3,0l3,1l3-.2l3,.6l3,.4l3,.1l2.5,0l.5,.2l3,1.6l3,1.4l3,1.4l3,1.7l2.8,1.5l.2,.2l3,1.2l3,.7l3,1.4l3,1.2l.4,.3l2.6,.4l3,0l3,.7l3,.9l1.2,.4l1.8,.3l3,.3l3,.1l3,.6l1.8,.4l1.2,.2l3,.3l3,.8l3,0l2.5,.4l.5,0l3-.4l3,0l3-.3l3-.7l.2-.1l2.8-.1l3,.1l3-.3l3-.4l.9,0l2.1-.4l3-.6l3-.5l3-.5l3-.1l3-.2l3-.8l3-.2l2.3-.3l.7,.1l3-.2l3-.4l3-.3l3-.3l3,.7l3-.7l3-.3l3,.6l.7-.2l2.3-.7l3,.2l3,.1l3-.7l3-.3l1-.3l2-.6l3-.9l3-1.5l2.1-1.1l.9,.1l3,.6l2,.6" fill="none" stroke="#75147C" stroke-width="2.15" stroke-linejoin="round" stroke-dasharray="11.52 2.88 1.80 2.88"/>
<path d="M120.0,1013.8l1-.1l1,0l1,.1l1,.1l1,0l1-.1l1-.1l1,.1l1,.3l1-.2l.2,0l.8-2.4l1-2.3l1-2l1-2.7l1-3.4l.2-.6l.8-1.2l1-1.2l1-1.7l1-1.8l1-1.7l.3-.4l.7,.1l1,.2l1-.1l1,0l1-.5l1-.2l1-.5l1-.6l1,.1l1-.2l.5-.4l.5-.3l1,0l1,1.5l1,.4l1-.3l1-.4l1-.7l1,.6l1,.6l1,.1l1-.4l1-.6l1,.5l1,.5l1,.2l1-.5l1-.1l1,.2l1,0l1-.3l.8-.2l.2,0l1-.2l1,0l1-.3l1-.7l1,.1l1,.4l1,.1l1-.3l1-.4l1,.5l1-.2l1-.1l1,.6l1,.4l1-.1l1-.1l1-.1l1-.1l1-.5l1-.5l1,.1l1,.1l1,.3l1-.1l1-.4l.2-.1l.8,0l1,.3l1-1.2l1,.5l1,1.1l1,0l1,0l1,.1l1-.3l1-.8l1,.1l1,1l.9,.3l.1,0l1-.5l1-.6l1-1.5l1-.2l1,.1l1-.5l1-1.4l1-.6l1-.6l1-.2l1-.3l1-.4l.6,.3l.4,.2l1,.4l1-.2l1-.8l1,0l1-.7l1-.6l1-.6l1-.8l1-.7l1,.1l1,0l1-.7l.3-.4l.7-1.3l1-.7l1,0l1-.4l1-.9l1-.6l1,.5l1-.9l1-1.8l1-1.7l1-1.4l1-.5l1-.6l0,0l1-.7l1-.5l1-.9l1-.9l1-1l1-.9l1-.8l1-1.2l1-1.4l1-1.4l1-1.2l1-1.1l.7-.5l.3-.3l1-1.2l1-.7l1-.6l1-.9l1-1l1-1.2l1-1.2l1-1.8l1-1.5l1-.7l1-.4l1-.6l.4-.3l.6-.4l1-1.4l1-1.9l1-.8l1-.9l1-1.5l1-1.1l1-.5l1-.4l1-.8l1-1.7l1-1.7l1,.1l.1,0l.9-.8l1-2.8l1-2.3l1-1.6l1-1.3l1-1.3l1-2l.7-1.4l.3-.7l1-1.6l1-1.4l1-1.1l1-.8l.8-1.4l.2-.4l1-2l1-1.7l1-2l1-1.9l1-1.4l1-1.5l1-1.9l1-.4l1-.2l1-2l1-1.5l1-1.4l.4-.7l.6-.6l1-.6l1-.7l1-1.1l1-1.4l1-1.5l1-1.2l1-.5l1-.8l1-2l1-.8l1-.6l1-.2l.2-.2l.8-1.2l1-1.4l1-.8l1-1.9l1-1.9l1-.6l1-1l.8-1.3l.2-.2l1-.8l1-1.4l1-1l1,.2l1,.9l1,.1l1-.3l.4-.1l.6-.9l1-1.8l1-2.6l1-1.9l1-1.7l1-1.7l1-2.1l1-1.6l1-1l1-1.8l.5-1.1l.5-.6l1-1.1l1-.8l1-1.4l1-1.6l1-.9l1-.6l1-1.7l1-1.8l1-.6l1-.4l1-1l1-.2l.2-.3l.8-.6l1-.8l1-.4l1-1.6l1-1.6l1-.4l1-.2l1-.9l1-1.6l1-1.2l.4,0l.6,.1l1-.6l1-.9l1-.1l1-.4l1-1.2l1-.5l1-.9l0,0l1-1.2l1-.7l1-.6l1-.8l1-.4l1-.3l1-.5l.6-.5l.4-.5l1-1.2l1-.7l1-.7l1-1.6l1-1.8l1-.9l1-1.3l1-.9l1-.6l.8-.8l.2-.1l1-.6l1,0l1-.9l1-.9l1,.2l1-.5l1-1.4l1-.9l1-.1l1,.3l0,0l1-.6l1-1.2l1-1.9l1-.3l1-.2l1-.5l1-.5l1-.6l1-.1l1-.2l1-.3l1-.6l.6-.8l.4-.3l1-.6l1-.5l1-.3l1-.9l1-.3l1-.3l1,.3l1,.2l1-.4l1-1l1-1.7l1-.8l.3,.2l.7,.1l1-.4l1-.8l1-.5l1-.1l1-.3l1-.5l1-1.3l1-.6l1-.1l1-.5l1-1.1l1-1.2l1-.7l1,.1l1,.1l1-.6l1-.9l.1,0l.9,0l1,0l1-.2l1-.1l1-.4l1-.1l1-.3l1-1.2l1-.5l1-.1l1-.4l1-.6l1-.4l1-.6l1-.4l1,.2l1,.3l1-.2l1,.1l1-.5l1-.4l1,0l.8-.6l.2-.2l1-1l1-.8l1-.1l1,.5l1-.7l1-.8l1,.2l1,.1l1,0l1-.4l1-.9l1-.8l1-.6l1-.5l1-.5l1-1l1,.1l1,.2l1-1l1-.8l.1-.1l.9-.9l1-.2l1-.4l1-.6l1-.6l1-.1l1,.4l1-.5l1-.1l1,.1l1-.3l1-.7l1-.9l1-.7l1-.8l1,.3l1,.2l1-1l1-1.1l1-1.5l.4-.2l.6-.4l1-.7l1-.3l1,.2l1-.1l1-.4l1,.4l1,.1l1-.5l1-1.2l1-1.7l1-.8l1,0l1,.6l1-.5l1-1.2l1,.1l1-.5l.2-.1l.8-.5l1,.3l1,.6l1,.4l1-.6l1-1.5l1-.8l1,.4l1,.3l1,0l1-.6l1-1.1l.9-.7l.1,0l1-.4l1-.5l1,.4l1-.1l1,.3l1,.8l1-.2l1-.4l1,.1l1-.4l1-.2l1-.3l.6,0l.4-.1l1-.1l1-.2l1-.5l1-1.1l1-.6l1,0l1,.3l1,.2l1-1.1l1-1.6l1-.1l1,.9l.3,.1l.7,.5l1-.7l1,.1l1,0l1-1l1-1.4l1,.3l1,.5l1,.2l1-.4l1,.5l1,.4l1,.1l1-.7l1-.3l.5,.2l.5,.1l1-.9l1-1l1-.2l1-.5l1-.4l1-.2l1,.1l1-.6l1-.8l1-.6l1-.3l1,.1l1-.6l1,.2l1-.2l1,0l1,.5l.3-.1l.7-.2l1-.5l1-1.2l1-.2l1,1.1l1,.3l1-.6l1,0l1,.1l1,.1l1-.4l1-1l1-.8l1-.5l1,.5l.5,.1l.5,0l1-.8l1,.4l1-.6l1-.9l1,0l1-.7l1-1.3l1,0l1,.3l.7-.3l.3,.1l1,.1l1-.2l1,.2l1-.4l1-.4l1,.6l1,.3l1-.1l1,.3l1-.2l1-.3l1,.3l1,0l1-.4l1-.6l1,.2l1,.1l.4,0l.6-.2l1-.2l1,.6l1-.3l1-1l1-.2l1,0l1-.3l1-.5l1,.4l1,.4l1-1l1-.9l.2-.1l.8-.6l1-.4l1-.2l1-.5l1,.1l1,.5l1-.7l1-.7l1-.5l1-.7l1-.6l1,.3l.8,0l.2,.1l1,.6l1,0l1-.7l1-.1l1,.6l1,0l1,0l1,.4l1,.3l1-.1l1,.5l1,.2l.5,0l.5-.2l1-.8l1-1.1l1-.2l1,0l1-.7l1-.2l1,.4l1-.6l1-.4l1-.4l1-.3l1-.6l.2-.2l.8-.8l1-.3l1,.2l1-.1l1-.5l1,.3l1,.4l1,.4l1-.2l1-.3l1,.5l1-.4l.9,.6l.1,0l1,.4l1,.5l1-.8l1-.7l1-.8l1-1.1l1-.7l1,.1l1,.4l1,.4l1,.3l1-.1l.6-.1l.4-.1l1,.2l1,.2l1,.6l1,0l1-.9l1-.4l1,.2l1-.3l1-.6l1-.6l1,0l1,.4l1-.3l1-.9l1-.4l1,.3l1,.3l.4,0l.6-.1l1-.8l1-.4l1,.9l1,1.1l1,.6l1-.7l1-.3l1,.5l1-.1l1-.8l1-.9l1,.4l1,.4l1-.6l.6-.6l.4-.4l1-.3l1,.8l1-.1l1-.8l1-.6l1-.4l1,.4l1,.1l1,0l1-.7l1-.5l1-.3l1,.1l1,.5l1-.1l1-.6l1,0l1,.1l1-.4l1-.7l0-.1l1-.6l1,0l1,.6l1,.4l1-1.4l1,.1l1,.2l1-.9l1,0l1-.5l1-.4l1,.4l1,.2l1-.2l1-.6l1-.4" fill="none" stroke="#3A7D22" stroke-width="2.15" stroke-linejoin="round" stroke-dasharray="9.00 5.40 1.80 5.40 1.80 5.40"/>
<path d="M120.0,1014.0l1,0l1,.1l1,0l1,.1l1,0l1-.3l1,0l.6,.2l.4-.9l1-2.6l1-2.8l1-2.8l1-2.3l.7-1.7l.3-.6l1-2.6l1-2.4l1-2l1-2.3l.8-1.3l.2-.1l1-.1l1-.4l1-.9l1-1.1l1-.9l1-.6l1,.2l.4-.3l.6-.5l1-1l1-.5l1-.6l1,.1l.5,.1l.5-.2l1-.8l1-1l1-2.2l1-2.1l.6-1l.4-.5l1,.1l1,.7l1,0l1,.1l.6,.1l.4-.4l1-1.7l1-1.6l1-.5l1-1.5l.7-1.1l.3-.7l1-2.1l1-3.1l1-3.9l1-2.6l.8-1.8l.2-.5l1-2.3l1-1.9l.3-.7l.7-.6l1-1.6l1-2.5l1-1.6l1-1l1-1.7l1-2.2l.9-1.3l.1-.1l1-1.8l1-2.8l1-4.2l1-2.1l1-2.1l1-2.8l1-2.8l.6-1.3l.4-1.5l1-3.8l1-3.8l1-3.4l1-4l1-3.3l1-2.9l1-4.1l.2-.8l.8-3.4l1-3.2l1-2.2l1-2.2l1-2.2l1-3.7l1-3.5l.3-.7l.7-1.6l1-2.8l1-3.4l1-2.5l1-2.4l1-4l1-3l.2-.3l.8-.6l1-1.9l1-3.4l1-1.1l1-1l1-1.6l.5-.6l.5-1.4l1-3.3l1-4.2l1-3.3l1-2.2l.6-2.4l.4-1.1l1-2.8l1-1l1-1l1-2l1-2.3l1-1.8l1-1.2l.2-.6l.8-3.5l1-4.3l1-2.8l1-1.7l1-2.8l.3-.7l.7-.7l1-1.4l1-2.1l1-1.8l1-1.5l1-1l1-.5l.9-.4l.1-.1l1-1.2l1-1.8l1-.3l1-1.6l1-2.3l1-.9l1-.5l1-.9l1-2.2l1-3.7l0-.1l1-1.3l1-.5l1-.8l1-.3l1-1.1l1-1.4l1-2.3l.7-1.6l.3-.9l1-.9l1-1l1-.4l1-.1l1-2.8l1-1.9l1-1.1l1-1.4l.6-.7l.4,.3l1,.3l1-.1l1-.4l1-.2l1,.4l.9,.5l.1-.1l1-1.3l1-.4l1-.6l1-.8l1-.6l1-.7l1-.9l1-.9l1-.7l1-.5l.1,0l.9-.9l1-2.1l1-1.5l1-1.1l1-.3l1-.9l1-2.8l.7-.6l.3,.1l1,.2l1-.7l1-.9l1,.7l.8-.1l.2-.1l1-.9l1-.7l1-1l1,.7l1,.2l1-1l1,.6l1-.1l1-1.3l1-1.4l1-1l1,.1l.4,.4l.6,.4l1,.8l1-.4l1-.1l1-.7l1-.4l1,.3l1,.1l1-.6l1-.5l1-1l1-.5l1,.3l.2-.1l.8-.1l1-.9l1,.7l1,.7l1-.7l.2-.2l.8-1.3l1-1.2l1-1.4l1,.9l1,.6l1-.5l1-.9l.8-.7l.2,0l1-.4l1-1l1-.9l1-.5l1,.5l1-.6l1-.8l1-.9l1-.1l1,.1l1,.4l1-.5l.5-1.1l.5-1l1-1.8l1-.4l1-.2l1,.3l1-.8l1-.2l1-.8l1-1.5l1-1.1l1-.3l1-.3l1,.8l.2-.4l.8-1l1-2.5l1-.2l1,1.4l1-.5l1-.7l1,.3l1-.6l1-1.2l.1,0l.9,1.5l1,1.3l1,.4l.9,.3l.1,0l1-1.2l1-.7l1,1.3l1,.4l1,.3l1-.2l1-1.3l1-.3l1,0l1-.1l1-.5l1-.9l.6-.1l.4-.1l1,.6l1-.2l1-1.2l1,.8l1,1.5l1-.6l1-2.1l1,.1l1-.3l1-.6l1-.1l1-.2l.3,.2l.7-.1l1-1.6l1-2.7l1,0l1,0l.4-.9l.6-.6l1-1.6l1,0l1,.7l1,1.2l1,1.2l1,.4l1,.6l0,0l1-1l1-.6l1-.6l1-2.5l1-1.8l1-.1l.4-.4l.6,0l1-.8l1,.2l1,.8l1,.9l1,.1l1-.4l1,.1l1,1.2l1,1.2l1-.8l.8,0l.2-.1l1,.2l1-.6l1-.3l1-.1l1,.2l1-1.2l1-1.9l1-1.2l1,.8l1,.3l1,.3l1-.5l.5-.3l.5,.1l1,.8l1,0l1-.6l1,1l.6,.6l.4,.2l1-.5l1-.3l1,.4l1,.3l1-.1l1-.2l1-.3l1,0l1-.7l1-1l1,.3l1,.4l1-.9l1,0l1-.2l1-.7l1-.9l1-.2l1,.2l.7,.4l.3,.2l1-.7l1-.3l1-.7l1-1.6l1,.1l1,1.8l1,.5l1,.1l1-.4l1,.3l1-.1l1-.1l.4-.2l.6-.5l1,.1l1-.3l1-.7l1-1l1,.1l1,.5l1,.4l1-.9l1-1l1-1l1-.5l1-.2l.1,0l.9-.2l1-.4l1-.3l1,.4l1,.6l1-.9l1-.9l1,.3l1,.4l1,.3l1-.8l1-.3l1,0l1,.4l1-1l1,0l1,1l1,.8l1,0l1-1l1-.6l1,1.1l.9,.1l.1,0l1-.8l1,1.1l1-.1l1-.8l1,.1l1,.8l1,.2l1,.6l1,.3l1-.4l.1,.1l.9,.6l1,0l1-1.1l1,.5l1,1.4l1,.1l1,.3l1,.9l1-.2l1-.3l1,0l1-.3l1,.3l1,.7l1-.3l.3,.1l.7,0l1,.2l1-.5l1,.7l1-.3l1-.2l1-.5l1,0l1-.3l1-.1l1-.8l1,.7l1,.4l1,0l1-.7l.6,0l.4-.1l1,.3l1-.3l1-1.1l1-.2l1,.7l1,.9l1,0l1-.9l1-.9l1-.6l1-.6l1,.4l1,.5l1,0l1-.1l1-.2l1-.3l1-.2l1-.2l.9-.5l.1,0l1,.5l1,.3l1,.4l1-.3l1-.6l1,.4l1,.8l1-.1l1-.1l1,0l1-.3l1-.8l1,0l1,.5l1,.6l1,.4l1-.5l1,.2l1,.3l1-.3l.2-.1l.8-.5l1,.1l1-.3l1,0l1,.3l1,.4l1-.2l1,0l1,.2l1-.2l.4,.2l.6,.1l1,.2l1-.5l1-1l1,.1l1,.3l1-.2l1,.2l1,.5l1-.4l1-.7l1-.6l1,.1l1-1.3l1-.4l.6,.6l.4,.5l1,.4l1-.7l1-1l1-.7l1-.1l1,.6l1-.2l1-.3l1-.2l.8-.2l.2,.1l1-.1l1,.1l1,1.1l1,1.7l.8,1.1l.2,.2l1-1l1-1.7l1-.6l1-.4l1,.3l1-.3l1-.9l1,.1l1-.6l1-.3l1-.6l1-.6l1-.4l1,.9l1,.6l1,.3l1-.3l1-.4l1,0l1-.3l.2,0l.8-.1l1-.1l1,.3l1-.2l1-.7l1-.4l1-.5l1,0l1,.6l1-.2l1-.9l1-.3l.8,0l.2,0l1,.5l1-.3l1-.7l1,.1l1,.3l1-.7l1-1.7l1-.8l1-.4l1-.7l1,.5l1,1l1,.5l1,.9l1,1l1,1.1l1,.4l1-.1l1-.6l1,.4l.2,.3l.8,1.1l1-.5l1-1.6l1-.5l1,1.2l1-.3l1-.1l1,.1l1,0l1-.4l.3-.3l.7-.3l1,0l1,.1l1,1.1l1,.8l1,.7l1,1l.9,1.5l.1,.1l1-.3l1-.8l1-1.3l1-2.3l1,.4l1,1l1,.3l1-.2l1-.6l1,.1l1,.5l1,.3l.6,0l.4,.1l1-1.8l1-1.7l1-.5l1-.9l1,0l1,.9l1,.5l1-.5l1,.6l1-.3l1-.6l1,0l.3,.1l.7,.3l1,.6l1-.4l1-1.2l1-.7l1,.9l1,.7l1-.9l1-.5l1,.3l1-.1l1-1.3l1-1.1l0,0l1,.5l1,1l1,.9l1-.6l1-.3l1,1.1l1,.6l.6,.2l.4,.2l1,.2l1-.2l1-.1l1-.2l1,.4l1,.2l1-.5l1-.9l1,.3l.8,.9l.2,.1l1-.4l1-.6l1-.6l1,0l1-.2l1-.8l1-.5l1-1.3l1-.8l1-.5l0,0l1,.6l1,.5l1,.4l1,1.6l1,1.1l1-.3l1-1.9l1,0l1,.9l1,.2l1-.5l1,.9l1,1l1-.4l1,.1l1,.5" fill="none" stroke="#E83323" stroke-width="2.15" stroke-linejoin="round"/>
</g>
<text x="120.0" y="1045.8" font-size="26.82" text-anchor="middle" fill="#262626" textLength="56.3" lengthAdjust="spacingAndGlyphs">0.00</text>
<text x="203.9" y="1045.8" font-size="26.82" text-anchor="middle" fill="#262626" textLength="56.3" lengthAdjust="spacingAndGlyphs">0.25</text>
<text x="287.8" y="1045.8" font-size="26.82" text-anchor="middle" fill="#262626" textLength="56.3" lengthAdjust="spacingAndGlyphs">0.50</text>
<text x="371.6" y="1045.8" font-size="26.82" text-anchor="middle" fill="#262626" textLength="56.3" lengthAdjust="spacingAndGlyphs">0.75</text>
<text x="455.5" y="1045.8" font-size="26.82" text-anchor="middle" fill="#262626" textLength="56.3" lengthAdjust="spacingAndGlyphs">1.00</text>
<text x="539.4" y="1045.8" font-size="26.82" text-anchor="middle" fill="#262626" textLength="56.3" lengthAdjust="spacingAndGlyphs">1.25</text>
<text x="623.2" y="1045.8" font-size="26.82" text-anchor="middle" fill="#262626" textLength="56.3" lengthAdjust="spacingAndGlyphs">1.50</text>
<text x="707.1" y="1045.8" font-size="26.82" text-anchor="middle" fill="#262626" textLength="56.3" lengthAdjust="spacingAndGlyphs">1.75</text>
<text x="791.0" y="1045.8" font-size="26.82" text-anchor="middle" fill="#262626" textLength="56.3" lengthAdjust="spacingAndGlyphs">2.00</text>
<text x="107.0" y="1023.8" font-size="26.82" text-anchor="end" fill="#262626" textLength="16.1" lengthAdjust="spacingAndGlyphs">0</text>
<text x="107.0" y="942.5" font-size="26.82" text-anchor="end" fill="#262626" textLength="32.2" lengthAdjust="spacingAndGlyphs">10</text>
<text x="107.0" y="861.3" font-size="26.82" text-anchor="end" fill="#262626" textLength="32.2" lengthAdjust="spacingAndGlyphs">20</text>
<text x="107.0" y="780.0" font-size="26.82" text-anchor="end" fill="#262626" textLength="32.2" lengthAdjust="spacingAndGlyphs">30</text>
<text x="107.0" y="698.8" font-size="26.82" text-anchor="end" fill="#262626" textLength="32.2" lengthAdjust="spacingAndGlyphs">40</text>
<text x="769.0" y="1073.7" font-size="25.93" text-anchor="end" fill="#262626" textLength="53.4" lengthAdjust="spacingAndGlyphs">×10</text>
<text x="791.5" y="1064.4" font-size="18.77" text-anchor="end" fill="#262626" textLength="22.5" lengthAdjust="spacingAndGlyphs">10</text>
<text x="455.5" y="1084.8" font-size="38.95" text-anchor="middle" fill="#262626" textLength="189.0" lengthAdjust="spacingAndGlyphs">Env Steps</text>
<text x="455.5" y="611.8" font-size="41.51" text-anchor="middle" fill="#262626" textLength="524.8" lengthAdjust="spacingAndGlyphs">AllegroKuka Reorientation</text>
<text x="0" y="0" transform="translate(61.5,819.5) rotate(-90)" font-size="38.95" text-anchor="middle" fill="#262626" textLength="357.5" lengthAdjust="spacingAndGlyphs">Episode Successes</text>
</g>
<g id="P5">
<rect x="965" y="625" width="671" height="389" fill="#EAEAF2"/>
<clipPath id="cP5"><rect x="965" y="625" width="671" height="389"/></clipPath>
<path d="M965.00,625V1014M1048.88,625V1014M1132.75,625V1014M1216.62,625V1014M1300.50,625V1014M1384.38,625V1014M1468.25,625V1014M1552.12,625V1014M1636.15,625V1014M965,1014.15H1636M965,936.20H1636M965,858.40H1636M965,780.60H1636M965,702.80H1636" stroke="#fff" stroke-width="1.30" fill="none" clip-path="url(#cP5)"/>
<g clip-path="url(#cP5)">
<path d="M965.0,864.8l1.5-.8l1.5-.6l1.5-.3l1.5,.2l1.5-.9l1.5-.2l1.2-.9l.3-.7l1.5-1.9l1.5-1.6l1.5-2.7l1.5-3.1l1.3-3l.2-.6l1.5-2.5l1.5-2.7l1.5-2.1l1.5-3.4l1.4,3.4l.1,.3l1.5,2l1.5-2.8l1.5-.8l1.5-1.4l1.5-.9l0,0l1.5,.5l1.5,1.8l1.5-1.2l.6-1.3l.9-.7l1.5,3.8l1.5,4.9l1.5,1.4l1.5,4.3l1.5-1.8l1.5,1.2l1.5,.6l1.3,2.9l.2-.1l1.5-1.5l1.5-.5l1.5-3.9l1.5-2.9l1.5,1.5l1.5,1.9l1.5,.9l1.5-2l.5-2.2l1-3.4l1.5-.4l1.5-.3l1.5,2.5l1.5-3.2l1.5-2.4l1.5-2.2l1.5,.1l1.2,2.1l.3-.6l1.5-3l1.5-1.1l1.5,1.1l1.5-.9l1.5-5.1l1.5-.7l1.5-1.4l1.5,0l.4-.3l1.1-1l1.5-1.1l1.5,1.1l1.5-.7l1.5-3.6l1.5,2.1l1.5-2.8l1.5-.4l1.1,.2l.4,.1l1.5-4.5l1.5-1.5l1.5,.2l1.5-.5l1.5-1.1l1.5,.8l1.5-2.2l1.5-.9l.3,.5l1.2,2.3l1.5,.4l1.5-4.1l1.5-1.1l1.5-1.5l1.5-.9l1.5,2.7l1.5-1.8l1,.4l.5,.3l1.5-1.3l1.5-1.2l1.5,2l1.5-2.6l1.5-2.2l1.5,1.4l1.5,.2l1.5-1.3l.2-.1l1.3-2l1.5,.7l1.5,1.2l1.5-3.1l1.5-1.1l1.5-1.5l1.5-1.8l1.5-.5l.9,.6l.6,.4l1.5-3.3l1.5,.7l1.5,.2l1.5-5.4l1.5,.6l1.5-.1l1.5,.6l1.5,.4l.1-.1l1.4-.2l1.5,.3l1.5,2l1.5,2.2l1.5-.4l1.5-.7l1.5-1.4l1.5,.6l.8,.4l.7,1.2l1.5,.9l1.5-2.8l1.5,.6l1.5,.2l1.5-2.1l1.5,2.6l1.5,.5l1.5-2.5l1.5,2.2l1-1.4l.5-.1l1.5,.4l1.5-1.4l1.5-2.8l1.5,.7l1.5,1.3l1.5,.6l.7,1.4l.8,1.4l1.5-1.6l1.5-.8l1.5-.6l1.5,1.3l1.5,1.8l1.5-1.4l1.5,.6l1.3-.4l.2-.1l1.5,1.4l1.5,1.6l1.5,0l1.5-.9l1.5,.9l1.5,.9l1.5-3.6l1.5-2.7l.5,0l1-.1l1.5-1.8l1.5-.3l1.5,1.9l1.5-.2l1.5-.6l1.5-.7l1.5-.6l1.2-2.5l.3-.1l1.5,1.3l1.5,3.6l1.5-2.9l1.5-1.8l1.5,2.6l1.5,.6l1.5-1.5l1.5-2.4l.4-.8l1.1,.7l1.5,2.7l1.5,.5l1.5-2.7l1.5,.8l1.5-1.8l1.5-.5l1.5,1.5l1.1-.8l.4-.5l1.5,0l1.5,.3l1.5-2.5l1.5-2.4l1.5-1.2l1.5-1.6l1.5,.6l1.5,.5l.3-.5l1.2-.8l1.5-.1l1.5-.4l1.5-.8l1.5,1.5l1.5,1.2l1.5-.2l1.5,2.3l1,2l.5-1l1.5-3.7l1.5-1.9l1.5-.1l1.5,0l1.5-1.5l1.5,.1l1.5-2.4l1.5-.5l.2-.1l1.3-1.1l1.5-1.3l1.5,3.4l1.5,.1l1.5-1.1l1.5-.5l1.5-1.5l1.5-1.4l.9-.9l.6-.2l1.5,.3l1.5-.3l1.5-.7l1.5-2.3l1.5,2.8l1.5,1.2l1.5-1.2l1.5-3.6l1.5,.2l1.5,.7l1.5-2l1.5-4l1.5,1.7l1.5-2.6l1.5,2.5l1.5,.8l1.5-3.1l1.5-3.2l1.5,.1l1.5-1.5l1.5-2.5l1.5,1.5l1.5-.1l1.5-1.4l1.3,.7l.2-.2l1.5-3.2l1.5-.1l1.5-.5l1.5-4l1.5,1.6l1.5,4.3l1.5-2.6l1.5-1.6l1.5,1.9l1.5-2l1.5,.7l1.5-2.3l1.5-2.1l1.5,1.9l.4,.4l1.1-.3l1.5-3l1.5,1.1l1.5-3.4l1.5,.2l1.5-1.8l1.5-.3l1.5-.5l1.5-1.4l1.5,.7l1.5,0l1.5-1.4l1.5,.3l1.5-3.3l1-.4l.5-.2l1.5,1.5l1.5-1l1.5-2.6l1.5-.2l1.5,1l1.5-2.5l1.5-2l1.5-.4l1.5,0l1.5,.5l1.5,5.2l1.5-.7l1.5-2.5l1.1-.1l.4,0l1.5-.9l1.5-.5l1.5-.8l1.5-1.8l1.5-.1l1.5,.2l1.5,2.9l1.5-2.1l1.5-1l1.5-.1l1.5,1.2l1.5-.2l1.5,1.8l1.5,1.3l1.5,.8l1.5-2.4l1.5,3.3l1.5-.1l1.5-.1l1.5-1.8l1.5-1l1.5-.5l1.5-.4l1.5,.6l1.5,.6l1.5-2.4l1.5,2l.7,.6l.8-.7l1.5-1.8l1.5-.9l1.5,.3l1.5,.4l1.5,.5l1.5,1.2l1.5,.3l1.5,.1l1.5-1.2l1.5,2.4l1.5-.8l1.5,1.3l1.5,.7l1.5-1.2l1.5,2.3l1.5,.1l1.5-.7l1.5,1.6l1.5-.9l1.5-1.8l1.5,0l1.5,1l1.5-1.3l1.5-1.4l1.5,1.3l1.5,2.4l1.5-.2l.9-2l.6-1.9l1.5,.8l1.5,.9l1.5-.4l1.5-.3l1.5,3.1l1.5-.6l1.5-.9l1.5,1.3l1.5,.2l1.5-1.1l1.5-.5l1.5,3.1l1.5-.9l1.5,.6l.4,.5l1.1,.4l1.5,.7l1.5-.3l1.5,.4l1.5,4.2l1.5,1.5l1.5-2.4l1.5,.5l1.5,2l1.5,2.2l1.5-1.8l1.5,.2l1.5,.3l.8,.3l.7,.3l1.5-1.6l1.5-2.5l1.5,2.8l1.5,.9l1.5-3.4l1.5-1.3l1.5,2.8l1.5-.5l1.5,.4l1.5-.2l1.5,3.2l1.5-1.5l1.5-1.8l1.5-.6l1.5-.3l1.5-.4l1.5-3l1.5,2l1.5,1.6l1.5-2.6l1.5,.4l1.5,1.7l1.5,.6l1.5,.2l1.5-.2l1.5,0l1.5,.3l1.2,.1l.3-.4l1.5-.3l1.5-1.3l1.5,1.7l1.5,1l1.5-2.7l1.5-2.5l1.5-.2l1.5,1.3l1.5-.6l1.5,1.3l1.5-1.9l1.5,.3l1.5,1.2l1.5-.7l.2-.2l1.3-2.1l1.5-.5l1.5-1.7l1.5-2.1l1.5,.3l1.5,.5l1.5-1.1l1.5-.4l1.5-.8l1.5,1l1.5-.6l1.5-1.8l1.5-.3l1.1,2.7l.4,1.1l1.5,.1l1.5-1.8l1.5-2.1l1.5-.4l1.5,.5l1.5,0l1.5,.2l1.5,1.2l1.5-1l1.5-1.1l1.5-.8l1.5,.5l1.5,1.5l1.5-2.8l1.4-1.2l.1,0l1.5-.1l1.5,1.4l1.5,1.8l1.5-1l1.5-3.2l1.5,1.6l1.5,0l1.5,0l1.5-.4l1.5,2.5l1.5-4.1l1.5,3.2l.5,1.4l0,107l-.5-1.2l-1.5,.7l-1.5,1.8l-1.5-1.7l-1.5-.6l-1.5,.6l-1.5,1.2l-1.5,1.3l0,.1l-1.5-4l-1.5-1.1l-1.5,3.1l-1.5,2.3l-1.5,.3l-1.5,1.1l-1.1-.2l-.4-.6l-1.5-2.3l-1.5-.5l-1.5-3.6l-1.5-1.6l-1.5-.5l-1.5-1.4l-.8-2.5l-.7-2.5l-1.5-.6l-1.5,.4l-1.5-.5l-1.5-.1l-1.5-3.1l-1.5-3.5l-.4-1l-1.1-1.3l-1.5-1l-1.5,.2l-1.5-.3l-.8-3l-.7-.2l-1.5,4.1l-1.5,1.7l-1.5-.4l-1.5,4.2l-1.5-.1l-.7,0l-.8,1.8l-1.5,4l-1.5,1.1l-1.5,2.1l-.5,30.7l-.5-37.6l-.5,.8l-1.5,2.3l-1.5,1.9l-1.5,2.6l-1.4-.8l-.1-.4l-1.5-5.4l-1.5-1l-1.5,.5l-1.5,1.6l-1.5,.3l0,0l-1.5,.5l-1.5-.3l-1.5-1.4l-1.5,2.5l-1.5,1.5l-1.5,1.7l-1.5-.7l-1.5,1.6l-.7,.6l-.8,.1l-1.5-1.7l-1.5,2.4l-1.5,1.9l-1.5-1.1l-1.5,2.2l-1.5,3.3l-.3,.1l-1.2-.3l-1.5-1.7l-1.5-1.2l-1.5-3.6l-1.5-2.2l-1.5,0l-1.5-.9l-1.5,.5l-1.5,.8l-1.5,.1l-1.5,1.5l-1.5,2.2l-.1,.2l-1.4,3.1l-1.5,1.6l-1.5,1.4l-1.5,2.7l-1.5,4.2l-1.5,2.1l-1.5,5.1l-1.5,2.7l-.8,.5l-.7-1.8l-1.5-3.8l-.3-1.1l-1.2,.9l-1.5,1.9l-1.5,1.6l-1.5,.4l-.7,0l-.8-.7l-1.5-.2l-1.5-.8l-1.5-.9l-1.1-1l-.4-.1l-1.5-.9l-1.5,2.2l-1.5,0l-1.5,2.2l-1.5,.3l-1.5-2.6l-.7-1.5l-.8-2.2l-1.5-3l-1.5,0l-1.3-3.1l-.2-.3l-1.5,1.3l-1.5,4l-1.5-.3l-1.5-1.4l-1.5,2l-1.5,4.6l-1.5-5.1l-1.5,0l-.5,1.3l-1,1.5l-1.5-2.1l-1.5-2.3l-1.5,2.4l-1.5-2.1l-1.5-2.2l-1.5-.7l-.1-.2l-1.4,1.3l-1.5,4l-1.5,4.7l-.7,.1l-.8-.1l-1.5,1.1l-1.5-3.1l-1.3-2.5l-.2,0l-1.5,1.7l-1.5,.2l-1.5,2.6l-1.5,.5l-1.5,1.6l-1.5,.9l-1,1.9l-.5-.5l-1.5-2.9l-1.5-.6l-1.5-1.2l-1.5-3.6l-1.5-1.6l-1.5-1.6l-.6-1.9l-.9-1.5l-1.5,2.4l-1.5,4.4l-1.5-1l-1.5,.6l-1.5,.3l-1.5-.3l-1.5,2.5l-1.5-.7l-1.5,4.1l-.9,2.4l-.6-.1l-1.5-4.7l-1.5,1.2l-1.5-.4l-1.5-1.3l-1.5,.3l-1.5-2.8l-.5-.9l-1-.6l-1.5,.7l-1.5-.8l-1.5-1.8l-1.5,2.3l-1.5-.9l-1.5,2.3l-1.5-.5l-1.2-1.9l-.3,.1l-1.5,1.9l-1.5,3.4l-1.5,4.1l-1.5,3.8l-1.5,2l-1.5,3l-1.5,3.3l-.6-.3l-.9-1.9l-1.5-1.2l-1.5-.7l-1.5-2l-1.5-2.9l-1.5-.7l-.5,0l-1,1.7l-1.5-.2l-1.5-1.1l-1.5,.3l-1.5,3.6l-1.5,1.3l-1.5-1.5l-.2-.1l-1.3-2.9l-1.5-.8l-1.5,.1l-1.5,0l-1.5-1.4l-.3-.7l-1.2-3.4l-1.5-2.2l-1.5,2.1l-1.5-.8l-1.5-3.3l-.4-.2l-1.1-1.3l-1.5-3.7l-1.5-.9l-1.5,.1l-1.5-2.2l-.5-1.4l-1-.7l-1.5,1.6l-1.5,2.2l-1.5,1.1l-1.5-3.1l-1.5-1.3l-1.5,2l-.2,.3l-1.3-.2l-1.5,1.1l-1.5-1.3l-1.5,1l-1.5,3.1l-1.5-3.2l-1.5-2.4l-1.5,1.8l-.9,.9l-.6,1.2l-1.5,4.4l-1.5,2.1l-1.5-1l-1.5-.5l-1.5-.4l-1.5,.8l-1.5,2.9l-1.5,.4l-1.5,0l-1.5,1.6l-.7,0l-.8-.7l-1.5-1l-1.5,.4l-1.5,0l-1.5-2.1l-1.5-3.2l-1.5,.9l-1.5,1.5l-1.5-1.7l-1.2-1.6l-.3-.7l-1.5,1.3l-1.5-1.4l-1.5-3.7l-1.5-.7l-1.5-.7l-1.5-.6l-1.5-4.4l-.6-1.5l-.9,3.4l-1.5,2.6l-1.5,3.3l-1.5,2.6l-.9,2l-.6-.8l-1.5-3.6l-1.5-3.9l-1.5-.6l0,0l-1.5,.4l-1.5,.1l-1.5,1.1l-1.5,1.6l-1.5,.2l-1.5,2.1l-1.2-2l-.3-1.4l-1.5,.9l-1.5-.3l-1.5-5.4l-1.5-2.3l-1.3-2.1l-.2,.1l-1.5,.4l-1.5-1l-1.5-.9l-1.5-1l-1.4-1.3l-.1,0l-1.5,2.1l-1.5,3.2l-1.5,2.3l-1.5,.9l-1.5,2.2l-1.5,1.9l-1.1,.9l-.4-.4l-1.5-1.5l-1.5,1.3l-1.5,1.7l-1.5,1.6l-1.5,3.5l-1.5,.5l-.7,0l-.8,1.4l-1.5,3.4l-1.5,3.4l-1.5,.5l-1.5,2.7l-.8,2.2l-.7-.3l-1.5-1.2l-1.5-3.1l-1.4-2.2l-.1,.1l-1.5-.5l-1.5,0l-1.5-.3l-1.5-.1l-1.5-2.7l0-.1l-1.5,2.3l-1.5,1.3l-1.5,1.7l-1.5-.1l-1.5-2l-1.5,.8l-1.5,.5l-1.5,.6l-.7-1.3l-.8,.1l-1.5,2.9l-1.5,1l-1.5-.8l-1.5,2.9l-1.5,1.5l-1.5,4.3l-1.5,3.8l-.2-.2l-1.3-2.9l-1.5-1.4l-1.5-2.4l-1.5,2.4l-1.5-.2l-1.5-3.1l-.1,0l-1.4,1.1l-1.5,1.7l-1.5-.2l-1.5,.6l-1.5-1.5l-1.5-.5l-1.5,.6l-1.5-1.2l-.7,.1l-.8,2.2l-1.5,.3l-1.5-1.3l-1.5,2.9l-1.5-.1l-1.5,1.6l-1.5,3l-1.5,2l-1.4-.4l-.1-.1l-1.5,.6l-1.5,.6l-1.5,.3l-1.5,.3l-1.5,1.6l-1.5,1.6l-1.5,1.2l-1.5-1.7l-.6-.9l-.9,1.5l-1.5,5.2l-1.5,1.6l-1.5,3.6l-1.5,5.5l-1.5,1.8l-1.5,4.3l-.3,.4l-1.2-.3l-1.5-.4l-1.5-2.8l-.9-1.3l-.6-.5l-1.5,.2l-1.5,.4l-1.5-.1l-1.5-1.3l-1.5,1.1l-1.5,1.4l-.5,.2l-1,.5l-1.5,2l-1.5,1.2l-1.5-2l-1.5,0l-1.5,.9l-1.5,1.4l-.2,0l-1.3,3l-1.5,5.3l-1.5,3.1l-1.5,4.9l-1.5,2.9l-1.5,3.4l-1.4,5.4l-.1,.2l-1.5,1.9l-1.5,1.5l-1.5,1.3l-1.5,2l-1.5,1.1l-1.2-.3l-.3-.1l-1.5,1.3l-1.5,6.5l-1.5,4.5l-1.5,4.5l-.1,.3l-1.4,5.6l-1.5,3.5l-1.5,3.1l-1.5,3.7l-1.5,4.2l-.7,2.4l-.8,2.3l-1.5,3.9l-1.5,2.6l-1.5,4.9l-1.5,1l-.3,.2l-1.2,2.7l-1.5,4.1l-1.5,1.9l-.9,2.6l-.6,.6l-1.5,1l-1.5,.7l-1.5-.4l-1.5-.2l-1.5,.6l-1.5-2l-.6-.4l-.9,2.7l-1.5,4.2l-1.5,7.2l-1.5,6.3l-.9,2.8l-.6-.7l-1.5,.2l-1.5-.7l-1.5-1.6l-1.5-1.4l-1.5,3.7l-1.5,2.1l-1.5-1.6l-1.5-1.6l-1.5-2.6l-1.5-.7l-1.5,3.3l-.7,1.5l-.8-5.2l-.4-3.9l-1.1-4.2l-1.5-5.5l-1.5-2.6l-1-1.8l-.5,.8l-1.5,2.5l-1.5,2.6l-1.5,.1l-.1,0l-1.4,4.1l-1.5,4.3l-1.5,6.2l-.7,2.4l-.8-.2l-1.5-.7l-1.5,.2l-1.5,0l-1.5,.6l-1.5,0l-1.5-.3l-1.5,.2l-1.5-.7l-1.5,.3l-1.5,.5l-1.5-.1l-1.5-.1l-1.5,0Z" fill="#0000FF" fill-opacity="0.2"/>
<path d="M968.8,1008.7l1.5-13.5l1.5-13.6l1.5-14.1l1.5-14.2l.4-3.5l1.1-9.9l1.5-11.1l1.5-8.7l1.5-9.3l1.5-13.5l.5-4.8l1-3.7l1.5-4.7l1.5-8.4l1.5-3.4l1.5-5.2l.6-2.2l.9-2.3l1.5-5.9l1.5-1l1.5-.3l1.5-8.9l.7-3l.8-2.2l1.5-3.2l1.5-3.7l1.5-1.5l1.5-3.7l.8-1.4l.7-.2l1.5-2.5l1.5-2.2l1.5,.6l1.5-4.7l1.5-8.1l1.5-1l.5,.4l1,2l1.5,5.2l1.5-1.8l1.5-3.7l1.5-2.3l1.5-1.1l1.5-2.6l1.5-1.1l1.2-1.8l.3-.5l1.5-1l1.5-.5l1.5,2.2l1.5,.8l1.5-4.6l1.5-2.9l1.5,1.8l1.5-2.3l.4-.9l1.1-1.9l1.5,0l1.5,.5l1.5,.4l1.5-2.4l1.5-.8l1.5-3.6l1.5-1.1l1.1,1.6l.4-.5l1.5-2.3l1.5-1.4l1.5-.5l1.5-5.1l1.5-2.4l1.5,3.7l1.5,2l1.5-2.5l.3-.3l1.2,1.1l1.5,3.2l1.5-.2l1.5-2.7l1.5-2.6l1.5-1.6l1.5-.1l1.5-.7l1,0l.5,0l1.5-1.2l1.5-.6l1.5-1.7l1.5,.9l1.5,1.8l1.5-.2l1.5-.1l1.5-2.3l.2-.3l1.3-2.4l1.5-1.8l1.5-.1l1.5,1.4l1.5,2.6l1.5-.9l1.5-.2l1.5-1.7l.9-.1l.6-1.3l1.5-2.3l1.5,2.5l1.5-.6l1.5,3.7l1.5-2.5l1.5-2.2l1.5-1.3l1.5,1.6l.1,.1l1.4,1.6l1.5-.2l1.5-3.1l1.5-1.8l1.5,1.7l1.5-4l1.5,3.4l1.5-1l1.5-2.4l1.5-1.8l.3-.7l1.2-1.2l1.5,.4l1.5,1.1l1.5,.1l1.5-2.2l1.5,.8l1.5,.5l0-.1l1.5-4.7l1.5-1l1.5,1.8l1.5,.4l1.5-2.3l1.5-2l1.5-2.1l1.5,.2l.6,1.1l.9,.6l1.5-1.4l1.5-1.6l1.5-.6l1.5,0l1.5-3.4l1.5,2.2l1.5,1.7l1.4-1.9l.1-.4l1.5-2.4l1.5-2l1.5-.8l1.5,1.5l1.5-1.2l1.5,.7l1.5-2.4l1.5,.2l.5,.6l1-.6l1.5,.2l1.5-1.4l1.5-1.4l1.5,2.2l1.5-1.2l1.5-2.5l1.5,.8l1.2,1.1l.3,.2l1.5-1.5l1.5,.7l1.5,1.3l1.5-4.7l1.5,1.9l1.5,2.6l1.5-1.2l1.5-2.5l.4,0l1.1-.6l1.5-1.2l1.5,1.1l1.5,1.2l1.5-1.1l1.5-.6l1.5-5l1.5-1.2l1.1-.6l.4,.2l1.5,1.5l1.5,3.1l1.5-1.5l1.5-.2l1.5,1l1.5,.2l1.5-.4l1.5-3.7l.3-.5l1.2,2l1.5,4.1l1.5-1.2l1.5-2.3l1.5,2.8l1.5,3.1l1.5-2.4l1.5,1.5l1,.6l.5-.6l1.5-.5l1.5,1.9l1.5-3.2l1.5,.3l1.5-1.3l1.5,1.6l1.5-1.4l1.5,.9l.2-.2l1.3-1.2l1.5-2.6l1.5-.6l1.5,1.2l1.5,.6l1.5,.3l1.5,0l1.5-3.3l.9,1l.6,1.5l1.5,1.7l1.5,1.7l1.5,1.3l1.5-4.4l1.5-2.7l1.5,1.2l1.5-.9l1.5,1l1.5,2.2l1.2-1.7l.3-.2l1.5,1l1.5,2.1l1.5,2.2l1.5-2.7l1.5-3.1l1.5,.4l1.5-1.3l1.5,1.5l1.5,1.1l1.5-3l1.5-.1l1.5-2l1.5,.1l1.5,.5l1.5-1.7l1.5-1.6l1.5,.8l1.5-1.6l1.5-.5l1.5-1.8l1.5,0l1.5,0l1.5-2.2l1.5-1.4l1.5,.1l1.5,1.6l1.1,.5l.4,.4l1.5,0l1.5,.2l1.5-2.5l1.5,.1l1.5-.5l1.5,.6l1.5,1.1l1.5,1.8l1.5-2l1.5-.4l1.5,.8l1.5-.8l1.5-.4l1.5,4l1.5,1.4l1.5-2.1l1-3l.5,.4l1.5,3.4l1.5-.9l1.5-1.1l1.5,.6l1.5,2.9l1.5-.1l1.5,2l1.5-.3l.2-.1l1.3-.8l1.5,.1l1.5-3.6l1.5,.8l1.5,1.2l1.5-1.9l1.5-4l1.5,.8l1.5,1l1.5,.6l1.5-2.6l1.5-.2l1.5,4.7l1-.4l.5-1.1l1.5-5.1l1.5-1.3l1.5,0l1.5,1.7l1.5,1.4l1.5,1.6l1.5,1.4l1.5-1.8l1.5-3.2l1.5,1.3l1.5,3.6l.8,.3l.7-.9l1.5-1.9l1.5-3.2l1.5-1.9l1.5,.4l1.5-1.9l1.5,1.6l1.5-2.1l1.5-3.9l1.5,1.1l1.5,.3l1.5,1.9l1.5-3.1l1.5-1.7l.1,.1l1.4,4.4l1.5,2.8l1.5-4.5l1.5,.6l1.5,2.7l1.5,0l1.5-3.1l1.5,2.5l1.5,2.5l1.5-1.4l1.5-1.2l1.4,.6l.1-.1l1.5,2.1l1.5-1.6l1.5-1.6l1.5,2.1l1.5,.4l1.5,.7l1.5-.5l1.5,1.4l.6-.5l.9-.9l1.5-1.8l1.5,1.1l1.5,.6l1.5,0l1.5-3.1l1.5-1.1l1.5-.5l1.5,.8l1.5-3.2l.8-.5l.7,.4l1.5,1.6l1.5,.4l1.5,1.3l1.5,1.4l1.5,2.1l1.5-2.5l1.5-1.1l1.5-.5l1.5,.7l1.5,.9l1.5,1.3l1.5-.2l1.5-2.9l1.5-1.7l1.1,3.1l.4,1l1.5,.4l1.5-2.6l1.5,.1l1.5-2.8l1.3-1l.2,.4l1.5,3.7l1.5-1.6l1.5-2.3l1.5,2.6l1.5,.4l1.5,1.5l1.5,2.1l1.5-1.6l1.5,2.1l1.5,2.9l1.5-1l1-1.2l.5-.1l1.5,.4l1.5,.8l1.5,.5l1.5-7.6l1.5-3.9l1.5,3.1l1.5,0l1.5-.4l.2-.2l1.3,.1l1.5,.7l1.5,.8l1.5-3.5l1.5,.5l1.5-1.1l1.5,1.1l1.5,3.1l.9,.2l.6-1.1l1.5-.6l1.5,2.8l1.5-3.4l1.5-2.9l1.5,.1l1.5-1.9l1.5-.9l1.5,.3l.1,0l1.4,.4l1.5,1.3l1.5,2l1.5,2.7l1.5,.1l1.5-2.3l1.5-1.8l1.5,2.1l1.5-.3l1.5-.7l1.5,1.2l1.5-1.8l1.5-1.3l1.5-.2l1.5-3.2l1.5-.8l1.5,2.7l0,0l1.5,1.8l1.5-.9l1.5-.4l1.5,.3l1.5,1.5l1.5-2.4l1.5,2.7l1.5,1.1l1.5-1.2l1.5-.2l1.5-.7l1.5-3.4l1.5,2.1l1.5,.4l1.5-1l1.5,.5l1.4,0l.1-.1l1.5-1.2l1.5,.9l1.5,1.5l1.5-.7l1.5,.1l1.5,3.8l1.5-1.7l1.5-.1l.6-1.3l.9-2.9l1.5-4.3l1.5-1l1.5,2.1l1.5,1.8l1.5-1.1l1.5-.4l1.5,2.6l1.3-1.1l.2,.3l1.5,3l1.5,2.2l1.5,5.1l1.2,.9l0,23.1l-1.4,.8l-1.5-.6l-1.5,3l-1.5,.1l-1.5,4.6l-1,1.3l-.5-1.2l-1.5-1.4l-1.5-1.3l-1.5-3.7l-1.5,.9l-1.5-4.2l-1.5-1.1l-.7,1.9l-.8-.1l-1.5-2.7l-1.5,4.1l-1.5-3.4l-1.5,.9l-1.5,1l-1.5-.9l-1.5-1.7l-1.4,3.4l-.1,.4l-1.5,.7l-1.5-.1l-1.5-.7l-1.5-2.1l-1.5,2.6l-1.5-1.1l-1.5,2.3l-1.5-.4l-.6-.1l-.9-.8l-1.5,2.6l-1.5,.7l-1.5-.8l-1.5,2.9l-1.5,2l-1.5-.8l-1.5-1.4l-1.3-.6l-.2-.3l-1.5-2.3l-1.5-1.1l-1.5-.8l-1.5-1.8l-1.5,1.2l-1.5,.4l-1.5,1.3l-1.5,3.2l-.5,1.8l-1,2.5l-1.5,2l-1.5-.8l-1.5,2.1l-1.5-1.3l-1.5,3l-1.5-1.1l-1.5,.4l-1.2,2.9l-.3,0l-1.5-3.4l-1.5-2.2l-1.5,3.1l-1.5,.8l-1.5,.1l-1.5-1.5l-1.5-2.2l-1.5,2l-.4,0l-1.1-.8l-1.5,1.3l-1.5-.9l-1.5,2.9l-1.5,3.2l-1.5-3.3l-1.5,3.6l-1.5-.2l-1.1-.4l-.4,.2l-1.5-.5l-1.5,.9l-1.5,0l-1.5-2.1l-1.5-2.9l-1.5-1.2l-1.5-.5l-1.5,.3l-.3,0l-1.2,.7l-1.5,1.4l-1.5,1.4l-1.5,1.6l-1.5,2.3l-1.5-.3l-1.5,1.2l-1.5,.2l-.9-1.2l-.6,.3l-1.5,1.4l-1.5-.4l-1.5-3.2l-1.5,1.6l-1.5,.7l-1.5,1.9l-.6,1.8l-.9,.8l-1.5-.8l-1.5-2.2l-1.5,3l-1.5,1.1l-1.5,0l-1.5,4.4l-1.5-1.1l-1.3,3l-.2,.2l-1.5-6.2l-1.5-7l-1.5-3l-1.5-6.1l-1.4-2.2l-.1,.3l-1.5,4.1l-1.5,4.8l-1.5,3.8l-1.5-.1l-1.5,1.3l0,.1l-1.5,5.1l-1.5,.4l-1.5-1.1l-1.5-2.1l-1.5-.9l-1.5-.8l-1.5,2l-1.5-1.1l-.7,.4l-.8,1.6l-1.5,.3l-1.5-1.3l-1.5-1.1l-1.5-.1l-1.5,2.9l-1.5-1.9l-1.5,.9l-1.5,0l-1.5-5.8l-1-2.3l-.5,1.8l-1.5,6.2l-1.5,.7l-1.5,4.4l-1.5,1.6l-1.5-.3l-1.5,1.4l-.6,.8l-.9,.2l-1.5-.4l-1.5-.6l-1.5-.2l-1.5,1.3l-1.5-1.5l-1.5-.6l-1.5-.7l-1.3-2.7l-.2-.7l-1.5,1.2l-1.5-.6l-1.5-.1l-1.5,2l-1.5-4.8l-1.5,.4l-1.5,1.6l-1.5-2.7l-.5-1.5l-1-.2l-1.5,1.9l-1.5-2.2l-1.5,.8l-1.5-3.9l-1.5,.6l-1.5,2.5l-1.5,1.1l-1.2,.7l-.3,.2l-1.5-1l-1.5,2.4l-1.5,.7l-1.5,.1l-1.5-4.1l-1.5,1.9l-1.5,2l-1.5-.3l-.4-.4l-1.1-2.7l-1.5,.3l-1.5,1.7l-1.5,.3l-1.5-2.5l-1.5,1.4l-1.5,.4l-1.5-.5l-1.1-.2l-.4-.3l-1.5-5l-1.5-2.2l-1.5,.4l-1.5-1.3l-1.5-1l-1.5-.7l-1.5-2.2l-1.5-2.5l-.3,0l-1.2,2.5l-1.5,1.7l-1.5,0l-1.5,3.7l-1.5-.7l-1.5,1.5l-1.5,4.3l-1.5,1.8l-1-3.5l-.5,.4l-1.5,1.8l-1.5,1.9l-1.5,2.3l-1.5-2.8l-1.5,.7l-1.5,3l-1.5,4.5l-1.5-.4l-.2-.4l-1.3-1.5l-1.5-.8l-1.5,1.7l-1.5,2.3l-1.5,3.3l-.3-.1l-1.2-.3l-1.5,.8l-1.5,2.6l-1.5,3.4l-1.5,2.5l-1.5,4.6l-1.5-1.2l0-.1l-1.5-2l-1.5,1.3l-1.5,1l-1.5-2.3l-1.5,1.1l-1.5-1.4l-1.5,.6l-1.5,3l-1.5-3.5l-1.5,2.9l-1.5,2.2l-1.5-5.4l-1.5-2.9l-1.5-1.2l-1.5-2.7l-1.5,3.9l-1.2,2l-.3,0l-1.5-3.3l-1.5,.4l-1.5-.1l-1.5,.9l-1.5-.7l-1.5-.6l-1.5-2l-1.5,1.5l-.4,.1l-1.1,1l-1.5,2.2l-1.5,2l-1.5,.5l-1.5,.7l-1.5,2.1l-1.5,1.5l-1.5,2.3l-1.1-1.2l-.4-.6l-1.5-.3l-1.5-4l-1.5-2.4l-1.5,.2l-1.5-.6l-1.5-1.3l-1.5-.3l-1.5,2.1l-.3,.1l-1.2,.8l-1.5-1.5l-1.5-1.6l-1.5,4.5l-1.5,1.8l-1.5,3.1l-1.5,1.4l-1.5-2l-1,.4l-.5,.9l-1.5,.4l-1.5-.4l-1.5-2.1l-1.5-2.7l-1.5-1.1l-1.5,1.2l-1.5-.2l-1.5,2l-.2-.1l-1.3,0l-1.5,2.1l-1.5-2.8l-1.5-2.8l-1.5,1.4l-1.5,2.7l-1.5-3.9l-1.5-1.6l-.9,.3l-.6,.4l-1.5,2.5l-1.5,.3l-1.5-3.3l-1.5,1.9l-1.5,.6l-1.5,2.5l-1.5,1.9l-1.5-2.4l-.1,0l-1.4-.6l-1.5-1.3l-1.5,.8l-1.5,.5l-1.5,.4l-1.5-1.8l-1.5-6.5l-1.5,2.8l-.8,.7l-.7,.2l-1.5,3.6l-1.5,0l-1.5-1.8l-1.5,5.3l-1.5,3.7l-1.5,3.9l-1.5-1.7l-1.4,2.2l-.1,0l-1.5-2.2l-1.5,0l-1.5-3.8l-1.5,1.1l-1.5,2.8l-1.5-.9l-1.5,.6l-1.5-2.6l-.7,.3l-.8,1.9l-1.5,1.2l-1.5,2l-1.5,3.1l-1.5-.8l-1.5-3.1l-1.5,3.8l-1.5,3l-1.3,.9l-.2-.1l-1.5-.1l-1.5,2.8l-1.5,.1l-1.5-4.9l-1.5,1.7l-1.5,2l-1.5-3.2l-1.5-1.1l-.5-.4l-1,1.7l-1.5,.2l-1.5,1.9l-1.5,6.6l-1.5,.8l-1.5,2.8l-1.5,1.3l-.2,.5l-1.3,1.3l-1.5,.4l-1.5-4.6l-1.5,1.3l-1.5,3.2l-.3-.2l-1.2,.1l-1.5-1.4l-1.5,.9l-1.5,.9l-1.5,1.2l-1.5,2.9l-1.5,1l0,0l-1.5-3.7l-1.5,3.7l-1.5,.8l-1.5,.4l-1.5,.9l-1.5,1.8l-1.1,2.4l-.4-.5l-1.5-2.6l-1.5-2.6l-1.5-.9l-1.5,3.2l-1.5-2.3l-1.5-1.6l-.8,.1l-.7,2.1l-1.5,1.1l-1.5,5.4l-1.5,3.7l-1.5,2.5l-.9,1.1l-.6-.7l-1.5-1.3l-1.5-.4l-1.5-1.1l-1.5-2.6l-1-1.3l-.5,.9l-1.5,4.5l-1.5-1.5l-1.5,.2l-1.5,3.2l-1.5,3.2l-1.5-.7l-1.5,1.8l-1.5,3.1l-.2,.1l-1.3-.2l-1.5-1.4l-1.5,6.3l-1.5,5.1l-1.5-1.4l-1.5,3l-1.5-1.8l-1.5-1.1l-.9,1.4l-.6,0l-1.5,.6l-1.5,.2l-1.5,1.8l-1.5-3.7l-1.5-1.9l-1.5,1.6l-1.5-.7l-1.5,1.1l-.1,.2l-1.4,3.3l-1.5,1.8l-1.5,.9l-1.5,1.4l-1.5,.2l-1.5-.1l-1.5,2.6l-1.5,2.8l-.8-.5l-.7,.1l-1.5,5.4l-1.5,1.8l-1.5,.5l-1.5-2.5l-1.5,4.8l-1.5,3l-.5,.1l-1,.1l-1.5,2.1l-1.5,4.8l-1.5,3.2l-1.5,2.4l-.6-.2l-.9,3.5l-1.5,6.5l-1.5,4.7l-1.5,1.4l-1.5,2.7l-.7,2.7l-.8,2.9l-1.5,5.6l-1.5,5.9l-1.5,4.7l-1.5,5.4l-.8,2.4l-.7,4.4l-1.5,11.6l-1.5,11.9l-1.5,10.7l-1.5,9.9l-.9,6.7l-.6,3.1l-1.5,8.5l-1.5,9l-1.5,8.4Z" fill="#75147C" fill-opacity="0.2"/>
<path d="M968.8,1010.6l1.5-9.7l1.5-9.5l1.5-9.1l1.5-10.1l1.5-8.7l1.4-7.1l.1-.6l1.5-10.5l1.5-9.7l1.5-7.1l1.5-9l1.5-8.4l1.5-3.6l1.5-6.4l1.5-8.7l1.5-1.3l1.5-8.3l.1-.6l1.4-7l1.5-7.6l1.5-2.8l1.5-3l1.5-5.1l.3-1.1l1.2-11.6l1.5-4.9l1.5-1.2l1.5-.6l1.5-4.6l1.5-8.2l1.4-7.4l.1-.5l1.5-1.1l1.5-2.3l1.5-.4l1.5-4.3l1.5-4l1.5-4.6l1.5-5.2l1.5-1l.6-2.3l.9-1l1.5,.6l1.5-.5l1.5-1.2l1.5-2.6l.7,.1l.8,2.1l1.5,.8l1.5,1.4l1.5,.7l1.5,1.4l1.5,.3l1.5-3.4l.4,1.1l1.1,1.5l1.5-1.6l1.5,.8l1.5-3.2l1.5-2.6l1.5-2.9l1.5-.5l1.5,.8l1.1,1.1l.4-1.1l1.5-2.1l1.5-2.7l1.5-3.5l1.5-4.5l1.5-3.3l1.5-2.9l.7-2l.8,.1l1.5-.9l1.5-.6l1.5-3.5l1.5,.7l1.5-3.9l1.5-3.3l.4-.4l1.1,.1l1.5,1l1.5,1.9l1.5-.3l1.5,.3l1.5,1.7l1.5,1.1l1.5-3.7l1.1-4.5l.4-1.6l1.5-3.3l1.5-3.2l1.5-1.2l1.5,3.8l1.5-.8l1.5-4.6l.7-2.2l.8-2.2l1.5,1.9l1.5-.1l1.5-.2l1.5,2.5l1.5-3.3l1.5-2.7l.4-.2l1.1-1.2l1.5-5.7l1.5-.4l1.5,.9l1.5-1.9l1.5,1.4l1.5,1.8l1.5-2.4l1.5-2.5l1.5-.8l.6-1.4l.9,.6l1.5,5.4l1.5-1.5l1.5-1.4l1.5-2.3l1.5,1.3l1.5,2.7l.3,1l1.2,2.9l1.5-7.9l1.5,2l1.5-3.2l1.5-4.2l1.5,4.8l1.5,1.7l0,0l1.5,.6l1.5,2l1.5-5l1.5,.6l1.5,1.7l1.5-1.5l1.5-.9l1.5,.5l1.5-3.5l1.5-.3l.2,.3l1.3,.9l1.5,0l1.5-3.5l1.5-2.7l1.5-.4l1.5,3.4l1.4-4.3l.1-.1l1.5,1l1.5-1.7l1.5-3l1.5-2.8l1.5-1.7l1.5,1.5l1.5,2.8l1.5-4.9l1.5-.5l1.5,3.6l.1,0l1.4,.2l1.5,.7l1.5-2.3l1.5,1l1.5,1.1l1.5,2.6l1.2-1.4l.3-.7l1.5,2.7l1.5-2.9l1.5-1.7l1.5,2.4l1.5,.4l1.5-2.1l1.5-.8l1.5-.3l.4-.5l1.1-.4l1.5-1.1l1.5-4.2l1.5,4.2l1.5,5.7l1.5-2l1.5-1.2l1.5-.5l1.1-1.5l.4-.8l1.5-1.5l1.5-1.3l1.5-2.5l1.5-1.8l1.5,5l1.5-1.8l1.5-1.7l1.5-.8l1.5-3.9l1.5,1.9l1.5-2.2l.9-2l.6,.5l1.5,2.5l1.5-2.2l1.5,2.9l1.5,4.8l1.5,2.9l1.5-2.2l1.5-1.3l1.5,3l.1,.2l1.4,.8l1.5-1.8l1.5-.9l1.5,1.9l1.5-4.9l1.5,.4l1.5,3.1l1.5,0l1.5-.8l1.5-1.7l1.5-.5l1.5-.7l1.5,.6l.9-2.7l.6-.6l1.5-.4l1.5,.6l1.5-2l1.5-.3l1.5-1.8l1.5-1.7l1.5-1.8l1.5-.3l.1,.1l1.4,.9l1.5-.2l1.5-.5l1.5-1.9l1.5-.5l1.5,2.6l1.5-2.9l1.5-4.1l.8-1.3l.7-.4l1.5,6.4l1.5,4.4l1.5-8.8l1.5,.2l1.5,.2l1.5-.4l1.5-1.1l1.5-3l1.5,.4l1.5-.3l1.5,.2l.4-.4l1.1-1.2l1.5,2.1l1.5,2.7l1.5-1.4l1.5-2.6l1.5-.6l1.5-.3l1.5,.3l1.1-1.6l.4-1.1l1.5-.7l1.5,.2l1.5,1.5l1.5,.2l1.5,1.8l1.5,2l1.5-4.3l1.5-1.6l.3,0l1.2,.9l1.5-.4l1.5-2.9l1.5-2.2l1.5,2.4l1.5-.8l1.5,1.8l1.5,2.1l1-1.5l.5-1.4l1.5-4.3l1.5-.3l1.5,.2l1.5,1.9l1.5-2.4l1.5-3.1l1.5-.3l1.5,.3l.2,.2l1.3-.2l1.5-3.7l1.5,1.1l1.5-1l1.5,3.3l1.5,2.9l1.5,3.2l1.5,.6l.9-.1l.6-.7l1.5,.9l1.5-4.8l1.5,1.5l1.5,3.2l1,.3l.5-.4l1.5-1.1l1.5-1.1l1.5,.4l1.5,1.9l1.5-3.1l1.5-2.5l1.5-.6l1.5,4.1l.2,.6l1.3,2.2l1.5-1.3l1.5-4.8l1.5,2l1.5,1l1.5,1l1.5,1.9l1.5,1.9l.9,.4l.6,.6l1.5-2.2l1.5-6.1l1.5,1.1l1.5,5.1l1.5-.1l1.5-3.5l1.5-2.3l1.5,3.4l.1,.3l1.4,3.8l1.5,.4l1.5-6.7l1.5-1.1l1.5-1.4l1.5-.8l1.2-1.8l.3,.6l1.5,3l1.5-.8l1.5,2.5l1.5,.3l1.5-3.7l1.5,6.3l.9,1.2l.6-1.2l1.5-3.3l1.5,.9l1.5-1.8l1.5-1.2l1.5-.9l1.5-4.5l.6-.9l.9,1.9l1.5,4.9l1.5-2l1.5-.6l1.5,2.2l1.5-2.3l1.5,4.3l1.5,2.8l1.3-.5l.2-.4l1.5-2.1l1.5-2.5l1.5-1.5l1.5,4.3l1.5,6.1l1.5-3.4l1.5-3.8l1.5,.4l.5,.7l1-1l1.5-1.3l1.5,1.2l1.5,1.4l1.5-.7l1.5-1.7l1.5-4.3l1.5,4.8l1.1,4.3l.4,.8l1.5-1.3l1.5-3.9l1.5-1.5l1.5-.8l1.5-3.9l1.5,2l1.5,1.4l1.5-3.8l.4-.7l1.1-.6l1.5,.5l1.5,.5l1.5,2.7l1.5,4.2l1.5-3l1.5-.9l1.5,.5l1,.2l.5,1.4l1.5,3.7l1.5-3.1l1.5-3.3l1.5-.2l1.5-1.3l1.5-2.2l1.5,1.3l1.5-1.4l.2-.5l1.3,2.1l1.5-.2l1.5-1.8l1.5-1.7l1.5-2.3l1.5-.1l1.5,1.1l1.5,.1l.9,0l.6-.1l1.5-2.7l1.5-.3l1.5,.2l1.5,2.5l1.5,.1l1.5-2.7l1.5-4.7l1.5,4.1l.1,.1l1.4,.6l1.5,.4l1.5-1.7l1.5,.1l1.5-.3l1.5,2.1l1.5-7.1l1.5-2l.8,2.4l.7,2.2l1.5,2l1.5,1.2l1.5,.7l1.5-2.3l1.5,4.1l1.5-.5l1.5-1.2l1.5-.9l0,0l1.5,2.7l1.5,.1l1.5-1.3l1.5,5.7l1.5,.3l1.5-4.6l1.5,1.5l1.5,1.6l.7,0l.8-.9l1.5-2.5l1.5,1l1.5,3l1.5-.3l1.5-1.2l1.5,3.4l1.5,0l1.4,.1l.1-.1l1.5-4.9l1.5-.1l1.5-1l1.5-2.7l1.5,0l1.5,2.2l1.5-2.1l1.5,2.7l.6-.2l.9-1.4l1.5-3.2l1.5,0l1.5,5.2l1.5-3l1.5-7.9l1.5,.7l1.5,1.5l1.3-.4l.2,.1l1.5-2l1.5,.6l1.5,2.3l1.2,2.3l0,47.7l-1.4-.9l-1.5,1l-1.5,.8l-1.5,.1l-1.5,3.8l-1.5-2.5l-1.5-.8l-1.5,3l-1.5,.4l-1.5-4.2l-1.5,.6l-1.5,3.7l-1.5,1.1l-1.5,2l-1.5-2l-1.5,3l-1.5,1.5l-1.5-.4l-1.5,1.6l-1.5,2.8l-1.5-1.4l-1.5,.4l-1.5-3.7l-1.5,2l-1.5-.2l-1.5,1l-1.5,.5l-1.5-2.5l-1.5-2.8l-.6-.2l-.9,.6l-1.5-1.5l-1.5,1.2l-1.5,.6l-1.5,1.9l-1.5,.2l-1.5-2.8l-1.5,2.8l-1.5-1.1l-1.5,3.1l-1.5,.9l-1.5-4.3l-1.5,1.5l-1.5,.1l-1.5,.3l-1.5-.9l-1.5-.3l-1.5,.7l-1.5,1.7l-1.5-2.2l-1.5,4.4l-1.5-.4l-1.5-3.8l-1.5,3.9l-1.5-3.5l-1.2-3.5l-.3,.5l-1.5,6.8l-1.5,.2l-1.5-2.9l-1.5-1.1l-1.5,1.5l-1.5-.8l-1.5-1.4l-1.5,1.9l-1.5,5.4l-1.5-.1l-1.5-2.3l-1.5,2.6l-1.5-.2l-1.5-2l-1.5-1.4l-1.5,0l-1.5-3.5l-1.5,4.1l-1.5,3.2l-1.5-1.8l-1.5-1.1l-1.5,2.2l-1.5,1.6l-1.5-2l-1.5-2.9l-1.5,.9l-1.5,.7l-1.5,.9l-1.5,.2l-1.5,3.4l-1.5-3.8l-1.5-1.5l-1.5,.7l-.9,.5l-.6,.6l-1.5,3.3l-1.5-1l-1.5-.8l-1.5-.7l-1.5-1.3l-1.5,3.3l-1.5,3.6l-1.5-3.2l-1.5-1.9l-1.5-5.4l-1.5,1.5l-1.5,4.4l-1.5-3l-1.5,1.3l-1.5,2l-1.5-.7l-1.5-3.7l-1.5,1l-1.5-.9l-1.5,1.1l-1.5,1.1l-1.5-1.3l-1.5-1.7l-.5-1.1l-1-.2l-1.5,3l-1.5,.5l-1.5,.7l-1.5,.6l-1.5,2.2l-1.5-2.9l-1.5-1.2l-1.5,.8l-1.5,2.4l-1.5,1.6l-1.5,1.3l-1.5-3l-1.5-.1l-1.5-.8l-1.5,1.3l-1.5-2l-1.5-1.5l-1.5,1.5l-1.5-.5l-1.5,1.7l-1.5-1.4l-1.5,3.4l-1.5,0l-1.5-2.3l-1.5-.6l-1.5,1.9l-.6,.1l-.9-.8l-1.5,.7l-1.5,2.5l-1.5-.8l-1.5-.9l-1.5,.4l-1.5,.4l-1.5,3.3l-1.5-5.1l-1.5,.2l-1.5-2l-1.5,1.6l-1.5,1.1l-1.5-2.9l-1.5,4.5l-1.5-.4l-1.5,2.3l-1.5,3.1l-1.5-.3l-1.5-3.8l-1.5-.5l-1.5,1.5l-1.5,2.3l-1.5-2.3l-1.5,2l-1.5-3.3l-1.5,2.5l-1.5,.4l-1.5-.9l-.3,.8l-1.2,3.4l-1.5-3.2l-1.5,.5l-1.5-2.2l-1.5,.8l-1.5-1.1l-1.5,4.4l-1.5,2.9l-1.5-.7l-1.5-3.6l-1.5,.1l-1.5-.9l-1.5,.4l-1.5,.4l-1.5-1.4l-1.5-1.6l-1.5,2.8l-1.5-3.7l-1.5-.8l-1.5,4.2l-1.5,2.7l-1.5,.6l-.3-.2l-1.2-.7l-1.5-3.4l-1.5,2l-1.5,3.3l-1.5,.4l-1.5-3l-1.5,1.2l-1.5,2.5l-1.5,.5l-1.5-2.6l-1.5,1.9l-1.5,4.2l-1.5-6.5l-1.5-1.5l-1.5,1.9l-1.5,1l-1.5,2.7l-.2,.3l-1.3-1.5l-1.5,2.5l-1.5,.8l-1.5,3.5l-1.5-1.3l-1.5-2.4l-1.5-.7l-1.5,.5l-1.5-.1l-1.5,.1l-1.5,3l-1.5,2.9l-1.5,3.6l-1.5-1.6l-1.5-5.1l-1.5-1l-1.5,1.1l-1.5,4.2l-1.5,6.1l-1.5-1.4l-1.5-2.4l-1.5,1.9l-1.5,4.8l-1.5,1.9l-1.5-5.6l-1.5,4.2l-1.5,1.5l-1.5-1.9l-1.5,2.6l-1.5,.6l-1.5-3.2l-1.5,.8l-1.5,1.6l-1.5,6.4l-1.5-.5l-1.5-1.8l-1.5-1.2l-.4-.4l-1.1-.4l-1.5,3.2l-1.5,3.7l-1.5-.1l-1.5-1.6l-1.5-4.8l-1.5,1.5l-1.5,4.3l-1.5,.7l-1.5,1.4l-1.5,3.7l-1.5-2.7l-1.5-.9l-1.5,2.5l-1.5-.3l-1.5-1.5l-1.5,3.3l-.3,1l-1.2,1.8l-1.5,1.7l-1.5,3.5l-1.5-6.3l-1.5-1.5l-1.5-1.5l-1.5,1l-1.5,.2l-1.5,2.9l-1.5-.6l-1.5-.3l-1.5-.5l-1.5,3.2l-1.5,.2l-1.5-.9l-1.5,.4l-1.5,1.2l-.2,.2l-1.3,3.1l-1.5,.4l-1.5,.9l-1.5,0l-1.5,.4l-1.5,1.5l-1.5-1.8l-1.5,2.6l-1.5-1.9l-1.5,1.4l-1.5,2.1l-1.5-1l-1.5,.2l-1.5,1.8l-1.5,4.2l-1.5-2.7l-1.5-3.5l-.1-.1l-1.4,3.3l-1.5,2.9l-1.5-2.4l-1.5,.2l-1.5,.7l-1.5,2l-1.5,.3l-1.5,.6l-.8,.9l-.7,.9l-1.5-2l-1.5-3.2l-1.5,2.7l-1.5,2.6l-1.5-.2l-1.5-1.1l-1.5-2.6l-1.4,1.9l-.1,.2l-1.5,4.3l-1.5,4l-1.5,.5l-1.5-.8l-1.5-1.6l-1.5,2.7l-1.5,2.8l-1.5,1.8l-.7,.7l-.8-1.2l-1.5,.3l-1.5,1l-1.5-1.6l-1.5,.1l-1.5-1.4l-1.5,.4l-1.5,1.7l-1.3-1l-.2,.2l-1.5,1.4l-1.5-.6l-1.5-1.9l-1.5,1.2l-1.5,2.4l-1.5,0l-1.5,3.9l-1.5-2.7l-.5-2.4l-1-1.1l-1.5,2.7l-1.5,.1l-1.5,.2l-1.5-.8l-1.5,5.6l-1.5,4.2l-1.5,3.3l-1.2-2.1l-.3-1l-1.5,2.1l-1.5,4.4l-1.5-3.6l-1.5,2.4l-1.5-1.6l-1.5,3.5l-1.5-2.1l-1.5-.4l-.4,1l-1.1,2.3l-1.5-.9l-1.5-.1l-1.5,3.5l-1.5,2.4l-1.5,2l-1.5-1.7l-1.5,3.5l-1.1-1.6l-.4-.1l-1.5-.7l-1.5,.1l-1.5-.1l-1.5-3.6l-1.5,1.7l-1.5-1.5l-1.5-2.1l-1.5,2.1l-.3,.5l-1.2,5.3l-1.5,1.9l-1.5-.6l-1.5,4.8l-1.5,5.5l-.5-.1l-1-2.7l-1.5-3.7l-1.5-5l-1.5,3l-1.5,5l-1.5,1.1l-1.5-1.1l-.1,0l-1.4-1.7l-1.5-.2l-1.5,6.6l-1.5,5.6l-1.5,4.2l-1.5-1.2l-1.5,.6l-1.5,5.7l-1.3,3.5l-.2,0l-1.5-1.8l-1.5-2.4l-1.5-2.4l-1.5,1.1l-.9-3.7l-.6-1.5l-1.5-3.5l-1.5,3.3l-1.5,2.3l-1.5,2.6l-1.5,4.2l-1.5,.4l-1.5,1.9l-1.5-2.8l-1.5-.6l-1.2,1.3l-.3,2.3l-1.5,7.7l-1.5,7.5l-1.5,7.2l-1.5,7.1l0,0l-1.5-4.4l-1.5-1.4l-.8-.1l-.7,1.4l-1.5,.7l-1.5,1.8l-1.5,4.1l-1.5-.6l-1.5,2.2l-.7,2.6l-.8,4.4l-1.5,8.1l-1.5,1.6l-1.5,5l-1,5.2l-.5,2.3l-1.5,2.6l-1.5,8.9l-1.5,7.1l-1.5,5.8l-1.5,4.6l-1.5-.8l-.7,3l-.8,2.2l-1.5,3l-1.5,6.1l-1.3,5.6l-.2,1.1l-1.5,5.8l-1.5,5.6l-1.5,7.2l-1.5,6.6l-1.4,3.4l-.1,.3l-1.5,5.6l-1.5,4.6l-1.5,4.6l-1.5,5.3l-1.5,4.6Z" fill="#3A7D22" fill-opacity="0.2"/>
<path d="M967.5,1006.2l1.5-12.5l1.5-13l1.5-12.3l1.5-12.1l1.5-11.9l.2-1l1.3-10.4l1.5-10.4l1.5-11.6l1.5-8.6l1.5-9.4l.3-1.1l1.2-1.7l1.5-5.1l1.5-3.8l1.5-4.3l1.5-10.5l.4-1.8l1.1-2.7l1.5-5.6l1.5,.5l1.5-6.1l1.5-7l.5-2l1-3.3l1.5,2.9l1.5-2.8l1.5-7.3l1.5-4.4l.6-2l.9-1.9l1.5-1.2l1.5-4.8l1.5-1.4l1.5-3.4l1.5-1.2l1.5,.1l.3,.4l1.2-1l1.5-5.1l1.5-3l1.5-7.1l1.5-4.4l1.5-.8l1.5-3.5l1.5-2.2l1-.9l.5-.9l1.5,.2l1.5-1.8l1.5-4.4l1.5-2.5l1.5-2.6l1.5-.9l1.5-2.4l1.5-.5l.2,.1l1.3-.1l1.5-5.6l1.5,.3l1.5-2.2l1.3-1.7l.2-.7l1.5-2l1.5-3.7l1.5-.6l.9-2.4l.6-1.5l1.5-3l1.5-.5l1.5,1.2l1.5,2.9l1.5-.5l1.5-4.3l1.5-.8l1.5,3.9l.1,0l1.4-4.7l1.5-4.6l1.5-1.8l1.5-1.1l1.5-5.7l.2-.6l1.3-1l1.5-.5l1.5-2.8l1.5,0l1.5,2.8l1.5-3.5l1.5-1.3l1.5-3.8l.9-.4l.6,1.3l1.5,3.4l1.5-.2l1.5-3l1.5-5.2l1.5,4.7l1.5-1l.5-.8l1-.8l1.5-.5l1.5,.3l1.5,.8l1.5,2.8l1.5,1.1l1.5-5.5l1.5-1.6l1.5,.5l1.5-.9l.8,.3l.7-.5l1.5-2.1l1.5-2.9l1.5-.3l1.5-2.3l1.5,1.1l1.5-3.7l.4-.4l1.1,3.3l1.5-1.2l1.5-3.8l1.5,.1l1.5,3l1.5-3.3l.3-1.1l1.2-2.3l1.5,4l1.5,3l1.5,1.6l1.5,2.2l1.5,2.7l1.5-.9l1.3-.6l.2,.7l1.5,2.2l1.5-.9l1.5,1.4l1.5-3.9l1.5-1.4l1.5,.2l1.5-3.2l1.5,1.3l.4,1l1.1-1l1.5-3.4l1.5-1.6l1.5,1.1l1.5-4l1.5-.8l1.5,.8l1.5-1.4l1.2-2.8l.3-1.6l1.5,.5l1.5-1.1l1.5,2.8l1.5,.9l1.5,.7l1.5-2l1.5-1.1l1.5-2.8l.3,.7l1.2,2.8l1.5-1.8l1.5-.6l1.5-.6l1.5,1.3l1.5,1.5l1.5,2l1.5-2l1-3.6l.5-.5l1.5,.4l1.5,1.2l1.5-2.5l1.5-1.1l1.5-.5l1.5-4.2l1.5,4l1.5,2.9l.2,.1l1.3-2.5l1.5-3l1.5,1.8l1.5,.1l1.5-5.5l1.5,3.7l1.5,4l1.5-5l.9-2.6l.6-.3l1.5,4l1.5-1.5l1.5-5l1.5,.1l1.5,1.8l1.5-.1l1.5-.6l1.5-2.4l1.4-3.4l.1-.1l1.5,1.6l1.5,2.3l1.5,1.3l1.5-.4l1.5-.1l1.5-1.9l1.5,1.3l.8,2.2l.7,.2l1.5-1.7l1.5-4.1l1.5-.9l1.5-1l1.5,.8l1.5-1.1l1.5-3.1l1.5,2.5l0,0l1.5,4.4l1.5-.9l1.5,1.1l1.5-2.1l1.5,5.1l1.5,3.2l1.5-1.9l1.5-3.2l.7,.3l.8-2.1l1.5-3l1.5,1.3l1.5,0l1.5-2.2l.8-3.9l.7-.1l1.5,3.2l1.5,.8l1.5-1.7l1.5,1.8l1.5,2.2l1.5,1l.5,.1l1-1l1.5-1.6l1.5,1.7l1.5-4.1l1.5-2.5l1.5-.4l.4,0l1.1-1.7l1.5,.7l1.5,2.3l1.5-2.4l1.5-2.9l1.5,3l1.5,2.9l1.5,2l1.5,0l.7-1.6l.8,0l1.5,2.3l1.5-1.8l1.5-2.6l1.5-.8l1.5,.7l1.5,.6l1.5,3.1l1.5,3.7l1.5-5.2l.9-1.5l.6,2.2l1.5,3.6l1.5-3l1.5,2.2l1.5-2.5l1.5-1.9l1.5-.1l1.5,1.7l1.5-2.6l.1-.1l1.4,.6l1.5,2.9l1.5-3.6l1.5,.3l1.5,.8l1.5-2.7l1.5-6.5l1.5,2.4l.8,1.6l.7,1.4l1.5-2.1l1.5-.7l1.5,2.9l1.5-1.3l1.5,.4l1.5,4.7l1.5,.4l1.5,.2l0-.1l1.5-1.1l1.5-1.9l1.5-.6l1.5,0l1.5-.8l1.5-4l1.5,2.4l1.5,5.4l.7-1.2l.8-2.4l1.5-2.8l1.5-2l1.5-3.5l1.5-.3l1.5-.9l1.5-.3l.3-.2l1.2-2.2l1.5-1.7l1.5,1.3l1.5-4.3l1.5-.9l1.5,5.5l1.5,7l0,.2l1.5,.7l1.5-6.4l1.5-3.9l1.5-2l1.5-.6l1.5-2.5l1.5,.5l1.5-.8l.7-1.8l.8-.8l1.5-1.1l1.5,3.7l1.5,1.5l1.5,2.5l1.5-1.1l1.5,.3l.4,1l1.1,1.1l1.5-1.2l1.5-4.9l1.5,3.5l1.5-3.7l1.5-4.4l.2-.3l1.3,4.7l1.5,.7l1.5-.2l1.5,4.7l.6,1l.9-3.1l1.5,1.4l1.5-3.1l1.5,.6l1.5-4.2l.7-.4l.8,1.4l1.5-.5l1.5-.4l1.5,1.4l1.5,1.8l1.5-4.3l1.5-1.1l1.5,2.4l1.5,4.3l1.5,2.5l.9-.8l.6-1.6l1.5-4.4l1.5-.1l1.5,3.1l1.5-2.7l1.1-3l.4-.2l1.5,4.6l1.5,2.4l1.5-3.9l1.5,1.2l1.5,1l1.5-2.7l1.5,1.7l1.5,1.4l.3,.1l1.2-1.1l1.5,1.8l1.5-5l1.5-3.9l1.5-1.5l.4,.1l1.1-1l1.5,1.5l1.5,4.1l1.5,.6l1.5-.2l.5,.7l1,.7l1.5,1.1l1.5-4.3l1.5-4.3l1.5-1.2l1.5-1.1l1.5-2.6l.2-.4l1.3,.1l1.5,1l1.5-3l1.5-1.3l1.5-1.1l1.5,6l1.5,.2l1.5-.5l.8,2.1l.7,1.2l1.5,.8l1.5,2.1l1.5-3.9l1.5-.3l1.5,.9l1.5-1.5l.5-1.1l1-.8l1.5,2.9l1.5,.9l1.5,1.3l1.5,2.7l1.5-.9l1.5-1.6l1.5,5.3l1.2,2.5l.3-.7l1.5,.7l1.5,2.1l1.5-2.6l1.5-.8l1.5,4l1.5-4.3l.9-1.8l.6-1.5l1.5-1l1.5,1.2l1.5-1.9l1.5-2.2l1.5-.5l1.5-2.9l.5-.2l1,1.3l1.5,1.1l1.5-3l1.5,2.2l1.5,3.7l1.5-2.1l1.5,2.5l.2,.1l1.3,2.6l1.5,3.7l1.5-3.4l1.5-3.7l1.5-1.1l.3-.4l1.2,.4l1.5,1.7l1.5,1.6l1.5,1.2l1.5-1.7l.4-.5l1.1-2.8l1.5-1.4l1.5,.3l1.5-1.6l.8-1.2l.7-.4l1.5-1.4l1.5,1l1.5,3.1l1.5,.1l1.5,4.7l.6,.8l.9-.9l1.5-2.5l1.5,1.9l1.5,.7l1.5,3.7l1.5,1.1l1.5-2.7l.3-.1l1.2-.3l1.5,1.7l1.5,.7l1.5,0l1.5-.3l1.5,6l1.5-3.6l0-.4l1.5-4.3l1.5,5.2l1.5-.8l1.5,3.3l1.5-4.2l1.5-1.3l1.5,1.3l1.5-.8l1.5-1.1l1.5-1.3l1-2.7l0,89.1l-1.2,.4l-1.5-.6l-1.5,1.7l-1.5-3.7l-1.5-2.1l-1.5,3.3l-1.5-1.4l-1.5-1.2l-1.5-.2l-1.5-.7l-1.5,1.3l-1.5,2.5l-1.5-1.3l-1.5-.7l-1.5,5.3l-1.5-.6l-1.5-5l-1.5,3l-1.5,1.2l-1.5-4l-1.5-3.7l-1.5,.8l-1.5,2.8l-1.5-.9l-1.5,1.4l-1.5-2.8l-1.5-.5l-1.5,3.3l-1.5-2.9l-.8-2l-.7,.5l-1.5,4.8l-1.5-1.4l-1.5-5.4l-1.5,2.9l-1.5,1.9l-1.5,1.6l-1.5-1.1l-1.5-1.2l-1.5-.9l-1.5-.3l-1.5-1.4l-1.5,.1l-1.5,2.1l-1.5,0l-1.5,1l-1.5,2.3l-1.5,.1l-1.5,.7l-1.5-.9l-1.5-3.1l-1.5,1.2l-1.5,4.1l-1.5-2.2l-1.5,1.2l-1.4-2.3l-.1-.3l-1.5,2.1l-1.5,.9l-1.5-3.4l-1.5-.4l-1.5-1.3l-1.5-.7l-1.5-.7l-1.5,.9l-1.5,3.9l-1.5,2.9l-1.5-3.7l-1.5,1.9l-1.5,1.4l-1.5,0l-1.5-1.5l-1.5-2.9l-1.5-3l-1.5,2.6l-1.5,3.6l-1.5,.7l-1.5-1l-1.5,.3l-1.5,4.3l-1.5-2.5l-1.5-.9l-1.5-1.3l-1.5,1.9l-1.5,1.1l-1.5-3.1l-1.5,1.9l-1.5,4l-1.5-2.4l-1.5-1.5l-1.1-1.7l-.4-.9l-1.5,0l-1.5,3.4l-1.5-1.6l-1.5-1.7l-1.5-.5l-1.5,1.1l-1.5,2.4l-1.5,1.4l-1.5-2.3l-1.5,.5l-1.5,.1l-1.5-.4l-1.5,.5l-1.5,.3l-1.5,1.1l-1.5,.9l-1.5-3.4l-1.5-1.6l-1.5-1.2l-1.5,4.4l-1.5,.4l-1.5-.1l-1.5-1.3l-.7-1.2l-.8-1.3l-1.5-3l-1.5,1l-1.5-.5l-1.5,.1l-1.5,0l-1.5,2.9l-1.5,4.7l-1.5-.9l-1.5,0l-1.5,.3l-1.5,1.2l-1.5-1.8l-1.5,3.2l-1.5-.7l-1.5-.7l-1.5-.3l-1.5,1.2l-1.5-2l-1.5,1.3l-1.5,1.4l-1.5,.7l-1.5-1.4l-1.5-1.1l-1.5-2.6l-1.5,2.3l-1.5,.9l-.8,1.1l-.7,.5l-1.5-.6l-1.5-.6l-1.5,.3l-1.5-1.7l-1.5,0l-1.5,1.7l-1.5-.8l-1.5,2.1l-1.5,.1l-1.5-.6l-1.5-.3l-1.5,0l-1.5,.6l-1.5,.7l-1.5-2.3l-1.5,4l-1.5,.3l-1.5-2l-1.5,1.1l-1.5,3l-1.5-3.4l-1.5,0l-1.5,.3l-1.5-4.8l-1.5-2l-1.5,2.5l-1.5,1.1l-1.5,.3l-.5,.1l-1,3.9l-1.5,1.3l-1.5-.3l-1.5-.8l-1.5,1.4l-1.5,2l-1.5-3.7l-1.5-.9l-1.5,7.8l-1.5,2.3l-1.5-6.2l-1.5,.4l-1.5,2.2l-1.5,1.1l-1.5-.6l-1.5-1.3l-1.5-4l-1.5-2.4l-1.5,1.2l-1.5,.5l-1.5,2.2l-1.5,.1l-.5-1l-1,0l-1.5-.4l-1.5-1.7l-1.5,2.9l-1.5,3.8l-1.5-1.7l-1.5-3.7l-1.5,.6l-1.5,2.8l-1.5-2l-1.5-.8l-1.5,3.8l-1.5,.5l-1.5-2.9l-1.5-1.2l-1.5,.2l-1.5,1l-.4,.3l-1.1,.7l-1.5,5.3l-1.5,.7l-1.5-2.8l-1.5-1.1l-1.5,4l-1.5,3.1l-1.5-2l-1.5,1.3l-1.5,7l-1.5,1.3l-1.5-2.7l-1.5,1.7l-1.5,2l-1.5-1.7l-1.5-2.1l-1.5,2l-1.5,2.4l-1.5,.9l-1.5-3.5l-1.5-.1l-1.5,4.1l-1.5,1.5l-1.5-.3l-1.5-.4l-1.5,3.6l-1.5,3.1l-.3,.2l-1.2-.5l-1.5,.2l-1.5-2l-1.5-2.8l-1.5-4.8l-1.5,1.1l-1.5,4.6l-1.5-1.7l-1.5-4.3l-1.5,1.6l-.6,1.6l-.9,3.7l-1.5-1.2l-1.5,.5l-1.5-3.7l-1.5-4.4l-1.5,2.3l-1.5,3.4l-1.5,.8l-1.3,1.2l-.2,.2l-1.5,1.5l-1.5-2.7l-1.5-4l-1.5,2.5l-1.5,1.8l-1.5,2.8l-1.5,.5l-1.5-2l-.5-1.5l-1-2.1l-1.5-.4l-1.5,2.5l-1.5,3.1l-1.5-2.4l-1.5-4.6l-1.5,2.3l-1.5,.9l-1.2-.3l-.3,.1l-1.5,1.4l-1.5,.2l-1.5,2.3l-1.5,1.1l-1.5,2.2l-1.5,2.6l-1.5,2.1l-1.5,2.2l-.4,.5l-1.1-1.5l-1.5-3.5l-1.5-2l-1.5,2.8l-1.5-5.9l-1.5-3.6l-1.5,4.6l-1.5,.6l-1.1-3.2l-.4-1l-1.5,1.8l-1.5,2.4l-1.5,.3l-1.5-.4l-1.5,.4l-1.5,3.5l-1.5,.9l-1.5,2l-.3-.4l-1.2-1.7l-1.5,.7l-1.5,1.5l-1.5,2.2l-1.5-2.2l-1.5-.9l-1.5-3.3l-1.5,2.4l-1,2.3l-.5,.4l-1.5,3l-1.5-.2l-1.5,0l-1.5,.1l-1.5,1l-1.5-.4l-1.5,.4l-1.5,1.1l-.1,.1l-1.4-1.1l-1.5-1.1l-1.5,1l-1.5,1.3l-1.5,2.2l-1.5,.4l-1.5,.1l-1.5,3.4l-.9-.8l-.6-2.2l-1.5-1.9l-1.5,.2l-1.5,2.7l-1.5,.3l-1.5-1.8l-1.5,2.6l-1.5-.8l-1.5-.2l0,0l-1.5-1.2l-1.5-.9l-1.5,4.9l-1.5,1.9l-1.5,3.1l-1.5-.3l-1.5-3.6l-1.5-2.3l-.7,.5l-.8,1l-1.5,1.5l-1.5-.4l-1.5,2.9l-1.5-1.2l-1.5,.8l-1.5,4.7l-1.5,1.6l-1.4-.4l-.1,.2l-1.5,7.8l-1.5-3l-1.5-1.3l-1.5-.9l-1.5-.5l-1.5,3.2l-1.1-1l-.4-.5l-1.5,2.3l-1.5,1.6l-1.5,.4l-1.5,.4l-1.5,3.2l-1.5,2.2l-1.5-1l-1.5-1.6l-1.5,.1l-1.3,0l-.2-.1l-1.5,2.4l-1.5,5l-1.5-3.7l-1.5,.8l-1.5-4.7l-1.5-.3l-1.5-1.3l-1.5-.4l-.5,.3l-1,1.3l-1.5,2.5l-1.5,4.6l-1.5,5.5l-1.5-1.6l-1.5-1.6l-1.5,6.2l-1.5-1.9l-1.2,2l-.3,1.1l-1.5,2l-1.5-.9l-1.5,1.3l-1.5-1.7l-1.5-.7l-1.5,2.6l-1.5,.2l-1.5-1.4l-.4,.6l-1.1,.6l-1.5,1l-1.5,1.9l-1.5-.3l-1.5,.7l-1.5,.7l-1.5-1.2l-1.5,2l-1.1,5.5l-.4,1.5l-1.5-3.3l-1.5-.9l-1.5,4.6l-1.5,.2l-1.5,1.6l-1.5,1.6l-1.5-.4l-1.5,1.5l-.3,.6l-1.2,.9l-1.5-2.8l-1.5,3.9l-1.5,5l-1.5-1.5l-1.5,2.3l-1.5,3.1l-1.5,.4l-1-3l-.5,1l-1.5,6.5l-1.5,3.7l-1.5,2.1l-1.5,2.9l-1.5,1.9l-1.5-.1l-.7-.5l-.8,.4l-1.5,5l-1.5,4.1l-1.5,1.4l-1.5-2.3l-.8,2.7l-.7,3.8l-1.5,3.8l-1.5-3.2l-1.5,2.9l-1.5,7.6l-.9,3l-.6,2.6l-1.5,4.3l-1.5,4.5l-1.5,4.6l-1.5,3.2l-1,4.4l-.5,3.7l-1.5,12.1l-1.5,13.3l-1.5,11l-1.5,12.2l-1.1,8.6l-.4,1.7l-1.5,7.5l-1.5,8.3l-1.5,8.2l-1.5,7.9Z" fill="#E83323" fill-opacity="0.2"/>
<path d="M965.0,967.7l1-.6l1-.6l1-.7l1-.6l1-.4l1-.6l.4-.2l.6-1.5l1-2.2l1-2.1l1-2.4l1-2.2l.4-1l.6-1.7l1-3.3l1-3.3l1-2.8l1-2.5l.5-1.7l.5-1.6l1-3.1l1-2.7l1-3.4l1-3.3l.6-1.9l.4-.6l1-1.8l1-1.2l1-1.6l.4-.6l.6-.3l1,1l1,.7l1-.8l1-.5l.5,.1l.5,1.4l1,1.7l1,2.2l1,3l.3,.4l.7,1.6l1,1.8l1,3.3l1,4.1l.1,.4l.9,1.7l1,.9l1,1.4l1,1.6l1,1.1l1,1.1l1,1.6l.7,.8l.3-.3l1-1.2l1-1.8l1-1.3l1,0l.8-.4l.2-.6l1-3.8l1-3.8l1-4l1-3.9l.9-3.1l.1-.1l1-.8l1-.8l1-1.3l1-1.8l1-1.2l1-1l.2-.2l.8,.6l1,.4l1,1.1l1,1.8l1,.5l1-.1l.6,.3l.4-.4l1-.7l1-.8l1-.4l1,0l1-1.5l.9-1.2l.1-.2l1-1.2l1-.4l1-1.5l1-3.3l1-1.5l1-.7l1-1.7l1-2l.3-.6l.7-1.5l1-1.6l1-1.5l1-1.6l1-1.8l1-1.6l1-1.7l1-1.3l.4-.6l.6-1.1l1-3.2l1-2.4l1-2.4l1-1.9l1-1.4l.8-2l.2-.2l1-1.6l1-.5l1,.1l1-.1l1-1.1l1-.4l1-.6l.4-.5l.6-1.2l1-1.4l1-1l1-1.7l1-1.8l1-2l1-1.7l1-1.2l1-.9l.3-.4l.7-.5l1-1.2l1-.6l1-.7l1-1.3l1-1.2l1-.9l.9-.4l.1,.1l1-.6l1-1.2l1-.5l1-.2l1-.4l1-.4l1-.4l1,.2l1,.1l1-.5l0,0l1,0l1-.6l1-.8l1-.5l1,0l1-.1l1,.5l1-.4l1-1.2l1-.5l.2,0l.8-.6l1,0l1-.6l1-2l1-2.1l1-1.7l1-1.4l.8-1l.2-.1l1-.1l1,.1l1,.2l1-1.1l1-.3l1-.4l1-.5l.4-.2l.6-.1l1,.7l1,.5l1-.3l1-.9l1,.6l1,.2l1-.5l1,.5l1,.5l.6,.1l.4-.2l1-.5l1-1.2l1-1.4l1-1.7l1-.8l1,1.1l1-.1l1-.3l1-1.2l.8-1.1l.2-.1l1-.2l1,1l1,1.8l1,.4l.8-.2l.2-.2l1-.5l1-.5l1-.3l1,.1l1-.8l1-.7l1-.6l.4-.1l.6,.3l1-.2l1-.3l1,.7l1,.1l1-.9l1,.2l1,1.2l1,1l1,.3l.6,0l.4-.3l1-.3l1-.8l1-1.3l1-.5l1-.7l1-.5l1-.5l.2-.1l.8,.1l1,.4l1-.1l1,0l1-.1l1-.1l1-.1l1,0l1-.5l1-.6l1-.4l1,.6l1,1.2l1-.4l1-.4l.5,0l.5-.5l1-.5l1,0l1-.5l1-1.5l1-1.6l1-1.4l1-.6l.1,0l.9,1.2l1,.1l1,.1l1,.8l1,.9l.2,0l.8-1l1-.8l1-.4l1-.3l1-1.1l1-1.1l1-.9l.8-.5l.2,0l1-.1l1-.3l1-.3l1-.6l1-.4l1-.8l1-1.5l1-.6l1,.1l.9-.4l.1,0l1-1.1l1-.9l1,0l1-.5l1-1l1,.5l1,1l1-.8l1-.9l1-.7l.1-.1l.9-.4l1,0l1-.1l1,.2l1,.7l1,.7l1,.3l1,.9l1,.1l1-.3l1-.7l1-.3l1,1.2l1,1l1-.3l.3,0l.7,0l1,.3l1-.7l1-.3l1,1.4l1,0l1-1l1,0l1,.4l1-.1l1,.7l1,1.2l1-.3l1-.6l1-.9l.6-.3l.4-.5l1-.2l1-.2l1-.2l1,.2l1-.6l1-.9l1-.1l1,.2l1-.4l.7-.2l.3,.1l1-.2l1-.1l1,1.1l1,.2l1-.2l1-.5l1,.7l1,1.2l1,.3l.9-.3l.1-.1l1,.2l1,.1l1,.6l1,.5l1,.1l1,.3l1,0l1-.4l1,.9l1,.7l1,.5l.3,0l.7-.4l1-1.5l1-.8l1,.4l1,.1l1-1l1-.9l1,.3l1,.2l1-.7l1-.4l1-1l1-1.5l1-.7l1,.1l1,.5l1-.1l1-.2l1,.3l.2,0l.8-.2l1-.4l1,.3l1-.3l1-1.2l1-.8l1-.1l1-1l1-.5l1,.1l.3,0l.7,.2l1-.3l1,0l1,.5l1-.2l1-.7l1,0l1,.2l1,0l1,.4l1-.1l1,0l1,.3l0,0l1-.7l1-.5l1-.5l1-.2l1-.5l.1-.1l.9,.8l1,.6l1,0l1,0l1,.2l1,1.1l1,1.7l1,0l1,.3l1,.2l1,0l1,.5l.8,1.2l.2,0l1-.5l1-1.8l1-1.7l1-.4l1-.5l1-.7l1,.2l.4-.3l.6,0l1-.5l1,.3l1-.3l1-.7l1-.8l1-.4l1-.4l0,0l1,1.4l1,2l1,.1l1,.1l1,.7l1,.1l.4,.3l.6-.3l1,0l1-.9l1-1.3l1-.9l1-1l1-1.6l1-1.5l1-.5l1-.9l1-1.3l.8-.4l.2,0l1,1.1l1,.2l1-.5l1-.2l1-.2l1-.3l1-.2l1-.1l1-.4l1,.3l1,.5l1-.8l.5-.4l.5-1.3l1-1.8l1-1.5l0-.1l1,.3l1,1.1l1,1.6l1,0l1-.1l1,1.4l1,1.1l.6,.5l.4-.1l1,.5l1,0l1-1.2l1-1.1l1-.5l1-.7l1-.1l1,0l1-.9l1-.9l1-.3l1-.5l1-.8l1-.3l.9-.5l.1,0l1,.7l1,.9l1,1l1,.1l1,1l1,1.5l1,1.6l.5,.2l.5-.2l1-.7l1-.5l1-.9l1-.9l1-.2l1,.7l1-.1l1,.4l1-.6l1-1l1-.4l1-.4l.2-.2l.8-.7l1-.1l1,.1l1-.2l1-.2l1-.3l1-.2l1-.2l1-.2l1,.6l.4,.1l.6,.3l1-.4l1-1.1l1,.1l1,.5l1-.1l1,.3l1-.1l1-.5l1,1.8l.5,.4l.5,.4l1-.7l1,.2l1,.8l1,.9l1,.5l1,.3l1,.8l1,.6l1,.5l.7,.3l.3,.2l1,.7l1,1.9l1,.8l1,.1l1-.2l1,.5l1,1.4l1,1.6l1,1.1l.8,.2l.2,0l1-.2l1-.3l1-1l1-.3l1,1.4l1,.2l1-.8l1-.3l1,.1l1-.2l1,.5l1,.4l.5-.2l.5-.1l1-.6l1-.1l1-.6l1-.2l1,0l1-.6l1-.1l1,.5l1,.5l.7-.1l.3-.2l1-.6l1,0l1-.9l1-.8l1-.5l1,0l1,.3l1-.4l1-.7l1-.9l1-1l1-1l.4-.2l.6-.2l1-.5l1-.7l1-.2l1,0l1,.2l1-.4l1-1l1-.1l1,.6l.5-.2l.5,.3l1-.2l1,0l1,.1l1,.7l1-.2l1-.4l1,1.1l1,1.3l1-.5l1-.5l1,.9l1,.6l.2,.3l.8,.2l1-1.1l1-2.1l1-.6l1,.1l1-.4l1-.7l1-.9l1-.5l1-.3l1-.9l1-.1l.9,.2l.1,0l1-.3l1-.5l1,0l1,.4l1-.7l1-.3l1,.3l1,.3l1,.5l1-.3l.1-.1l.9-1.6l1-1.1l1-.2l1,.1l1,.3l1-.7l1-.1l.7,.2l.3,2.8l1,7.6l.7,6.2l.3-2l1-7.7l.5-4.3l.5-1.3l1-1.7l1-.9l1-1.1l.3-.8l.7-.6l1-1.1l1,.4l1,.8l1-.6l1-.7l1-.3l1-1l1-1l1-.7l.5,.5l.5,.9l1,.8l1-.1l1,.6l1,.8l1,.7l1,.1l1,.6l1,.9l1-.1l.6,.3l.4,.1l1,.5l1,1.2l1,1.1l1,.2l1-.3l1-1l1-.4l1,1.1l1,.9l.8-.3l.2-.2l1-.7l1,.1l1-.7l1-.9l1,.3l1-.6l1-.5l1,.4l1,0l1-.7l1-.9l1-1.2l1-.3l1-.5l1-1.6l0,0l1,.5l1,1.9l1,1.1l1-.1l1-.3l1,.5l1-.5l1-.1l1,.3l1,.7l1,1.1" fill="none" stroke="#0000FF" stroke-width="2.15" stroke-linejoin="round" stroke-dasharray="1.80 2.97"/>
<path d="M968.8,1014.0l1-6.3l.3-1.8l.7-5.6l1-7.6l1-7.5l1-7.6l1-7.7l.4-2.7l.6-4.9l1-7.5l1-7.3l1-7.4l1-7.8l.4-3.5l.6-3.3l1-4.9l1-3.9l1-4.3l1-5l.5-2.5l.5-2.1l1-4.8l1-4l1-2.7l1-3.9l.6-2.7l.4-2l1-4.4l1-3.3l1-4.8l1-4.6l.7-3l.3-1l1-2.7l1-.9l1-.6l1-2.6l.8-2.7l.2-.6l1-.1l1-.9l1-2.1l1-1.7l1-1.8l1-1.4l1,.4l.4-.1l.6-.4l1-1.9l1-2.2l1-.8l1-1.6l1-1.8l1-1.9l1-1.6l0,0l1-.6l1-.9l1-.8l1,0l1-.6l1-2.2l1-1.2l1-.7l1-.9l1-1.3l.1,0l.9-.1l1,.4l1-.8l1-.8l1,0l1-.1l1,.1l1-1.7l1-1.3l1-.3l.3-.2l.7-.5l1,.2l1-.9l1-2l1-.4l1,.7l1,0l1-.5l1-.5l1-1.1l.5-.2l.5-.2l1-.5l1-.9l1-1.6l1-.5l1,.3l1,.4l1,.5l1-.6l1-.2l.6,.5l.4-.2l1-1.3l1-1.9l1-1.7l1-2l.7-1.5l.3-.1l1-.2l1-.3l1-.5l1-.2l1-.6l1,.2l1,.8l1-.5l1-1.3l1,1.1l1,.4l1-.4l.4-.1l.6-.7l1-1.5l1-.6l1-.8l1-2.3l1-.9l1-.4l1-1.8l1-.7l1,.2l1,1.2l1,.7l1,.6l1,1.9l1,1.1l1-.4l1-.6l1,.1l.2-.2l.8-1.8l1-1.7l1-.2l1,.2l1-1.9l1-1.6l1,.4l1-.3l1-.7l1-1.4l.3-.2l.7,.4l1,1.1l1-.2l1-.7l1,.2l.4,0l.6-1.1l1-2.8l1-1.4l1,.7l1-.7l1,0l1-1.2l1-1.7l0,0l1-.3l1,1l1,.7l1-.5l1-.4l1,1l1,1.2l.6,.2l.4-.1l1-.4l1-1.7l1,.4l1,.4l1-.8l1-1l1-1.4l1-1.3l1-1.4l.8-.8l.2-.1l1,.9l1,1.4l1-.3l1-1.3l1-.8l1-.2l1,.4l1,.4l1,.7l1-.7l0-.1l1-1.7l1-.9l1-.4l1-.4l1,.2l1-.9l1-2.5l.6-.8l.4-.7l1,0l1,.2l1,.2l1-1.2l1-2.4l1-.4l1,.6l1-1l1-1.9l.7-1l.3,0l1,1.6l1,.8l1,1.3l1,0l1-.6l1,1l1,.7l.4,.4l.6-.3l1-1.2l1-1.2l1-.6l1-1.3l1-.8l1,.5l1-.6l1-.1l1-.2l1-.4l1-1.2l1-1.6l0-.1l1-1l1-.4l1,.8l1,.8l1-.1l1-.9l1,.4l1,.8l1,.4l1,.6l1,.7l1-.2l.7,.8l.3,.1l1-.2l1-1.9l1,0l1-.4l1-1.7l1,.2l1-.2l1-.1l1,.8l.9,.9l.1,.1l1-.4l1-.9l1-.8l1,.2l1,0l1,0l1,.1l1-.7l1,0l1-.8l1-2l1-1.7l.6,.6l.4,.8l1,1l1,0l1,.9l1,.5l1,.3l1,1l1,.9l1,.6l1,.9l.8,1.2l.2,.1l1-.1l1-1l1-1.2l1-1.5l1-1.6l1,.8l1-.8l.4-.3l.6,.3l1,.7l1,.5l1,1l1,.8l.4,.3l.6-.3l1-.4l1-.3l1-1.6l1-1.2l1,1.3l1,.3l1-.6l1-1.1l1-2l.6-.8l.4-.1l1,.8l1,1.4l1,1.9l1,.1l1,.3l1-.1l1,0l1,.1l1,.8l.8,.5l.2,0l1-1.1l1-.7l1-.5l1-1.1l1,.2l1-.2l1-.5l1,.6l1,.9l1-1.2l1-1.8l1-1.2l1,.4l1-.4l1-1.5l0,0l1-.9l1,.6l1,1.2l1,1.4l1-.9l1,0l1,1.2l1,.4l1,.2l1,.5l.2,0l.8-.3l1-1l1,.2l1,.5l1-.3l1-.5l1,.4l1,.5l1-.6l1-.7l1-1.4l1-.1l1-1.2l1-.3l1-.6l1,.9l1,.8l1-.2l1-1.2l1-2l1-.3l1,.2l1-.3l1-.8l1,.2l.4,.1l.6-.2l1,.7l1,.4l1-1.2l1-1.6l.4-1l.6-.5l1,1.1l1,.1l1,.6l1,1.1l1,.9l1,.5l1,.5l0,0l1-.2l1-.7l1-1.9l1-.8l1-.6l1-.5l1-.1l1-1.4l1-2.4l1-1.4l.2,.1l.8,.8l1-.1l1-1.2l1-.7l1-1.5l1,0l1-.1l1-.2l1,1.5l1,.8l1-1.2l1,.6l.9,.4l.1,0l1-1l1,.4l1-.3l1-1l1-1.1l1-.7l1,.6l1-.5l1-.6l1,1l1,.9l1,.1l.6-.7l.4,.1l1,1l1,1.4l1,.3l1,.9l1,.6l1,.8l1,1.3l.2,.3l.8,.4l1-.4l1-.4l1-1.1l1-1.1l1,.1l1,.3l1-.1l1,.6l1,.6l.4-.5l.6-.9l1-.6l1,.5l1-.7l1-.1l1,.3l1,.6l1-.9l0,0l1-.2l1,.2l1-.2l1,.6l1,1.5l1,.7l1-1.2l.6,0l.4-.2l1,.1l1,.2l1-1l1-1l1,0l1-.9l1-1.5l1,.1l1,1.5l.8,1.1l.2,.4l1,.8l1-.3l1,.7l1,.5l1,.3l1,1.2l1-.2l.4,.3l.6-.3l1-.1l1-.2l1-.4l1,0l1-.7l1-1.4l1-1.6l1-.6l1,0l.6-.3l.4,.3l1,.3l1,1.5l1,.9l1-.5l1-1l1-.5l1,1l1,.4l1,.3l1,.5l1-.2l1,.8l.2,.5l.8,.4l1-1.3l1-1.4l1-1.8l1-1.2l1-1.8l1-1.5l.9-.1l.1,.2l1,2.8l1,1.1l1-.8l1-1l1,.8l1,.9l1,.2l1-.2l1,1.5l1,1.4l1-.1l1-.6l.6-.4l.4-.5l1-.9l1,.4l1,.5l1-1l1-.2l1,.3l1-.1l1-.5l1-1.3l1-.2l1-.3l1-.1l.3,0l.7-.4l1-.3l1-.7l1-1.3l1-.5l1-.4l1-.6l.9-1.1l.1,.1l1,1l1,0l1-.1l1,2l1,.7l1,.3l1,1.3l.5,.7l.5,.1l1-.2l1-.7l1-1.4l1,.9l1,2.1l1,1.7l1,0l1-1.4l1-.9l1-.7l1,.4l1-.2l.2-.2l.8-.7l1,.9l1-.1l1-1l1-.1l1-1.1l1,0l1,2.1l1,.6l1-.7l1,.7l1,.9l1,.3l1,.4l1,.7l.4-.2l.6-.6l1-1.2l1,.1l1,.8l1-1.4l1-2.2l1-1.4l1-.2l0,0l1,.5l1-.6l1,0l1,1.3l1,.4l1-1.1l1-.9l1,0l1,.9l1,1l.2,0l.8-.8l1-.5l1,.5l1,0l1-.1l1-.5l1-1.7l1-1.1l1,.2l1-1l.4-.5l.6-.6l1-.7l1,.1l1,.1l1,1.1l1,1.2l1-.5l1,.4l1,1.8l1,.6l1-.8l1-1.4l1,.4l.1-.1l.9-1l1-.1l1,.1l1-.5l1-1.1l1-.4l1-.2l1-1.6l1-.8l1,1.2l1,.4l1-.3l.8-.3l.2-.1l1-.8l1-1.2l1,1.4l1-.4l1-1.4l1,.8l1,.4l.4,.1l.6,.6l1-.3l1-1.2l1-.2l1,1.3l1,.7l1,.4l1,.8l1,.1l1,.2l.5-.5l.5-.7l1-1.6l1-.4l1-.5l1,.6l1-.6l1,.3l1,0l1-1.2l1-1.1l1,.8l1,.8l1-1.6l.2-.4l.8-1.1l1,.7l1,1.3l1,1.1l1,0l1,0l1,.7l.8,.6l.2-.2l1-1l1-1.7l1-1.1l1-.8l.9-1.8l.1-.1l1,.1l1,1.2l1-.5l1,.1l1,1.6l1-.1l1-1.1l1-.8l1,.6l1,.8l1,0l1,1.6l.6,.8l.4,.3l1-2.1l1-.9l1-.7l1-.5l1,.5l1,.5l1-.5l1-.4l1-.4l1-.9l1-.1l1,1.1l.3-.3l.7,.5l1,.7l1,1.7l1,.6l1,1l1,.7l.2-.1" fill="none" stroke="#75147C" stroke-width="2.15" stroke-linejoin="round" stroke-dasharray="11.52 2.88 1.80 2.88"/>
<path d="M968.8,1013.5l1-3.9l1-4l1-4.2l.8-3.5l.2-1l1-5.2l1-5.2l1-4.9l1-4.8l.9-4.2l.1-.5l1-5.2l1-5.3l1-5.7l1-5.1l1-4.1l0-.1l1-4l1-5.4l1-5.9l1-5.6l1-5l0-.1l1-1.2l1-2.3l1-4l1-3.5l1-3.9l1-2.8l1-2.2l.7-2.8l.3-1.5l1-3.7l1-2.7l1-3.8l1-5.4l.8-2.5l.2-.9l1-3l1-3.8l1-4.4l1-3.6l1-2.4l1-1.8l1-4.1l.4-1.9l.6-2.1l1-2.1l1-.4l1,.1l1,.1l1-.8l1-1.3l1-2.7l0,0l1,0l1,1.1l1,.5l.8,.1l.2-.7l1-.9l1-.8l1-3.2l.6-2l.4-.6l1-1.4l1-2.7l1-2.1l1,0l1,1.2l1-.4l1-1.5l1-1.8l1-1.8l.8-1.2l.2-.2l1-.3l1-.3l1-1.7l1-1.2l1,.3l1-.2l1-.2l.4,.2l.6,.3l1-.2l1-.7l1-.5l1-.2l1-.7l1-.2l.5,0l.5-.6l1-2.2l1-.9l1,.2l1-2.2l1-2.7l1-1l1-.1l1-2.7l1-4.2l1-1.5l.2-.2l.8-1.1l1,.1l1-1.1l1-2.6l1-1.3l1-1.3l1-2.1l.8-1.2l.2-.3l1-.6l1-.9l1-1.7l1-1.1l1-1.5l1-.8l1-.9l.4,.1l.6,.3l1-.3l1-2.6l1-.3l1,.3l1-.7l1-.7l1-2.3l1-2.4l1-.1l.6,.3l.4,.3l1,.3l1-1l1-1.6l1,2l1,.8l1-3.7l1-3l1-.3l1,1.4l1,.2l1-2.1l1,.4l.2,.2l.8,.7l1-1.4l1-.6l1-.4l1-.2l1-.3l1,.8l1,.6l1-.8l1-1.2l.4,.1l.6,0l1,1.7l1,.6l1-1.8l1-2.7l1-1.1l1-.3l1-.7l1-1.1l1-.5l.6-.1l.4-.2l1-.6l1,.6l1-.3l1-2l1-1.2l.9,0l.1,0l1,1.6l1,0l1-2.8l1-1.1l1-.5l1-.3l1-1.3l1,.4l.8,.7l.2,.3l1-.2l1-1l1-.4l1-.1l.9,1.1l.1,.1l1,.9l1-.4l1-.7l1-1.5l1-.9l1-2.6l1-.8l1,.7l1-2.4l1-2.3l0,0l1,1.5l1,2.4l1,.7l1,.7l1,.7l1-.5l.4,.1l.6-1.1l1-2.1l1-.6l1,.6l1,.5l1-1.1l1-1.7l1-.6l1-.9l.3-.5l.7-.7l1-.3l1-.4l1-1.1l1,.1l1,.1l1,.1l1-1.8l1-.8l1,.5l.4,.3l.6,.5l1,.5l1-2.7l1-1.1l1,.4l1,.7l1,.4l1-1.4l0,0l1,1.1l1,1.9l1-1.1l1-1.9l1,.2l1-.1l1-.2l1,.5l1-1.2l1-1.2l1,1.4l1,.9l.7,1l.3,.1l1,.8l1,.1l1-1.7l1-2.1l1-1.1l1,.1l1,.8l1,.6l1-1.8l.9-2.5l.1-.3l1,.6l1-1l1-1.4l1,.1l1-.3l1-1.1l1-.7l1-1l1-.8l1,0l1-1.6l1,.7l.6,.5l.4,.6l1,1.1l1-.2l1,.3l1-.6l1-1.4l1-.4l1,.5l1,.4l1-.7l1-.7l1,1.1l1,.4l.3,.2l.7,.1l1-.2l1-.8l1,.3l1-.7l1-.4l1,.4l1-.6l1-.3l1-1l.4-.8l.6-.3l1,1.6l1,1.4l1,.3l1,.4l1,.9l1,.5l1,.6l.1,0l.9-1.1l1,0l1-.2l1-.8l1-.6l1,.8l1-.4l1-2l1,0l1-1.3l.2-.3l.8-.5l1,.3l1-1l1,.2l1,.6l1,.4l1,.7l1-1.4l1-1l1-.3l1,1.2l1-1.7l.9-.8l.1-.2l1,1.1l1-.2l1-1.1l1-.8l1,.2l1-.9l1-.4l1-.1l1-.8l1-.5l1-.2l1-.6l.6-.7l.4-.4l1,.1l1-.1l1-1.6l1-.5l1,.1l1,.2l1-.4l1,.5l1,1.2l.8-.6l.2-.2l1-.7l1-1.1l1,.3l1,.9l1-.6l1-1l1-.6l1-.2l1,1.3l1,.6l1-.7l1-.7l1-.7l1-1.4l.8-.7l.2-.4l1-1.4l1-3.2l1-1.2l1,.3l1-.5l1-1.9l1-1l.4-.7l.6,.9l1,1.9l1,1.8l1,2l1,2.4l.5,.2l.5-.8l1-1.3l1,.5l1,.5l1-1.7l1-1.9l1-.5l1-.6l1-.6l1-1.3l1,.3l1,2.4l1,1.3l.2-.3l.8-.8l1-1.8l1,.2l1,2.2l1,.8l1-2l1-1.9l1,.8l1,.5l1-.5l1,.5l1,1.7l1-.2l1-1l1-.8l1,.2l1,1.3l1,.9l0,0l1-1l1-.7l1-1.1l1-1.8l1,.4l1,.7l1-1l1-.9l1,.8l1,.5l1-.9l1-.6l1,.5l1-.1l1,.4l1-1l1-1.1l.8-.3l.2,0l1,.4l1,.3l1,.1l1,.1l1,1.3l1,.2l1-1.3l.4-.1l.6-1.2l1-.2l1-1.1l1-1.9l1,.7l.5,.1l.5,.8l1-.7l1-.8l1-1.6l1-1.1l1-1.9l1,.6l1,1.4l1-1.1l1-.3l1,.8l1-.9l1-.9l1,.1l1,.5l.7-.8l.3-.3l1-.6l1,1.4l1,1l1,2.2l1,2.4l1-.5l1-2.8l1-.8l1,1.8l1,.9l1,.2l1,1.2l.4,.4l.6,.6l1,.9l1,1.1l1-.9l1-.6l1-.3l1-.4l1,.6l1,1.3l1-.3l1-.5l1,1.5l1,1l.1,0l.9-.8l1-1.6l1-.9l1-.9l1,0l1-.7l1-1.4l1-1.1l1-1.2l1-1.2l.2,0l.8,.7l1-.3l1-1.2l1-1l1,.5l1,2.7l1,1.7l1-.7l1-1.2l1-.6l1,.2l1,.3l1,.2l1-.3l1-.8l1-.9l1,.4l1,1.1l1-.2l1-1.8l.6-.5l.4,0l1,1.1l1,2.2l1,.9l1,1.1l1,2.2l1,.2l1-1.9l1,1.4l1,1.7l.7-.7l.3-.6l1-1.6l1,0l1,1.4l1,1.2l1-.1l1-.3l1,.1l1-1.7l1-.3l1-1.7l1-2.4l1,0l1,.3l1,.8l1,.5l0,.1l1-1.3l1-.6l1-.5l1,0l1,.9l1-.2l1-1.1l1-.1l1-.3l1-.2l1,.5l1,.1l.6-.2l.4-.2l1-.5l1-.6l1,.6l1-.9l1,.5l1,1.7l1-.1l1-1l1-.8l1-1l1-.4l1,1.1l.4,.2l.6,.1l1-.3l1,.8l1-.6l1-1.4l1-1l1,.5l1-.6l1,.8l1,2.2l1-.8l1,.7l1,1.5l1-1.1l1-1.4l.6,.7l.4,.3l1-.9l1-2.2l1,.1l1,.5l1-.5l1-.5l1-1.4l1-2.2l1-.8l.7-.9l.3-.1l1,.2l1,.8l1,0l1,.1l1,.3l1,1.5l1,.8l1-1.9l1-.5l.9,1.2l.1,0l1,.1l1-.7l1-1.6l1-.1l1,0l0,.1l1-1.4l1-1.9l1,0l1,.3l1-.2l1,.9l1,1.4l1,1.6l1,1.2l1-1.5l.1-.1l.9-1.6l1,1.2l1,.9l1-1.5l1-1.7l1,.2l1,.6l1-2.3l1-2.1l1-1l.3,.1l.7,1.2l1,1.1l1-.2l1,.2l1,.9l1-.2l1,.2l1,2.1l1,1.6l1,1.6l.4,.4l.6,0l1-1.5l1-1.6l1-.8l1-2.2l1-1.1l1-1.1l1-2l.1-.1l.9-.3l1,1l1,2.2l1,.4l1,.8l1,.6l1,.9l1,.6l1-.3l1-.1l1-.6l1-.1l.8,.8l.2,.2l1-.4l1-.2l1,.3l1,.7l1-.7l1-.8l1,.9l1,1.4l1-.9l1-.2l1,.6l1-.1l.5-.2l.5-.4l1,.3l1-.6l1-1.5l1-.7l1,.9l1,.2l1-.1l1,.5l1-.3l.6-.6l.4-.4l1,.6l1,.2l1,.5l1,0l1,2.2l1,.9l1-1.8l1-1.5l1,.1l1,1.2l1,.6l1,.1l.3-.7l.7-1.7l1-1.5l1-.3l1,.2l1,.9l1-1.1l.2-.2" fill="none" stroke="#3A7D22" stroke-width="2.15" stroke-linejoin="round" stroke-dasharray="9.00 5.40 1.80 5.40 1.80 5.40"/>
<path d="M967.5,1014.2l1-4.8l1-4.8l1-4.7l.9-3.7l.1-1.3l1-7.4l1-7.4l1-7.2l.7-4.6l.3-3.8l1-10.3l1-10.6l1-9.2l.5-4.2l.5-3.6l1-7l1-6.1l1-5.9l.3-1.6l.7-3.2l1-3.9l1-4.5l1-5.3l.1-.1l.9-2.9l1-3.4l1-2.7l.9-1.1l.1-.1l1-2.1l1-3.9l1-1.6l1-.6l1-4.4l0-.3l1-4.6l1-2.2l1,0l1-2.5l1-2.6l.1,0l.9-1.8l1-1.7l1-.1l1-1.7l1-1.3l.1,0l.9-1l1-2.1l1-2.7l1-2.1l1-1.5l.2-.3l.8-.5l1-1.7l1,0l1-1.3l1-2l1-1l1,.5l1-1.5l1-1.5l.1,0l.9-2.3l1-3l1-2.3l1-3l1-1.7l1-1l1-3.2l1-1.7l1-.4l0,0l1,1l1-1.5l1-.9l1-.8l1-.1l1-.3l1-1.6l1-1.7l1-2.4l1-1.6l.1,0l.9-.2l1,.5l1,.6l1-1.3l1-1.9l1-1l1-1.1l1-.4l1,.7l.8-.6l.2-.4l1-2.5l1-1.4l1-1.6l1-2.2l1-3.4l.4-1.1l.6-1.3l1-.6l1-.9l1-.1l1-.2l1,.3l1-1.6l1-.7l0,0l1,1.8l1,.8l1-.9l1,.1l1,.9l.1,0l.9-2.5l1-1.3l1-1.6l1-1.6l1-1.8l1-2.3l1-2.6l.7-1.5l.3-.3l1-1.6l1-.8l1-1.3l1-.9l.8-.7l.2,.1l1,1.1l1,.7l1,.2l1,.8l1-1l1,0l1,.2l.4,.1l.6-.8l1-.9l1,.5l1-.8l1-1.5l1-.5l1-.6l1-1.8l1-2.5l1-.4l.5,.7l.5,.9l1,.8l1-.4l1-.3l1,.7l1-.3l1-.2l1-1.4l1,.5l1,1.2l.7-.5l.3-.4l1-2.1l1-1l1-1l1,.8l1,.7l1,.1l1-.5l1-1.2l1-.1l.9-.4l.1-.1l1-2.6l1-2l1-1.3l1,0l1,.7l1,1l1,.6l1-.6l1-1.2l1-.8l1-.1l1-1.8l.6-.6l.4,.1l1,.6l1,.8l1,1.5l1,1.1l1,.1l1,.9l1,.1l.2,0l.8-.4l1-1.2l1,.2l1-.1l1-.5l1,.5l1,.2l1-1.5l1-.8l1-1.1l.3-.6l.7-1.7l1-1.3l1-.1l1-.1l1-.5l1-.9l1,.2l.9-1.4l.1-.2l1,0l1,1.2l1-.4l1-.6l1,.2l1-1l1-1.7l1-.6l1,.2l1,.5l1,.8l1,0l.7-1l.3-.1l1,.5l1,.1l1,1.2l1,1.8l1,.7l1,1.1l1,1.5l.3,.4l.7,.4l1-.9l1-1.1l1-1.5l1-.2l1-.6l1-1.9l.9-1.2l.1-.2l1-1.1l1,.2l1-.7l1-.5l1-.9l1-1.3l1-.2l1,.2l1,1.3l1,1.3l1,0l1,0l1-.2l1-1.6l1-2.2l1-1.1l1-.9l1,.9l1,1.8l1,0l1-1.9l1,.4l.7-.1l.3-.1l1,.2l1-.7l1-1.1l1-.4l1-.7l1-.7l1-1.4l1-1.3l1-.3l.9,0l.1,.3l1,3.5l1,3l.4,.6l.6-.8l1-1.7l1-1.9l1-.6l1-.8l1-.7l1,.3l1-1.8l1-.7l1,.7l1,.1l1-.5l1-.8l.1-.1l.9,.3l1,.2l1-.1l1,.9l1,.9l1,1.6l1,.5l1,1.2l1,1.6l1,.2l.3,.5l.7,.1l1-.9l1-2.5l1-1.1l1,.9l1-2.5l1-2.5l.9-.3l.1,0l1,1.1l1-2.6l1-2.3l1-.4l1-.8l1-.4l1-.8l1-.6l.8,.7l.2,.7l1,.6l1,1.1l1,.5l1-.5l1,.9l1,3.7l1,1.2l.4,.8l.6,.4l1,1.2l1,.3l1,.4l1-.4l1-1.6l1-.6l1,.1l1-.1l.3,.5l.7,.4l1-2.4l1-3.2l1-2.1l.1-.1l.9,2.2l1,2l1,2l1,.9l1,1.6l1,1.6l.5,.8l.5-.4l1-.3l1-1.5l1-1.9l1,.3l1-.7l1-2l1-1.4l1-.5l1-1.7l.6-.3l.4,.2l1-.2l1-.9l1-1.4l1-1l1-.5l1-1.9l1-.2l1-.2l1-2l1-.6l1-.4l1-.4l.1,0l.9,.5l1-.9l1-1.8l1,1l1,1.9l1,.5l1,.8l1,1.5l1,1l1-1l.3-.2l.7-1.2l1-.2l1-.5l1-1.7l1-1.7l1,.8l1,1.3l.9-.4l.1-.1l1,.2l1,.6l1-.9l1-1.7l1-.5l1,.4l1-.1l1-.4l1-.7l1-.2l1-.8l1,.3l.6-.1l.4,0l1,1l1-1.2l1-.1l1,.3l1,1.2l1,1.1l1-.2l1-1.3l1-2.6l1,1.1l1,2.2l1,2l.3-.1l.7,.1l1-2.3l1-.7l1-.6l1,1.2l1,1.1l1,.1l1,.3l1,.3l1,.1l.4,.5l.6,.2l1,1.8l1,.2l1-2.2l1-1.1l1-.5l1-.6l1-1.5l1-1.7l1,.6l1-.2l1-1.2l1,.1l.1,0l.9-.4l1-1.7l1-.5l1,.2l1-1.1l1-.4l1,.9l1,1l1-.6l1-.6l.3-.4l.7-.2l1,1l1,3.2l1,1.2l1,.5l1,1.9l1,1.3l.9,.1l.1-.2l1-.4l1,.7l1-1.1l1-1.3l1-1l1-.6l1-.6l1-1.5l1,0l1-.9l.1,0l.9-.5l1-1.4l1-1.2l1,.4l1,.1l1-.8l1-.1l1,.8l1-1.4l1-.3l1-1.2l1-2.1l.8-.3l.2,.2l1,1.3l1-.1l1-1l1,.4l1-.5l1-.6l1,.5l1,1.3l1,1.4l1,.7l1-.5l1,1l.5,0l.5-.3l1-.5l1-.5l1-.9l1-1l1-1.4l1-1.3l1,.3l1,.5l1-.5l.6,0l.4,0l1,.2l1,.4l1-1.4l1-.5l1,1.6l1-.8l1-1.4l1-1.5l1,.1l1,2l1-.6l1-1.6l1,.7l1,1.3l.9-.7l.1,.1l1-.7l1-1.2l1-.3l1,.5l1,1.9l1,2.3l1,1.3l.5-.1l.5-1.3l1-1.9l1,.2l1-.1l1-1.9l1-.5l1-.2l1-1.6l.1,0l.9-.1l1-.3l1,1l1,1.9l1,2.6l1,1.5l1-2.2l1-1.1l1,.2l1-.4l.3-.1l.7-.6l1,.4l1,1.3l1,.2l1-.8l1,.6l1-.3l1,1.4l1,1.1l1-2l.4-1l.6-2.1l1-.9l1,.2l1,1.1l1-.4l1-.4l1,.8l1,.4l1,.1l1-1.6l.6-1l.4-.7l1-.3l1,.3l1,2.6l1,2.6l1,.6l1-.9l1-2.1l1,.3l1,.3l1-1.5l1-1.5l1-1.2l.3,.5l.7,1.5l1,2.3l1-.3l1-.9l1-1.4l1-.1l1-.1l1,.9l1,1.1l1,1.5l1,.2l1-.6l1-1.3l0-.1l1,.5l1,.4l1-.7l1,.9l1,1.6l1,.4l1,.2l1,1.2l1,1.5l1,.2l1-.3l1-2.5l1-.3l1,1.9l1-.1l.2-.1l.8-.9l1,.7l1,.9l1-.3l1-1.5l1-1.2l1-.9l1-.6l1,1.8l1,1.3l1-1.1l1-.7l1,1.3l1,.3l1,.4l.4,.4l.6,.8l1-.7l1-.4l1-.5l1-1.2l1-2.1l1-1l1,.2l1-.2l1,.4l1,.7l1-1l1-1.7l.1,0l.9-.6l1-.1l1-1.4l1,.2l1,0l1-1.9l1-1.2l1,1.2l1,1.8l1-1.1l.3-.2l.7,.2l1,3.1l1,.9l1,.6l1,.7l1,1.1l1,1.1l.9,1.4l.1,0l1-1.1l1-3.1l1-3.7l1-1.2l1,0l1-1l.3-.1l.7,1.2l1,.9l1,.1l1-.8l1,.3l1-.2l1,.1l1,1.4l1,.9l.1,.1l.9,.6l1,1.2l1,1.3l1-.3l1,.8l1,1.8l1,1.1l.8,.5l.2-.2l1-.7l1,.3l1,1.1l1-.4l1-.5l1,.3l1-.5l1,.1l1-.2l.9-.7l.1,0l1-.8l1-.7l1,.9l1,.8l1-.6l1,.3l1-.1l1-.4l1,.8l1,.3l.1,0l.9-2.6l1-.8l1-.5l1,0l1,.5l1-.5l1-.2l1-.8l.5-.7" fill="none" stroke="#E83323" stroke-width="2.15" stroke-linejoin="round"/>
</g>
<text x="965.0" y="1045.8" font-size="26.82" text-anchor="middle" fill="#262626" textLength="56.3" lengthAdjust="spacingAndGlyphs">0.00</text>
<text x="1048.9" y="1045.8" font-size="26.82" text-anchor="middle" fill="#262626" textLength="56.3" lengthAdjust="spacingAndGlyphs">0.25</text>
<text x="1132.8" y="1045.8" font-size="26.82" text-anchor="middle" fill="#262626" textLength="56.3" lengthAdjust="spacingAndGlyphs">0.50</text>
<text x="1216.6" y="1045.8" font-size="26.82" text-anchor="middle" fill="#262626" textLength="56.3" lengthAdjust="spacingAndGlyphs">0.75</text>
<text x="1300.5" y="1045.8" font-size="26.82" text-anchor="middle" fill="#262626" textLength="56.3" lengthAdjust="spacingAndGlyphs">1.00</text>
<text x="1384.4" y="1045.8" font-size="26.82" text-anchor="middle" fill="#262626" textLength="56.3" lengthAdjust="spacingAndGlyphs">1.25</text>
<text x="1468.2" y="1045.8" font-size="26.82" text-anchor="middle" fill="#262626" textLength="56.3" lengthAdjust="spacingAndGlyphs">1.50</text>
<text x="1552.1" y="1045.8" font-size="26.82" text-anchor="middle" fill="#262626" textLength="56.3" lengthAdjust="spacingAndGlyphs">1.75</text>
<text x="1636.0" y="1045.8" font-size="26.82" text-anchor="middle" fill="#262626" textLength="56.3" lengthAdjust="spacingAndGlyphs">2.00</text>
<text x="952.0" y="1023.8" font-size="26.82" text-anchor="end" fill="#262626" textLength="16.1" lengthAdjust="spacingAndGlyphs">0</text>
<text x="952.0" y="946.0" font-size="26.82" text-anchor="end" fill="#262626" textLength="16.1" lengthAdjust="spacingAndGlyphs">5</text>
<text x="952.0" y="868.2" font-size="26.82" text-anchor="end" fill="#262626" textLength="32.2" lengthAdjust="spacingAndGlyphs">10</text>
<text x="952.0" y="790.4" font-size="26.82" text-anchor="end" fill="#262626" textLength="32.2" lengthAdjust="spacingAndGlyphs">15</text>
<text x="952.0" y="712.6" font-size="26.82" text-anchor="end" fill="#262626" textLength="32.2" lengthAdjust="spacingAndGlyphs">20</text>
<text x="952.0" y="634.8" font-size="26.82" text-anchor="end" fill="#262626" textLength="32.2" lengthAdjust="spacingAndGlyphs">25</text>
<text x="1614.0" y="1073.7" font-size="25.93" text-anchor="end" fill="#262626" textLength="53.4" lengthAdjust="spacingAndGlyphs">×10</text>
<text x="1636.5" y="1064.4" font-size="18.77" text-anchor="end" fill="#262626" textLength="22.5" lengthAdjust="spacingAndGlyphs">10</text>
<text x="1300.5" y="1084.8" font-size="38.95" text-anchor="middle" fill="#262626" textLength="189.0" lengthAdjust="spacingAndGlyphs">Env Steps</text>
<text x="1300.5" y="611.8" font-size="41.51" text-anchor="middle" fill="#262626" textLength="376.1" lengthAdjust="spacingAndGlyphs">AllegroKuka Throw</text>
<text x="0" y="0" transform="translate(906.5,819.5) rotate(-90)" font-size="38.95" text-anchor="middle" fill="#262626" textLength="357.5" lengthAdjust="spacingAndGlyphs">Episode Successes</text>
</g>
<g id="P6">
<rect x="1811" y="625" width="671" height="389" fill="#EAEAF2"/>
<clipPath id="cP6"><rect x="1811" y="625" width="671" height="389"/></clipPath>
<path d="M1811.00,625V1014M1894.88,625V1014M1978.75,625V1014M2062.62,625V1014M2146.50,625V1014M2230.38,625V1014M2314.25,625V1014M2398.12,625V1014M2482.15,625V1014M1811,1014.15H2482M1811,916.75H2482M1811,819.50H2482M1811,722.25H2482" stroke="#fff" stroke-width="1.30" fill="none" clip-path="url(#cP6)"/>
<g clip-path="url(#cP6)">
<path d="M1811.0,1012.9l3,.1l3,.1l3-.1l3,0l3-.1l3,0l3,0l3,.1l3-.7l3,.1l3-.1l3,.6l3-.4l3-.1l3,.3l3-.3l3,.2l3-.2l3-.3l3,.2l3-.3l3,.1l3,0l3,.3l3,.2l1.2-.1l1.8,.1l3-.6l3,.1l3-.6l3-.6l3,.2l3-1.3l3,.2l3-.8l3,0l3-.6l3,.6l3-.6l.3-.1l2.7-.1l3-.5l3-.6l3-.7l3-.1l3-.6l0,0l3,.4l3,.1l3,.5l3,.5l3-.6l3,.9l2.4,.4l.6,0l3,.2l3-.5l3,.1l3,.3l3-.1l3,.8l3-.5l3,.3l3-.2l3-.4l3,.3l3-.4l3-.1l3,.2l3-.5l3,.8l3,0l3-.3l3,.1l3-.1l3-.1l3-.4l3-.1l3,.3l3-.2l3-.3l3,.1l3-.2l3,.1l3-.7l3,.9l3,.2l3-.3l1.9,.1l1.1-.3l3-.2l3,0l3,.2l3,.1l3-.1l3-.1l3-.5l3,.3l3,0l3-.2l3,.1l3-.5l3,.4l3,.1l3,0l3-.8l3,.5l3-.2l3-.5l3,.1l3-.1l3-.2l3,.1l3,.1l3,.2l3-1.1l3,.3l3,.2l3-.4l3,.3l3,.2l3-.4l3-.3l3,0l3-.1l3,.1l3-.1l3,.2l3-.3l3,.1l3-.3l3,.7l3-.6l3,.3l3-.3l3,.2l3-.5l3-.1l3,.1l3-.1l3-.1l3-.1l3,.4l3-.4l1.8-.4l1.2,0l3-.1l3-.3l3,.2l3-.1l3-.3l3,.6l3-.7l3,.5l3-.1l3-.1l3-.1l3,.5l3,.2l3,.2l3-1.1l3,.2l3-.2l3-.3l3,.2l3,.3l3-.1l3-.3l3,.1l3-.6l3,.2l3-.4l3,.1l1.6,.1l1.4,0l3,.1l3-.5l3,.1l3,.4l3-.6l3,0l3-.7l3,0l3-.2l3-.4l3,.2l1.2-.4l1.8-.2l3-1l3,.5l3-.5l3-.6l3-.2l3-.3l3-.4l2.5-.5l.5-.1l3-.6l3-.1l3-.8l3-.1l3-.4l3,.4l3-.9l3-1l.9,.2l2.1-.1l3-.5l3-.3l3-.2l1.6-.3l1.4,.3l3,.2l3,.4l3,.2l3,.2l3-.1l3,.7l3,.2l3-.2l0,0l3,.2l3-.6l3,.7l3-.4l3-.4l3,.5l3,0l3-.2l1.4,.2l1.6-.2l3-.1l3-.3l3-.5l3-.1l3-.8l2-.2l0,16.3l-2-.2l-3,.5l-3,.4l-3-.6l-3-.4l-3,.4l-3,.2l-3,.5l-3-.5l-3,.8l-3-.1l-3-.2l-3-.1l-3,0l-3,.4l-3-.1l-3-.2l-3-.1l-3,.3l-3,0l-3,0l-3-.1l-3,.1l-3,.1l-3,.2l-3-.4l-3,.6l-2.1-.2l-.9,.2l-3,.1l-3,.2l-3-.3l-3-.8l-3,.5l-3,0l-3-.2l-3,.4l-3-.6l-3,.7l-3-.2l-3-.7l-3,.1l-3,.2l-3,.3l-3-.5l-3,.4l-3-.1l-3,.4l-3-.1l-3-.2l-3,0l-3-.4l-3,.2l-3,.6l-3-.9l-3,.4l-3,.1l-1.4,.2l-1.6-.8l-3,.3l-3,.3l-3-.4l-3,.2l-3-.2l-3,.4l-3-.1l-3,.5l-3,.3l-3-.8l-3,.2l-3,.3l-3,.1l-3,.1l-3-.2l-3-.1l-3,.2l-3-.3l-3-.1l-3-.3l-3,.7l-3-.2l-3,.3l-3-.2l-3,.3l-3-.4l-3,.1l-3-.5l-3,1l-3,0l-3,.3l-3-.7l-3,.2l-3-.2l-3,.3l-3,.2l-3,0l-3-.2l-3,.1l-3-.2l-3,.3l-3-.2l-3-.2l-3,.4l-3-.1l-3,.4l-3,0l-3-.2l-3,.5l-3-.3l-3,.2l-3-.4l-3,.5l-3-.3l-3,0l-3,0l-3-.3l-3,.3l-3,.5l-3-.3l-3,.3l-3,.2l-3-.3l-3-.2l-3,.1l-3-.3l-3,.7l-3,0l-3,.3l-3-.2l-3-.2l-3,.2l-3,0l-3,.2l-3-.1l-3,.2l-3,.3l-3-.7l-3,.3l-3,.7l-3-1.1l-3,.2l-3-.3l-3,.5l-3,0l-3-.3l-3,.1l-3,.1l-3-.4l-3,.3l-3,.3l-3-.3l-3,.6l-3,.3l-3,0l-3,0l-3-.1l-3,0l-3,0l-3,.1l-3-.3l-3-.3l-3-.2l-3-.1l-3,.6l-3,.2l-3,.1l-3,.1l-3-.6l-3,.4l-3,1l-3-.7l-3,.1l-3,.3l-3-.1l-3-.2l-3,.2l-3,0l-3-.2l-3,.4l-3-.5l-3,.3l-3-.3l-3,.2l-3-.2l-3,.4l-3-.1l-3-.3l-3,.3l-3,0l-3,.2l-3,.2l-3-.3l-3,.2l-3,.3l-3-.9l-3,.1l-3,.9l-3-.4l-3,.2l-3-.3l-3,1l-3-.5l-3-.1l-3,.2l-3-.6l-3,0l-3,.4l-3,.3l-3,.2l-3-.5l-3,.3l-3,.1l-3,.2l-3-.2l-3-.2l-3,.2l-3-.5l-3,.4l-3,.3l-3-.2l-3,0l-3,.1l-3,.2l-3,0l-3,0l-3,0Z" fill="#0000FF" fill-opacity="0.2"/>
<path d="M1811.0,1012.9l1.5,.2l1.5,.4l1.5-.3l1.5,1.2l1.5,.2l1.5,.6l1.5,1.4l1.5-1.9l1.5,.8l1.5,1l1.5-.4l1.5-1.1l1.5-3.3l1.5-1.5l1.5,2.5l1.5,2.2l1.5-3.8l1.5,1.1l1.5,1l1.5,.1l1.5,.2l1.5,4.9l1.5-1l1.5-.9l1.5-2.6l.6-1.8l.9-.8l1.5-.8l1.5-3.7l1.5-4.4l1.5,4l1.5,2.3l1.5-2l1.5-6.9l1.3-.9l.2-.1l1.5-2l1.5-5.3l1.5-6.2l1.5-5.5l1.4,.4l.1-.3l1.5-8.7l1.5-8.4l1.5-2.4l1.5-9l1.5-7l0-.1l1.5-6.8l1.5-9.6l1.5-11.7l1.5-5l1.5-3.3l.1-.6l1.4-6.2l1.5-4.1l1.5-7.2l1.5-2.2l1.5,1.3l1.5-12.5l.8-4.3l.7-4.4l1.5-8.7l1.5-6.3l1.5-10.1l.4-3.2l1.1-1.8l1.5,.6l1.5-8.4l1.5-3.8l.7-2.1l.8-1l1.5-2.6l1.5-4l1.5,4.8l1.5-2.4l.8-.2l.7-.8l1.5-2l1.5,2.9l1.5,3.7l1.5,6.2l1.5,1.3l.7-3l.8,2.3l1.5,11l1.5,.1l1.3-1.4l.2-1.2l1.5-3.5l1.5-1.5l1.5-3.3l.4-1l1.1,2.4l1.5,2.7l1.5,9l1.5,8.9l1.5,3l.5,2.3l1,.9l1.5-1.7l1.5-1.4l1.5,6.5l1.5,.5l.6-2l.9,2.6l1.5,11.8l1.5,6.1l1.5,8.9l1,4.7l.5-2.2l1.5-2.6l1.5-2.3l1.5-6.8l1.5-1.2l1.5-.6l.9,.6l.6-1.2l1.5-10.2l1.5-4.9l1.5-1.7l1.2-7.7l.3-.4l1.5,2.2l1.5,5.3l1.5,1.6l1.5,6.5l.1,.3l1.4,.9l1.5-.5l1.5-2.7l1.5-1l1.5,1.5l.2,.2l1.3-3.8l1.5-8.8l1.5-11.3l1.5-12.3l1.5-10.2l.3-2.3l1.2-2.8l1.5-1l1.5-4.7l1.5-.6l1.5-2.4l1.5-2.2l.2-.3l1.3-.6l1.5-.7l1.5,2.9l1.5-1.1l1.5,.2l1.5,8l1.5-.5l1.1-5.9l.4-1.8l1.5,5.7l1.5,5.8l1.5-5.2l1.5,2.9l1.5,6.5l1.5,1.4l.8-3.4l.7-7.2l1.5-15.2l1.5-8.1l1.3-6.6l.2-.4l1.5-8.3l1.5-5.1l.6-2.4l.9,1l1.5,2.6l1.5,8.9l1.2,3.7l.3-1.3l1.5-9.2l1.5-6.6l.5-1.6l1,.9l1.5-1.6l1.5-3.7l1.5,3l1.5-.5l.7-.3l.8,2.2l1.5,.7l1.5,.2l1.2,3.4l.3-.2l1.5-2.6l1.5,1.9l1.5-1l1.5-2.7l1.4-2l.1,.4l1.5,4.3l1.5,.9l1.5,9.8l.4,3.2l1.1-7.2l1.5-4.8l1.5,.7l1.5-3l1.5-2.2l1.5,1.9l1.5-1.1l.1-.3l1.4-5.2l1.5-4.6l1.5-4.4l.7-2.4l.8-.1l1.5-2.5l1.5-3.2l1.5,1.6l1.5-2.6l.8-.5l.7-.5l1.5-3l1.5-2.3l1.5-6.8l1.1-1.3l.4,2.1l1.5,11.9l1.5,10l.5,1.5l1-3.7l1.5-3.2l1.5-5.3l1.5,2l1.5-1.3l1.5-2.2l1.5-.5l.1-.5l1.4-1l1.5,1.4l1.5-2.6l1.5,1.4l1.5,2.9l.2,0l1.3-2.9l1.5,1.4l1.5-3.1l1.5,2.7l1.5-.6l1.5-3.4l1.4-2.8l.1-.3l1.5-3.4l1.5-1.4l1.5,.5l1.5-2.2l1.5-8l1.5-7.9l1,2.7l.5,2.1l1.5-1.5l1.5,1l1.5,6.5l.1,.1l1.4-1.5l1.5-2.9l1.5-3.1l1.5-3.4l1.5,1.4l1.5,1.6l1.5-.1l1.5,.7l1.5-3.2l1.5,2.2l.2-.1l1.3,.2l1.5,.4l1.5-3.5l1.5,6.5l1.5-3.4l1.5-4.2l1.3,.3l.2-.5l1.5-3.5l1.5,.6l1.5,3.4l1.5-1.5l1.5-5.3l1.2-1.2l.3,.1l1.5,3.4l1.5,9.2l1.5,1.9l1.5-.9l1.5,3.9l1.1,1.2l.4-.2l1.5-2.6l1.5,.4l1.5,6.1l1.5,4.2l1.5,.3l1.5-.2l1.5,2.5l1.5-1.7l.3,0l1.2,2l1.5,1.4l1.5-.1l1.5,1l1.5,1.4l1.5,2.9l1.5,0l1.5,.6l1-.3l.5-1l1.5-1.4l1.5-2.1l1.5-2.8l1.5,2l1.5-1l1.5-5.6l1.5-1.3l1.5-3.7l.2-.6l1.3-2l1.5,3.4l1.5-5.9l1.5,.8l1.5,2.3l1.5,.9l1.5-1.4l1.5,.8l1.5-5.3l1.5-2.5l1.5-.6l1.5,.1l0,.1l1.5,7.6l1.5,2.6l1.5-4.5l1.5,1.8l1.5,4.2l.1,.1l1.4,2.8l1.5,3.7l1.5,1.2l1.5-2.5l1.5,3.1l1.5-3l1.5,2.7l1.5-2l.8-.9l.7-.7l1.5,2.5l1.5-2.8l1.5-2.7l1.5,1.6l.9,.5l.6,.9l1.5,3.1l1.5,1.9l1.5,5.8l1.2,4.7l.3,2l1.5,7.1l1.5,5.5l.5,1.8l1,.5l1.5,4.9l1.5,2.2l1.5,12.4l1.5,2.9l1.5-.9l.4,1.2l1.1,.3l1.5-.6l1.5-5.5l1.5-5.5l.8-2.9l.7,.9l1.5-.1l1.5-1l1.5,8.1l1.5-.9l.9-.9l.6-.9l1.5-2.4l1.5-4.9l1.5-8.2l1.5-1.4l1-2.6l.5,1.1l1.5,2.5l1.5,3.3l.3,1l1.2-7.9l1.4-10.8l.1-.3l1.5-8.3l1.5-1.7l1.5-.5l1.5,1l1.5-7.1l1.3-4.8l.2,0l1.5-1l1.5-2.1l1.5,2.9l1.5,7.7l1.4,2l.1-.7l1.5-10.6l1.5,.9l1.5-2.4l1.5-5.9l1.5-4.9l0,0l1.5,2.2l1.5,5.6l1.5,2.5l.6-.3l.9,.4l1.5,5l1.5,.9l1.5,2.9l1.5,3.7l.7,.7l.8-2.8l1.5-4.3l1.5-6.3l1.3-6.7l.2,.2l1.5,14l1.5,1.9l1.5,5.2l1.5,5.2l1.4,.1l.1-.6l1.5-5.5l1.5-3.4l1.5-7l.5-2.8l1-7.1l1.5-7.9l1.5-5.6l1-4.6l.5-.6l1.5-2.1l1.5-2.5l1.5,1.9l1.5-1.9l1.2,2.1l.3,2.3l1.5,7.2l1.5-.1l1.5,1.8l1.5,1.8l1.3,4.9l.2,.2l1.5-3.2l1.5-4.4l1.5,2.9l1.5-6.5l1.5-3.1l1.5-6.1l.9-2.4l.6,0l1.5-.7l1.5-1.8l1.5,1l1.5,.9l1.5-1.3l1.5-5.4l1.5-2.7l1.5-1.6l.1-.2l1.4,1l1.5,2l1.5,.5l1.5,.6l1.5,0l1.5,.9l1.5-.8l1.5-.2l.8-.3l.7-.9l1.5,1.5l1.5-2.6l1.5-3.1l1.5-1.7l1.5-.9l1.5,4.4l1.5-1.8l1.5-2.3l0-.1l1.5-7.6l1.5-1.1l1.5,.4l1.5-7.7l1.5,.1l1.5,3l1.5-.2l1.5-1.5l.7,.6l.8,.8l1.5-.9l1.5,0l1.5,2.2l1.5,.3l1.5,.1l1.5,2.7l.4,1.3l1.1,4.7l1.5-2.8l1.5-.5l1.5,.9l1.5-2.8l1.5-1.5l1.5-2l1.5-.5l1.5-2.1l1.5,1.3l1.5,4l1.5,.5l1.5-3.8l1.5-4.5l.5-.3l0,219.6l-.5,.1l-1.5-.8l-1.5-2.2l-1.5-2.5l-1.5-1.4l-1.5-5.3l-.4-.9l-1.1,1.6l-1.5-.2l-1.5,1.2l-1.5,4.2l-1.5-1.7l-1.5,.7l-1.5,5.6l-.1,.1l-1.4-4l-1.5-3.3l-1.5-2.6l-1.5-4.1l-1.5-2.5l-1.5-6.4l-1.5-2.4l-1.5,7.1l-.8-1.1l-.7-4l-1.5-7.4l-1.5-4.9l-1.5-3.1l-1.5-4.5l-1.5-.7l-1.5-2.9l-.4-1.4l-1.1,2.5l-1.5,6.1l-1.5,5.8l-1,3.7l-.5-.8l-1.5-5.6l-1.5-2.3l-1.5-1l-.1-.3l-1.4-5.4l-1.5-1.2l-1.5,.1l-.7,0l-.8-2.2l-1.5-2.8l-.2-1l-1.3,2.5l-1.5,2.2l-1.5,2.5l-1.5,.8l-1.5,1.3l-1.5,5.3l-1.4,6.1l-.1-.6l-1.5-8.2l-1.5,.7l-1.5-.5l-1.5-3.5l-1.5-4.1l-1.2-5.1l-.3,1.2l-1.5,7.2l-1.5,5.6l-1.5,6.3l-1.5,1.3l-.1,.2l-1.4-2.6l-1.5,2.4l-1.5-7.8l-.7-3.8l-.8,2l-1.5,6.7l-1.5,6.2l-1.5-.6l-1.5,.8l-1.5,4.1l-.6,1.5l-.9-1.5l-1.5-4.8l-1.5-6.6l-1.5-1.8l-.9-.8l-.6-1.9l-1.5-4.2l-1.5-3.8l-1.5-6.3l-1.5,.6l-1.5,2.7l-1.5,1l-1.5,3.6l-1.5-1.5l-1.5,5.1l-1.2,1.1l-.3-.8l-1.5-4.8l-1.5-6l-1.5-.7l-.2-.3l-1.3,2.1l-1.5-1.7l-1.5,2.1l-1.5,4.6l-1.5,1.2l-1.5-.6l-1.5,3.5l-1.5,5.4l-.9-.8l-.6,.3l-1.5,1.8l-1.5,.7l-1.5,.8l-1.5,6.9l-1.5,1.9l-1.5,.6l-.6,1.2l-.9-.9l-1.5-3.3l-1.5-5.8l-1.5-1.7l-1.5-3.4l-.7-2.2l-.8,1.1l-1.5,5.8l-1.5-2.6l-1.5,1.8l-1.5,5.5l-.8,1.9l-.7,1l-1.5,2.7l-1.5-1.2l-1.5,2.5l-1.5,3.3l-1.5-3.7l-1.5,2.4l-.5,.9l-1-2.6l-1.5-2.7l-1.5-5.2l-1.1-5.8l-.4,.1l-1.5-1.4l-1.5,3.2l-1.5,5.5l-.1,.6l-1.4,8.5l-1.5,5.5l-1.5,6.2l-1.5,9.2l-1.5,5.6l-1.5,3.1l0,0l-1.5-6.5l-1.5-.4l-1.5-4.9l-.6-3.6l-.9-.1l-1.5,3.3l-1.5,7.6l-1.2,1.9l-.3-1.5l-1.5-.6l-1.5-4.4l-1.5-4.9l-1.5-3.8l-1.5-1l-1.5-11.1l-1.5-4.7l-.6,.3l-.9-1l-1.5-.1l-1.5,.9l-1.5-4.8l-1.5,.5l-1.5-.4l-1.5-.9l-1.5,1.9l-1.3-1l-.2,.2l-1.5-1.1l-1.5,1.8l-1.5,3.4l-1.5,4.1l-1.5,2.1l-1.5-4.7l-1,4.9l-.5,4.5l-1.5,8.1l-1.5,10.4l-1.5,9l-1.5,.9l-1.5,5.8l-1.5,4.4l-1.5,2.8l-.4,1.7l-1.1,2.1l-1.5,3.4l-1.2-1.6l-.3-.8l-1.5-1.6l-1.5,.6l-1.5-1.7l-1.5-9.5l-1.5-12.3l-1.1,.3l-.4,2.1l-1.5,4.4l-1.5,4.8l-1.5-.1l-1.5,6.4l-1.5,3.9l-1.5,1.2l-1.5,2.4l-.5,1.5l-1,1.4l-1.5,3.2l-1.5,9.2l-1.5,3l-1.5,5.7l-1.5,1.1l-1.5,2.5l-1.4,3.4l-.1-.2l-1.5,3.3l-1.5-1.3l-1.5-4.1l-1.5-4.2l-.3,.5l-1.2,5.2l-1.5,.1l-1.5,2l-.9,1.5l-.6-.1l-1.5-2.3l-1.5-4.7l-1.5-5.8l-1.5-4.3l-1.5,2.1l-1.5,2l-1.5-6l-1.5-2.3l-.1-.2l-1.4-2.3l-1.5-1.9l-.9,3.9l-.6-.9l-1.5-8.1l-1.5-3.1l-1.5-6.9l-1.5-7.2l-1.5-2.3l-1.5-1.2l-1.5-9l-.3-1.3l-1.2,3.7l-1.5,5.1l-1.5-5.7l-1.5,1.9l-1.5,4.5l-1.5,2.7l-1.5,5.5l-1.5,6.2l-1.5,1.3l-1.5-.4l-1.5,3.2l-1.5,5.9l-1.5,2.9l-1.5,1.9l-1.5-1.1l-.5-1l-1-.6l-1.5-1.4l-1.5-5.1l-1.5-2.7l-1.5,4.2l-1.5-2l-1.5-5l-.1,.3l-1.4,4.9l-1.5-.5l-1.5-.6l-1.5,1.4l-1.5,1.5l-1.5,2.8l-1.3,1l-.2-.4l-1.5-3.4l-1.5,.7l-1.5,4.7l-1.5,4.8l-1.5-1.8l-1.5,.7l-1.5,3l-1.5,.5l-.5,.4l-1,1.5l-1.5-3.6l-1.5-1.4l-1.5-2.8l-1.5,1.3l-.6,1.2l-.9,2.9l-1.5,1.7l-1.5-1.8l-1.5,4.2l-1.5,.3l-1.5,.3l-1.5,.4l-.3,0l-1.2,.1l-1.5-.9l-1.5,.5l-1.5,.6l-1.5-.3l-1.5,1.6l-1.4,1.2l-.1,.2l-1.5-1l-1.5-.6l-1.5,2.2l-1.5,2.4l-1.5-.9l-1.5,3.4l-1.1,1.4l-.4,1.1l-1.5,4l-1.5-2.6l-1.5,0l-1.5-2.3l-1.5-2.7l-1.5,1.1l-.7,1.7l-.8,2.5l-1.5,1.8l-1.5,4.2l-1.5,2.4l-1.5,1.2l-1.5,1.6l-1.5,2.6l-.4,1.5l-1.1,1.9l-1.5,.8l-1.5,.9l-1.5-3.1l-1.5,5.2l-1.5,.7l-1.5-1.8l0,0l-1.5-3.7l-1.5,1.5l-1.5,1.8l-1.5,.6l-1.5,3.5l-1.5,.6l-1.2-1.4l-.3-.7l-1.5,1l-1.5-.2l-1.5,.4l-1.5-2.6l-1.5,2.3l-1.5-2.7l-.8,.7l-.7,.1l-1.5,.1l-1.5,.3l-1.5,2.2l-1.5,1.9l-1.5-7l-1.5-7.6l-.5,.1l-1,4.9l-1.5,3.9l-1.5,2.4l-1.5,.7l-1.5,5l-1.5,1.1l-1.5,1.4l-.2,0l-1.3-1l-1.5-.3l-1.5,5.3l-1.5,.2l-1.5,3.4l-1.5-2.7l-1.3-3.1l-.2,.4l-1.5,5.1l-1.5,9l-1.5,5.8l-1.5-.6l-1.4,4.9l-.1,.2l-1.5,5.4l-1.5,5.3l-1.5,4.1l-1.5,3.6l-.3,.2l-1.2-3.9l-1.5-.1l-1.1-4.4l-.4-1.5l-1.5-5.9l-1.5-2.9l-1.5-5.3l-1.5-4.8l-1.2-1.5l-.3-.8l-1.5-6.6l-1.5-5.6l-1.5-7.5l-1.5-8.9l-1.3-4.9l-.2,.1l-1.5,3.7l-1.5,4.4l-1.5-.9l-1.5,2.4l-1.5-2.4l-1.5,1l-1,2.9l-.5,1.7l-1.5-2.5l-1.5-2.6l-1.5-.6l-1.5,2.3l-1.5,.3l-1.5,3.2l-.6-1.2l-.9,1.8l-1.5,4.8l-1.5-1l-1.5,1.1l-1.5,2.1l-1.5,.4l-1.5,1.8l-.3,.4l-1.2-1l-1.5-2.6l-1.5-.4l-1.5-2.1l-1.5-.5l-.4-1.6l-1.1-1.1l-1.5,3.1l-1.5,4.8l-1.5,7.6l-1.5-1.7l-1.5-.5l-1.5-.9l-.1-.1l-1.4,1.5l-1.5,2.3l-1.5,1.9l-1.5,.6l-1.5,4.5l-.7,3.8l-.8,1.7l-1.5,4.2l-1.5,4.5l-1.5,2.8l-1.5-.6l-.3-.3l-1.2-1.6l-1.5,2.9l-1.5,4l-1.5,3.9l-1.5-.2l-1.5,4l-1.5,.5l-1.5,.1l-1,.5l-.5,0l-1.5-3.1l-1.5-4.4l-1.5,3.4l-1.5,5.7l-1.5,3.5l-1.5-3.9l-1.5-1.6l-1.5,.4l-1.5-.5l-1.5,5.4l-1.5-1.2l-1.5,.5l-1.5,3.2l-1.5-2.7l-1.5-3l-1.5,2.9l-.9,.6l-.6-.4l-1.5-.7l-1.5-.3l-1.5,.2l-1.5-.4l-1.5,3.3l-1.5,3.2l-1.5,3.6l-1.5-2.7l-1.5,.2l-1.5-2.7l-1.5-1.3l-1.5-.9l-1.5,.5l-1.5-1.1l-1.5-1.2l-1.5,1.7l-1.5,0l-1.5-3.5l-1.5,.3l-1.5,.8l-1.5-.2l-1.5-.5l-1.5,.7l-1.5,.9l-1.5-.1Z" fill="#75147C" fill-opacity="0.2"/>
<path d="M1811.0,1013.1l2-.2l2,0l2,.3l2,.4l2-.5l2,.4l2-.9l2-.3l2,.7l2,0l2-.8l2,1.1l2-.6l2-.4l2,1.3l2-1l2,1l2-.3l2-.3l2,.3l2,.4l2-.2l2-1.2l2,.4l2,.7l2,.4l2-.7l2,.8l2-.7l2,.6l2,.6l2-1.3l2,1l2-.6l2-1.1l2,.9l2-1.2l2,1.3l2,.5l2,.3l2-1.1l2,.4l2-1.6l2,0l2,.3l2,.3l2-1.5l2,1.9l2,.2l2-1.4l1.6,.1l.4-.1l2-1.2l2,.1l2-.9l2-1.5l2,1.7l2-1.4l2-.9l2-.7l2-.1l2,.1l2-.3l2-1.4l1-.2l1-.2l2,.5l2-.3l2,.2l2-1.3l2-1.3l2-.6l2,.1l2-1.5l2-1.2l2-.4l2-.7l2,.5l.4,0l1.6,.4l2-1.2l2-1l2,1.7l2-1.4l2-1.3l2-.1l2-.4l2-.5l2,0l2-.9l2,.3l1.8-.2l.2-.2l2,.3l2,.4l2-.8l2-.4l2-.2l2-1l2,1.4l2-.9l2,0l2,.1l2,.6l2,0l1.2-.5l.8-.2l2-.3l2,.3l2-1l2-1.6l2-.3l2-.6l2-.1l2-1.5l.9-.5l1.1,1.3l2,.4l2-1.2l2,1.8l2-.3l2-.4l2,.8l2,1.2l2,.2l2,.7l1.2,.5l.8-.1l2-1.2l2-1.1l2,.4l2-2.6l2,.4l1.9,1.7l.1,.1l2-2l2,.1l2,1.2l2,.4l2,.3l2-.1l2,.9l2-.6l2,1.4l2,.1l2,.1l2-.4l1.3-.6l.7,0l2,.6l2-.1l2-1.3l2,.4l2,1.3l2-1.5l2-.3l2-.1l2,.2l2,.3l2-1.3l2,0l.7-.5l1.3-.7l2,1.2l2-.2l2-.5l2-.8l2,1l2-.6l2-1.1l2,1.6l2-1.7l2-.3l2-.9l2,0l2,.1l2,.9l2-.3l2-.4l2-1.2l2,.8l2-.7l2-.7l2-.3l2-.3l.2-.2l1.8-.5l2,1.6l2,.4l2,1.2l2-.3l.4-.1l1.6-.4l2,.3l2-.9l2,.4l2,.1l2-.5l2-.7l2,.3l2-1.1l2,.3l2,.1l2,.6l1.8,.5l.2,.1l2,.4l2-.4l2-.4l2-1l2-.5l2,.9l2-1l2,.8l2-1l2,2l2,.3l2-.5l2-.1l2-1.9l2-.6l2,1.9l.8,0l1.2,.1l2,.4l2,.4l2,.3l2,.3l2-.3l2,0l2,.9l2-.8l2-1.8l2,.3l1.6,.8l.4,.3l2-.3l2,1.5l2-.8l2,.2l2-1.3l2,.6l2,0l2-.2l2,0l2-.6l2,.6l2-.4l2-1.8l2,.4l2-1.4l2,1l.7-.4l1.3,.1l2-.7l2,.6l2,1.6l2-.8l2-.4l2,1.9l2-.8l2,.1l2,.2l2,.2l2,.7l2-1.4l2-.1l.6,0l1.4,.4l2-1l2-.7l2-1.4l2-.1l2,.1l2,.7l2-2.3l2,1.3l2,.5l2-.4l2-1l2-.4l0,0l2,.1l2-.4l2-.5l2,.9l2-1.2l2,.5l2-1l2,.7l1.8-.8l.2-.3l2-.7l2,.9l2-1.4l2,0l2-.8l2-.4l2,1.3l2-1.3l1.5-.6l.5-.3l2-2.2l2,1.5l2-1.8l2-1.9l2-.3l2-1.3l.2,0l1.8,.9l2,1.1l2,.5l2-.2l2,.8l2,.4l.9,.8l1.1-.7l2-1.6l2-1.4l2-.9l2-1.5l2-.5l1.6-.6l.4,.1l2-1.1l2-.6l2,0l2-1.4l2-.7l2,.9l.3-.5l1.7-3.2l2-.8l2-.2l2-2.4l2-2.6l2-1.7l2-.1l1.6-.9l.4,.1l2,.7l2,.1l2,.5l2,.5l1.7,0l.3-.2l2-1l2-.3l2-1l2-1.4l2-2.1l2-.4l.4-.1l1.6-1.1l2-1.5l2-.3l2-1.6l2-.8l2-1.5l1.1-.9l.9-1.1l2-.7l2-1.6l1-.9l0,55.9l-1-.1l-2-1.5l-2-.1l-2,1.7l-2,0l-2,0l-2-1.2l-2,1.3l-2,.7l-2-.7l-2-.9l-2,.6l-2,.8l-2,1.1l-2-1l-2-1.3l-.3,.2l-1.7,1.3l-2,1.2l-2-.3l-2-.3l-2,.6l-2-.3l-2,.3l-2-1l-2,.8l-2-.5l-2,1.8l-2-.4l-1.7-.1l-.3-.2l-2-.8l-2,1.1l-2,.4l-2-.5l-2,.1l-2,.1l-2,1.1l-2-.9l-2,.2l-2-.3l-2,.5l-2-.6l-1.1,.4l-.9,.6l-2-.6l-2,.1l-2,.5l-2,.2l-2-.1l-2-.8l-2-.1l-2,.3l-2-.6l-2,0l-2,.7l-2,1.3l-.5-.4l-1.5-.8l-2-.8l-2,1l-2,.9l-2-1.1l-2,.8l-2-.8l-2-.5l-2,1.8l-2-1.2l-2,.4l-2-.6l-1.8,0l-.2,.1l-2,0l-2-1l-2,.4l-2-.5l-2-.6l-2-1.6l-2,2.2l-2-1.1l-2-.2l-2,1.2l-2,1.8l-2-1.1l-1.2,.1l-.8,.2l-2,.3l-2,.7l-2-.5l-2-.7l-2,1.9l-2-.2l-2,.6l-2-.2l-2-.3l-2,1.8l-2,.8l-2-.7l-.6,.3l-1.4,.1l-2,.6l-2-.1l-2,0l-2,.3l-2,.9l-2,.1l-2,1.3l-2-.6l-2-.2l-2,.1l-2,1l-2-.2l-2-.5l-2,.4l-2,.1l-2,.2l-2,.2l-2,.5l-2-.5l-2,1.4l-2,1.2l-2-1.6l-2,.5l-2,.5l-1.4-.6l-.6-.3l-2,1.5l-2-.3l-2-1.2l-2,1.6l-2,1.2l-2,.2l-2-.1l-2-.5l-2,.6l-2-1.3l-2,.2l-2,.5l-2,1.7l-2,0l-2-.6l-2,.4l-2,.4l-2-.7l-2,1.1l-2,.3l-2,.2l-2-.7l-2,.3l-2,.2l-2,.5l-.2,0l-1.8-.5l-2,0l-2-.4l-2,1l-2-.2l-2-.2l-2-.5l-2-.3l-2,1.6l-2-.8l-2-.9l-2,.6l-2,.4l-2-.1l-2-1.7l-2,0l-2,1l-2,1.1l-2-.5l-2,0l-2,1.4l-2-.3l-2,1.1l-2-.2l-2-1.3l-2,.1l-2,.2l-2,.2l-2,.3l-2,.7l-2-.1l-2-.7l-2,1.1l-2,.8l-2,0l-2-2.3l-2,1.6l-2-.5l-2-.6l-2,.6l-2,1l-2-1.2l-2-.3l-2-.6l-2,1.5l-2,.4l-2-1l-2,.6l-2,.6l-2-1.5l-2,1.9l-2-1.2l-2-.7l-2,.3l-2-.2l-2,2.1l-2-.1l-2,.6l-2-1.7l-2,.3l-2,.7l-2,.3l-2,1.2l-2-1.2l-2-1.1l-2-.1l-.1,0l-1.9,.7l-2,0l-2,.5l-2,.8l-2-.5l-2-.5l-2,.7l-2-1.4l-2,1l-2-.3l-2,.3l-2,.1l-2,0l-2,.3l-2,.7l-2-1.8l-2,.6l-2,.6l-2-.1l-2,.9l-2,.4l-2-1.2l-2,.2l-2,0l-2,.7l-.8-.7l-1.2-.4l-2-1.6l-2,1l-2,.1l-2-.6l-2,1.5l-2-.4l-2,.8l-2,.2l-2-.3l-2,.1l-2,.3l-2,1.1l-2,.3l-2-.4l-2,.7l-2-.6l-2-.1l-2,.9l-2-1l-2,.4l-2-1.5l-2,2l-2-.5l-2-.2l-1.6-.5l-.4,0l-2,.9l-2,0l-2-.5l-2-.2l-2,.3l-2,.3l-2,.1l-2,.6l-2-1l-2-.2l-2,1.1l-2-.7l-2,1.4l-2-.5l-2,.1l-2-1l-2,.6l-2,.1l-2-.7l-2-.3l-2,.5l-2,1.3l-2-.4l-2,.3l-2-.1l-.4-.2l-1.6-.5l-2,.4l-2-1.2l-2,.7l-2,.3l-2,.3l-2,.8l-2,0l-2-.6l-2,.1l-2,.3l-2,0l-2,.6l-2-1.6l-2,.7l-2-.5l-2,.2l-2,1.3l-2-1.9l-2-.1l-2,.2l-2-.4l-2,1.1l-2-.9l-2,.4l-2,.2l-2,.1l-2-.2l-2,.8l-2,.1l-2-.2l-2,0l-2,.6l-2-.3l-2-.1l-2-.5l-2,1.5l-2-.6l-2-.2l-2-.9l-2,1.7l-2,0l-2-.8l-2-.4l-2,.3l-2,.6l-2-.6l-2,.1l-2,0l-2,.1l-2,.2Z" fill="#3A7D22" fill-opacity="0.2"/>
<path d="M1811.0,1013.3l1.5-.1l1.5-.1l1.5,0l1.5,.9l1.5,.5l1.5,.2l1.5-.2l1.5-.3l1.5,.4l1.5-2.4l1.5-.2l1.5,.6l1.5,.3l1.5,.3l1.5-3.5l1.5,.4l1.5,2.2l1.5,2.5l1.5-3l1.5-2.7l1.5-1l1.5,1.6l1.5,2.2l1.5,1.6l1.5,.8l.6-.2l.9-1.5l1.5,1.3l1.5-.3l1.5,.5l1.5,1.7l1.5-2.7l1.5-2.2l1.5-1.3l1.3,0l.2-.2l1.5-1.3l1.5,1.5l1.5-.1l1.5-3.9l1.5-4.3l1.5-.1l1.5,3.3l1.5-2.7l.5,.1l1,.4l1.5-1.7l1.5-1.8l1.5-3.6l1.5-1.7l1.5,1.1l1.5-.7l1.5-2.9l1.2-1.1l.3,1l1.5,1.8l1.5-3.5l1.5-3.4l1.5-2l1.3-1.7l.2-.4l1.5-.3l1.5,.5l1.5,.8l1.5,.9l1.5-4.6l1.5,3.5l1.5-2.3l1.5,.1l.5-.4l1-.3l1.5,1l1.5-.4l1.5,1.4l1.5,2.3l1.5-2.5l1.5-1.9l1.5-1.8l1.5-.8l1.5-1.2l1.5,1l1.5,2.6l.3,0l1.2-3.7l1.5-5.8l1.5-2.2l1.5-4l1.5-2.9l.4-.6l1.1-2.1l1.5,.9l1.5,1l1.5-1.1l1.5-1.5l1.5-1.2l1.5-6.9l0-.2l1.5-1.1l1.5,2.4l1.5-1.5l1.5-.9l1.5-2.2l1.5-1.9l1.2,1.6l.3-.1l1.5-1.8l1.5-4.5l1.5-3.5l1.5-7l1.5-.5l1.5-4.4l.9-1.7l.6-1.4l1.5-4.8l1.5-4l1.5-2.9l1.5-7.2l1.5-4.8l1.5-3.7l.5-.7l1,9.1l1.5,13.9l1.5,10.7l1.5,6.5l.9,5.8l.6-1.4l1.5-6.5l1.5-1.4l1.5-4.8l1.5-4.7l1.5-4.3l.8-4.8l.7-3.7l1.5-4l1.5-1.6l1.5-4.6l1.5-1l.9-2.3l.6-1.1l1.5-4.9l1.5-2.8l1.5-2.6l1.5-.9l1,1.2l.5,0l1.5-2l1.5,0l1.5-.2l1.5-1.2l1.1-2.4l.4-.2l1.5,2l1.5,1.4l1.5-.1l1.5,2.8l1.5,.5l1.5,2.2l.8,1.4l.7,.7l1.5-1.3l1.5-2.3l1.5,4l1.5,1.1l1.5-2.9l1.5-1.9l1.5-1.7l1.5,1.3l0,0l1.5-1.7l1.5-5.3l1.5-3.8l1.5-1.9l1.5,.7l1.5-2.8l1.1-4.7l.4-1.9l1.5-.7l1.5-.7l1.5-3.1l1.5-.4l1.5-4l1.5-2.4l.8-1.5l.7-1.4l1.5-2.8l1.5-3.7l1.5-2l1.5-4.7l.9-.8l.6,.4l1.5-1.4l1.5-3.6l1.5-5.9l1.5-.7l1.5,1.7l1.5-6.2l1.5,.5l1.5-.6l.1-.2l1.4-2.7l1.5-.9l1.5-.8l1.5-1.4l1.5-5.6l1.5-.6l1.5,.1l1.5-1.3l.8-.4l.7-1.6l1.5-5.3l1.5-2.9l1.5-2.9l1.5-1.9l1.5,1l1.5-2.2l1.5-1.9l1.5-5.5l0,0l1.5-1.8l1.5-.6l1.5,1.2l1.5-2.4l1.5-1.2l1.5-3.3l1.5-1.3l1.5,.8l1.5-1.1l1.5,.1l.2-.3l1.3-3l1.5-1.3l1.5-3.4l1.5-4.9l1.5-3.3l1.5-1.9l1.5,0l1.5-1.9l.9-1.1l.6,.1l1.5-1.7l1.5-1.6l1.5-2.2l1.5-.7l1.5,.3l1.5-5.7l1.5-.4l1.5-1.5l.1-.5l1.4-3.8l1.5-1l1.5-4.2l1.5-4.6l1.5-3.6l1.5,.2l1.5-1.4l1.5-4l1.5-6.1l1.5,.7l.2,0l1.3,2.4l1.5,1.6l1.5-2.7l1.5-1.7l1.5,3.2l1.5-1.6l1.5,.9l1.5-2.4l1.5,1.3l1.5,.9l.4,0l1.1-.7l1.5-1.2l1.5,2.2l1.5-.1l1.5,.1l1.5,2l1.5,.1l1.5-3.3l1.1-2.2l.4-.6l1.5-2.2l1.5-2.3l1.5,5.1l1.5-2.9l1.5-4.4l1.5-2.6l1.5-1.7l1.5,2l.3,.4l1.2-1.5l1.5-3.9l1.5,4.2l1.5-1.9l1.5-4l1.5-1.5l1.4-.6l.1,.1l1.5,2.4l1.5-3.1l1.5,.3l1.5-.6l1.5,.9l.1,.1l1.4,1.2l1.5-.7l1.5-4.3l1.5,.2l1.5,1.6l.2,.5l1.3,3l1.5-2.7l1.5-1.4l1.5,1.5l1.5,5.1l1.5-.5l1.5-2.4l1.5,1.2l.9-1.4l.6-.8l1.5,.3l1.5,.7l1.5-3.9l1.5-1.3l1.5,2l1.5,.5l1.5-1.5l1.5,.6l.1,0l1.4,1.6l1.5,2.3l1.5-1.8l1.5,2.6l1.5-2.5l1.5-4.3l1.5-.5l1.5,2.7l.8,.2l.7-.7l1.5-2.2l1.5-2.9l1.5-1.3l1.5,.4l1.5,1.8l1.5-1.6l1.5-7.3l1.5-.9l0,.1l1.5,4.8l1.5,2l1.5-1.5l1.5,3.6l1.5,1.6l1.5-1.5l1.1-.6l.4-.6l1.5-1.3l1.5,.9l1.5-3l1.5-.1l1.5,2l1.5-3.3l.8-1.5l.7,1.4l1.5-1.5l1.5-2.7l1.5-2.5l1.5,4l1.5-2.7l1.5,2l.4,0l1.1-2.3l1.5-2.5l1.5,1.9l1.5,1.2l1.5-2.9l1.5-.6l1.5,.7l.1,0l1.4-1.2l1.5-.1l1.5-1.6l1.5,2.8l1.5-.7l1.5-3l1.3,1.8l.2,.5l1.5,.2l1.5-3.8l1.5,.9l1.5,0l1.5-.4l1.5-1.3l1.5-.5l1.5,.6l1.5-.1l1.5-1l0,0l1.5,3.4l1.5-1.1l1.5-.8l1.5-1.8l1.5-.9l1.5,3.4l1.2,1.6l.3,0l1.5,.8l1.5-1.2l1.5-1l1.5-2.2l1.5-2.7l1.5,0l1.5,0l1.5,1.3l1.5-2.2l1.4-1.2l.1,0l1.5,.9l1.5-.9l1.5-1.4l1.5,3.3l1.5-1.1l1.5-.8l1,.1l.5,.7l1.5,2l1.5-1.7l1.5-5.2l1.5,1.6l1.5,1l1.5,1.1l1.5-1.7l1.5-2l.2,0l1.3-.8l1.5-2l1.5,3.7l1.5-5.9l1.5,.2l1.5-.4l1.5-.6l1.5,2.5l.9,.2l.6,.7l1.5,2.6l1.5-2.2l1.5-.7l1.5,2.4l1.5,1.5l1.5-2.6l1.5-.1l1.5-.7l.1-.2l1.4,.7l1.5,.6l1.5-1.3l1.5-.2l1.5-3.7l1.5,3.7l1.5,1.5l1.5-.4l.8-1.5l.7-1.3l1.5,1.7l1.5-.2l1.5,1.5l1.5-.5l1.5,2.4l1.5-.2l1.5-1l1.5-.9l0,0l1.5-1.6l1.5,2.3l1.5-2l1.5-5.5l1.5,.6l1.5,3.5l1.5-1.4l1.5,1.9l.7-1.4l.8-2.3l1.5-2.9l1.5,2.3l1.5,1.9l1.5-1.3l1.5-2.2l1.5-.8l1.5,3.1l1.5-1.1l1.5-.3l1,1.1l.5-.8l1.5-1.3l1.5,2.4l1.5-.2l1.5-1.1l1.5-3.7l1.5-.2l1.5,1l1.5-.9l1.5-2.1l1.5,0l.5,.6l0,57.5l-.5,1.1l-1.5,.6l-1.5-.8l-1.5-1.4l-1.5-1.1l-1.5-2.8l-1.5,.2l-1.5,.1l0,.1l-1.5,.1l-1.5-.6l-1.5,2.5l-1.5-1.2l-1.5,4.4l-1.5,3.7l-1.1,0l-.4-.3l-1.5-2.4l-1.5-.3l-1.5,4.7l-1.5-4.1l-1.5-3.9l-1.5,2.5l-.8,1.2l-.7,1.5l-1.5-1.1l-1.5,2.4l-1.5-2.2l-1.5-.5l-1.5-.2l-1.5,2.1l-.4-.3l-1.1-.7l-1.5,2.8l-1.5,2.6l-1.5-1.8l-1.5-.3l-1.5,2.1l-1.5,3.7l-.1,.1l-1.4-1.8l-1.5-1.4l-1.5-2.2l-.7,.2l-.8,1l-1.5-.2l-1.5,.9l-1.5,.4l-1.5,1.4l-1.5-.8l-1.5,2.5l-1.5-2.2l-1.4-.8l-.1,.4l-1.5,3.4l-1.5-1l-1.5-.1l-1.5,.5l-1.5,4.2l-1.5-.1l-1.5-1.7l-1.5,.2l-.6,.4l-.9,1.8l-1.5,1.2l-1.5-3.4l-1.5-.1l-1.5-1.9l-1.5,1.6l-1.5,3.4l-.2-.5l-1.3-1.1l-1.5,2l-1.5-.2l-1.5-3.8l-1.5,0l-1.5,1.9l-1.5,.5l-1.5,2.9l-1.5-2l-1.5-1.8l-.5,.6l-1,2.1l-1.5,.9l-1.5-3.9l-1,.8l-.5,1.3l-1.5-1l-1.5-4.7l-1.5,2.6l-1.5,3.4l-1.5-.7l-1.5-.6l-.7-.2l-.8-1l-1.5-.7l-1.5,2.4l-1.5-1l-1.5-3.7l-1.5,.4l-1.5,2.8l-.3-.4l-1.2,.7l-1.5,5.3l-1.5,2l-.9,2.9l-.6,1.3l-1.5,1.9l-1.5,1.4l-1.5,3.3l-1.5,.9l-1.5,1.2l-1.5,.8l-.6-1l-.9-2.1l-1.5,.8l-1.5-2.2l-1.5-.5l-1.5-4.1l-.7,.4l-.8,3.1l-1.5,4.8l-1.5,.8l-1.5,.2l-1.5,3.6l-.8,1.6l-.7-3.2l-1.5-7.1l-1.5-5.5l-1.4-3.2l-.1,.3l-1.5,5.4l-1.5-.3l-1.5,.3l-.5-.7l-1-.3l-1.5,2.8l-1.5-1.3l-1.5-.2l-1.5,5.8l-1.5,.7l-1.5,.6l-.1,.2l-1.4-2l-1.5,1.2l-1.5,4.1l-1.5-1.8l-1.5-.7l-1.5,2.5l-1.5,1.3l-1.5-.1l-1.5,2.5l-1.5,3.1l-.4-.4l-1.1-1.2l-1.5-.4l-1.5-2.1l-1.5-4.2l-1.5-1.3l-.5-1.4l-1,.7l-1.5,3.8l-1.5-.2l-1.5,2.8l-1.5,.7l-.6,1.5l-.9,3.4l-1.5-1.7l-1.5-1.9l-1.5,2l-1.5,1.8l-1.5,3.1l-1.5,2.2l-1.5,.3l-1.3,3.5l-.2,.6l-1.5,1.1l-1.5,.5l-1.5-2l-1.5-3.8l-1.5,2.4l-1.5-4.4l-1.5-1.2l-1.5,3.4l-.5-.2l-1-1.3l-1.5-2.2l-1.5,2.2l-1.5-.3l-1.5,3.3l-1.5,1.1l-1.5-.9l-1.5,4.1l-1.2,.8l-.3,.3l-1.5,1.5l-1.5,.5l-1.5,.3l-1.5,3.7l-1.5-2l-1.5,.8l-.9,1.1l-.6,1.2l-1.5,2.2l-1.5,1.7l-1.5,.4l-1.5-2.1l-1.5,4.5l-1.5,4.5l-.5,1.5l-1,2.2l-1.5,.7l-1.5-2.5l-1.5,1.2l-1.5,4.7l-1.5,4l-1.5,.6l-1.5-1.7l-1.2-1.8l-.3,.1l-1.5,4.6l-1.5,5.7l-1.5,.4l-1.5-.1l-1.5,1.1l-1.5,2.3l-1.5,.6l-1.5,1.3l-.4,.7l-1.1,1.4l-1.5,.9l-1.5,1.3l-1.5,1.2l-1.5,1.9l-1.5,1.6l-1.5-.8l-.1,.2l-1.4-.4l-1.5-4l-1.5-1.5l-1.5-5.2l-1.5,1.1l-.2,.5l-1.3,6.2l-1.5,4.7l-1.5,3.6l-1.5,6.4l-1.5,7.5l-.3,.5l-1.2,1l-1.5,3l-1.5,4.7l-1.5,2.8l-1.5,4.4l-1.5,1.9l-.2,.3l-1.3-1.1l-1.5,.8l-1.5-.5l-1.5-3.7l-1.5-1.2l-1.4,.1l-.1,.2l-1.5,2l-1.5,3.5l-1.5,1l-1.5,3l-1.5,1.6l-1.5-.1l-1-1l-.5-.5l-1.5-.1l-1.5-1.3l-1.5-2l-.1-.4l-1.4,1.1l-1.5,2.4l-1.5,3.1l-1.5,.6l-1.5,5.9l-1.5,1.6l-1.3,7.5l-.2,.9l-1.5,2.2l-1.5,.4l-1.5,3l-.4,.7l-1.1,1.6l-1.5,2.7l-1.5-.9l-1.5,2.1l-1.5,2.1l-1.5,.9l-1.5,4.7l0,0l-1.5,4.8l-1.5,1.6l-1.5,.2l-1.5,2.8l-1.5,6.3l-.1,.6l-1.4,7.1l-1.5,4.1l-1.5,5.1l-.7,1.6l-.8-1.8l-1.5,1.4l-1.5,2.2l-1.5,.4l-1.5,.6l-.8,2.4l-.7,3.9l-1.5,6.4l-1.5,1.4l-1.4,4l-.1,0l-1.5,1.7l-1.5,1.6l-1.5,1.8l-1.5-1.4l-1.5,.2l0-.1l-1.5,3l-1.5,3.8l-1.5-.3l-1.5-.5l-1.5,1.8l-.1,.5l-1.4-1.7l-1.5-5.8l-1.5-2.4l-1.5,0l-1.5-6.4l-1.5-3.5l-1.3-8.1l-.2,0l-1.5,5.8l-1.5,6.1l-1.5,.4l-1.5,5.4l-1.5,3.1l-1.5-1.9l-1,1.5l-.5,1.3l-1.5,3.4l-1.5,1.6l-1.5,5.3l-1.5,3.1l-1.1,1.6l-.4-1.5l-1.5-6.5l-1.5-1.6l-1.5-2l-.2-.4l-1.3-.9l-1.5,.9l-1.5,1l-.7-.5l-.8,1l-1.5-1l-1.5,1.4l-1.5-1.7l-1.5,1.8l-.8,2l-.7,1l-1.5-2.9l-1.5-2.6l-1.5-1.5l-1.5,1.1l-1.5,.2l-1.5-3.5l-.5,.2l-1,11.2l-1.5,13.2l-1.5,11.7l-1.1,8.7l-.4,1.2l-1.5,5.5l-1.5-2.2l-1.5,.8l-1.5,1.3l-1.5-2.5l-1.5,4.1l-.7,.7l-.8-1l-1.5-3.2l-1.5-2.2l-1.5,1.5l-1.5-2.8l-1.5,.4l-.6,.4l-.9,.3l-1.5-5.2l-1.5-2.1l-1.5,.2l-1-2l-.5-1.3l-1.5-.1l-1.5,.2l-1.5-1l-1.5,2.3l-1.5,.6l-1.5,2.4l-.6-1.5l-.9-1.4l-1.5-4.6l-1.5,2.1l-1.5,5.8l-1.5-1.4l-1.5,3.4l-1.5,1.9l-.3-1.1l-1.2-3.2l-1.5,3.9l-1.5,1.1l-1.5-3.1l-1.5-4.9l-1.5,1.3l-1.5,4.2l-1.5-1.4l-1.5,.7l-1.5-1.5l-.5-.3l-1,1.4l-1.5,3.2l-1.5,1.1l-1.5-1l-1.5,.6l-1.5-1.2l-1.5,.5l-1.5,2.5l-1.2,.4l-.3-.1l-1.5-.5l-1.5,2.9l-1.5-.8l-1.5-1l-1.5,.8l-1.5-1l-1.5,1.1l-1.5,4l-.4,.7l-1.1,2.2l-1.5,1.7l-1.5-1.1l-1.5-.3l-1.5-1.6l-1.5,.4l-1.5,1.4l-1.5,1.8l-1.1-4l-.4-.8l-1.5-.1l-1.5-.9l-1.5-2.5l-1.5,3.5l-1.5,.1l-1.5,1.6l-1.5,5.2l-1.5-1.6l-.3-.7l-1.2,0l-1.5-.6l-1.5,3.3l-1.5,1.3l-1.5-1.8l-1.5,2.2l-1.5-.2l-1.5-4.4l-1,1.6l-.5,1.9l-1.5,2.7l-1.5-.8l-1.5-1.8l-1.5,3.9l-1.5-.1l-1.5-2l-1.5,.1l-1.5-1.5l-1.5-1.3l-1.5,2.4l-1.5-2.6l-1.5,1l-1.5-2.4l-1.5-2.2l-1.5,4.3l-1.5,2.5l-.9,.8l-.6-.1l-1.5-.4l-1.5,1.1l-1.5,.9l-1.5-.9l-1.5,.8l-1.5-2.2l-1.5,.8l-1.5,.1l-1.5-3.1l-1.5,1.2l-1.5,.2l-1.5-1.9l-1.5,1.2l-1.5,2.9l-1.5-.6l-1.5-.2l-1.5-.9l-1.5-.9l-1.5,.5l-1.5,1.1l-1.5,.3l-1.5-.1l-1.5-.7l-1.5,.7l-1.5,0Z" fill="#E83323" fill-opacity="0.2"/>
<path d="M1811.0,1013.5l3,0l3,0l3-.1l3-.1l3,.2l3-.2l3,0l3,.1l3,.1l3-.2l3,.1l3,0l3,0l3-.4l3,.4l3-.2l3-.4l3,.2l3,.2l3,0l3-.1l3-.1l3-.2l3,0l3,0l1.2,.1l1.8,.1l3-.1l3-.2l3-.1l3,0l3-.6l3,.2l3-.4l3,.4l3-.3l3-.3l3,0l3-.1l3,0l3-.3l3-.3l3-.1l1,.1l2-.2l3,.2l3,.2l3-.3l3,.2l3-.1l3-.3l3,.2l3-.2l3-.2l3,.2l3-.1l3,.1l3,.1l3-.2l3,.1l3-.1l.8,.2l2.2,0l3-.1l3-.1l3-.2l3-.2l3-.1l3,.1l3-.1l3,.1l3,0l3-.1l3,0l3-.1l3,.1l3,.2l3-.3l3,.3l3,0l3-.2l3-.1l3,0l3,.1l3-.2l3,.1l3-.2l1.9,0l1.1,0l3-.3l3,.2l3,.2l3-.2l3-.1l3-.1l3-.1l3-.3l3,.2l3,.1l3-.4l3,.2l3-.3l3,0l3,0l3-.1l3,0l3,.1l3-.3l3-.1l3,.1l3-.1l3-.3l3,.4l3-.4l3,.3l3-.2l3-.2l3-.1l3-.3l3,.4l3,.1l3-.4l3,.2l3,.1l3-.2l3-.2l3,.2l3-.1l3-.3l3,.2l3-.2l3,.1l3,0l3-.5l3-.3l3,.2l3,0l3-.1l3,0l3,.1l3,0l3-.1l3-.2l1.8-.1l1.2,0l3-.1l3-.1l3,.2l3-.1l3-.1l3-.1l3,.1l3-.1l3-.2l3-.2l3,.2l3-.1l3-.1l3,0l3-.1l3-.1l3,0l3,.1l3-.3l3,.3l3-.5l3-.1l3,.2l3-.1l3-.1l3,.3l3-.1l1.6-.2l1.4,.1l3-.2l3-.2l3-.1l3-.1l3-.1l3,.1l3,.1l3-.3l3,0l3-.3l3,.2l1.2-.1l1.8-.1l3-.1l3,.1l3-.2l3-.1l3-.2l3,0l3-.1l3-.1l3,0l3,0l3-.2l3-.3l3,.1l3-.1l3-.1l3-.1l.9-.1l2.1-.1l3,0l3,0l3,.1l3-.4l3,0l3,.1l3-.2l3-.2l3,.1l3,0l3-.1l3-.3l0,0l3,0l3,0l3-.1l3-.1l3,.2l3-.2l3,0l3,0l3,0l3-.3l3,0l3,0l3,0l3-.2l2-.1" fill="none" stroke="#0000FF" stroke-width="2.15" stroke-linejoin="round" stroke-dasharray="1.80 2.97"/>
<path d="M1811.0,1013.8l1,0l1-.2l1-.1l1,.1l1,.1l1-.1l1,0l1,.4l1,0l1-.1l1-.4l1-.5l1-.3l1,0l1,.1l1,.4l1,.2l1,.2l1-.1l1,.5l1,.1l1,0l1-1.4l1-.4l1,.5l1-1l1-.4l1,1.7l1,.9l1-.1l1-.9l1-1.8l1,.4l1,1.1l1-.6l.6-.4l.4-.5l1,.1l1-.9l1-.6l1-.7l1,.4l1-.3l1-1.1l1-.7l1-1.7l1,.1l1,.1l1-2.1l1-1.3l1,.5l.8,.4l.2,0l1-.9l1-.6l1-.4l1-1.4l1-2.1l1-1.6l1-1.6l1-.6l1,.5l.9-.9l.1-.1l1-1.7l1-2.8l1-3l1-2l1-3.2l1-2.9l1-2l.6-1l.4-1.3l1-3.9l1-4.7l1-3.3l1-4.2l1-4.6l1-3.8l1-3.4l.2-.6l.8-1.7l1-2.6l1-2.4l1-2.3l1-3.6l1-2.6l1-2.3l.3-1.1l.7-1.9l1-1.9l1-.4l1-.9l.6-1.2l.4-1.9l1-5.8l1-5.1l1-4.9l.4-1.2l.6,0l1-.7l1-3l1-2.1l1-1.7l.5-.7l.5-.6l1-1.1l1-.6l1-.4l1-2l.6-1l.4,.1l1,1l1,.9l1,.8l1,2.3l1,1.4l1-.3l1-.4l.2,.1l.8,.2l1,.7l1,.3l1,.7l1,1.4l1,.5l1,.8l.8,.6l.2-.2l1-1.7l1-1.5l1-1.8l1-1.2l.9-.6l.1,.2l1,1l1,.9l1,1l1,1.6l1,1.8l1,1.4l1,.7l.5,.6l.5,.4l1,.7l1,1.5l1,1l1-.8l1,1.1l1,1.9l1,.7l1,.6l.4,.9l.6,3.1l1,4.2l1,2.3l1,3.6l1,5.1l1,4.2l.7,1.8l.3-.1l1,.7l1,1.8l1,.4l1-.6l1,1.5l1,2l1-.9l.4,0l.6-1l1-.2l1-1.1l1-.9l1,1.3l1,1.9l1-.8l1-1l0-.1l1-.8l1-1.6l1-1.2l1-.6l1-.5l1-.9l1-1.2l1-.5l1-.6l1-1.1l.1-.2l.9-3.6l1-2.5l1-2.7l1-4.6l1-4.3l1-4.1l1-2.6l.8-2.3l.2-.6l1-2.9l1-1l1-1.8l1-2.4l.8-1.6l.2-.1l1-1.4l1-2.1l1-2.1l1-.7l1-1.5l1-1.8l1,0l1,.1l1-1.8l1-2.6l0,0l1,1.1l1,1.1l1,2.3l1,2.7l1,1.6l.1,.1l.9,1.2l1,.6l1-.1l1,0l1-.6l1-.1l1,.4l1,.6l1,.9l1,.9l.2,.1l.8-2.1l1-1.5l1-1.3l1-3.1l1-4.7l.3-1.4l.7-3.7l1-4.3l1-2.5l1-3.1l1-3.2l.4-.7l.6,1.8l1,.9l1-.6l1,.8l1,2.2l.5,.5l.5-.5l1-.3l1,.2l1-.3l1-.8l1-.2l1-1.1l1-.7l1-1.4l1-.8l1,0l1-1.1l1-1.2l.2,.1l.8-.3l1-1.7l1-4.1l1-1.7l1-.6l1-1.4l1-1.7l1-.7l1,0l0-.1l1-.4l1,0l1-.8l1-1.4l1-.9l.1,0l.9,2.5l1,3.2l1,2.2l1,2.7l1,2.4l.2,.6l.8-.6l1-.9l1-1.4l1-1l1-.3l1-1.4l1-.8l1-.8l1-.7l.1-.1l.9-2.9l1-2.6l1-3.2l1-3.8l1-2.8l.2-.4l.8,1.2l1,0l1-.6l1-.5l1,.6l1,.7l1,1.8l.8,.2l.2-.4l1-3.2l1-2.8l1-1.6l1-.8l1-1.5l1-1.5l.1-.4l.9,1l1,1l1,1.2l1,2l1,1.2l1,.7l.5,.4l.5-.6l1-.7l1-.6l1,.2l1,.1l1-1l1-.7l1-.6l1-.4l1,.1l.6,.5l.4,.3l1,0l1-.7l1-.2l1-.3l1-.5l1-.6l1-1.9l.3-.3l.7-1.5l1-2.2l1-1.3l1,.7l1,.2l1-.9l1-1.8l.9-1.1l.1,0l1-.9l1-.8l1,.9l1-.6l1-.9l1-.6l1-1l1,0l1,.2l1,1.2l0,0l1,.9l1,1.1l1,1l1-.7l1,0l.1,.1l.9-1.1l1,.3l1,1.2l1-.8l1-3.3l1-2.5l1-.2l1-.8l1-2.3l1-2.9l1-1l1-.1l.6,.1l.4,.4l1-.1l1-1.5l1-1l1-.6l1-1.3l1-.3l0,0l1,2.6l1,1.5l1,.4l1,.1l1,1l1,1.6l1,2l1,2.5l.8,2.1l.2,.1l1-.4l1-1l1-.3l1-.3l1-1.4l1-1.9l.2-.2l.8,1.4l1,2.8l1,2.8l1,2.5l1,1.7l1,1.2l1,1.6l1,2l1,1.9l.1,.2l.9,1.8l1,2.5l1,2.9l1,2.6l1,.9l1,.9l.4,.8l.6,.4l1,.3l1,1.7l1,1.9l1,1.1l1,.4l1,1.2l1,.9l.1,0l.9-2.9l1-2.4l1-.8l1-1.7l1-3.8l1-1.9l.4-.9l.6-.8l1-2.8l1-1.2l1-.4l1-1.4l1-3.4l1-3.2l1-.1l0,0l1-.6l1-2.4l1-1.7l1-1.1l1-2l1-2.6l1-1.9l.6-1.1l.4,.4l1-.5l1-.4l1-.5l.4,0l.6,1.2l1,2.4l1,2.2l1,3l1,2.9l1,2.3l.3,.8l.7-1.8l1-2.6l1-3l1-2.4l1-4l1-3.1l1-1.7l1-1.6l.4-1.2l.6-.7l1-.2l1-1.2l1-2.7l1-1.6l1-.5l1-.7l1-.9l0-.1l1-1.3l1-2l1-2.2l1-.6l1-.7l1-2.3l.4-.4l.6,.5l1,1.1l1,1.3l1,2.2l1,.3l1,.4l1,1.3l1,.5l1,1.1l.3,.5l.7-.3l1-.2l1-1.7l1-1.7l1-.8l.4-.2l.6,1.3l1,2.4l1,1.7l1,1.4l1,.3l1,.2l1,1.7l1,2.6l0,.2l1,4.8l1,4.6l1,5.6l1,5l1,4.5l1,5l.3,1.1l.7-1.4l1-.7l1-1.4l1-1.9l.1-.2l.9,2.3l1,2.2l1,3.5l1,3.5l1,4.2l.2,.7l.8-1.9l1-3.5l1-4.3l1-3.8l1-3.4l.3-.5l.7-.2l1-1.4l1-2.5l1-2.2l1-2l1-1.3l1-1.3l1-1.1l1-1.2l1-2.5l.4-.9l.6,0l1,1.9l1,.9l1-.5l1-1.1l1-1.3l1,1.1l1,1l.1,0l.9-1.7l1-2.4l1-1.5l1-.7l1-.1l1-1.9l1-3l.7-1.6l.3-.8l1-2.1l1-.7l1-1.2l1-2l1-1.8l1-1.6l1-3.4l.3-.6l.7,.1l1,.6l1,.8l1,.5l1,1.6l1,.9l1-.7l.9,0l.1-.2l1,.6l1-.2l1-.6l1-2.4l1-2l0,0l1,.4l1-.1l1-.3l1,.1l1,.1l1-.4l1-.8l1-.8l1-.1l1,.3l.2,0l.8,.4l1,.8l1,.3l1-.3l1,.2l.2,.1l.8-1.7l1-2.5l1-1.4l1-1.1l1-1.3l1-1.5l.6-1.1l.4,2.3l1,5.3l1,5l.1,.6l.9-1.1l1-.7l1-.5l.9-.3l.1-.1l1-1.3l1-1.9l1-2.5l1-3l1-3.1l1-2.8l.3-.6l.7,1l1,1.5l1,1.7l1,.9l1,.5l1,.1l1,.9l1,1.7l1,1.9l.2,.1l.8,0l1,1.1l1,.6l1,1.4l1,.4l1,.2l.5-.6l.5-1.3l1-1.7l1-.1l1-1.2l1-1.2l1,.2l.9,.4l.1,.2l1,.1l1-.8l1-1l.7-.1l.3-.9l1-1.1l1-2.1l1-3.3l1-3.3l.8-2.3l.2,0l1,.4l1-.2l1,.5l.6,.2l.4,1l1,1.3l1,2.1l1,1.9l1,2.7l.6,1.4l.4-.8l1-2.5l1-2.4l1-1.6l1-.8l1-1.9l1-3.1l0,0l1-1.3l1-1.3l1-1l.8,.3l.2,.4l1,.9l1-.1l1,.9l1,.5l.9,.5l.1-.1l1,.1l1,.5l1,.1l1,0l1,.1l1,.7l1-1.1l.5-.3l.5-.9l1-1.5l1-2.4l1-.5l1-1.1l1-2.2l.8-1.3l.2,0l1,.7l1,1l1,.2l1,.9l1,1.2l1,.2l.2,.1l.8,1l1,2l1,1.7l1,1.5l1,.4l1-.3l1,1.3l1,1.9l1,2l.1,.1l.9,1.4l1,1.7l1,1.7l1,1.3l1,2.5l1,2.7l.4,.6l.6-.6l1-.4l1-1.6l1-1.3l1-1.1l1-.4l1-.3l1-1.3l0,0l1,0l1,.4l1-.1l1-1.1l1-.8l.1,0l.9,.9l1,1.2l1,1.3l1,1.5l1,.9l1-.1" fill="none" stroke="#75147C" stroke-width="2.15" stroke-linejoin="round" stroke-dasharray="11.52 2.88 1.80 2.88"/>
<path d="M1811.0,1013.5l3,0l3,0l3-.1l3,0l3-.2l3-.2l3,.1l3,.1l3,.7l3,0l3-.8l3,0l3-.1l3,.1l3,.4l3-.2l3-.4l3,.3l3,.1l3,.1l3-.1l3,.1l3-.3l3,.4l3,0l3-.4l3-.1l3-.4l3,.6l3-.3l3,.2l3,.2l3-.3l2.6,.4l.4-.1l3-.1l3-1l3-.4l3-.3l3-.7l3,.4l3-.9l3,.6l1-.3l2-.3l3-.2l3-.8l3-.5l3,0l3-.3l3-.4l3-1.3l2.4,.3l.6,0l3-.2l3-.4l3-.6l3,.1l3-.3l3-.1l3-.6l3-.4l.8,.1l2.2-.7l3-.1l3-.3l3,.1l3-.6l3-.2l3-.4l3,.1l2.2-.5l.8-.2l3,.1l3-.9l3-.3l3-.9l3-.5l1.9,0l1.1,.3l3,.3l3,1.2l.5,.1l2.5-.9l3-.2l3,.1l3-.4l3,.2l3-.4l3-.4l3-.8l1.9,.4l1.1,.3l3-.2l3-.2l3,.3l3,0l3-.4l3,.5l3-.3l3,.2l.3,.1l2.7-.3l3,.1l3,.2l3-.3l3-.3l3-.2l3-.2l3,0l1.7,.1l1.3-.3l3-.4l3-.1l3-.7l2.4-.4l.6,.1l3-.3l3-.5l3-.4l3-.4l3,.4l3-.1l3-.3l3-.5l3,.1l2.7,.2l.3,0l3-.3l3,.2l3,.6l3,.3l.4,.1l2.6-.1l3-.2l3,.1l3-.7l3,.5l3-.1l2.7,.2l.3-.1l3-.5l3-.4l3,0l3-.8l3,.2l2.5-.6l.5-.1l3,0l3-.2l3,.3l3-.4l3-.4l3,.2l1.8-.3l1.2,.1l3,0l3-.3l3-.2l3,.1l3,.7l3-.4l3-.2l.6,0l2.4,.3l3-.5l3,.3l3-.5l3-.4l3-.2l3-.5l0,0l3-.2l3-.1l3-.6l3-.4l.7-.2l2.3,.1l3-.2l3-.6l3-.8l1.4,.3l1.6-.1l3-.5l3-.1l3-.1l3-.1l1.6,.4l1.4-.2l3-.3l3-.7l3,0l3,.3l3-.9l3,.2l3,0l.4,0l2.6,.2l3-.6l3-.1l3-.6l3,0l3-.1l2.8-.2l.2,0l3-.3l3-.2l3-.3l3-.4l3-.5l2.5-.4l.5,0l3-.2l3,.1l3-1.3l3,0l.2,0l2.8-.1l3-.3l3,.5l3,.5l.9,.1l2.1-.8l3-.6l3-.7l3-.6l1.6-.3l1.4-.4l3-.4l3-.7l3-.8l2.3,0l.7,.1l3-.7l3-.8l3-.9l3-.3l0,0l3-.8l3,.2l3-.5l3-.7l.7-.2l2.3-.6l3-.1l3-1.3l3,.3l1.4-.4l1.6-.3l3-.5l3-.3l3-.4l3,.1l3-.9l2-.4" fill="none" stroke="#3A7D22" stroke-width="2.15" stroke-linejoin="round" stroke-dasharray="9.00 5.40 1.80 5.40 1.80 5.40"/>
<path d="M1811.0,1013.7l1-.1l1,0l1,.1l1-.1l1,0l1,.2l1,.1l1-.1l1,.1l1,.3l1-.3l1-.2l1,.4l1,.1l1-.5l1-.1l1,.4l1-.2l1-.1l1,0l1,.6l1-.2l1-.6l1-.3l1-.2l1-.1l1,.6l1-.1l1-.9l1-.1l1-.4l1,1.2l1,.8l1-.6l1-1.6l1,.1l1,.8l1,1.3l.1,0l.9,.5l1-1l1,.2l1-.1l1-.6l1-.8l1-.2l1-.7l1,.8l1,.6l1-.1l1-.1l.8,.5l.2,.1l1,.5l1-.7l1-.3l1,.5l1-1.1l1-1.7l1-.3l1-.2l1-.5l1,.1l1-.9l1-1.1l.5-.3l.5-.3l1,.3l1,0l1-1.5l1-.4l1,.2l1-1l1-1l1-.4l1-.9l.6,0l.4,.1l1-.3l1-.5l1-.6l1-.5l1-1.4l1-1.2l1-.6l.3-.2l.7-.6l1-.4l1,1.1l1,1.3l1-.7l1-2.4l1-1.9l1-.3l1,.5l1-.8l1-1l1-.5l1-.3l0,.1l1,1.6l.2,.3l.8-.7l1-1.3l1-.8l1,.3l1,1l1-.5l.6-.7l.4-.2l1-.3l1,.6l1,1.3l1,.3l1,.2l1-1l1-1.3l1,0l1,.8l1-1.4l1-1.7l1,.7l.3,.3l.7-.1l1-1l1-1.2l1-.8l1-.7l1-.8l1-1l1-1.3l1-1.8l1-2.1l1-.5l1-.5l1-.6l0,.1l1-.4l1-.9l1-.4l1,0l1,0l1-.7l1,.1l1,.9l1-.1l1-.1l.1,.1l.9,0l1-1.5l1-2.5l1-2.3l1-1.3l1-.6l1-.5l.7-.5l.3-.3l1-2l1-2.4l1-1.4l1,0l1-.9l1-1.8l1-2.7l.4-.2l.6-.3l1-.4l1-1.1l1-2.5l1-1.7l1-2l1-3l1-.7l1-.7l1-1.8l.5-.7l.5,1.4l1,2.2l1,1.9l1,2.6l1,2.7l1,2.4l.9,1.8l.1-.2l1-2.5l1-1.2l1-.9l.7-.8l.3,.2l1,.1l1,.5l1,.8l1,.9l1,.5l1,.4l0,0l1-1.6l1-1.3l1-.7l1-.5l1-1.8l1-2l.4-.5l.6-.5l1-1.1l1-1.1l1-1.5l1-1.1l1-.4l1-.4l1-1.9l0-.1l1-2.9l1-2.1l1-.5l1-1l1-.1l1-.8l1-1.1l.6-1.5l.4,.1l1,.1l1,1.1l1,.9l.4,.5l.6-1l1-2l1-2l1-3l1-2.2l1-1.9l.8-1.7l.2,.2l1,.5l1,1.2l1,1.7l.6,1l.4,.7l1,1.9l1-.3l1-.5l1,.7l1,1.5l1,.6l1,1.6l1,.5l.5,.3l.5-.8l1-1.4l1-.5l1-1l1-.9l.5-.7l.5-.9l1-2.9l1-1.6l1-2.2l1-2.5l1-1.8l1-.3l1-2l1-2.8l1-2.3l1-2.7l1-2.6l0,0l1,1.7l1,1.2l1,2.3l.8,1.1l.2-.2l1-.7l1-1.9l1-1.1l1,.2l1-.6l1-.7l1-1.3l.4-.5l.6-.6l1-1.2l1-1.5l1-1.2l1-1.1l1,0l1,.5l1-.4l0,0l1-.6l1-.5l1,.2l1-.6l1-.2l.1-.2l.9-2.6l1-2.4l1-1.6l1-1.8l1-2.6l1-1.4l1-.8l.7-1.5l.3-.3l1-1.1l1-.7l1-.7l1-.4l.8-.8l.2-.7l1-4.2l1-2.6l1-2.8l1-2.9l1-2.9l1-3.8l1-3.4l.4-.8l.6,.2l1-.4l1-1l1-.8l1-1l.5-.2l.5,.4l1,1.1l1,.4l1,1l1,1.6l.6,.8l.4-.7l1-1.4l1-1.4l1-2.6l1-3.4l1-2.3l.9-1.8l.1-.2l1-2l1-1.6l1-.2l1-1.3l1-2.4l1-2.4l1-2l.5-.6l.5-1.7l1-4.4l1-4.2l1-4.4l.3-1.6l.7-.7l1-1l1-.9l1,0l1-.7l1-.7l1-.1l1-.2l0,0l1-1.8l1-1.7l1-2.3l1-1.4l1-.2l1,.6l.3-.1l.7,.8l1-1.3l1-1.6l1-.6l.1,.1l.9-.2l1,0l1-1.4l1-.9l1-1.2l1-.5l1-.8l1-1.4l.8-.4l.2-.4l1-1.8l1-1.6l1-.9l1-3l1-3.7l1-3.4l.2-.2l.8,.9l1-.1l1-1.5l1-.3l1-.2l.2,0l.8-1.2l1-1.1l1-1.1l1-1.2l1-2l.3-.8l.7-.3l1,.4l1,.2l1,.8l1,1.4l1,.4l1-.7l1-.8l1,.9l.2,.4l.8,.5l1-.6l1-1.4l1-1.8l1-1.8l1,0l1-.4l1-.3l1-.9l.1-.2l.9-1.7l1-1.9l1-.8l1-.3l1-.6l.2-.2l.8-1l1-1l1-.1l1-.5l1-1.7l1-1l1-.5l1-.3l1-1.2l.1-.1l.9-.5l1-.2l1,.8l.9,.3l.1-.2l1-2.6l1-1.7l1-1l1-1.7l.9-2.3l.1,0l1,.7l1,.3l1,.1l1,.5l1,.4l0,0l1-2.3l1-1.1l1-.8l1-1.4l1-.6l1-2.1l1-1.8l.6-1.5l.4-.2l1-.6l1,.2l1,.2l1,.6l.7,1.1l.3,.1l1-.1l1-1.4l1,.1l1,.5l1-1.1l1-.9l1,.3l1-.7l1-.6l.9,0l.1,.1l1,0l1-.8l1-.2l1,.2l1,.9l0,0l1-.2l1,0l1-1l1-1.2l1-1.3l1-.8l1-.5l.6-.1l.4,.4l1,.3l1,0l1,.4l1,1.2l1,.9l1,.4l1,.6l.2,.2l.8-.5l1-1.6l1-1.3l1-1.4l1-.8l1-.4l1-.3l.8-.4l.2,.1l1,.5l1,.9l1-.2l1,.2l.9,.7l.1-.1l1-2.3l1-2.2l1-1.4l1-1.7l1-2.5l1-2.5l.2-.4l.8,.5l1,1.8l1,1.3l1,.2l1,.4l1,1.1l.6,1.4l.4,.2l1-.5l1-1.8l1-.8l1-.9l1-1l.9,0l.1,0l1,.4l1-.3l1-1.3l1-.6l1,.9l1,.2l1,.1l1-1.1l1-.6l1,.1l1,0l.4-.2l.6-.4l1,0l1-.5l1-1.6l1-.4l1-.1l1-1.1l1-1.1l1-.8l1-.2l.5-.1l.5,.2l1-.1l1,.1l1-.6l1,.2l.6,0l.4,.3l1,1.2l1,.8l1,.5l1,1.3l.7,.5l.3-.3l1-2l1-.7l1,1.5l1,.1l1-2l1-1.8l1-.9l.3-.3l.7,.3l1,1l1-.1l1-.2l1,.4l1,.4l1,.4l.9,.6l.1-.1l1-.7l1-.7l1-1.9l1-2.5l1-.6l1,0l1-.7l1-1.5l1-2.2l1-1.5l.1,0l.9,.4l1,.7l1,.6l1-.3l1,.4l.2-.1l.8-.5l1-.6l1-1.5l1-.4l1-.5l1-.8l1-.3l1-.1l1-.6l1-.3l.3,.3l.7,1l1,.4l1-.1l1,1l1,.9l1-.2l1,.3l.9-.2l.1-.1l1-1.2l1,.4l1,.8l1,0l1-.2l1,0l1-.2l1,0l1-.7l1,.3l1,.2l1-.5l1,.7l1,.1l1-.3l.2,0l.8-1l1-1l1,.1l1,.2l1-.5l.2-.3l.8-.4l1-1.3l1-.5l1,.4l1,.1l1-.4l1,0l1,.1l1-.1l1,.4l1,.1l1-1l.9,.1l.1,0l1,.5l1,.9l1,1l1,.3l1-1.2l0,0l1-2.7l1-1.1l.6-.1l.4,.8l1,.5l1,.4l1,0l1,.8l.6,.8l.4-.1l1-1.6l1-2.3l1-1.2l1-.2l.7-.5l.3,.2l1,.4l1,.8l1,.9l1,.4l1,0l1-.2l1,.3l.3,.4l.7,.4l1-.1l1-.5l1-.4l1-.3l1,.1l1,.7l1,.9l1-.5l1-.3l1,.7l1-.5l1-.2l1,.5l1,.1l.6,.1l.4-.2l1-.3l1-2.2l1-1l1-.8l1-1.3l1-1l1-1.3l1,.1l1,.6l.7-.2l.3,.2l1,.5l1-.6l1-.8l1,.3l.8,.4l.2,.1l1,1.1l1,1.5l1,.7l1,.8l.9,1.2l.1-.1l1-1.9l1-2.7l1-2.1l1-.1l1-.5l1-1.7l.2-.3l.8-.4l1,.3l1,.3l1,.2l1-.5l1-.2l1-.1l1-.7l1-.3l.1-.1l.9,1l1,1.7l1,1.8l1,.4l1,.3l1,1.9" fill="none" stroke="#E83323" stroke-width="2.15" stroke-linejoin="round"/>
</g>
<text x="1811.0" y="1045.8" font-size="26.82" text-anchor="middle" fill="#262626" textLength="56.3" lengthAdjust="spacingAndGlyphs">0.00</text>
<text x="1894.9" y="1045.8" font-size="26.82" text-anchor="middle" fill="#262626" textLength="56.3" lengthAdjust="spacingAndGlyphs">0.25</text>
<text x="1978.8" y="1045.8" font-size="26.82" text-anchor="middle" fill="#262626" textLength="56.3" lengthAdjust="spacingAndGlyphs">0.50</text>
<text x="2062.6" y="1045.8" font-size="26.82" text-anchor="middle" fill="#262626" textLength="56.3" lengthAdjust="spacingAndGlyphs">0.75</text>
<text x="2146.5" y="1045.8" font-size="26.82" text-anchor="middle" fill="#262626" textLength="56.3" lengthAdjust="spacingAndGlyphs">1.00</text>
<text x="2230.4" y="1045.8" font-size="26.82" text-anchor="middle" fill="#262626" textLength="56.3" lengthAdjust="spacingAndGlyphs">1.25</text>
<text x="2314.2" y="1045.8" font-size="26.82" text-anchor="middle" fill="#262626" textLength="56.3" lengthAdjust="spacingAndGlyphs">1.50</text>
<text x="2398.1" y="1045.8" font-size="26.82" text-anchor="middle" fill="#262626" textLength="56.3" lengthAdjust="spacingAndGlyphs">1.75</text>
<text x="2482.0" y="1045.8" font-size="26.82" text-anchor="middle" fill="#262626" textLength="56.3" lengthAdjust="spacingAndGlyphs">2.00</text>
<text x="1798.0" y="1023.8" font-size="26.82" text-anchor="end" fill="#262626" textLength="16.1" lengthAdjust="spacingAndGlyphs">0</text>
<text x="1798.0" y="926.5" font-size="26.82" text-anchor="end" fill="#262626" textLength="32.2" lengthAdjust="spacingAndGlyphs">10</text>
<text x="1798.0" y="829.3" font-size="26.82" text-anchor="end" fill="#262626" textLength="32.2" lengthAdjust="spacingAndGlyphs">20</text>
<text x="1798.0" y="732.0" font-size="26.82" text-anchor="end" fill="#262626" textLength="32.2" lengthAdjust="spacingAndGlyphs">30</text>
<text x="1798.0" y="634.8" font-size="26.82" text-anchor="end" fill="#262626" textLength="32.2" lengthAdjust="spacingAndGlyphs">40</text>
<text x="2460.0" y="1073.7" font-size="25.93" text-anchor="end" fill="#262626" textLength="53.4" lengthAdjust="spacingAndGlyphs">×10</text>
<text x="2482.5" y="1064.4" font-size="18.77" text-anchor="end" fill="#262626" textLength="22.5" lengthAdjust="spacingAndGlyphs">10</text>
<text x="2146.5" y="1084.8" font-size="38.95" text-anchor="middle" fill="#262626" textLength="189.0" lengthAdjust="spacingAndGlyphs">Env Steps</text>
<text x="2146.5" y="611.8" font-size="41.51" text-anchor="middle" fill="#262626" textLength="732.3" lengthAdjust="spacingAndGlyphs">AllegroKuka Two-Arms Reorientation</text>
<text x="0" y="0" transform="translate(1752.5,819.5) rotate(-90)" font-size="38.95" text-anchor="middle" fill="#262626" textLength="357.5" lengthAdjust="spacingAndGlyphs">Episode Successes</text>
</g>
<g id="P7">
<rect x="135" y="1161" width="475" height="290" fill="#EAEAF2"/>
<clipPath id="cP7"><rect x="135" y="1161" width="475" height="290"/></clipPath>
<path d="M135.00,1161V1451M230.00,1161V1451M325.00,1161V1451M420.00,1161V1451M515.00,1161V1451M609.97,1161V1451M135,1450.97H610M135,1398.35H610M135,1345.20H610M135,1292.05H610M135,1238.90H610M135,1185.75H610" stroke="#fff" stroke-width="0.94" fill="none" clip-path="url(#cP7)"/>
<g clip-path="url(#cP7)">
<path d="M135.0,1449.9l2-23.3l.8-9.9l1.2-19.2l1.7-27.9l.3-3.2l2-19.9l1.5-14.8l.5-3.9l2-14.2l1.2-8.6l.8-2.2l2-7.5l2-6l.9-3l1.1-1.4l2-3.7l2-3.6l.6-1l1.4-1.6l2-2l2-3l.3-.7l1.7-1.8l2-2.7l2-.6l1.9-.1l.1-.2l2-1.4l2-2.8l2-2l2-3.1l1.3-1.1l.7-.1l2-.9l2-1.3l2-.8l2-1.6l.8-.8l1.2-.9l2-3.8l2-3.1l.5-1l1.5-1.8l2-1.5l2-1.4l2-2l2-.5l2-1.3l1.7-1.3l.3-.2l2-.4l2,.3l2-1.4l2-2.7l1.2,.2l.8,.5l2-.6l2-1.6l2-1.7l2-.4l.6,0l1.4-1.4l2,.7l2-1.3l2-.8l2-.7l2-.2l2-.7l2-.8l2,0l1.6-.9l.4-.2l2,.8l2-.7l2,.1l2-.3l2-.4l2-.8l2-1.4l2,1.4l2,.5l.5-.3l1.5-1.3l2-.4l2-.8l2,1.1l2-1l2-.7l2-.9l2,1.1l2-.1l1.4,.1l.6,.1l2-.2l2-.3l2-1l2,.5l2-1l2,1.1l2-.6l2,.9l2-.8l.4-.2l1.6-.8l2,1.1l2-.3l2-2.3l2,1.2l2,0l2-.5l2,.3l2-.6l1.3-.1l.7,.5l2-.6l2,0l2,.2l2-.5l2,.4l2-.3l2-1.1l2,1.1l2,.8l.2,0l1.8-.4l2-1l2-.2l2-.9l2,.8l2,.8l2-.9l2,.5l2-.4l1.1,0l.9,.3l2,0l2,1.2l2-.3l2-1.3l2-.3l2,.1l2-1.7l2,.8l2,.7l2-.1l2,1l2,1.1l2-.6l1.9-1.2l.1,0l2,.8l2,1l2-.7l2,1l2-.2l2,.1l2-.5l2,.8l2,.3l.9,.4l1.1-.2l2-.3l2,.6l2,1.1l2-.7l2-.7l2,0l2,1.4l2-.7l1.8-.1l.2,0l2-.2l2,.5l2-.3l2,.1l2-.6l2,.3l2,.7l2,0l2-1.3l.7,.1l1.3,.2l2-.1l2-.6l2-.6l2-.3l2,.2l2,.7l2-1.6l2,0l1.6,1.1l.4,.1l2,.3l2-.9l2-1.8l2,1.2l2-.2l2-.3l2-.9l2-.3l2,.5l.6-.6l1.4-1l2-.1l2-.3l2,.6l2,.3l2-.8l2,.3l2-1.4l2,1.2l1.5-.8l.5-.1l2,1l2-.1l2-.8l2,1.2l2-.6l2,.9l2-.6l2-.5l2,.2l.4-.2l1.6-.7l2,.3l2,.2l2-.2l2,.7l2-.5l2-1.7l2,.9l2,.1l1.4,.4l.6,0l2-.5l2,1.5l2-.3l2-.6l2-.7l2-1.5l2,.1l2,.8l2-.8l.3-.1l1.7-.2l2,.7l2-1.3l2,.6l2,.4l2-.1l2-.1l2-1.3l2,.3l1.2-.4l.8,.3l2-.3l2-.2l2,.3l2,.1l2,.6l2-.1l2-1.1l2,.1l2,.4l2,.3l2,.3l2-.4l2-.4l2,1.3l.9,.1l0,53.2l-1.9,.9l-2-.6l-2,.5l-2-.5l-2,.5l-.9,.4l-1.1-.2l-2,.9l-2,0l-2,.9l-2,.2l-2,.3l-2,.6l-2-.2l0,0l-2,1.4l-2,.4l-2-1l-1.6,0l-.4,.5l-2,2.4l-2-.2l-1.2,1.3l-.8,.3l-2,.7l-2,1l-2,.8l-2-.7l-.7,.6l-1.3,.8l-2,.6l-2-.1l-2,.9l-.3-.1l-1.7-1.1l-2,.3l-2-.3l-2-.7l-2,.4l-1.6-.3l-.4-.1l-2-1.2l-2-.2l-2-.4l-2-2.3l-1.1,.3l-.9,.4l-2,.4l-2-.8l-2-.1l-2-.7l-.6-.4l-1.4,1.9l-2,3.1l-2,2l-1.2,1.3l-.8-.4l-2-2l0,0l-2-.3l-2-2.4l-2,1.5l-2-.2l-1.5-1.1l-.5-.3l-2-.7l-2-1.1l-2,.6l-2-.7l-1-.7l-1,.2l-2,.7l-2,1.3l-2-.3l-2-.2l-.4,.2l-1.6,.3l-2,.4l-2-.2l-2,.5l-1.9,.8l-.1,.1l-2,1.1l-2,.3l-2,1.2l-2,1l-1.4,.2l-.6-.2l-2,.6l-2-.2l-2,.4l-2,.7l-.8-.1l-1.2,.3l-2,.6l-2,2l-2-.2l-.4,.2l-1.6-.1l-2-1.5l-2,1.1l-.1,0l-1.9-2.7l-2-.9l-1.8-1.9l-.2-.1l-2-1.4l-2-1.8l-2-.2l-2,0l-1.2-.3l-.8-.2l-2-.6l-2,1l-2-1.1l-2,.2l-.7,0l-1.3,.9l-2,.6l-2-.6l-2,1.7l-2-.2l-.1,.1l-1.9,4.4l-1.9,3.8l-.1,0l-2,.2l-2-1.7l-1.6-.3l-.4-1.2l-1.5-5.2l-.5-.6l-2-1.5l-2,.6l-2-3.1l-1.1-.9l-.9,1.1l-2,.6l-2,1.1l-2-.3l-2,1.8l-2-.9l-2-.2l-2-1.6l-2-.5l-2,.8l-2,.1l-2,.2l-2-.1l-2,.8l-1.9,1.3l-.1-.1l-2-.6l-2-.3l-2,.3l-2-1.3l-2,.9l-2,.1l-2-.8l-2,.4l-2-1.2l-.8,0l-1.2-.3l-2,.8l-2-.5l-2,.4l-2-.4l-2-.4l-2,1.3l-2,.2l-2-.9l-1.7-.5l-.3,.1l-2,.6l-2-.3l-2-.5l-2,.8l-2,.1l-2,.1l-2,.5l-2,.6l-2,1.2l-.6-.3l-1.4,.1l-2,.3l-2,.2l-2,1.3l-2,1.5l-2,.5l-2-.3l-2,1.1l-2-.9l-1.6,.7l-.4,.3l-2,1.7l-2-.6l-2,1.1l-2,.1l-2-.2l-2,0l-2,1.1l-2-1.3l-2,1.1l-.5,.3l-1.5,.6l-2,.1l-2-1.1l-2-.1l-2-.2l-2,.6l-2-.5l-2,.1l-2,.8l-1.4,.6l-.6,.2l-2-.8l-2,2l-2,.8l-2-.4l-2-.5l-2-.6l-2,0l-2,1.6l-2-.8l-.4-.4l-1.6-.9l-2,.7l-2,.7l-2-.2l-2-.2l-2,1.4l-2-1.2l-2,.8l-2-.2l-1.3,1.2l-.7,.8l-2,.3l-2-.1l-2-.2l-2-.1l-.8-.1l-1.2,.5l-2,2.1l-2,.7l-2,.9l-2,1.4l-.2,.1l-1.8,2l-2,2l-2,2.6l-2,1l-1.7,2.2l-.3,.3l-2,.2l-2,1.2l-2,1.4l-2,1.6l-1.1,.4l-.9,.8l-2,.6l-2,1.6l-2,2l-.7,.6l-1.3,.9l-2,.5l-2,2.5l-.4,.3l-1.6,3.2l-2,4.3l-2,4.6l-.1,0l-1.9,8.4l-1.9,7.9l-.1,1.3l-2,12.2l-1.6,10.8l-.4,5.3l-2,25.3l-1.4,17.5l-.6,6.2l-2,20l-.3,2.1l-1.7,7.4l-2,8.2Z" fill="#0000FF" fill-opacity="0.2"/>
<path d="M135.0,1449.6l1.5-31.6l1.5-31.4l1.5-31.7l.2-4.9l1.3-25.3l1.5-30.2l.1-1.4l1.4-15.4l1.5-13.6l.9-8.4l.6-2.2l1.5-4.9l1.5-4.6l1.5-5.6l.5-1.6l1-1.4l1.5-2.2l1.5-4.4l1.5-1.7l1.5-2.9l.6-.7l.9-.8l1.5-.1l1.5-3.9l1.5-.2l1.5-3.6l1.5-3l1.1-.5l.4-.9l1.5,.8l1.5,.6l1.5-3.1l1.5-.1l1.5-2.2l1.5-1.9l1.5,.3l1.5,.1l.8-1.5l.7-2l1.5-3.7l1.5,4.1l1.5,1.5l1.5-2.5l1.5-3.8l1.3,.4l.2,.3l1.5-.6l1.5,.8l1.5,0l1.5-3l1.5,1.7l1.5,.8l1.5-2.7l1.5,.9l1.5,1.3l1.5-2.9l1.5,1.6l1.5,.4l.7,0l.8-.1l1.5-1.9l1.5-.3l1.5,2.5l1.5-1.1l1.5,2.2l1.5-.4l1.5-1.9l1.5,1.1l1.5,.1l1.5,.2l1.5-.2l1.5-1.2l.1-.1l1.4,.4l1.5,1.4l1.5,3.2l1.5-2.2l1.5-1.3l1.5-2.3l1.5-1.5l1.5,1.4l1.5-.4l1.5-.9l1.5,.5l1.5-2l1.1,.2l.4,.3l1.5,1.3l1.5,1l1.5-1.9l1.5,1l1.5,1.4l1.5-1.8l1.5,.6l1.5,.2l1.5-2.2l1.5-.5l1.5,1.7l1.5-2.5l.5-.3l1-1.2l1.5-.8l1.5,1.7l1.5,1.4l1.5-2.7l1.5,.4l1.5,2.2l1.5,.9l1.5-.6l1.5-.8l1.5,.2l1.5,1.3l1.4,.5l.1,0l1.5,3.3l1.5,.7l.7,0l.8,.4l1.5,1.7l1.5-1.5l1.5-.6l1.5-.9l1.5-.7l1.5-1.6l1.5-1.2l1.5,1.3l1.5,2.3l.9-1.4l.6-1.3l1.5-2l1.5,2l1.5-1.4l1.5,1.5l1.5,1.5l1.5-.9l1.5-3.6l1.5,2.7l1.5,.8l1.5-.9l1.5,.4l1.5,1.7l.3,0l1.2-1.7l1.5-3.9l1.5,2.8l1.5,.2l1.5-1.6l1.5-1.5l1.5,1l1.5-1.1l1.5-1.1l1.5-.6l1.5,2.2l1.5-.9l1.2-2.9l.3-.1l1.5,.6l1.5-1.6l1.5,1.7l1.5,1.6l1.5-.4l1.5,.1l1.5,0l1.5-1.9l1.5-.2l1.5,2.3l1.5-1.6l1.5-2.7l.6,.6l.9,.5l1.5-.9l1.5,.6l1.5-2.1l1.5,.8l1.5,1.4l1.5,1l1.5,.3l1.5,.3l.8-1l.7-1.5l1.5-2.9l1.5,2l1.5,3.9l1.5,.4l1.5,1l1.5-1.5l1.5,.5l1.5-.2l1.5-1.6l.9,2l.6,.2l1.5,1.6l1.5-1.9l1.5,.6l1.5,1.2l1.5-.9l1.5,.9l1.5,3.2l1.5-1.9l1.5-2l1.5-1.7l1.5,2.4l1.5,1.4l.4-.2l1.1-.5l1.5-.3l1.5-.4l1.5-2.2l1.5,.1l1.5,.2l1.5,.8l1.2,2.5l.3,0l1.5-2.9l1.5,2.4l1.5-.4l1.5,0l1.5-2.9l1.5-.4l1.5,3.8l1.5,1.9l1.5,1.4l1.5-1.3l1.5-2.7l.2-.5l1.3-.9l1.5,2.1l1.5,.1l1.5-.5l1.5,3.5l1.5,2.3l.7-.9l.8-2.1l1.5-4.8l1.5,.5l1.5,3.3l1.5,.9l1.5-1.2l1.5-1.1l1.5-1.3l1.5-1.1l1.5,1.4l1.5,1.2l1.5,1.5l1.5-1.5l.1,0l1.4-.5l1.5-1.5l1.5-1.3l1.5,1.3l1.5,0l1.5-2.1l1.5,3.5l1.5-1.1l1.5-.1l1.5-.7l1.5-2.1l1.5-.5l1.1,.9l.4,.3l1.5-.4l1.5,.7l1.5-1.8l1.5,1.7l1.5-1l1.5-2.7l1.5,2.3l1.5-.4l.8-.2l.7-.2l1.5-.6l1.5-.6l1.5,1.5l1.5,1.2l1.5-1.9l1.5,.5l1.5,2.1l1.5,0l1.5-2.5l1,1.1l.5,1.4l1.5,2.2l1.5-.7l1.5,0l1.5,1.1l1.5-1.1l1.4-2.1l.1-.1l1.5,1l1.5-.1l1.5-2.2l1.5-.8l1.5,.8l1.5,2.4l1.5,1.5l1.5,.5l1.5-2.2l1.5-.4l1.5,0l1.5-1.2l.9-.6l.6-.7l1.5-.1l1.5,1.1l1.5,.4l1.5-2.3l1.5-.7l1.5-1.3l1.5-.8l.2-.4l1.3,.1l1.5,2l1.5,.5l1.5,.2l1.5-.5l1.5-2.4l1.5,1.4l1.5-.1l1.5,1l1.5-1.4l1.5,2.5l.8,1.5l.7-.9l1.5-1.6l1.5-.2l1.5-1.8l1.5,2.1l1.5-1.4l1.2,.3l.3-.1l1.5,.5l1.5-1l1.5,.2l1.5,2.5l1.5,.1l1.5-.5l1.5,.4l1.5,.2l1.5-.5l1.5,2.2l1.5,1.9l1.5,.1l.6-.8l.9-.5l1.5-.8l1.5-1.2l1.5,1.4l1.5,.7l1.5-4.1l1.5,.4l.9-.3l0,30.5l-1.5-1.6l-1.4-.4l-1.6-1.8l-1.4,4l-1.6,.2l-1.4-1.4l-1.6,1.8l-1.4-1.8l-1.6,2.2l-1.4,2l-1.6-1.2l-1.4-.8l-1.6-2.1l-1.4,1.1l-1.6,1.5l-1.4,1.1l-1.6,.7l-1.4,1.7l-1.6-2.3l-1.2,1.3l-.2,.4l-1.6-1.4l-1.4-1.8l-1.6-.3l-1.4,.1l-1.6,0l-1.4-.7l-1.6,1.1l-1.4,0l-1.6-2.5l-1.4,1l-1.6,1.7l-1.4,0l-.7,1.6l-.9,.5l-1.4-.2l-1.6,.2l-1.4-.7l-1.6,.6l-1.4-1.2l-1.6-2.2l-1.4,.8l-1.6,.9l-1.4-.8l-1.6,1.8l-1.4,0l-1.6-.6l0-.1l-1.4,1.6l-1.6,.5l-1.4-1.7l-1.6,3.7l-1.4,1.7l-1.6-3l-1.4,.6l-1.6,.9l-1.4-3.9l-1.6-3.6l-1.4,1.6l-1.6,1.8l-1-.1l-.4-.7l-1.6,.9l-1.4-1.3l-1.6,1.6l-1.4,.9l-1.6-1.3l-1.4-1.3l-1.6,1.4l-1.4-.4l-1.6-.1l-1.4-.9l-1.6,2l-1.4,.8l-.5-.4l-1.1-.7l-1.4,.5l-1.6,1l-1.4-1.4l-1.6,.6l-1.4-.1l-1.6-.2l-1.4-3.8l-1.6,1.9l-1.4,4.6l-1.6-1.1l-1.4-1.2l-1.4-.4l-.2-.2l-1.4,.6l-1.6,2.4l-1.4-4.3l-1.6,1.5l-1.4,1.7l-1.6,1.6l-1.4,.7l-1.6-1.7l-1.4-.3l-1.6-.1l-1.4,1.9l-1.6-3.8l-.8-.7l-.6,1.2l-1.6,.8l-1.4,.5l-1.6,.8l-1.4-.9l-1.6,.2l-1.4,0l-1.6-3l-1.4-1.4l-1.6,3.2l-1.4,1.7l-1.6-1.1l-1.4-2.3l-.3,.1l-1.3,1l-1.4,2.8l-1.6-1.6l-1.4-1.3l-1.6,1.8l-1.4,.1l-1.6-.7l-1.4-1.6l-1.6-.9l-1.4-.3l-1.6-.2l-1.4,1.6l-1.2,1.6l-.4-.1l-1.4-2.6l-1.6-1.5l-1.4,2.4l-1.6,1.5l-1.4,1.6l-1.6-2.5l-1.4,.5l-1.6,1.9l-1.4,1.5l-1.6-1.8l-1.4-.3l-1.6-1.5l-.5-1.2l-.9-.6l-1.6,3.3l-1.4,1.7l-1.6-1.4l-1.4-3.9l-1.6,1.1l-1.4,.8l-1.6,1.1l-1.4-.8l-1.6-1.2l-1.4-1.5l-1.6,2l-1.4,1.4l-.1,0l-1.5-2.5l-1.4-2.1l-1.6,5.1l-1.4,1.8l-1.6-2l-1.4-1.9l-1.6-1.3l-1.4,1.1l-1.6,2.1l-1.4,.9l-1.6,.6l-1.4,0l-1.6-2.8l-1.4,1.5l-1.6-.5l-1.4,.7l-1.6-1.7l-1.4,1.8l-1.6-.4l-.3-.3l-1.1,1l-1.6,1.5l-1.4-1.1l-1.6-.9l-1.4-.2l-1.6-1.6l-1.4,.5l-1.6,1.2l-1.4,.8l-1.6-1.2l-1.4-.1l-1.6-.1l-1.2,1l-.2,.1l-1.6-1.6l-1.4-1.1l-1.6,1.3l-1.4,.2l-1.6-1.2l-1.4-2.3l-1.6,.3l-1.4-.7l-1.6-2.4l-1.4-.1l-1.6,1.9l-1.4,1.5l-.7,.8l-.9,.6l-1.4,.7l-1.6,.9l-1.4-.7l-1.6-3.4l-1.4,1.9l-1.6,1.6l-1.4-.7l-1.6-1.1l-1.4,.1l-1.6,2.6l-1.4,5l-1.6-3l0-.3l-1.4-2.5l-1.6,2.6l-1.4,.7l-1.6-2.4l-1.4,1.4l-1.6-.3l-1.4,.7l-1.6,1.4l-1.4-.1l-1.6-1.9l-1.4-.9l-1.6-.8l-1,.1l-.4,.3l-1.6,1.6l-1.4,1.4l-1.6-.5l-1.4-1.7l-1.6,2.9l-1.4,.3l-1.6-.1l-1.4,2.6l-1.6-1.9l-1.4,1.4l-1.6-.3l-1.4,.6l-.5-.2l-1.1,0l-1.4,1.1l-1.6-1.5l-1.4-.1l-1.6,1.6l-1.4,.4l-1.6,.7l-1.4,.2l-1.6,.4l-1.4,2.4l-1.6-.8l-1.4-2.2l-1.4,1l-.2,.1l-1.4,0l-1.6-.3l-1.4-.8l-1.6,.2l-1.4-.2l-1.6,0l-1.4,2.5l-1.6,0l-1.4-2.7l-1.6,1l-1.4-2.6l-1.6-1.3l-.8,.9l-.6,.8l-1.6,1.2l-1.4-1l-1.6,2.4l-1.4,1.2l-1.6-.2l-1.4-.6l-1.6,1.3l-1.4,1.8l-1.6,0l-1.4,2.3l-1.6-2.4l-1.4-.5l-.3,.2l-1.3,1.9l-1.4,2.1l-1.6-.6l-1.4,.5l-1.6,2l-1.4,2.3l-1.6,.8l-1.4,.7l-1.6,.3l-1.4,3.9l-.4,.6l-1.2,1.5l-1.4,1.4l-1.6-.1l-1.4,.7l-1.6,.1l-1.4-.1l-.5,.3l-.8,13.3l-.3-5.1l-.4-8.9l-1,.3l-1.6-1.1l-.1-.2l-1.3,0l-1.6,.7l-1.4,1.1l-1.6-.2l-1.4-1.4l-1.6,1.9l-.5,1.7l-.9,2.2l-1.6,1.9l-1.4,2l-1.6,.4l-1.4,1.2l-.7,.9l-.9,.2l-1.4,.4l-1.6,2.5l-1.4,0l-.4,.1l-1.2,.8l-1.4,1l-1.6,1.9l-1.4,2.7l-.1,0l-1.5,4.1l-1.4,3.8l-1.6,5.7l-1.2,3.1l-.2,1.9l-1.6,10.4l-1.4,12.1l-.5,3.9l-1.1,20.1l-1.4,29.8l-1.3,25.4l-.3,3l-1.4,19.8l-1.6,20l-1.4,20.1Z" fill="#75147C" fill-opacity="0.2"/>
<path d="M135.0,1449.7l2-8.4l2-8.3l1.7-7l.3-3.2l2-20l.5-5.2l1.5-14.7l1.4-13.5l.6-4.8l2-15.1l1.1-8.2l.9-4.6l2-9.5l.9-4.5l1.1-2.4l2-5l2-5.2l.6-1.6l1.4-2.3l2-2.7l2-4.1l.3-.5l1.7-1.9l2-2.1l2-3.3l1.9-2.2l.1-.1l2-1.4l2-1.2l2-1.6l2-2l1.3-1l.7-.6l2-1.2l2-2.1l2-.3l2-1.4l.8-.9l1.2-.4l2-1.5l2-.9l2-1.2l2-.4l2-.5l2-.4l2-1.3l2-2l1.7-.1l.3,.2l2,.5l2-2.2l2-.2l2,.1l2-2.1l2,.3l2-1.2l2-.4l2-1.8l.6-.6l1.4-.6l2-.7l2-1.8l2-.4l2,.1l2-1.6l2-.2l2-.5l2-.3l1.6-1l.4-.4l2-.5l2-.4l2-.4l2-.2l2-1.8l2-.1l2-.6l2-.1l2-.8l.5-.2l1.5-.2l2-1.4l2,.2l2-.7l2-.5l2-.3l2-.9l2-1.1l2,.4l1.4-.3l.6,0l2,.5l2-.8l2-.9l2-.8l2-.1l2,.1l2-1.4l2,.4l2-.5l.4-.2l1.6-.4l2,.5l2-.3l2-.4l2-.4l2-.3l2,.1l2-.3l2-1.2l1.3-.1l.7,.2l2,.3l2-.7l2-.9l2,.7l2-.7l2-.4l2-1.1l2-.5l2,.7l.2,0l1.8-.9l2-.2l2,.4l2-1.3l2,.4l2-.1l2,.2l2-.7l2-.2l1.1,0l.9-.1l2-1.2l2,1.8l2-.6l2-.1l2-.6l2-.6l2-.2l2-.1l2-.4l2,.9l2-.6l2,1.4l2-.4l2,.1l2-.9l2-.7l2,.4l2-.2l2-1.7l2-.4l2,.2l2-.5l2,.6l.9-.1l1.1-.3l2-.4l2,.4l2-.8l2-.8l2-.6l2,.8l2-1.5l2-.7l2,.9l2,.3l2-1.4l2-.3l2-.3l2,1l2,.2l2-.1l2-.9l2-.1l.7,.5l1.3-.4l2-1.5l2-1l2,.7l2-.8l2-.5l2-1l2-.4l2-1l2,.8l2-.3l2,.7l2-2.1l2-1l2-.3l2-.4l2,.7l2-.4l2-.8l.6-.3l1.4,0l2-.4l2-.9l2,0l2,0l2-1.2l2-.7l2-.2l2-.3l2-.8l2-.2l2,0l2-.7l2-1.8l2,.1l2-.2l2-1.2l2-.5l2,.1l.4-.1l1.6-.9l2,.2l2-.1l2-1.2l2-1.4l2,.7l2-.4l2-.3l2-.1l2-1.1l2,.4l2-1l2-.9l2,0l2-.8l2-.7l2,.3l2-.9l2-.1l.3,.2l1.7,.5l2-.6l2-.3l2,1.1l2-.5l2-.6l2-1.3l2-.7l2,.6l2-.5l2-.9l2-.1l2,.4l2,.6l2-.6l2-.6l2,.8l2-1.2l2-.6l2-.2l2,1l2,.3l2-1.4l2,.3l.9,.4l0,56.5l-1.9,.8l-2-.2l-2,.9l-2-.3l-2-.2l-2,1.1l-2-.5l-2,1.2l-2-.1l-2,0l-2,.3l-2-.1l-2,.2l-2,.1l-1.8-.2l-.2-.2l-2-.5l-2,.2l-2,.8l-2-.7l-2,.2l-2,.7l-2,.3l-2-1.1l-2,.3l-2,0l-2,.5l-2,.2l-2,.2l-2,.3l-2,.4l-2,0l-2-.3l-2,.3l-1.6,.9l-.4,.3l-2-1.2l-2,.9l-2,.3l-2,.4l-2-1.1l-2,0l-2-.5l-2,1.2l-2,.3l-2-1.3l-2-.2l-2,1l-2-.7l-2,.4l-2-.3l-2,.8l-2-.6l-2-.2l-1.5,0l-.5,0l-2-.3l-2,.4l-2-.8l-2,.7l-2,.5l-2,1.4l-2-1.4l-2,.2l-2-.3l-2,.2l-2,.7l-2-.3l-2,.4l-2-.8l-2-.1l-2,1.7l-2-.6l-2,.7l-1.4,.5l-.6,.1l-2-1l-2,.2l-2,1l-2-.1l-2-.2l-2,0l-2,.4l-2-.2l-2,.1l-2-.7l-2,1.2l-2,.1l-2,.1l-2-.8l-2,.5l-2-1.7l-2,1.1l-2,.1l-1.2,.3l-.8,.6l-2,.4l-2,1l-2,.7l-2-.7l-2-.3l-2,.2l-2,.8l-2,.1l-2,0l-.1,0l-1.9,.3l-2,0l-2-.1l-2,.9l-2,.9l-2,1.6l-1.4,1.1l-.6-.4l-2-2.1l-2-1.4l-1.1-.6l-.9,.8l-2,1l-2,.3l-2,.4l-2,.1l-2-.1l-2,.4l-2,.4l-2,0l-2,1.3l-2,1.2l-2,.3l-2,1.2l-2-1l-1.9,1.2l-.1,.2l-2-.2l-2-.1l-2,.7l-2,.2l-1.3-.4l-.7-.5l-2,.4l-2,.9l-2-.2l-2,.6l-.8,.2l-1.2,.2l-2,.3l-2,.3l-2-.3l-2,.4l-.2,.2l-1.8,.9l-2-.2l-2,1.2l-2,.8l-1.7,.3l-.3,0l-2,.1l-2-.1l-2,.4l-2-1.2l-1.2,0l-.8,.1l-2,1l-2,.5l-2-.3l-2,.7l-.6,.1l-1.4,.7l-2,.7l-2-.1l-2,.2l-2-.1l-.1,0l-1.9,.9l-2,.7l-2,1.3l-2,1l-1.6,.1l-.4,.2l-2,1l-2,.3l-2,0l-2,1l-1,.2l-1-.1l-2,.5l-2,.5l-2,1.1l-2,0l-.5,0l-1.5-.1l-2,.6l-2-.3l-2,1l-2-.6l0-.1l-2-.5l-2,.9l-2,.8l-2,.5l-1.4-.1l-.6-.1l-2,0l-2,1.3l-2-1.1l-2-.7l-.9,1l-1.1,1.5l-2,.2l-2,.2l-2,1.9l-2,.5l-.4,.1l-1.6,.9l-2,.4l-2,1.6l-2,1.1l-1.8,.4l-.2-.1l-2,2l-2,1.6l-2,.3l-2,1.1l-1.3,.9l-.7,.8l-2,.9l-2,.2l-2,1.5l-2,.1l-.8,.1l-1.2,.6l-2,.7l-2,1.4l-2,2.1l-2,.7l-.2,.1l-1.8,1l-2,2l-2,1.5l-1.8,1.5l-.2,.3l-2,.5l-2,1.1l-2,1.2l-1.4,.9l-.6,.7l-2,2.8l-2,2.1l-2,2.5l-.9,1.3l-1.1,2.8l-2,4.1l-2,5.8l-.6,1.4l-1.4,6.4l-2,8.3l-2,9.1l-.3,1l-1.7,4.6l-2,5.3l-.1,0l-1.9,9.3l-1.9,8.6l-.1,1.9l-2,20.3l-1.6,16.1l-.4,1.1l-2,4.6l-1.4,3.5l-.6,.6l-2,1.8l-2,1.8l-2,1.9Z" fill="#3A7D22" fill-opacity="0.2"/>
<path d="M135.0,1449.6l2-18l2-17.9l.7-6.6l1.3-16.9l1.6-21l.4-5.4l2-25.1l1.4-16.8l.6-4.2l2-13.3l1.1-7.4l.9-2.6l2-7.4l.9-3.4l1.1-2l2-4.4l2-3.1l.6-1.5l1.4-3.1l2-2.4l2-1.7l.3-.6l1.7-1.9l2-1.6l2-.1l1.9-1.8l.1-.2l2-1.6l2-1.1l2-.3l2-1.2l1.3-.2l.7-.1l2-2l2-1.6l2-.5l2-1.8l.8-.8l1.2-1.1l2-.4l2-2.1l2-.8l2-.9l.2,0l1.8-.2l2-1.3l2-.4l2-1.1l1.7-2l.3-.3l2,1.3l2-1.9l2-1.2l2-2l1.2-.5l.8-.2l2-.3l2-1.4l2-1.7l2,0l.6-.1l1.4-.5l2-.2l2-.4l2-.4l2-.9l2-.5l2-.3l2,0l2-.2l1.6-.3l.4-.2l2,.1l2-.5l2-.8l2,.5l2,.1l2,.3l2-.4l2,.6l2-1.3l.5-.1l1.5-.1l2-.8l2-.8l2-1.2l2,0l2-.7l2-.8l2,.8l2-1.4l1.4-.8l.6,0l2-.1l2-1.2l2-.4l2-.1l2-.2l2-.4l2,.2l2-.7l2-1.2l.4,.1l1.6,.4l2,.1l2-.1l2,.4l2,.1l2-1l2,0l2-.2l2,.6l1.3-.5l.7-.1l2,1.6l2-1l2-.9l2-.8l2,.3l2-.6l2,.8l2-1.9l2,.3l.2-.1l1.8-.6l2,0l2-1.2l2-.6l2-.7l2-.2l2-1l2-1l2,.8l1.1-.5l.9-.6l2,.1l2-.2l2-.2l2,1l2-.4l2-.6l2-.8l2-.2l2,.6l2-.5l2-.1l2,.3l2,.3l1.9-.8l.1,0l2,.5l2-1l2,1l2,0l2,.4l2,.3l2,.4l2-.3l2,.7l.9-.8l1.1-.8l2,1l2,.5l2-1.4l2-.8l2,.1l2-.5l2,.4l2,0l1.8,0l.2,0l2-.7l2-1.1l2,.2l2-.2l2-.8l2,.8l2-.7l2,.1l2-.4l.7-.2l1.3-.2l2-.5l2,.4l2-.8l2-.5l2,0l2-.2l2-.3l2,0l1.6-1.2l.4-.4l2-.5l2,.4l2,.3l2-1.7l2-.8l2,.9l2,.7l2-.8l2-1.3l.6,0l1.4,.7l2,1.5l2-.4l2-.5l2,.2l2,.9l2-.2l2-.9l2,1.2l1.5-.1l.5-.3l2,.6l2-1.2l2,.1l2,.7l2-.7l2,.5l2-1.4l2,.4l2-.1l.4-.2l1.6-.9l2-.4l2,.5l2-.1l2-.1l2,.9l2-1.2l2-.7l2,.3l1.4,0l.6,.1l2,.5l2-.2l2,.9l2-.6l2-.6l2,.2l2-.9l2-.3l2,1.1l.3,0l1.7-.1l2-.3l2-.4l2-.4l2-.4l2-.2l2,.1l2-.2l2,.1l1.2,.1l.8-.1l2-.8l2-.5l2-.7l2-.6l2,1l2,.1l2-.1l2-.2l2-.8l.1,0l1.9-.1l2-.3l2,.1l2-1l2,1.7l.9-.3l0,37.9l-1.9,.1l-2,0l-2-.9l-2,.1l-2,.2l-.9-.1l-1.1-.8l-2-.4l-2,.7l-2-.9l-2,.4l-2-.3l-2-.3l-2,.5l-2,0l-1.8-.1l-.2,.1l-2-.3l-2,.1l-2-.1l-2-.4l-2,.9l-2,.1l-2-.9l-2-1.3l-2,.3l-.7,.1l-1.3-.2l-2,.5l-2,.2l-2-.5l-2,.7l-2,.7l-2-.5l-2-.4l-2,.5l-1.6-.5l-.4-.3l-2,.1l-2,1.9l-2-1.3l-2-.1l-2-.2l-2,.6l-2-.6l-2,.2l-2,1l-.6-.3l-1.4-.2l-2-.3l-2,1.5l-2-.9l-2-.3l-2-.2l-2-.2l-2-.4l-2-1l-1.5,.9l-.5,.2l-2,.6l-2,.2l-2-.5l-2,.1l-2,1.8l-2-.1l-2-.8l-2,.3l-2,.2l-.4,.1l-1.6,.4l-2,1.2l-2,1.1l-2,.6l-2,1.2l-2,.6l-2-.7l-2,1.8l-2,.3l-1.4,.3l-.6-.2l-2,.2l-2,0l-2-.7l-2-.5l-2-.9l-2,.3l-2,0l-2,1.4l-2-.4l-.3,.2l-1.7,1.2l-2-.2l-2,.3l-2-.9l-2-.4l-2,.8l-2,.3l-2,.3l-2-.4l-1.2,.5l-.8,.1l-2-.6l-2,.4l-2,.9l-2-1.5l-2-.1l-2-.2l-2,0l-2,.4l-2,.4l-.1,0l-1.9-.3l-2,.5l-2,.2l-2-.4l-2-.4l-2-.7l-2,.1l-2,0l-2,.1l-1.1-.3l-.9,.2l-2,.9l-2-.4l-2,0l-2-.3l-2,.5l-2,.7l-2-.5l-2,.9l-2-.9l-2,.6l-2-.4l-2-.6l-2,.3l-1.9,.8l-.1,.1l-2,.3l-2,.1l-2,.3l-2-.6l-2,1.2l-2,.3l-2-.2l-2,.1l-2-.2l-.8,0l-1.2-.3l-2,.3l-2,.9l-2,0l-2-.2l-2,.9l-2,0l-2,.6l-2,.6l-1.7,.2l-.3,.1l-2,.6l-2,.1l-2,.3l-2,.2l-2-.2l-2-.4l-2,.5l-2,.8l-2,.7l-.6,.7l-1.4,.4l-2-1.3l-2,1.4l-2-.6l-2,.4l-2,1.2l-2-.5l-2-.4l-2,0l-1.6,.4l-.4,.3l-2-.3l-2,1.5l-2-.1l-2,0l-2,.9l-2,0l-2,.1l-2,1l-2,0l-.5,.2l-1.5,.5l-2,.9l-2,.4l-2,1l-2,.1l-2,.3l-2,.9l-2,.9l-2,1.4l-1.4,.3l-.6-.1l-2,.2l-2,1.3l-2,1.7l-2,.4l-2,.9l-2,1.5l-2,.8l-2,.9l-2,.8l-.4,.2l-1.6,1.1l-2,.8l-2,1.2l-2,.1l-1.8,.4l-.2,.2l-2,1l-2,1l-2,1l-2,.9l-1.3,.2l-.7-.2l-2,.7l-2,1.1l-2,2.2l-2-.5l-.8,.2l-1.2,1.2l-2,1.4l-2,2.3l-2,.9l-2,2.1l-.2,0l-1.8,1.1l-2,2.9l-2,1l-2,2l-1.7,.7l-.3,.3l-2,2.6l-2,.7l-2,1.6l-2,2.2l-1.1,.7l-.9,.5l-2,1.5l-2,2.5l-2,.7l-.7,.4l-1.3,3.1l-2,4.6l-2,4.3l-.4,.8l-1.6,4.1l-2,4.8l-.2,.3l-1.8,7.2l-2,8.3l0,.4l-2,9.7l-1.8,8.4l-.2,3.8l-2,25l-1.5,18.9l-.5,3.9l-2,15l-1.3,9.5l-.7,2.4l-2,6.4l-2,6.6Z" fill="#E83323" fill-opacity="0.2"/>
<path d="M135.0,1451.0l1.5-10l1.5-9.9l.8-5.2l.7-11.9l1.5-25l.6-10.4l.9-9.8l1.5-17.1l.5-5.2l1-6.3l1.5-8.9l1.2-7.6l.3-.9l1.5-5.6l1.5-5.5l1.5-5.1l.9-3.5l.6-1.4l1.5-3.2l1.5-2.5l1.5-2.8l.6-1.4l.9-1.1l1.5-2l1.5-2l1.5-2l.3-.4l1.2-.8l1.5-.7l1.5-1.1l1.5-1l1.5-1.3l.4-.2l1.1-.8l1.5-1.3l1.5-1.7l1.5-1l1.5-1.5l1.5-.9l.8-.7l.7-.5l1.5-1.1l1.5-.8l1.5-1l1.5-.8l1.5-.9l1.3-1l.2-.2l1.5-1.3l1.5-1.7l1.5-1l1.5-.8l1.5-1.3l1.5-1.3l.2-.2l1.3-.4l1.5-.7l1.5-.8l1.5-.5l1.5-.4l1.5-.7l.7-.3l.8-.3l1.5-.3l1.5-.3l1.5-.8l1.5-.5l1.5-.5l1.2-.1l.3-.2l1.5-.8l1.5-.8l1.5,.3l1.5-.6l1.5-.3l1.5-.8l.1-.1l1.4-.6l1.5-.7l1.5-.6l1.5-.3l1.5,.3l1.5-.5l1.5-.6l1.5-.4l1.5-.4l1.5-.1l1.5-.7l1.5-.2l1.1-.2l.4-.1l1.5-.4l1.5,.3l1.5,.2l1.5-.4l1.5-.6l1.5,.1l1.5-.1l1.5,.1l1.5-.2l1.5-.6l1.5,.2l1.5,0l.5-.3l1-.5l1.5-.3l1.5-.1l1.5-.3l1.5,0l1.5-.3l1.5-.5l1.5,0l1.5,0l1.5-.7l1.5-.3l1.5-.1l1.4,0l.1,.1l1.5,0l1.5-.4l1.5-.5l1.5-.1l1.5-.6l1.5,0l1.5-.3l1.5,.4l1.5-.4l1.5-.7l1.5,0l1.5,0l.9-.1l.6-.1l1.5-.4l1.5-.1l1.5,0l1.5-.7l1.5,.1l1.5-.5l1.5-.3l1.5-.1l1.5,.2l1.5,.3l1.5-.7l1.5-.2l.3-.1l1.2-.1l1.5,0l1.5,.6l1.5,.3l1.5-.3l1.5-.3l.8-.3l.7,0l1.5,.4l1.5,.1l1.5,.1l1.5,.6l1.5,1l1.2,.4l.3,0l1.5-.3l1.5-.4l1.5,.2l1.5-.1l1.5-.5l1.5-.1l.2-.1l1.3,.1l1.5,.4l1.5,.1l1.5,.6l1.5,0l1.5-.3l.6,.1l.9-.1l1.5-.2l1.5-.5l1.5-.6l1.5-.6l1.5,.1l1.5-.2l1.5-.2l1.5-.4l1.5,.1l1.2-.2l.3-.1l1.5,.2l1.5-.1l1.5-.3l1.5,.6l1.5,.1l1.5-.6l1.5,.4l1.5,1l.9,.2l.6,.1l1.5-.5l1.5,.3l1.5,.2l.6-.2l.9,.5l1.5,1.1l1.5,1.5l1.5,1.5l.3,.3l1.2-.1l1.5-.5l1.5-1l1.5-.6l1.5,.1l.4,.1l1.1,0l1.5-.4l1.5-.9l1.5-.7l1.5-.1l1.5-.2l1.5-.2l1.2-.2l.3,.1l1.5-.1l1.5,0l1.5,0l1.5,.4l1.5-.4l1.5-.4l1.5,.9l1.5-.2l1-.1l.5,.1l1.5,.7l1.5,.9l1.5,.3l1.5,.3l1.5,.4l1.4,.5l.1,0l1.5-.9l1.5-.1l1.5-.4l1.5-.6l1.5-.4l1.5,.1l1.5-.4l1.5-.3l1.2-.3l.3-.1l1.5-.1l1.5,.7l1.5-.2l1.5-.2l1.5,.7l1.5-.7l.1-.1l1.4-.4l1.5-.3l1.5-.1l1.5-.1l1.5-.5l1.5-.8l1.5-.4l1-.3l.5-.1l1.5-.2l1.5-.5l1.5,.7l1.5,.2l1.5-.9l1.5,.2l1.5,.3l.4,0l1.1,.1l1.5,.6l1.5,0l1.5,.1l1.5,.1l1.5,.2l1.5,.1l1.2,.1l.3,.1l1.5,.5l1.5,.6l1.5,.2l1.5,.3l1.5-.2l1.5-.1l1.5-.1l.6,0l.9-.5l1.5,.2l1.5-.6l1.5-1.1l1.5-.6l1.5-.3l1-.6l.5-.1l1.5-.3l1.5-.2l1.5-.4l1.5,.6l1.5,.2l1.5,.3l1.5,.2l1.5,.2l.8-.2l.7,.2l1.5,.7l1.5,.2l1.5,.3l1.5,.5l.9,.5l.6,0l1.5-.1l1.5,0l1.5,.3l1.5,.3l1.5-.1l1.5-.2l1.5-.6l1.5,.1l1.5,.7l1.5,.1l1.5-.5l1.5-.4l.3,0l1.2-.1l1.5,0l1.5,0l1.5-.1l1.5,.1l1.5,.5l.8,0l.7-.3l1.5-.2l1.5-1.3l1.5-.4l1.5,.4l1.5-.5l1.5-.7l1.5-1l.1,0l1.4,.1l1.5,.4l1.5-.1l1.5,.4l1.5,.3l1.5-.7l1.5,1l1.5,.1l1.4,.1l.1,0l1.5-.1l1.5-.2l1.5,.2l1.5,0l1.5,0l1.5-.3l1.5-.5l1.5-.2l1.5-.3l.9,.1" fill="none" stroke="#0000FF" stroke-width="1.55" stroke-linejoin="round" stroke-dasharray="1.30 2.14"/>
<path d="M135.0,1450.6l1-8.7l1-8.8l.8-7.4l.2-4.8l1-29.9l.7-21.8l.3-6.7l1-25l.6-15.8l.4-4.3l1-11.3l1-10.9l.5-5.1l.5-3.1l1-5.8l1-6.5l1-6.4l.2-1.6l.8-2.4l1-3.4l1-3l1-2.5l1-3l.9-3.1l.1-.1l1-1.2l1-2l1-1.6l1-1.7l1-2.2l.6-.9l.4-.4l1,.2l1,0l1-.5l1-1.4l1-2l.3-.1l.7-.6l1-.2l1-.9l1-.4l1-1.4l1-1.7l1-.7l.9-1.3l.1-.2l1-.4l1-.6l1-1.1l1-.8l1-.3l1-.6l1-.6l1-1l1-1.1l.3,.2l.7,.8l1,1.7l1,.1l.4,.3l.3,10.7l.3-2.9l.5-5.4l.5-.4l1-1.7l1-1.7l1-1l1-1.6l.8-1.1l.2-.2l1,.5l1-.6l1-.7l1-1.1l1-1l1,.3l1,.2l1,.4l1,.7l.2,0l.8,0l1-.2l1-1.3l1-1.1l1,.4l1-.7l1-1.2l1,1.2l1,1l.7-1.4l.3-.1l.3,.6l.4,5.9l.3-1.5l.6-1.9l.4,.5l1,0l1-1.5l1-2.3l1-.7l1,1l1,.7l1,.5l.2-.1l.8-.3l1-.9l1,.5l1,.6l1-1.2l1-1.6l1,.7l1,.9l1-.9l.6-.6l.4-.3l1-.5l1-.5l1-.5l1,.8l1,.1l1-.1l1,1.3l1,1.1l1-1.2l1-1.2l1-.6l1-.6l1-.1l1,.5l1-.5l1-.6l1,.6l1,.2l.6,.1l.4,0l1,0l1,1.1l1,.8l1-.7l1-.2l1-.1l1,0l1-.5l1-.7l1-.2l1-.1l1,.6l1-1.2l1-1.8l1,0l1,.3l1,.1l1,.2l.5-.3l.5-.2l1-.5l1,1l1-.3l1-.7l1,0l1,.3l1-.5l1-1.3l1-.6l1,1.7l1,1.2l1-.7l1-.3l1,.2l1,.6l1,.2l1-.3l1-.9l.4-.2l.6,.2l1,.9l1,1.6l1,2l.2,.3l.8-.3l1-1.8l1-.4l1-.9l1-1.5l.9-1l.1,0l1-.3l1-.7l1-.6l1-.2l1-.3l1-.8l1-.1l1,.3l1,0l1-.1l1,.3l1-.5l1-1.1l1-.4l1,.1l1,.3l.9-.7l.1,0l1,.3l1,1.3l1,1.8l1-.1l1-.4l1,.4l1,1l.5,.4l.5,0l1-.9l1-.8l1-.2l1,.2l1-.1l1-1.4l1-1.7l1,.1l1,1.1l1,.2l1-.5l1-.1l1-.3l1-.3l.6,.3l.4,.3l1,0l1,.7l1,.8l1,1.1l1,.1l1-.2l1,.1l.2,0l.8-.5l1,.2l1,.8l1-1.1l1-.5l1,.6l1-.8l1-.7l1,.6l.7,.1l.3,.2l1-.1l1,.6l1,.8l1-.2l1-1.6l1-.7l1-.7l1-.3l1,.8l.1,.1l.9,.3l1,0l1-.5l1-.4l1,.1l1,.2l1,.2l1-.1l1-1.2l1-1.3l1,.3l1,.1l1-.5l.8,.1l.2,.3l1,1.5l1,1.6l1,1.4l.6,1l.4,.1l1-.2l1-1.5l1-1.2l1-.5l1,.6l1,1l1,.1l1,.5l1-.4l1-1.5l.9-.6l.1,0l1-.2l1-.7l1-.9l1-.6l1,.4l1,.3l1,.6l1,.9l1-.4l1-.9l1,.8l1,.7l1,0l.2,0l.8,0l1,.7l1-.1l1-.5l1,.9l1,1.1l1-.3l.8-.7l.2-.3l1-.8l1,.2l1,1.2l1,.8l1,0l1,.8l1,.9l1,1.3l1-.6l.2-.6l.8-1.8l1-1.8l1,.9l1,1.6l1,.1l1-.1l1-.1l1-.1l1,.8l1-.4l1-.4l1-.3l1,0l.5,0l.5-.1l1-.7l1-.5l1-.7l1-.5l1-.8l1-.8l1,.4l1,1.2l.9,1.5l.1,.1l1-.4l1-.8l1,1.1l1,.9l1,.7l.6,.5l.4,.1l1-1l1-1.1l1,1l1,.8l1-.7l1-.3l1,.8l1-.3l1,0l1,.8l1-.3l1-.6l1,.6l1-.5l1-.6l1-.6l.6,.5l.4,.3l1,.9l1,0l1,0l1-.1l1-.4l1-.1l1,0l1-.2l1,.5l1-.1l1-.5l1-.3l1-.3l1-.5l1-.2l1-.8l1,.1l1,.5l.6,0l.4,.1l1-.2l1-.4l1-1.2l1,.4l1,1.2l1-.4l1-.3l1-.2l1-2l1-.3l1,1.7l1,1.1l1-.1l1,.1l1,1.1l1-.4l1-1.7l1-.4l.5,.2l.5,.3l1-.7l1-1l1,1.3l1,1.2l1,.8l1,.2l1,.5l1-.1l1-.8l1-.1l1,1l1,.7l.8,0l.2-.1l1-.4l1,.4l1-.2l1-1l1-.1l1,.1l1-1.1l1-.8l1,1.2l1,0l1-.7l1,1.7l1-.1l1-2.2l.9-1l.1,0l1,.3l1,.1l1-.7l1-.5l1,0l1-.1l1,.7l1,.5l1-.4l.4-.4l.6-.8l1-.3l1,.7l1-.3l1-1.2l1,.4l1,2.1l1,.5l1-1.1l.8-.9l.2-.1l1-.3l1,0l1-.6l1,.3l1-1l1-.2l1,.7l1-.2l1,0l.3,.2l.7,.3l1-.4l1-.1l1-.2l1-.4l1-.3l1,0l1,1l1,.7l1-.2l1-.3l1-1.1l1,.6l1,.6l1-.6l1,.1l1,.1l1-.5l1-.9l.2-.1l.8-.1l1,1.5l1,1.9l1-.1l1-.2l1,.5l1,.1l1-.2l1,.3l.7-.4l.3-.2l1-.5l1-.7l1,.1l1-.6l1-.3l1,1.4l1,1.2l1,.8l1,.4l.1-.2l.9-1.3l1,0l1,1.1l1,.4l1-.2l1-.3l1,.1l1-.5l1,.6l1,1l.9-.3" fill="none" stroke="#75147C" stroke-width="1.55" stroke-linejoin="round" stroke-dasharray="8.29 2.07 1.30 2.07"/>
<path d="M135.0,1451.0l3-5.3l2.7-4.6l.3-1.7l2.5-13.5l.5-3.2l2.4-15.9l.6-4.9l3-22.3l.1-1.1l2.9-14.2l.9-4.6l2.1-7.4l1.7-6.2l1.3-4.7l2.5-10l.5-2.6l1.4-6.9l1.6-3.3l3-6.1l1.1-1.9l1.9-2.7l3-3.7l2.6-3.2l.4-.4l3-3.3l3-2.5l1.2-1.4l1.8-1.5l3-2.1l2.8-1.9l.2-.1l3-1.9l3-1.6l3-2.4l.2-.2l2.8-1.1l3-2l3-1.5l.7-.3l2.3-1.1l3-.7l3-1.2l1.2-.4l1.8-.5l3-1.9l3-1.3l1.6-1.1l1.4,0l3,.4l3,.2l3,0l1-.2l2-1l3-1.6l2.6-.9l.4-.1l3-1.4l3-1.1l3-1l0,0l3,.3l3,.4l3-.6l.5-.1l2.5-.5l3-1.5l3-1.1l1-.3l2,.3l3,.2l3,.7l1.4,0l1.6-1.2l3-1l3-1.8l1.9-.8l1.1-.2l3-.3l3-.8l2.4,0l.6,.2l3-1.7l3-.4l2.8-.7l.2,0l3-.6l3,.1l3-.1l.3,0l2.7-.9l3-.4l3-.5l.8-.1l2.2,0l3-.9l3-.7l1.2-.5l1.8-.2l3-.2l3-.7l1.7-.2l1.3,.3l3-.5l3-.2l2.1,.3l.9-.2l3-.4l3-.8l3-.5l3-.4l3-1.2l3-.3l3-.4l3-.2l3-.9l.9-.3l2.1-.4l3-.3l3-.1l3-.2l3-.8l3,.1l1.9-.7l1.1-.4l3,0l3-.9l3-.1l3-.7l3,.2l2.8-.2l.2-.1l3-.4l3-.6l3,.5l3-.7l3-.2l3-.2l.7-.1l2.3-.1l3,.3l3,0l3-.3l3,0l3-.3l1.6,.3l1.4-.3l3-.7l3-.3l3-.3l3-.5l3-.2l2.6-.5l.4-.2l3,.2l3-.8l3,.4l3-.5l3-.6l3-.3l.5-.2l2.5-.3l3-.1l3,.2l3-.1l3,.1l3-.1l1.4,.3l1.6-.3l3-.2l3-.5l3,.3l3-.8l3,.4l2.4-.1l.6-.1l3-.3l3,.2l3-.6l3-.5l3-.3l3-.6l.3,.1l2.7,.5l3-1.3l3,.2l3-1l3,0l3-.2l1.2-.4l1.8-.2l3-.2l3,0l3-.6l3,.1l3-.6l2.1,.5l.9-.1l3,.5l3-.5l3,.7l.9-.3" fill="none" stroke="#3A7D22" stroke-width="1.55" stroke-linejoin="round" stroke-dasharray="6.48 3.89 1.30 3.89 1.30 3.89"/>
<path d="M135.0,1451.0l3-12.3l.8-3.3l2.2-22l.6-6.4l2.4-31.6l.5-6.1l2.5-25.2l.3-3l2.7-18.2l.1-.9l2.9-11.3l.9-3.8l2.1-5.6l3-7.8l.6-1.6l2.4-3.5l3-3.8l.3-.4l2.7-2.2l3-2.3l1.9-1.6l1.1-.8l3-2.6l3-2.2l2.3-1.5l.7-.5l3-2.1l3-2.1l2.8-2l.2-.1l3-1.7l3-2l3-1.2l.2-.2l2.8-1.3l3-1.8l3-1.2l.7-.2l2.3-1.2l3-1.6l3-1.1l1.2-.7l1.8-.8l3-1.8l3-1.4l1.6-.7l1.4-.7l3-1.1l3-1.1l2.1-.8l.9-.5l3-1l3-.4l2.6-.9l.4-.1l3-.3l3-.2l3-.5l3-.6l3-.6l3,0l.5-.1l2.5-1.9l1.3-.9l1.7-.4l3-.2l3-.9l3-.6l3-.7l1.4-.7l1.6-.3l3-.3l3-.4l3-.4l3-.3l3-.9l2.4-.1l.6-.1l3-.4l3-.3l3-.2l3-.4l3-.4l3-.2l.3-.1l2.7-.2l3,.2l3-.3l.8,.1l2.2-.5l3-.5l3-.5l1.2-.3l1.8,0l3-1.2l3-.5l1.7-.3l1.3,0l3-.3l3-.5l2.1-.2l.9-.2l3,.9l3-.1l3-.6l3,.2l2.7,.4l.3,0l3-.9l3-.1l3-.9l3,0l.9-.3l2.1,.1l3,.2l3-.3l3-.1l3,0l3-.4l1.9,.4l1.1,0l3,.6l3-.2l3,0l3,.2l3,.1l2.8-.2l.2,0l3-.3l3-.3l3-.3l3-.7l3-.1l3-.6l.7-.3l2.3,.2l3,0l3,0l3,.3l3,.2l.9,.3l2.1-.8l3-1l2.4-.7l.6-.3l3-.6l3-.5l3-1l3-1l2.6-.6l.4,0l3,0l3,.2l3-.7l3,.5l3-.5l3-.5l.5,0l2.5,.4l3-.6l3-.4l3-.2l3-.5l3-.4l1.4-.1l1.6,.5l3-.1l3,.5l1.9-.2l1.1,.3l3-.1l3,.3l3-.2l3,.3l3-.4l2.8,0l.2,0l3-.2l3-.8l3-.7l3-.2l3-.2l1.9-.2l1.1,.2l3,.5l3,.3l3,.7l1.2,0l1.8-.3l3,.6l3-.1l3,.4l3,.4l1.4,.4l1.6-.1l3-.4l3,.2l3,0l3-.3l.9,0" fill="none" stroke="#E83323" stroke-width="1.55" stroke-linejoin="round"/>
</g>
<text x="135.0" y="1474.6" font-size="19.93" text-anchor="middle" fill="#262626" textLength="12.0" lengthAdjust="spacingAndGlyphs">0</text>
<text x="230.0" y="1474.6" font-size="19.93" text-anchor="middle" fill="#262626" textLength="12.0" lengthAdjust="spacingAndGlyphs">1</text>
<text x="325.0" y="1474.6" font-size="19.93" text-anchor="middle" fill="#262626" textLength="12.0" lengthAdjust="spacingAndGlyphs">2</text>
<text x="420.0" y="1474.6" font-size="19.93" text-anchor="middle" fill="#262626" textLength="12.0" lengthAdjust="spacingAndGlyphs">3</text>
<text x="515.0" y="1474.6" font-size="19.93" text-anchor="middle" fill="#262626" textLength="12.0" lengthAdjust="spacingAndGlyphs">4</text>
<text x="610.0" y="1474.6" font-size="19.93" text-anchor="middle" fill="#262626" textLength="12.0" lengthAdjust="spacingAndGlyphs">5</text>
<text x="125.5" y="1458.7" font-size="19.93" text-anchor="end" fill="#262626" textLength="12.0" lengthAdjust="spacingAndGlyphs">0</text>
<text x="125.5" y="1405.6" font-size="19.93" text-anchor="end" fill="#262626" textLength="47.8" lengthAdjust="spacingAndGlyphs">2000</text>
<text x="125.5" y="1352.4" font-size="19.93" text-anchor="end" fill="#262626" textLength="47.8" lengthAdjust="spacingAndGlyphs">4000</text>
<text x="125.5" y="1299.3" font-size="19.93" text-anchor="end" fill="#262626" textLength="47.8" lengthAdjust="spacingAndGlyphs">6000</text>
<text x="125.5" y="1246.1" font-size="19.93" text-anchor="end" fill="#262626" textLength="47.8" lengthAdjust="spacingAndGlyphs">8000</text>
<text x="125.5" y="1193.0" font-size="19.93" text-anchor="end" fill="#262626" textLength="59.8" lengthAdjust="spacingAndGlyphs">10000</text>
<text x="602.1" y="1495.5" font-size="19.27" text-anchor="end" fill="#262626" textLength="39.7" lengthAdjust="spacingAndGlyphs">×10</text>
<text x="610.5" y="1488.8" font-size="13.95" text-anchor="end" fill="#262626" textLength="8.4" lengthAdjust="spacingAndGlyphs">9</text>
<text x="372.5" y="1504.0" font-size="28.94" text-anchor="middle" fill="#262626" textLength="140.4" lengthAdjust="spacingAndGlyphs">Env Steps</text>
<text x="372.5" y="1153.9" font-size="30.84" text-anchor="middle" fill="#262626" textLength="154.4" lengthAdjust="spacingAndGlyphs">Humanoid</text>
<text x="0" y="0" transform="translate(56.6,1306.0) rotate(-90)" font-size="28.94" text-anchor="middle" fill="#262626" textLength="239.7" lengthAdjust="spacingAndGlyphs">Episode Rewards</text>
</g>
<g id="P8">
<rect x="730" y="1161" width="510" height="290" fill="#EAEAF2"/>
<clipPath id="cP8"><rect x="730" y="1161" width="510" height="290"/></clipPath>
<path d="M730.00,1161V1451M832.00,1161V1451M934.00,1161V1451M1036.00,1161V1451M1138.00,1161V1451M1239.97,1161V1451M730,1450.97H1240M730,1378.30H1240M730,1306.10H1240M730,1233.90H1240" stroke="#fff" stroke-width="0.94" fill="none" clip-path="url(#cP8)"/>
<g clip-path="url(#cP8)">
<path d="M730.0,1444.3l1.5-25l1.5-24.6l.8-13.2l.7-28.4l1.2-47.7l.3-6.6l1.5-29.9l.1-1.3l1.4-18.4l1.4-18.9l.1-.5l1.5-6.9l1.5-5.8l1.5-6.2l.1-.5l1.4-1l1.5-2.9l1.5-1.7l1.3-.7l.2,0l1.5-.8l1.5-1.3l1.5-1l1.5-1.6l1.4-.3l.1,0l1.5-.5l1.5,.7l1.5-.1l1.5,2l1.5-1.8l1.5,1.7l1.5,1.7l1.5-2.7l1.5-.3l1.5,.8l1.5,.2l1.5,0l.8-.1l.7,.1l1.5-1.1l1.5-2.7l1.5,2.5l1.5,3.6l1.5-.9l1.5-2.1l1.5-.6l1.5,.6l1.5-.6l1.5-.8l1.5,.8l1.5,.1l1.5-.8l1.5,1.8l1.5,.7l1.5-.3l1.5-1.4l1.5-1.1l.7-.7l.8,.9l1.5,0l1.5-3.8l1.5-.9l1.5-1.3l1.5,2.2l1.5,2.9l1.5-1.5l1.5,.1l1.5,1.7l1.5,1.4l1.5,1.4l1.5-.4l1.5-4.3l1.5-1.5l1.5,3.5l1.5,.8l1.5-1.3l.2,0l1.3-.4l1.5,.9l1.5,1.9l1.5-2.3l1.5-1.8l1.5,.5l1.5,4.1l1.5,.9l1.5,.1l1.5-.9l1.5,.9l1.5,2.2l1.1-2.2l.4-1.1l1.5-2.2l1.5-.5l1.5,.7l1.5-1.3l1.5-.7l1.5-.8l1.5-.7l1.5,2l1.5,0l1.5,1.1l1.5,.1l1.5,.4l1.5-.2l1,1l.5,1.3l1.5,1.2l1.5-1.4l1.5,1l1.5,0l1.5,2.4l1.5,.6l1.5-2.3l1.5-1.5l1.5,2.1l1.5,.5l1.5,.8l1.5,2.4l.4,.1l1.1-1.3l1.5-1l1.5,.2l1.5,.1l1.5,.5l1.5-1.6l1.5,1.5l1.5-.1l1.5-.8l1.5,.5l1.5,.7l1.5-3.4l1.3,.5l.2,.2l1.5,.6l1.5,2l1.5,2l1.5,.2l1.5-1l1.5-1.4l1.5,.4l1.5-.2l1.5-2.1l1.5-1.2l1.5,2.4l1.5,3l1.5-1.7l1.5-.8l1.5-1.3l1.5,1.4l.4-.1l1.1-.1l1.5-1.4l1.5-.8l1.5,2.9l1.5,2.2l1.5,.2l1.5-.9l1.5-.7l1.5,.8l1.5,.9l1.5-1.8l1.5-1.7l1.5,1.1l1.5-.1l1.5-.2l.6,.2l.9,0l1.5,.5l1.5,.2l1.5,1.4l1.5,.4l1.5,.2l1.5,1.8l1.5-1.3l1.5,.4l1.5-.3l1.5,.2l1.5,1.2l1.5-1l.1,0l1.4,.9l1.5,.2l1.5-1.9l1.5-.8l1.5,1.9l1.5,1.4l1.5-.2l1.5-2.2l1.5,.7l1.5,.1l1.5,.9l1.5-1.9l.5,.2l1,1.5l1.5,1.4l1.5-2.6l1.5-1.3l1.5,.8l1.5-1.6l.9-.1l.6,.6l1.5,.9l1.5-.3l1.5-1.9l1.5,.2l1.5,.2l1.5-1.2l1.5-1.3l1.5-1.3l.7-.3l.8,1.1l1.5,2.4l1.5,0l1.5,.1l1.5,1.1l1.5,.1l1.5,.5l1.5,.3l1.5-3.6l1.5-.5l.8,.4l.7-.2l1.5-2.2l1.5-.6l1.5-1.6l1.5,1.3l1.5,4.1l1.5-1l1.5-1.6l1.5,1.1l1.5-1.2l1-.3l.5,.1l1.5,.1l1.5,1.5l1.5,.6l1.5-.7l1.5,2.3l1.5-.9l1.5-3.7l1.5,.7l.7,1.2l.8,1l1.5,1.8l1.5-1.5l1.5,.9l1.5-.6l1.5-1.2l1.5,0l1.5,.8l1.5,1.6l.5,.6l1-.4l1.5-1.4l1.5-1.8l1.5-1.1l1.5,1.8l1.5-.9l1.5-1.6l1.5,1.1l1.5-.3l1.5-.3l.6,.3l.9,1l1.5-1.1l1.5,.8l1.5-.3l1.5-2.2l1.5,2.9l1.5,2.4l1.5-.8l1.5-.6l.4,.5l1.1,.4l1.5-3.2l1.5,0l1.5,3.4l1.5-.3l1.5-.1l1.5-.3l1.2-.2l.3,.2l1.5,2.3l1.5-1.5l1.5-1.3l1.5,2.5l1.5,.9l1.5-1.1l1.5,1.9l1.5,0l1-.9l.5,.2l1.5-.5l1.5,1.5l1.5,.4l1.5-1.4l1.5-.2l1.4-2.4l.1-.1l1.5-1.5l1.5,.3l1.5-1.2l1.5,1l1.5,1.6l1.5-2.4l1.5,1.4l1.5,0l1.2-1.6l.3-.4l1.5,0l1.5,4.2l1.5-.1l1.5-2.6l1.5,.1l1.5,2.3l1.5,1l.5-.1l1-.4l1.5,.5l1.5,.7l1.5-2.7l1.5-1.2l1.5,3.4l1.5,.4l1.5-3.5l1.5,2.1l.3,.1l1.2,.5l1.5,0l1.5-2l1.5-.6l1.5,1.3l1.5-2.3l1.5-2.1l1.5,1.4l1.5-4.7l1.5-.4l.4,0l1.1,0l1.5,1l1.5,0l1.5,.5l1.5,.5l1.5,1.3l1.5,1.6l1.5,0l1.5-1.7l.2-.1l1.3,1.5l1.5-.1l1.5-1.3l1.5,.7l1.5,1.7l1.5-1.7l.6-.9l.9-1.1l1.5,1l1.5,3.9l1.5-.4l1.5-1.3l1.5-.7l1.5-.4l1.5,.7l1.5,.7l1.5,1.2l.8,1l.7,.7l1.5-.6l1.5-.6l1.5-1.4l1.5-1.8l1.5-1.4l1.5,.5l1.5-1.2l1.5,.2l.5-.2l0,14.1l-.5,.3l-1.5-2l-1.5-.1l-1.5,1.8l-1.5,.2l-1.5-.2l-1.5-.5l-1.5,2.7l-1.5-.2l-.7,1.9l-.8,1.5l-1.5-.1l-1.5-2.5l-1.5-.8l-1.5,1.3l-1.5-1.4l-1.5-.5l-1.5,.3l-1.5,.2l-1.5-.7l-.9-.5l-.6-.1l-1.5,.5l-1.5-1.1l-1.5-.8l-1.5-.4l-1.5-2.4l-1.3,1.1l-.2,.1l-1.5-.6l-1.5,2.7l-1.5,1.3l-1.5-.8l-1.5,3.4l-1.5-1.6l-1.5-1.1l-1.5-.8l-1.1-.2l-.4,.3l-1.5,.5l-1.5-.3l-1.5-.4l-1.5-1.6l-1.5,4.1l-1.5-1.4l-1.5,0l-1.5-.1l-1.5-.6l-1.2-.2l-.3,.3l-1.5,1.8l-1.5,1l-1.5,1.5l-1.5,.1l-1.5,.6l-1.5,1.7l-1.5-.4l-1.5-.6l-1,1.1l-.5-.2l-1.5-3.2l-1.5-.6l-1.5,1.9l-1.5-.7l-1.5-.6l-1.5,0l-1.5,.6l-.3-.1l-1.2,.6l-1.5-.8l-1.5,.4l-1.5-1.3l-1.5-.8l-1.5,2.1l-1.5,0l-1.5,1.2l-1.5-.8l-.1,0l-1.4-1.7l-1.5-.6l-1.5,1.4l-1.5,.8l-1.5-1.6l-1.5-2.8l-.5-.2l-1,3.8l-1.5,1.4l-1.5-2l-1.5-.8l-1.5,3.6l-1.5-.1l-1.5,.3l-1.5,1l-1.5,.5l-.3,0l-1.2-.3l-1.5,0l-1.5,.6l-1.5-1.3l-1.5-1.6l-1.5-.5l-1.5-3.9l-1.1-1.2l-.4,.1l-1.5,2.2l-1.5,1.2l-1.5,1.2l-1.5-1.4l-1.5,.8l-1.5,1.9l-1.5,1.7l-1.5-.6l-.9,1.1l-.6,1.3l-1.5-.5l-1.5-2.6l-1.5-.5l-1.5-1.8l-1.5-.4l-1.5-1.5l-1.5,2.6l-1.5,.3l-1.5,1l-1-.6l-.5,0l-1.5-1.5l-1.5,1.3l-1.5,2.8l-1.5-2.3l-1.5-2.3l-1.5,2.2l-1.5,.4l-1.5-.8l-.8,.6l-.7,.4l-1.5-1.3l-1.5,1.1l-1.5-2.5l-1.5,.5l-1.5,.3l-1.5-2.6l-1.5-2l-1.5,4.7l-.5,.2l-1-.6l-1.5-2.3l-1.5,1.5l-1.5,2.3l-1.5-.2l-1.5-1.1l-1.5,.3l-1.5,2.3l-1.5-1.1l-1.5-1l-.7-1.2l-.8-1.1l-1.5,1.8l-1.5,1.8l-1.5,.4l-1.5-1.1l-1.5,.2l-1.5-1.1l-1.5,2.7l-1.5-.5l-1.5-1.2l-.8,.1l-.7,.3l-1.5-1.8l-1.5-.5l-1.5-1.6l-1.5,1.1l-1.5,1.6l-1.5-2.5l-1.5,2.3l-1.5,.5l-.6-.8l-.9-.7l-1.5,.2l-1.5,1.9l-1.5,.2l-1.5,.7l-1.5,2.6l-1-.6l-.5-.7l-1.5-.7l-1.5,.9l-1.5,2.5l-1.5-.7l-1.5-2.7l-1.5-.4l-1.5,1.4l-1.5,2l-1.5-1.4l-1.5,.2l-1.5-.1l-1.4-.4l-.1,0l-1.5,1l-1.5,.3l-1.5-.6l-1.5,1.4l-1.5,1.1l-1.5,.3l-1.5-1.2l-1.5-3.1l-1.5,1.5l-1.5-.3l-1.5-3.2l-1.5,1.8l-.9-.8l-.6-.2l-1.5-1.1l-1.5-1.9l-1.5,2l-1.5,1.4l-1.5,3.5l-1.5-2.5l-1.5-2.5l-1.5,1.9l-1.5,.6l-1.5,.7l-1.5,.6l-1.5-1l-1.5-2.1l-1.5,3.1l-1.1-1.4l-.4-1l-1.5-1.9l-1.5-1.5l-1.5-.9l-1.5-1.2l-1.5,3.1l-1.5,2.5l-1.5-2.7l-1.5-.3l-1.5,2l-1.5,3.1l-1.5,.1l-1.5-2l-1.5-.3l-1.5-1.5l-1.5,2.3l-1.5-.2l-.2-.1l-1.3,1.6l-1.5,4.1l-1.5-1.2l-1.5-1.1l-1.5-3.7l-1.5-.7l-1.5,.3l-1.5,.3l-1.5-1l-1.5-2l-1.5,.6l-1.5,2.1l-1.1,1.3l-.4,.2l-1.5-1.5l-1.5-.9l-1.5,2.5l-1.5,.4l-1.5-.3l-1.5-.5l-1.5-.2l-1.5-1.8l-1.5,.9l-1.5-1.2l-1.5-.8l-1.5-.3l-.5-.4l-1-1.4l-1.5,1.6l-1.5-2.1l-1.5-2.2l-1.5,.7l-1.5,.5l-1.5-.7l-1.5,2.9l-1.5-.3l-1.5-2l-1.5-1.6l-1.5-.7l-1.5,1.9l-1.5-2.5l-.4-.7l-1.1-.6l-1.5,1.1l-1.5,3.3l-1.5-.5l-1.5,2l-1.5-1.2l-1.5,.5l-1.5,0l-1.5-2.3l-1.5-2.5l-1.5,1.4l-1.5-.7l-1.3-2.3l-.2-.2l-1.5,4.2l-1.5,3.5l-1.5-2.3l-1.5-1.1l-1.5,1.6l-1.5-1.7l-1.5,1l-1.5,1.3l-1.5-.5l-1.5,.6l-1.5,.8l-1.5-1.8l-1.5-2l-1.5,2.1l-1.5,.8l-1.5-.1l-1.5,2.2l-.8,.6l-.7-.6l-1.5-.1l-1.5,.8l-1.5-.9l-1.5-1.6l-1.5-.9l-1.5,.9l-1.5,1.9l-1.5-.9l-1.5-3.6l-1.5-.3l-1.5,.5l-1.5,1.8l-1.5,1.1l-1.5-1l-1.5-2.2l-1.5-.5l-1.5,1.4l-1.5,2.2l-.7,.2l-.8-.5l-1.5-1l-1.5-.1l-1.5,0l-1.5,1.1l-1.5,.7l-1.5,1.1l-1.5-.8l-1.5,.8l-1.5,.6l-1.5-2.7l-1.5-.1l-1.5-1.8l-.1,0l-1.4,3.9l-1.5,2.5l-1.5-1.4l-1.5-.8l-1.5,2.5l-.2,.3l-1.3,1.8l-1.5,1.5l-1.5,1.6l-1.4,1.1l-.1,.6l-1.5,6.3l-1.5,6.1l-1.5,6.5l-.1,.4l-1.4,19.3l-1.4,18.6l-.1,1.4l-1.5,29.9l-.3,6.4l-1.2,47.1l-.7,28.3l-.8,13l-1.5,24.4l-1.5,24.9Z" fill="#0000FF" fill-opacity="0.2"/>
<path d="M730.0,1448.5l1.5-37.3l1.3-33.3l.2-6.4l1.5-59.8l.2-9.2l1.3-40.7l.6-20.1l.9-10.4l1-12.9l.5-2.9l1.5-8l1.5-9.5l.3-1.9l1.2-.8l1.5-.1l1.5-2.3l1.5,0l.9,1.4l.6,.1l1.5-2l1.5-3.3l1.5-5.4l1.5,5.8l1.5,.4l1.5-3.5l1.5-2.2l1.5,2.3l1.5,.6l1.5,.2l1.5,.1l1.5,1.8l1.5-3.1l1.5-2.6l1.5,2.3l1.5,5.1l1.5,2l1.5,3.5l1.5-2.6l1.5,.3l1.5,0l1.5,3.6l1.5,.6l1.5,1.1l1.3-1.5l.2-1.4l1.5-11.2l.2-1.3l1.3,5.1l.6,4.7l.9,3.5l1.5,4l1.5-5.8l1.5-5.8l1.5,2.5l1.5,3.8l1.5,.8l1.5-2.3l1.5,1.4l1.5,.3l1.5,2.9l1.5-.5l1.5,.8l1.5,.4l1.5-5.3l1.5-2.8l1.5-2.1l1.5,1.4l1.5,3.7l1.5,.1l1.5,.2l1.5-3.1l1.5,1.3l1.5-1.8l1.5,1.6l1.5,3.8l1.5-1l1.5-4l.2,.5l1.3,2.6l1.5-1.4l1.5,.4l1.5-1.6l1.5-4.2l1.5,2.2l1.5-.2l1.5,.8l1.5-.2l1.5,4.1l1.5,1.8l1.5-.3l1.5-3.3l1.5,2.5l1.5-2.7l1.5,.5l1.5,3.5l.5,0l1-10.1l.3-1.8l1.2,14.7l.1,1.3l1.4-3.1l1.5-5.4l1.5,.8l1.5-.5l1.5,3.3l1.5-3.4l1.5-.9l1.5-.2l1.5-.7l1.5,6.5l1.5,3.9l1.5-1.1l1.5-.1l1.5-3.3l1.5-2.5l1.5-3.6l1.5,1.2l1.5,3.1l1.5-1.6l1.5,.3l1.5-1.7l1.5,1.8l1.5,1.3l1.5-.1l1.5,2.7l1.5-2.3l1.5-1.5l1.5-.5l1.5,.3l1.5,.2l1.5,.8l1.5,.4l1.5-1.1l1.5,3.1l1.5-2.8l1.5,3.2l1.5-2l1.5,.5l1.5,2.2l.3,.5l1.2,1l1.5-3.8l1.5,.9l1.5,2.8l1.5-3.1l1.5-4.5l1.5-.2l1.5-1.9l1.5,4.7l1.5,1.3l1.5-2.6l1.5,.9l1.5,1.1l1.5,1l1.5-2.6l1.5,3.7l1.5-2.4l1.5-2.8l1.5,0l1.5,1.7l1.5,4.3l1.5,.9l1.5-2l1.5-.6l1.5-1.5l1.5-.8l1.5,4.1l1.5-2.6l1.5,3.7l1.5,1.5l1.5-.7l1.5-1.5l1.5-.7l1.5-3.3l1.5,1.4l1.5,.8l1.5,3.6l1.5-1.8l1.5-1.8l1.5-.2l1.5,3l1.5-1.2l1.5-1.3l1.5-3.7l1.5,2.5l1.5,1.6l1.5-.9l1.5-1.1l1.5,.7l1.5,1.2l1.5-2.5l1.5,2.3l1.5,.9l1.5-.5l1.5-3.4l1.5-.9l.9,2l.6,1.3l1.5-.5l1.5,1.2l1.5,4.2l1.5,.6l1.5-3.2l1.5-2.1l1.5-1.1l1.5,1.7l1.5-.7l1.5-4.1l1.5,1.5l1.5-1.1l1.5,2.9l1.5-.9l1.5-1.5l1.5,3.2l1.5,2.4l1.5-1.1l1.5-1.7l1.5,2l1.5-.1l1.5-1.3l1.5-3.3l1.5,2l1.5,2.1l1.5-1.5l1.5-3.1l1.5,1l1.5,2.3l1.4,.8l.1-.6l1.5-5.3l1.2-1.6l.3-.6l1.5-1.8l1,.4l.5,1.9l1.4,4.5l.1-.3l1.5,.6l1.5-1.2l1.5,0l1.5-1l1.5,1.8l1.5-1.8l1.5,.6l1.5,.6l1.5,1.2l1.5,.5l1.5-1.4l1.5-2.8l1.5-.3l1.5-1.9l1.5,.8l1.5,4.7l1.5-1.6l1.5-1.7l1.5,4.9l1.5,1.5l1.5-.4l1.5-1.6l1.5,2.8l1.5,0l1.5,1.5l1.5-4.1l.7,.7l.8-1.3l1.5-4.7l.5-2.5l1,.8l1.5,5.5l.4,.6l1.1-.2l1.5,4.3l1.5,1.5l1.5-4.1l1.5-.2l1.5-.9l1.5,3.7l1.5-.7l1.5-1.3l1.5-1.6l1.5-.9l1.5,.9l1.5-.5l1.5,4.1l1.5-4.5l1.5-1.8l1.5,1.1l1.5,.2l1.5,2.4l1.5-2.7l1.5,.9l1.5,2.7l1.5,.8l1.5,.3l1.5-1l1.5-3.2l1.5,.3l1.5,.2l1.5,0l1.3,2.4l.2-.1l1.5-2.8l1.2-6.8l.3-.1l1.5,4.1l1,3.7l.5,.5l1.5,2.5l1.5-.3l1.5-.8l1.5-.6l1.5,.9l1.5,1l1.5,1.2l1.5,1l1.5-.8l1.5-.3l1.5-1.3l1.5,1.2l1.5,2.5l1.5,4l1.5-6.8l1.5-1.9l1.5,2.1l1.5,.8l1.5-1l1.5-2.1l1.5-.2l1.5,0l1.5,1.7l1.5-1.9l1.5,2.8l1.5,2.9l1.5-3.6l1.5,1.7l1.5,.7l1.5-1.1l1.5-3.6l1.5,1.5l1.5-1.5l1.5-2.4l1.5,.4l1.5,.8l1.5-2.3l1.5,1.1l1.5-.9l1.5,2.8l1.5,.1l1.5,4l1.5-1.1l1.5-1.9l1.5-2.2l1.5-2.2l1.5-.8l1.5,2.5l1.5,1.7l1.5-3.8l1.5,.8l1.5,0l1.5,.2l1.5,1.3l1.5-1.6l1.5,0l1.5,.6l1.5-.5l.5-.6l0,24.6l-1.1,1l-1.4-.5l-1.6,1.9l-1.4,2.3l-1.6-4.1l-1.4-3.8l0,0l-1.6,4.6l-.3,1.6l-1.1-.3l-.8-1.7l-.8,.7l-1.4,2.5l-1.6-.2l-1.4,.1l-1.6,2.1l-1.4,.6l-1.6,.7l-1.4-3l-1.6-1.1l-1.4,1.6l-1.6-.4l-1.4-.9l-1.6-1.5l-.1-.3l-1.3,1.6l-.6,1.5l-1-1.8l-.9-.7l-.5,.9l-1.6,1.2l-1.4-.9l-1.6-.2l-1.4,1.5l-1.6-1.1l-1.4-.3l-1.6-1.3l-1.4-2.4l-1.6,1.1l-1.4,.4l-1.6,.4l-1.4,2.8l-1.6-1.6l-1.4-1.5l-1.2-.7l-.4,1.2l-1.4,6.1l-.1,0l-1.5-5.5l-.4-.9l-1-.8l-1.6-2l-1.4-.2l-1.6-.6l-1.4,6.1l-1.6-.6l-1.4-1.5l-1.6,2.4l-1.4-2.8l-1.2-2.2l-.4,1.4l-1.4,5.6l-.1,.1l-1.5-3.2l-.4-.6l-1,.7l-1.6,1.6l-1.4-1l-1.6,1.7l-1.4,4.3l-.5,1.4l-1.1,11.6l-1.4,15l-1.3,8l-.3-2.6l-1.4-15l-1.6-12.5l-.5-5.5l-.9-1.5l-1.6,.8l-1.4-2.4l-1.6-2.8l-1.4-1.4l-1.6,.5l0,0l-1.4,5.5l-.5,1.2l-1.1-4.5l-.8-2.2l-.6,1.6l-1.6-1.7l-1.4-1.4l-1.6-2.9l-1.4-1.5l-1.6,1.5l-1.4,1l-1.6,2.7l-1.4,2l-1.6-.6l-1.4-2.8l-1.6,1.6l-1.4-1.5l-1.6,.1l-1.4-.7l-1.6,1.4l-1.4,.5l-1.6,.8l-1.3,1.9l-.1,.6l-1.6,4.2l-.2,.7l-1.2-2l-.6-.8l-1,.3l-1.4-2.7l-1.6-3.6l-1.4-.4l-1.6,.2l-1.4,4l-1.6,1.6l-1.4,.9l-1.6-4.7l-1.4-5.1l-1.6,5l-1.4,.7l-1.6-.2l-1.4-3.2l-.5-.9l-1.1,3.5l-.8,4.4l-.6-1.2l-1.2-3.2l-.4-.2l-1.4,.8l-1.6,1.9l-1.4-2.9l-1.6,2.5l-1.4,2.5l-1.6,1.2l-1.4-1.3l-1.6-2.1l-1.4-1.2l-1.4,1.3l-.2,.7l-1.4,5.1l-1.2,5.4l-.4,.7l-1.4,.3l-.1-.3l-1.5,6.1l-1.4,9.9l0-.3l-1.6-5.4l-1.4-7.3l-1.6-8.3l-.1-.7l-1.3,2l-1.5,3.6l-.1-.1l-1.4-6.6l-.4-1.2l-1.2,.1l-1.4-3.8l-1.2,0l-.4,2.2l-1.4,9.6l-.1,.3l-1.5-6.3l-.4-1.8l-1-.7l-1.6-5l-1.4,.6l-1.6,2.3l-1.4-.9l-1.6-4.3l-.9-.2l-.5,1.5l-1.6,2.6l-1.4-1.9l-1.6,5.1l-.5,.9l-.9-3.6l-1.6-2.5l-1.3,1l-.1,.2l-1.6,.3l-1.4-.9l-1.6-2.2l-1.4-1.3l-1.6,1.3l-1.4-.2l-1.6-4.4l-1.4,1.1l-1.6-.7l-1.4-.2l-.1,0l-1.5,.5l-1.4,.4l-1.6-2.7l-1.4,1.7l-1.6,1.7l-1.4,1.3l-1.6,3.4l-1.4,.9l-1.6,.4l-1.4-3.5l-1.6-1.5l-1.4,2.6l-1.6-1l-1.4-1.3l-1.6,1.3l-1.4-2l-1.6,.2l-1.4,1.1l-1.6-1.9l-1.4,1.4l-1.6,5.9l-1.4-4.5l-1.6-.4l-1.4-.5l-1.6-2.5l-1.4,5.3l-1.6-2.1l-1.4-.7l-1.6,1.4l-1.4-2.4l-1.6,2.4l-1.4-1.9l-1.6,1.5l-1.4,3.6l-1.6-1.1l-1.4,.9l-1.6-4.2l-1.4,1.2l-1.6,2.9l-1.4,2.6l-1.6-1.7l-1.4-2.3l0,.9l-1.6,14.1l-.2,2.4l-1.2-9.8l-1.6-7.8l-.1-.3l-1.3,11.2l-.6,1l-1-12.5l-.5-5.4l-.9,1.1l-1.6,1.5l-1.4,1l-1.6,1.7l-1.4,1.1l-1.6-2.9l-1.4,.2l-1.6-1.2l-1.4,1.2l-1.6,2.4l-1.4,.7l-1.6,.5l-1.4-3.8l-1.6-4.1l-1.1-.5l-.3,3.3l-1.2,9.8l-.4-1.6l-1.1-6.1l-.3,.5l-1.6,.5l-1.4,.3l-1.6,.4l-1.4-.3l-1.6,1.6l-1.4-2.5l-1.6-4.7l-1.4,4.2l-1.6-1.2l-1.4,1l0,.4l-1.5,13.8l-.1-.2l-1.4-16.8l-1.6-.6l-1.4,1.5l-1.6,4l-1.4-7.7l-1.6,1.7l-1.4-.9l-1.6,.3l-1.4-1l-1.6,1.9l-1.4-1.5l-1.5,4l-.1,.4l-1.4,14.1l0-.1l-1.6-14.6l-1.4-1.8l-1.6,1.7l-1.4,4.2l-1.6,.8l-1.4,1.2l-1.6-4.9l-.6-2.5l-.8,26l-.7,22.9l-.9-24l-.6-21.4l-.8-1.5l-1.6,3.1l-1.4-2.9l-1.6-3.3l-1.4,.7l-1.6,3.4l-1.4,2.6l-1.6-1.5l-1.4-1.8l-1.6,2.8l-1.4,.4l-1.6,3.6l-1.4,1.3l-1.6-4.2l-.4-2.2l-1,6.7l-1,10.8l-.6-7.4l-1.2-15.1l-.2-.2l-1.6,2l-1.4,1.5l-1.6-.2l-1.4-4.3l-1.6-.8l-1.4,4.2l-1.6,1.6l-1.4-2.9l-1.6-3.2l-1.4,3.5l-1.6-.1l-1.4,4.8l-1.6,0l-1.4-2.2l-.2-.2l-1.4,14.9l-1.3-17.7l-.1,0l-1.6,2.5l-1.4,.4l-1.6,.6l-1.4,1.9l-1.6,.5l-1.4,1.4l-1.5,2l-.1,.6l-1.2,9.1l-.2-3.1l-1.6-13.7l-.1-.9l-1.3,.5l-1.6-3.4l-1.4,2.6l-1.6,2.6l-1.4,5.7l-1.6,1.3l-.6,.7l-.8,26.4l-1,26.5l-.6-15.2l-1.4-40.9l0,0l-1.6,.1l-1.4-4.8l-1.6,.5l-1.4,2l-1.6,1.1l-1.4-.6l-1.6-3.2l-1.4-2.5l-1.6-1.4l-1.4,1l-1.6,.9l-1.4-3.2l-1.6,4.7l-1.4-.7l-1.6-1.7l-1.4-.7l-1.6-1.4l-1.4-.7l-1-.8l-.6,26.6l-.7,33.5l-.7-37.2l-.4-17.6l-1.2,1.6l-1.4-4.1l-.1,0l-1.5,4.8l-1.4,4.8l-1.6-1.7l-1.4,2.1l-.7,1l-.9,7.4l-1.4,12.3l-1.5,11l-.1,2.4l-1.4,50.5l-1.3,41.1l-.3,9l-1.4,59.6l-.2,6.4l-1.4,11.5l-1.4,12.7Z" fill="#75147C" fill-opacity="0.2"/>
<path d="M730.0,1446.4l2-8.2l1.8-7.4l.2-4.9l2-46.7l.6-14.7l1.4-27.4l1.5-29l.5-5.5l2-20.1l1.2-12.8l.8-4.6l2-11.7l1-6.1l1-2.7l2-5.4l2-6.5l.7-1.5l1.3-2.5l2-4.8l2-5.4l.4-.7l1.6-1.6l2-2.4l2-2.8l.1,0l1.9-.5l2-1.6l2-1.2l1.6-1l.4-.3l2,0l2-2.2l2-.6l2-.5l2-.2l2-.6l2-1l.8,.2l1.2,.1l2-.6l2-1.1l2,0l2,.9l2-2.1l2-.1l2,.7l2,.1l1.7-.2l.3,.1l2-.8l2-1l2-.1l2,.7l2-.6l2-1l2,.7l2-.6l2-.1l2,.7l2-1.2l2,.4l2-.5l.2,.1l1.8,1.1l2,.1l2,.5l2-1.7l2,.2l2,.5l2-1.3l2,.5l2-.3l2,.6l2,.4l2-.6l2,.3l2-.5l2,.2l.5,.1l1.5,.4l2-.6l2-.2l2,.1l2-.6l2,.4l2,.3l2-1.1l2-.7l1.4,.3l.6,.4l2-1.2l2,1l2-.6l2,.2l2,.1l2,.2l2,.6l2-.7l2,.2l.4-.1l1.6-.4l2,.6l2-.6l2,.6l2-.6l2,.3l2,.1l2-.9l2,.6l1.3,.5l.7,.3l2-.3l2-.5l2,0l2-.1l2,.5l2-.1l2-.1l2,0l2,.6l.2-.1l1.8-.7l2,0l2,1.8l2-.9l2-.8l2,.3l2,.6l2,.4l2-1.5l1.1,0l.9,.3l2,1.1l2-.4l2-.6l2-.2l2,.6l2-.7l2,.8l2-.8l2,.8l2-.6l2,0l2-.1l2,1.2l2-.3l2,.6l2-.2l2-.4l2,.6l2-.6l2,.9l2-.5l2-.9l2,.1l2-.5l2,1l2-1.2l2,.3l2-.3l2,.4l2,0l2,.4l2-.3l.9,0l1.1-.3l2,0l2,.9l2-.6l2,1.3l2,.1l2-.6l2,.3l2-.2l2-.4l2,.1l2-.1l2-.5l2-.2l2-.2l2,.9l2,.8l2-1.3l2-.2l.7,.1l1.3,.8l2-.7l2,.4l2-.3l2,.1l2-.6l2-.1l2,1.1l2-.5l2-.6l2,.2l2,.5l2,.5l2-.9l2,.4l2,.3l2,.7l2-.6l2-.5l.6,.3l1.4,.3l2-.8l2-.3l2,.7l2,.1l2-.8l2,.1l2,.1l2,.1l2-.4l2,.7l2-.2l2-.8l2,.1l2-.7l2-.2l2,.2l2-.2l2,.3l.4-.2l1.6,.3l2,1.9l2-.8l2,.1l2,.4l2,.2l2,.8l2,.3l2-1.1l1.4,.1l.6-.5l2-.7l2,.4l2,.1l2,.2l2,.3l2-.4l2,.1l2-.1l2-.8l2,.2l2,.2l2-.3l2,.5l2-.3l2-.6l2,.5l2,.3l2-.2l1.2,.1l.8-.2l2,.2l2,.4l2-.4l2-.9l2,.7l2-.5l2-.4l2-.6l2-.3l.1,.1l1.9,.8l2,.5l2-.2l2,.8l2-.8l2,.6l2,.6l2-.1l2,.8l2-1.4l2-.7l2,2.1l2-.8l2-.2l.5-.3l0,9l-.5,0l-2,.1l-2,.4l-2-.4l-2,0l-2,.1l-2,.1l-2-.4l-2,.3l-2-.6l-2,1.5l-2-.4l-2-.7l-2-.6l-1.9,.5l-.1,0l-2,.6l-2-1.3l-2,.2l-2,.6l-2,.1l-2,.3l-2-1.3l-2,1.1l-2-.6l-.8-.2l-1.2,0l-2,1.4l-2-.6l-2,.2l-2,.2l-2,.7l-2-.6l-2,.1l-2,.3l-2,.2l-2-.1l-2-.2l-2,.1l-2-1l-2,.8l-2,.6l-2-.9l-2-.4l-2,.4l-.6-.1l-1.4-.4l-2-.5l-2,1l-2,.6l-2-.6l-2,.6l-2-.5l-2-.4l-2-.1l-1.6,.4l-.4,.2l-2-.5l-2,0l-2,.5l-2-1.4l-2,.9l-2-.6l-2,.6l-2-.1l-2-.7l-2,1l-2-.2l-2-.9l-2,.4l-2,1.1l-2,.7l-2-.2l-2-.8l-2,.3l-1.4,.6l-.6-.1l-2-.6l-2-.3l-2-.1l-2-.5l-2,.5l-2,.6l-2-.5l-2,.4l-2-.5l-2,.8l-2-1l-2,.4l-2,.1l-2-.8l-2-.1l-2,1.2l-2-.4l-2-.7l-1.3,.1l-.7-.3l-2,.2l-2,.3l-2,.2l-2,.6l-2-.1l-2-.1l-2,0l-2,.6l-2,.1l-2-.6l-2-.8l-2,.8l-2,0l-2-.9l-2,1.3l-2,.3l-2,0l-2,0l-1.1,0l-.9,.2l-2,.3l-2-.5l-2,.3l-2-.4l-2-1l-2,.5l-2,.9l-2-.7l-2-1.2l-2,1l-2,.6l-2-.8l-2-.1l-2,.2l-2,0l-2,.5l-2,.1l-2,.1l-2-.1l-2,.9l-2-.5l-2-.8l-2,.3l-2,0l-2,.1l-2-.3l-2-.3l-2-.5l-2,.2l-2-.1l-2,.5l-2-.5l-.9,.4l-1.1-.1l-2-.3l-2,.5l-2,1.1l-2-1.2l-2,.1l-2-.8l-2,.3l-2-.1l-1.8,.7l-.2,.1l-2-.4l-2,.7l-2-.2l-2-.1l-2-.9l-2-.4l-2,.6l-2-.7l-2,.1l-.7,.1l-1.3-.1l-2-.3l-2,.6l-2-.2l-2,.1l-2,0l-2,.3l-2-.9l-2-.3l-1.6-.2l-.4-.1l-2,.2l-2,.4l-2,1.1l-2,.6l-2-.7l-2-.6l-2,1.4l-2-.2l-2-.2l-.6-.1l-1.4-.4l-2,.9l-2-.6l-2,.4l-2,.2l-2,.4l-2-.2l-2,.4l-2-.4l-1.5,0l-.5,.1l-2,1.2l-2-1.2l-2,.1l-2-.3l-2,.8l-2,0l-2-.4l-2,1.8l-2-1.7l-2,.3l-2-.4l-2,.2l-2-.4l-2,0l-1.8,.8l-.2,.1l-2-.7l-2,1.1l-2-.4l-2-.6l-2,.7l-2,1.2l-2-.1l-2-.8l-2,.8l-2,1.1l-2-.6l-2,.3l-2,1.2l-.3,0l-1.7-.2l-2,.5l-2-.5l-2,0l-2-.1l-2,0l-2,.8l-2,.1l-2,1l-1.2-.5l-.8,.2l-2,0l-2,.6l-2,.9l-2,.5l-2,.4l-2,1.6l-2,.1l-.4,0l-1.6,1.3l-2,1l-2,1.8l-1.9,1.7l-.1,.1l-2,3.1l-2,2.9l-1.6,2.3l-.4,.8l-2,4.3l-2,4.7l-1.3,3.7l-.7,2l-2,4.3l-2,5.3l-1,2.8l-1,6.4l-2,11.5l-.8,4.7l-1.2,12.3l-2,19.9l-.5,5.5l-1.5,29.1l-1.4,27.5l-.6,14.8l-2,46.5l-.2,4.9l-1.8,7.4l-2,8.2Z" fill="#3A7D22" fill-opacity="0.2"/>
<path d="M730.0,1448.3l2-11l.8-4.6l1.2-28.9l.7-18.3l1.3-31.8l.6-15.7l1.4-22.7l1.5-24.6l.5-6.7l2-23.9l.3-3.5l1.7-8.4l2-10.1l.1-.5l1.9-7.1l2-6.7l.8-3.2l1.2-2.1l2-3.6l2-3.9l.5-.7l1.5,.3l2-.8l2-1.4l2,.4l2-2l1.9-.8l.1,0l2-.7l2-.5l2-.4l2,.3l2,0l1.2-.2l.8-.2l2-.9l2-1.3l2,.6l2-.6l2-.2l2-.1l2-1.3l.4,0l1.6-.1l2,.4l2-.1l2-.4l2-1.1l2,.7l2,.9l2-.5l2-.2l2-.4l1.2-.4l.8-.2l2,.7l2-.3l2-.3l2-.3l2-.5l2-.1l2-.1l2-1.1l.2,0l1.8,1.1l2,.6l2,.3l2-.1l2,1.8l2,.2l2,.4l2,.3l2,.6l1.1-.4l.9,.1l2,.7l2-.1l2,.7l2,.1l2,1l2-1l2,1l.3,.2l1.7,0l2-2.3l.1-.1l1.9,.3l2,0l2,.9l2,.3l2-.4l2,0l2,.6l1.2,.1l.8,.2l2,0l2-.5l2-.1l2,.5l2,.4l2-.2l2-.4l2,.1l2-.1l2-.2l1.9,.2l.1,0l2-.9l2-.2l2-1.4l2-.3l2,.3l1.3,0l.7,.1l2,0l2-.2l2-.2l2,.4l2-.3l2-.1l.5-.1l1.5-.5l2,.2l2-.3l2-.6l2-.1l2-.3l1.8,1l.2,.3l2-.2l2,1l2,.5l2,1.5l1.2,.5l.8-.2l2-1.2l2-.4l2-1.6l2,.1l.7-.5l1.3,.4l2,.9l2,.4l2,1.2l2,.9l.2,.1l1.8,0l2-.9l2-.5l1.8-.2l.2,0l2-.7l2-.7l2,1.3l2,.8l.7,0l1.3-.6l2-.5l2,.5l2,.7l2-.8l2,.8l0,0l2,.7l2,.1l2,.7l1.6,.2l.4-.1l2-.4l2-.2l2,.2l2-1.2l2-.5l2,.3l.9,0l1.1,.2l2-1.3l2,.6l2,.9l2-.1l2,.4l2-.2l2,1l2-.2l1.8,0l.2,0l2,.4l2-.7l2,.4l2-.3l2,.8l2,.1l1,.2l1-.4l2-.5l2-.1l2-.7l2-.3l2,0l.4,0l1.6-.2l2-1.4l2,.7l2-.2l2-.8l2,.3l1.6-.5l.4-.1l2-.7l2,.6l2-.1l2-.2l2,.9l2-.2l2-.4l2-.3l2-.1l.6,0l1.4,.2l2,.5l2-.5l2-.5l2,.2l2,.3l2-.3l2,.1l1.6,.1l.4-.2l2-.3l2-.8l1.3-.5l.7-.1l2-.8l2,.2l2-.1l2,.4l2-1.2l2,.4l2,.6l2-.2l2-.4l2-.3l2-.3l1.9,.6l.1,.1l2-.3l2,.4l2,.2l2,.3l1.4,.8l.6,.3l2-.4l2,.2l2-1.1l2,.2l2-.4l2-.1l2,.6l2,.4l2-.5l.3-.3l1.7-.9l2,.6l2,.1l2,.4l2,.4l2-.1l2-.5l2-.3l2,.2l1.2-.5l.8-.5l2-.5l1-.6l1-.3l2-.7l2-.8l2-.6l2,.2l2-.1l2-.2l2-.1l.1,0l1.9-.2l2,.1l2-.2l2-.5l2-.4l2-.6l2,.3l2,.1l2,.6l1.1,0l.9-.2l2-.6l2-.4l2,.3l2-.2l.5,.1l0,5l-.5-.2l-2,.1l-2,1l-2-.4l-2-1.5l-.9,.5l-1.1,.5l-2,.1l-2-.3l-2,.5l-2-.1l-2,.2l-2,0l-2,.8l-2,.8l-1.9-1.3l-.1-.1l-2,.8l-2,.5l-2,.2l-2,.3l-2,.3l-2,.3l-2,0l-1,.2l-1,.1l-2,.4l-.8,.7l-1.2,.7l-2,.1l-2,.2l-2-.1l-2-.2l-2-.3l-2,1l-2,.4l-2-.6l-1.7,.2l-.3-.1l-2,.1l-2,.2l-2,.4l-2,.1l-2,0l-2,.4l-2-.3l-2,.1l-2,.2l-.6,.2l-1.4-.2l-2-.8l-2-.6l-2,.1l-2-.3l-.1,0l-1.9,.4l-2,.4l-2-.1l-2-.1l-2,0l-2,.7l-2-.1l-2-.7l-2,.4l-2,.1l-2,.4l-2,0l-.7,.2l-1.3,.6l-2,.1l-2,.9l-.4,.2l-1.6,.2l-2-.1l-2-.1l-2-1l-2,1.2l-2,0l-2-1l-2,.8l-1.4,0l-.6,.1l-2,.5l-2,.2l-2-.3l-2,.8l-2-.8l-2,0l-2,.1l-2,.6l-2,0l-.4,0l-1.6,.5l-2-.2l-2,.5l-2-.3l-2,.2l-2,.9l-1.6,.2l-.4,.1l-2,.2l-2,.4l-2-.4l-2,.7l-2,0l-1,.2l-1-.3l-2,0l-2-.1l-2-1.1l-2,.8l-2-.7l-2,.4l-.2,.1l-1.8-.1l-2-.3l-2-.5l-2,.1l-2,1.1l-2-.7l-2-1.3l-2-.2l-2-.1l-1.1,.3l-.9,.5l-2,0l-2,.5l-2,.2l-2,.6l-2,.8l-2,.6l-.4,.1l-1.6-.4l-2-1.5l-2-.6l-2-.9l0,0l-2,.7l-2-1l-2,.6l-2-.3l-2,.5l-1.3,.3l-.7-.1l-2,0l-2,.5l-2-.5l-2-.1l-.2-.1l-1.8,.1l-2,.9l-2,1.4l-1.8,.2l-.2-.1l-2-.3l-2-1l-2-1.6l-2,.2l-1.3-.4l-.7-.4l-2,.2l-2,2.1l-2,.3l-2-.1l-.8,.2l-1.2-.1l-2-1l-2-.9l-2,0l-2-1.3l-.2-.1l-1.8,.5l-2-.6l-2,0l-2,1.4l-2-.3l-2-.2l-1.5-.1l-.5,.1l-2,.3l-2-.2l-2-.3l-2,1.1l-2,.3l-2-.9l-.7-.1l-1.3,.3l-2,.5l-2,.4l-2,.5l-2,0l-2,.6l-.1,0l-1.9,.5l-2-.4l-2-.4l-2,1l-2-.3l-2-.3l-2,.1l-2-.1l-2,.1l-2-.8l-2,.4l-.8,.2l-1.2,.1l-2-.2l-2,0l-2-.7l-2,.1l-2-.2l-2-.3l-1.9,.2l-.1,.1l-2,1.6l-1.7,.3l-.3-.2l-2-.7l-2,0l-2,.6l-2-.4l-2-.7l-2,.3l-2-.6l-.9-.5l-1.1-.7l-2-1l-2,.1l-2,.1l-2-.9l-2-.6l-2-.2l-2-.4l-2,.7l-1.8-.8l-.2-.1l-2-.1l-2,.3l-2-.1l-2,.3l-2,.3l-2-.4l-2,.6l-2,.1l-.8,0l-1.2,.3l-2-.5l-2,.7l-2,.5l-2-.6l-2-.2l-2-.2l-2,1.1l-2-1.4l-2,1.3l-1.6-.2l-.4,.1l-2,.4l-2,.2l-2,.5l-2,.4l-2,1.1l-2-.5l-2,.4l-.8,.3l-1.2,.7l-2-.2l-2,.4l-2,.5l-2,.6l-2-.1l-.1,.1l-1.9,1.4l-2,.7l-2,.7l-2,1.6l-2,.8l-1.5,.1l-.5,.7l-2,3.9l-2,3.4l-1.2,2.4l-.8,2.9l-2,7.3l-1.9,6.5l-.1,.5l-2,10.2l-1.7,8.4l-.3,3.6l-2,23.8l-.5,6.5l-1.5,24.6l-1.4,22.8l-.6,15.8l-1.3,31.8l-.7,18.2l-1.2,29l-.8,4.6l-2,11Z" fill="#E83323" fill-opacity="0.2"/>
<path d="M730.0,1451.1l1-16.7l1-16.6l1-16.5l.8-13.2l.2-8.4l1-40.1l.7-27.4l.3-6.5l1-19.9l.6-11.2l.4-5.5l1-13.5l1-13.7l.4-5.5l.6-2.5l1-3.5l1-3.1l1-4.2l1-4.7l.1-.6l.9-1.1l1-1.3l1-.8l1,.1l1-.9l.8-1.7l.2-.4l1-.8l1-.2l1-.9l1-.2l1-1.1l1-.8l1-1.1l.4-.2l.6,.3l1-.6l1-.2l1-.2l1-.2l1-.6l1,.5l1,1.8l1,.7l1-.8l1-1.1l1-.3l1,.7l1-.2l1,.2l1-.7l1-.6l1,1l1,.2l.3-.4l.7-.6l1,.2l1,.3l1,1.3l1,.1l1-1.2l1-.3l1-.3l1-1l1-.9l1,.9l1-.4l1-.9l1-.4l1,.8l1,.8l1,.2l1,0l1-.9l1-.6l1,.4l1,1l1,1.6l1-.6l1-2.1l1-.3l1,2l1,.6l.7,0l.3,0l1-.2l1-1l1-1l1,.2l1,.9l1-.4l1-.5l1,.6l1-.1l1-.5l1-.1l1,.3l1,.4l1-.5l1,.1l1,0l1,.1l1,.7l1,0l1-.6l1,.2l1,0l1-.5l1-.3l1,.1l1,.7l.2-.1l.8-.2l1-.5l1,.4l1,1.3l1-.6l1-.7l1-.6l1,.8l1,1.5l1,.2l1-1.2l1-.8l1,.9l1-.1l1,.4l1,.8l1,.8l1-.5l1-.6l.1,0l.9-.3l1-.4l1,.8l1,0l1-.5l1,0l1,1l1,.2l1-.2l1,.5l1-.4l1,.2l1,.5l1,.3l1-.5l1,1.1l1,.1l1-.8l1,0l1,.6l1,1.1l0,.1l1,.1l1,.6l1,.1l1-1.1l1,0l1-.2l1,.1l1,.8l1-.2l1-.8l1,1.3l1,1.5l1,.1l1,.3l1,.9l1,.4l1-1l1-.9l.9,.2l.1,0l1-.2l1-.8l1,1.2l1,1l1-.6l1-.3l1,.5l1-.9l1,.5l1,.6l1-.7l1,.4l1,1.3l1-.4l1,.2l1,1l1-1.1l1-.1l.8-.1l.2,0l1-.7l1-.5l1,.3l1-.4l1,.9l1,.5l1,.3l1,.3l1-.2l1-1.1l1-.2l1,.6l1,.6l1,.1l1-.3l1-1.9l1,0l1,.7l1-.3l1,.3l1,.1l1,.8l1-.2l1-1.5l.4-.3l.6-.3l1,1.1l1,1.2l1,.6l1,.8l1-.8l1-.2l1-.1l1-.4l1,.5l1-1l1,.5l1-.1l1-.2l1,.3l1-.1l1-.5l1-.4l1,.7l1,.8l1-.7l1-1.3l1,1l.1,.1l.9,1.1l1-.5l1-.1l1,.9l1,.3l1,.6l1,1.3l1,.2l1-1l1-.4l1-.2l1,.1l1-.2l1-.1l1,.4l1,.2l1,.1l1,.1l1-.8l.1-.1l.9-.4l1,.8l1,1l1,.3l1,.1l1,.3l1,0l1-1.5l1,.2l1,1.5l1,0l1-.8l1,.5l1,.9l1-.7l1-.4l1,1.3l1-.6l.5-.4l.5-.7l1,.2l1,.6l1,.3l1,.1l1-1.5l1-1.5l1-.5l1-.2l.9-.5l.1,0l1-.7l1,0l1,1.1l1,.3l1-.4l1-.9l1-.4l1-.5l1-.2l1-.6l1,.1l1,.3l1-.5l.2-.1l.8,.3l1,.7l1,.7l1-1.2l1-.3l1,.4l1-1l1-.7l1,.8l1-.3l1-.8l1,.4l1,.2l1,1l1,.9l.3-.1l.7-.5l1-.1l1,.7l1-.1l1-.1l1-.1l1-.1l1-.1l1-1.3l1-.5l1,0l1,0l1,.5l1,.1l1,.7l.5-.3l.5-.1l1-1.5l1,0l1,1.1l1,.5l1-.5l1,0l1,1.2l1,.3l1-.8l1-.9l1-.7l1,.1l.7-.2l.3-.1l1-.2l1,0l1,1.1l1,.5l1,0l1-1.1l1,1.4l1,0l1-.1l1,.9l1,.2l1,1l1-.2l0,0l1-.2l1-1.2l1-1l1-.4l1,.5l1,.5l1-.7l1-.3l1-.1l1-.4l1-.3l1,.5l1,.7l1-.2l1-1.1l.1-.1l.9-.6l1,.2l1-.1l1-.6l1,.1l1,.8l1,1.1l1,.9l1-.4l1,.1l1,.4l1,.4l1-.2l.4-.4l.6-.5l1,.3l1,1l1-.3l1,0l1,1l1,.7l1-1l1,.1l1,.1l1,.4l.7-.1l.3-.1l1-.5l1,.7l1,.7l1-.3l1,0l1,.4l1-.9l1,.8l1,.1l1-1l1-.4l1,.5l1,.8l0,0l1-.8l1-1.3l1,.3l1,1.4l1,1.2l1,.1l1,.5l1,0l1-1l.4-.2l.6-.5l1,.5l1-.6l1-.5l1,.9l1,.1l1-1.1l1-1.7l1-1.1l1,.6l1,.1l1,0l1,.7l.7-.1l.3,.2l1-.7l1,.5l1,.9l1,.6l1,1.4l1-.6l1,0l1,.1l1-.2l1-.4l1,0l0,.1l1,.1l1,.1l1-.2l1-1l1-.9l1-.5l1-.1l1-.5l1-.7l1-1.9l1-.2l1,.9l1,.4l.3,0l.7-.1l1-.1l1-.2l1-.2l1,.3l1,.4l1-1.4l1-1l1,.8l1,.6l1-.1l1-.5l1-.5l1,0l1,1l.4,.2l.6,.5l1-.7l1,.2l1,.1l1-.5l1-.1l1,.2l1,.2l1,.5l1-.6l1-.1l1,.2l1,0l.7,0l.3-.1l1,1.2l1,.1l1-.7l1,.3l1-.4l1-1.1l1,.4l1,.4l1-.2l.1-.1l.9-.5l1-.2l1,.9l1-.3l1,0l1,.1l1,.1l1-.2l1-.1l1,.1l1-.3l1-.9l1,.3l1,.8l1,0l.3,.1l.7-.1l1,.7l1-.1l1-.4l1-.4l1-.9l1,.1l1-.5l1,.6l1,.6l1,.3l1,.2l1,0l.5-.3" fill="none" stroke="#0000FF" stroke-width="1.55" stroke-linejoin="round" stroke-dasharray="1.30 2.14"/>
<path d="M730.0,1451.2l1-15.7l1-15.8l.8-12.8l.2-6.3l1-39.9l.7-29.1l.3-10.7l1-38.7l.6-23.9l.4-4.1l1-13.2l.5-8.1l.5-5.3l1-10.7l1-4.4l1,1.4l.3,.3l.7,2.9l1-2.2l1-8.5l1-9.5l1-.7l1,5.4l.9,6.2l.1,.4l1,4.9l1-3.7l1-7.9l1-5.3l1,1.9l1,6.2l1,5.9l1-.1l1-4.8l1-6.4l1-3.7l1,7.6l1,6.4l1,3.5l1-3.1l1-5.9l1-6.7l1-2.4l1,8.7l1,8.7l1-.9l1-7.3l1-7.8l1-2.7l1,6.3l1,8.6l1,7l1-1.7l1-6.4l1-5.3l1,0l1,3.4l1,7.8l.6,3.9l.4,11.5l1,19.8l0-1.9l1-37.4l.3-9l.7-2.3l1,1.8l1,7.1l1,6l1-2.2l1-9.3l1-7.6l1,1.7l1,8.6l1,8.6l1,3.6l1-5.1l1-7.8l1-6.5l1-.5l1,7.5l1,8.2l1,3.2l1-6.9l1-9.2l1-2.9l1,2.5l1,8.4l1,7.5l1-2.8l1-8.8l1-7.4l1,.1l1,7.9l1,6.8l1,1l1-8.3l1-6.7l1,.7l1,4.8l1,7.4l1,3.6l1-2.9l1-6.9l1-7l1-2l1,7l1,8.2l1,3.7l1-1.3l1-9.4l1-6l.2-.5l.8,1.6l.9,7.8l.1,1.9l1,18l0,.8l1-15.2l.2-3.3l.8-3l1-2.5l1-.8l1,2.6l1,2.6l1,.5l1-.3l1-.9l1-5.5l1-.6l1,3.9l1,2.2l1,1.5l1-1.4l1-2.9l1-3.5l1,2.6l1,4l1,5.4l1,4.3l1-3.8l.6-2.3l.4,4.8l.7,9.2l.3-4.4l.8-10.6l.2,.6l1,2.8l1-1l1-1.7l1-1.3l1-.5l1,2.1l1,1.7l1,2.2l1-2.1l1-2.2l1-2.5l1-.2l1,3.8l1,2.8l1,1.9l1-2.3l1-2.8l1-.5l1,.2l1,.9l1,.7l1,3.3l1-3.4l1-4.9l1-1.6l1-2.2l1,1.3l1,5l1-.7l.8-1.3l.2,2.3l.9,9.1l.1-1.3l1-12.4l0-.3l1,2.4l1,2l1,1.3l1,2.2l1-1.4l1-5.4l1,1.2l1,5.8l1,1.4l1-1.1l1-1l1-1.8l1-2.1l1-.5l1,1.3l1,2.8l1-.7l1-2.2l1-1.7l1,1.6l1,1.7l1,.3l1,3.5l1,1.4l1-5l1-5.3l1,.6l1,1.8l1,2.6l1,4.3l1,.6l1-4.3l1-4l1,1.9l1,2.5l1,1.8l1,1.2l1-5.7l1-3.2l1,2.8l1,2.3l1,.4l1,.6l1-1.7l1-3.3l1-.4l1,2.1l1,.7l1-2l1,1.9l1-1.4l1-2.4l1,3.2l1,3.2l1-.8l1-2.3l1-1.6l1-2.2l1-2l1,1.3l1,3l1,1.4l1-1.8l1-2l1,.9l1,2.9l1,.9l1-3.2l1,1.9l1,2.5l1-3.6l1-3.5l1,2.1l1,4l1,2.5l1,2.3l1-1.7l1-2.8l1-.6l1-.5l1,2.1l1,1l1-1.4l1-.7l1-1.8l1-.3l1-.5l1,0l1,.3l1-1.5l1-.3l1,.2l1,.4l1,3.9l1,.1l1,1.4l1-1.5l1-2l1,.1l1,.3l1-.2l1,0l1-1l1-2.8l1-2.8l1,.6l1,1.1l1-1.3l1,2.2l1,1.1l1-.9l.9-3.2l.1-.2l1-2l1,7.6l1,5.4l1-.9l1-3.3l1-2.7l1-.2l1,1.7l1,1.7l1-.3l1,1.6l1-2.5l1-1.5l1,1.7l1,5l1,5l1-1.2l1-4.4l.9-2.3l.1-.3l1,.1l1,2l1-.3l1-.7l1,.1l1,0l1,.1l1,1.5l1,2.9l1,2.9l1,.6l1-3.3l1-3.7l1-3.3l1,2.5l1,1.8l1-.1l1-.2l.8-1.2l.2-.3l1-4.9l1-.8l1,.8l1,.6l1,1.2l1-2.5l1-.7l1,2.9l1,3.3l1,1.8l1,1.1l.1,.1l.9,4.1l1,3.9l0,.2l1-3.6l.9-5.8l.1,0l1-1l1,2.3l1,1.4l1-2.8l1-3.5l1,.1l1,4.6l1,3.8l1-.2l1-1.3l1-1.1l1-.4l1-1l1,.2l1,.8l1,1.5l1-.8l1-2.5l1-3.8l1,2.2l1,4.9l1,2.9l.6-1l.4-.8l1-3.8l1-2.8l1-4.1l1,2.6l1,2.3l1-2.8l1,.5l1,2.3l1-3.7l1-4.2l1,.8l1,2.2l1,1.3l1,2.4l1,.2l1-2.3l1-1.5l1-.5l.6,2.3l.4,1.7l1,2.3l1-1.9l1-1.6l1,1.6l1,1.8l1,1.1l1,1.2l1-1.5l1-4.4l1-1.8l1,.8l1,1.3l1-1.5l1,1l1,1.5l1-.5l1-.4l1-1.3l.5,.3l.5,.5l1-.6l1,.1l1,3.9l1-.1l1-3.3l1,.3l1,3l1-1.7l1,.7l1,3.4l1-.9l1-4.9l1-.9l1,2l1,.6l1-.4l.5,0l.5,1.9l1,4l.4,2.2l.6-1l1,0l.3-.3l.7,1.8l1-5.1l1-3.7l1,2.3l1,.1l1-2.1l1,1.2l1,3.7l1,1.3l.8,.9l.2,1.1l1,4.6l.7,2.6l.3-.7l1-.9l1-2.1l.5-.7l.5-1.3l1-1.9l1-6.4l.4-3.4l.6-3.7l1,.7l1,4.3l1,1.3l1-1.2l1-1.5l1-.8l1,.6l1,1.2l1,2.9l1,4.3l1-2.2l1-3l1,1.2l1,1.6l1-.8l1-.6l1,.7l1-2.7l.3-.9l.7-1.9l1,.1l1,3.4l1,1.9l1-1.7l1-2.3l1-1.2l1-1.8l1,1.4l1,1.9l1,0l1,.9l1,.7l1,.4l1,.1l1,1l1,2.7l1-1.1l1-1.4l.2-.1l.8-.7l1-.4l1-2.2l1,.2l1,2.6l1,2.2l1-1.2l1-2.1l1-2.7l.7,1.9l.3,1.6l1,1.6l.6,0l.4-2.1l1-1.3l.5-1.1l.5,0l1-1.2l1-.5l1,2.2l1,4.3l1,2.4l1-2.5l1-5.6l1-2.9l1,2.2l1,3.9l1,.6l1,1.3l1-1.1l1-.5l.6,2.4l.4,1.6l1-1.9l1-1.5l1,1.7l1-1.6l1-2.4l1-.5l1-2.2l1,.6l1,3.5l1,1.6l1-.4l1-1.6l1-1.7l1-2.3l1-2.1l1,1.7l1,2.3l1-.5l.5,0" fill="none" stroke="#75147C" stroke-width="1.55" stroke-linejoin="round" stroke-dasharray="8.29 2.07 1.30 2.07"/>
<path d="M730.0,1451.0l3-12.3l.8-3.3l2.2-51.6l.6-14.7l2.4-47.4l.5-9.2l2.5-25.6l1.2-12.4l1.8-10.1l2-12.4l1-2.6l3-7.9l1.7-4.6l1.3-2.9l3-6.9l1.4-3.2l1.6-2.2l3-4.1l1.1-1.5l1.9-1.1l3-2.8l2.6-1.8l.4-.1l3-.8l3-1.2l3-1.2l3-1.2l2.8-.5l.2,.1l3-.6l3-.7l3-.8l3,.1l3-.5l3-.5l.7,.1l2.3,0l3,0l3-.7l3,.3l3-.6l3,0l3-.1l3-.4l3,.3l.2,.1l2.8-.1l3-.1l3,.2l3-.3l3-.1l3,.1l3,.1l3-.4l3,.2l3,.2l.5,0l2.5-.1l3-.3l3-.1l3-.4l3-.7l3,.1l1.4-.2l1.6-.2l3-.1l3-.1l3,.3l3-.3l3-.6l2.4,.2l.6,.2l3,.1l3-.2l3,.3l3,.4l3-.2l3,0l.3,0l2.7-.1l3,.2l3-.3l3-.1l3,.6l3-.8l1.2,.3l1.8-.1l3,.2l3,.2l3,.2l3-.3l3,.3l2.1,.3l.9,0l3-.1l3,0l3,0l3-.2l3,.1l3,0l3,0l3-.1l3,.1l3,.1l3,0l3,.1l3-.2l3-.2l3,0l3,.1l3-.2l3-.1l3-.4l3,.3l3,.4l1.9,0l1.1-.3l3,.2l3-.2l3,.3l3,0l3-.1l3,0l3,0l3,0l3-.2l3-.1l3-.3l3,.3l.7,0l2.3-.1l3-.1l3-.2l3,.1l3,.3l3,0l3,.2l3-.1l3,.3l3,.3l3,.1l3,.1l2.6-.2l.4-.1l3-.5l3,0l3-.2l3,.3l3,.3l3-.4l3,0l3,0l3-.3l3,0l3-.2l3-.5l1.4-.1l1.6,.3l3,.1l3,.5l3-.5l3,.3l3,.3l2.4-.1l.6-.2l3,.1l3,0l3,.5l3-.2l3,.5l3-.2l3,.1l3,.1l3-.1l3,.1l3-.2l3-.2l1.2,.2l1.8,.1l3-.3l3,.1l3-.2l3-.5l3,0l2.1-.2l.9-.1l3,0l3-.4l3,.8l3-.1l3,.4l3,0l3,.1l3,.1l3,.5l.5-.1" fill="none" stroke="#3A7D22" stroke-width="1.55" stroke-linejoin="round" stroke-dasharray="6.48 3.89 1.30 3.89 1.30 3.89"/>
<path d="M730.0,1450.9l2.8-15.5l.2-4l1.7-43.2l1.3-31.7l.6-15.7l2.4-39.6l.5-7.6l2.5-30.4l.3-3.6l2.7-13.5l1.1-5.3l1.9-7l2.8-10.3l.2-.3l3-5.1l2.5-4.8l.5-.3l3-1l3-1.6l3-1.3l1.9-.2l1.1-.2l3-.8l3-.5l3-.9l1.2-.1l1.8-.6l3-.5l3-.7l3-.6l3-.6l1.4-.3l1.6-.2l3-.1l3,.2l3-.7l3,.1l3-.1l3,.3l1.2-.2l1.8-.1l3-.3l3-.8l3,.7l3-.5l3-.9l.2,.1l2.8,.9l3,.5l3,1l3,.4l3,.7l3,0l1.1,0l1.9,.2l3,1.4l3-.1l3,1.4l3-.1l1.3,.4l1.7-.4l2.1-1.4l.9-.3l3,.5l3,.4l3-.2l3,.1l2.2,.7l.8,.4l3-.9l3,.5l3-.1l3,0l3,.2l3-.1l3-.2l.9,.1l2.1-.1l3-1.4l3,.3l3-1.2l.3-.1l2.7,.2l3-.5l3-.6l3,.6l1.5-.4l1.5-.5l3,0l3-.3l3-.3l2.8,0l.2,.1l3,1.2l3,1.3l3,1.7l.2,.1l2.8-1.1l3-.9l3-1.6l.7-.2l2.3,1.2l3,.7l3,1.3l1.2,.5l1.8-.5l3-1.4l2.8-.5l.2,0l3,.6l3,.1l2.7,.7l.3-.1l3-.2l3,0l3-.3l2-.1l1,.5l3,1.2l3,.5l.6,.2l2.4-.2l3-.4l3-.6l3-.6l1.9-.3l1.1,.1l3-.1l3,.8l3-.1l3,.2l3,0l2.8,0l.2-.1l3,.5l3-.7l3,.7l3,.5l1,.2l2-.5l3-.5l3-.4l3-.9l.4,0l2.6,.2l3-.6l3-.4l3-.3l1.6,.2l1.4,.1l3-.6l3,.2l3-.3l3-.4l3,0l2.6-.4l.4,0l3-.1l3,0l3-.1l3,.4l3-.3l1.6,.1l1.4-.1l3-1.1l1.3-.6l1.7,.1l3-.5l3,.1l3,0l3,0l3-.5l3,0l3-.2l1.9,.1l1.1,.2l3,.1l3,.6l2.4,.2l.6,0l3,0l3-.2l3,.6l3-.9l3-.4l3-.2l.3-.1l2.7-.1l3,.1l3-.1l3,.3l3-1l3,.4l1.2-.3l1.8-1.1l2-.8l1,.1l3-.8l3,.4l3-.6l3-.1l2.1-.4l.9,0l3-.6l3-.3l3,0l3-.5l3,.4l3-.6l.1,0l2.9,.3l3-.3l3-.3l.5-.2" fill="none" stroke="#E83323" stroke-width="1.55" stroke-linejoin="round"/>
</g>
<text x="730.0" y="1474.6" font-size="19.93" text-anchor="middle" fill="#262626" textLength="12.0" lengthAdjust="spacingAndGlyphs">0</text>
<text x="832.0" y="1474.6" font-size="19.93" text-anchor="middle" fill="#262626" textLength="12.0" lengthAdjust="spacingAndGlyphs">1</text>
<text x="934.0" y="1474.6" font-size="19.93" text-anchor="middle" fill="#262626" textLength="12.0" lengthAdjust="spacingAndGlyphs">2</text>
<text x="1036.0" y="1474.6" font-size="19.93" text-anchor="middle" fill="#262626" textLength="12.0" lengthAdjust="spacingAndGlyphs">3</text>
<text x="1138.0" y="1474.6" font-size="19.93" text-anchor="middle" fill="#262626" textLength="12.0" lengthAdjust="spacingAndGlyphs">4</text>
<text x="1240.0" y="1474.6" font-size="19.93" text-anchor="middle" fill="#262626" textLength="12.0" lengthAdjust="spacingAndGlyphs">5</text>
<text x="720.5" y="1457.7" font-size="19.93" text-anchor="end" fill="#262626" textLength="12.0" lengthAdjust="spacingAndGlyphs">0</text>
<text x="720.5" y="1385.5" font-size="19.93" text-anchor="end" fill="#262626" textLength="23.9" lengthAdjust="spacingAndGlyphs">20</text>
<text x="720.5" y="1313.3" font-size="19.93" text-anchor="end" fill="#262626" textLength="23.9" lengthAdjust="spacingAndGlyphs">40</text>
<text x="720.5" y="1241.1" font-size="19.93" text-anchor="end" fill="#262626" textLength="23.9" lengthAdjust="spacingAndGlyphs">60</text>
<text x="720.5" y="1168.9" font-size="19.93" text-anchor="end" fill="#262626" textLength="23.9" lengthAdjust="spacingAndGlyphs">80</text>
<text x="1232.1" y="1495.5" font-size="19.27" text-anchor="end" fill="#262626" textLength="39.7" lengthAdjust="spacingAndGlyphs">×10</text>
<text x="1240.5" y="1488.8" font-size="13.95" text-anchor="end" fill="#262626" textLength="8.4" lengthAdjust="spacingAndGlyphs">9</text>
<text x="985.0" y="1504.0" font-size="28.94" text-anchor="middle" fill="#262626" textLength="140.4" lengthAdjust="spacingAndGlyphs">Env Steps</text>
<text x="985.0" y="1153.9" font-size="30.84" text-anchor="middle" fill="#262626" textLength="113.6" lengthAdjust="spacingAndGlyphs">Anymal</text>
<text x="0" y="0" transform="translate(687.5,1306.0) rotate(-90)" font-size="28.94" text-anchor="middle" fill="#262626" textLength="239.7" lengthAdjust="spacingAndGlyphs">Episode Rewards</text>
</g>
<g id="P9">
<rect x="1385" y="1160" width="486" height="291" fill="#EAEAF2"/>
<clipPath id="cP9"><rect x="1385" y="1160" width="486" height="291"/></clipPath>
<path d="M1385.00,1160V1451M1482.20,1160V1451M1579.40,1160V1451M1676.60,1160V1451M1773.80,1160V1451M1870.97,1160V1451M1385,1450.97H1871M1385,1398.44H1871M1385,1345.38H1871M1385,1292.32H1871M1385,1239.26H1871M1385,1186.20H1871" stroke="#fff" stroke-width="0.94" fill="none" clip-path="url(#cP9)"/>
<g clip-path="url(#cP9)">
<path d="M1385.0,1450.2l1.5-.2l1.5-.3l1.5,.1l1.5-.4l1.5-.5l1.5,0l.5,.2l1-.4l1.5-2l1.5-1.6l1.5-.4l1.5-.8l.6-.1l.9-3.1l1.5-6.2l1.4-3.2l.1,.4l1.5,3.8l1.5,2.1l.7,1.9l.8-2.7l1.5-5.3l1.5-7.1l0,0l1.5,5.7l1.5,3.5l.8,2.8l.7-3.1l1.2-6.3l.3,1l1.5,2.5l1.5,3.8l.5,1.8l1-5.4l1.5-9.1l.3-2.1l1.2,1.5l1.5,5.9l.2,.8l1.3-1.6l1.5-5.8l1-1.6l.5,1.6l1.5,.7l1.5-1.1l.3,.3l1.2-2.1l1.5-1.6l1.1-.7l.4,.2l1.5-1.3l1.5-1.1l1.5-.4l.8-.1l.7,0l1.5-1l1.5-1l1.5,1.1l.5-.6l1-.6l1.5-.1l1.5-1.5l1.5-2.1l1.5,.1l1.5,.3l1-.8l.5-.4l1.5,.3l1.5-2.8l1.5-1l1.5,1l1.5,2.1l1.5-1.7l0-.1l1.5-.4l1.5,.1l1.5-1.8l1.5-.8l1.5,1l1.5-.1l.5-.2l1,.2l1.5-1.3l1.5-.5l1.5,.8l1.5-1.5l1.5-.5l1-.7l.5-.4l1.5,0l1.5-.9l1.5-1.7l1.5,.9l1.5-.9l1.5,1.8l0,0l1.5,.9l1.5-2.2l1.5-1.3l1.5-.3l1.5-.8l1.5-1.8l.5-.2l1,.6l1.5,2.7l1.5-1.6l1.5-2.4l1.5-1.6l1.5-.5l1,.2l.5-.4l1.5-.6l1.5,.2l1.5-1.5l1.5-.6l1.1,.1l.4,.4l1.5,1.8l1.5,.6l.4-.6l1.1-1.9l1.5-.9l1.5-.5l1.5-.2l1.5,.5l.5,0l1-.8l1.5-1.1l1.5,2.2l1.5-1.3l1.5-1l1.5-.8l.9-.9l.6-.3l1.5-2.9l1.5,.6l1.5,.2l1.5-.8l1.5-2.2l1.4-1.3l.1,0l1.5-.6l1.5,0l1.5,1.5l1.5,.6l1.5-1.1l1.5,.5l.4-.5l1.1-1.3l1.5,.8l1.5,.2l1.5-1.2l1.5,.4l1.5-.2l.9,.1l.6,1.2l1.5,.8l1.5-.7l.6,.9l.9-.4l1.5-2.8l1.5-1l1.5,.4l1.5-1.9l.3-.1l1.2-.5l1.5-.6l1.5,.7l1.5,.8l1.5-3.3l.4-.9l1.1-.3l1.5,.4l1.5-1.9l1.5-.8l1.5-.6l1.5,0l.9,.7l.6,.6l1.5-1.3l1.5,.6l1.5-1.6l1.5-2.4l1.5,1.9l1.4-.9l.1-.1l1.5-.4l1.5,.1l1.5-2.6l1.5,1.3l1.5-.9l1.5-.6l.4-.5l1.1-.8l1.5,0l1.5-.6l1.5-.7l1.5,1.8l1.5,.2l1.5-1.6l1.5-1.5l1.5,.9l.1,.1l1.4-.9l1.5-1.1l1.5,.4l1.5-.7l1.5-2.2l1.5-.1l1.5-3.7l1-.1l.5-.1l1.5-1.5l1.5,.7l1.5,.6l1.5-.3l1.5-1.5l1.5-1l1.5,1.3l1.5-1.9l1.5-.6l1.2-1.8l.3,.1l1.5,2l1.5-2.1l1.5-.4l1.5-.2l1.5,.5l1.5-1.6l1.5-.9l1.5-.6l1.5,.3l.8-.7l.7-.3l1.5-.7l1.5-2.2l1.5-.4l1.5,.9l1.5-.7l1.5-.8l1.5,.6l1.5-3l1.5,.5l1.5,1l.1,0l1.4-3.4l1.5-1.7l.9-1.3l.6-.7l1.5,0l1.5-.5l1.5-.7l1.5,1.8l1-1.1l.5-1.7l1.5-2.3l1.5-1.5l1.5-.7l1.5-.3l1.5,.1l1.5-2.7l1.5-2.7l.4-.2l1.1-.1l1.5,2.2l1.5,.6l1.5-3.3l1.5-2.6l1.5,.8l1.5-.4l1.3-.1l.2,.2l1.5,.5l1.5-.9l1.5-1.2l1.5,1.9l1.5-2.6l1.5-2.8l1.5-2.7l1.5,1.9l1.5,.5l1.5,1.6l0,.1l1.5-.5l1.5,.3l1.5-1.7l1.5-3l1.5,1.4l1.5,.9l1.5-2.2l1.5,.6l1.5-.6l1.5-2.2l.2-.4l1.3-2.6l1.5,.5l1.5,1.1l1.5,1.2l1.5-.9l1.5-1.4l1.5,1.8l1.5-.7l1.5-1.3l1.5,.1l1.5-.6l.7-1.9l.8-1.6l1.5-.3l1.5,.8l1.5,.1l1.5,1.1l1.5,1.9l1.5-.2l1.5-1.4l.1-.1l1.4-2.1l1.5-.7l1.5-2.2l1.3-1.6l.2-.1l1.5-.6l1.5-1l1.5-1.3l1.5,1l1.5-1.1l1.5-.6l1.5-1.2l1.5,.8l1.5-1l1.5-.3l1.5,.5l.4,0l1.1-.8l1.5-1.6l1.5-1.1l1.5-2l1.5,.7l1.5,.3l.9-.8l.6-.3l1.5-.7l1.5-1.1l1.5,1.4l1.5-.3l1.5-1.3l1.5,.5l1.5,1.6l1.5-.5l1.5-.7l1.5-.6l1.5-1.3l1.5-1.8l.4-.9l1.1,.4l1.5,.4l1.5-.5l1.5,1.9l1.5,.2l1.5-.2l1.5-2.3l1.3,.4l.2,.1l1.5-.1l1.5,1.9l1.5,.5l1.5-2.3l1.5,.4l1.5,1.9l1.5,.2l.7-.1l.8-.7l1.5,.2l1.5-1.1l1.5-3l.4-.7l1.1-.7l1.5,1.5l1.5,.4l1.5-3.7l.1-.2l0,186.1l-486.1,0Z" fill="#0000FF" fill-opacity="0.2"/>
<path d="M1385.0,1447.7l3-.1l3-.1l3-.1l3-.1l3-.2l3,.1l1,.1l2-.1l3-.3l3-.1l3-.2l3-.4l1.2,.1l1.8,.5l3-.3l3,.8l3,.2l3-.5l3-.3l3,.8l3,.1l0,0l3-.2l3,.2l3,.5l3-.1l3-.1l3,.5l3-.3l3-.6l3,.6l3-.3l3,.1l3,.2l3-.8l3-.1l3,.6l3,0l3,.5l3-1l3,.2l3,.1l3,.4l3-.2l3-.3l3,.5l3-1.2l3,1.2l3-.7l3,.1l3,.8l3-.8l3,.9l3-1l3,.6l3-.4l3,.5l3,0l3-.4l3,.5l3-.1l3,.2l3-.1l3-.4l3,.7l3-.4l3,.5l3,.1l3-.3l3-.6l3,.7l3-.2l3-.4l3,.2l3-.6l3,.7l3-.2l3-.4l3,.4l3,.3l3,.2l3-.5l3,.1l3,.2l3-.6l3,.4l3-.4l3,.3l3,0l3,.2l3,.1l3-.1l3-.6l3,.1l3-.6l3,.5l3-.6l3,.4l3,.8l3,.4l3-.5l3,.2l3-.2l3-.7l3-.1l3,.5l3,.5l3,.2l3-.4l3,.2l3,.1l3,.1l3-1.1l3,0l3,.5l3,.1l3-.6l3,.3l3,.1l3,.2l3-.3l3,.2l3-.1l3-.7l3,.1l3,.9l3-.2l3,.3l3-.4l3,0l3,.4l3-.3l3,0l3,0l3-.2l3,.3l3,.2l3,.3l3-.3l3-.7l3,1.2l3-.4l3,0l3-.3l3-.3l3,.2l3,.2l3-.3l3,0l3-.2l3,0l3-.5l3,.8l3-.6l3,.3l3,0l3,0l3,.4l3,.2l3-.3l3,.2l3-.7l3,.3l3-.1l3,.3l.1,0l0,4.7l-486.1,0Z" fill="#75147C" fill-opacity="0.2"/>
<path d="M1385.0,1449.1l2-.1l2,0l2-.1l2,.1l2-.2l2,.1l2-.1l2-.1l2,.4l2-.2l2,.3l2-.7l2,.4l2,.5l2-.5l2,.5l2-.8l2,.4l2-.4l2,1.4l2-.6l2-.1l2-.4l2-.1l2-.5l2,.3l2,.3l2-.8l2,.8l2,.1l2,.1l2-.8l2,.5l2,.4l2-.8l2,.6l2-.2l2-.2l2,1.1l2-.8l2,0l2-.1l2,.8l2,0l2,.1l2,.3l2-.4l1,.1l1-.2l2-.3l2-1.4l2-.1l2-.1l2,.5l2-1.3l2-.5l2-.3l2,.7l2-.5l2-.8l2,0l2-.4l2-.9l2,.3l2-.2l2-1.2l2,.1l1,0l1-.5l2-.5l2-.5l2,.8l2-1.4l2,.1l2,0l2-1.4l2,.8l2-1.4l0,0l2,.1l2-.3l2-.6l2-.9l2,.6l2-.4l2-.1l2,.7l2-.2l.9,.1l1.1-.4l2,.3l2,.3l2-.6l2-.3l2-.2l2-.4l2,0l2-.8l1.9-.2l.1,0l2-.8l2,.3l2-.5l2-.6l2,.2l2-.5l2,0l2-.5l2,.2l.9,.1l1.1-.3l2-.1l2-.4l2,.4l2-.7l2-.1l2-.5l2,.2l2-.3l1.9-1.3l.1,0l2,1.3l2-.7l2,.3l2-.2l2,.4l2,0l2,.1l2-.8l2-.6l2,.4l2,.7l2-.1l2-.9l2,.8l2-1.5l2,.7l2-.6l0,0l2,.3l2,0l2,.4l2-.1l2-.2l2,.9l2-.1l2,.8l2,.2l2-.2l2,.3l2-.3l2,0l.6,.2l1.4,.3l2,.1l2-.7l2,.3l2-1.3l2,.4l2-.1l2-.5l2-.5l2-.4l2-.1l2-.8l2-.1l2-.1l2-.5l1,.1l1,.2l2,.3l2-.9l2,1.3l2-.2l2-.6l2-.2l2,0l2-1.3l2-.4l2,.6l2,.1l2-.5l2,.2l1.5-.2l.5-.1l2,0l2-.2l2-.3l2-.3l2,.1l2,.5l2,.1l2-.7l2,.3l2-.2l2-.8l2,.1l2,0l2,.3l2,.1l2-.5l2-.2l2-.2l1.4-.4l.6-.1l2,.1l2,1.5l2-1.2l2,.4l2-.2l2-.3l2,.5l2-.1l2,1.1l2-.3l2,.4l2-.1l2,.4l1.9,.2l.1,0l2,.6l2,.3l2,.3l2-.8l2,.7l2,.2l2,.4l2,.9l2,0l.9-.4l1.1-.6l2,.1l2-.4l2-.2l2,.8l2-.8l2,0l2-.1l2-1.1l1.9-.4l.1-.1l2,0l2,1l2-.1l2,.5l2,.8l2-1.2l2,.3l2,1.2l2,.4l.9-.4l1.1,.2l2-.1l2,.1l2-.3l2-.1l2-.2l2,.8l2,.1l.1,0l0,23.6l-486.1,0Z" fill="#3A7D22" fill-opacity="0.2"/>
<path d="M1385.0,1449.1l2,.1l2,0l2-.2l2,.2l2-.2l2,.1l2,0l2-.7l2,.4l2-.1l2-.4l2-.1l2,.9l2,.3l2-.6l2,.2l2,0l2-.5l2-.2l2-.1l2,.3l2-.1l2,0l2-.8l2-.1l2,.6l2,.5l2-.3l2,.5l2-.7l2,.5l2-.8l2,.1l2,.8l2-.9l2,1.8l2-.1l2-1l0,0l2-.3l2-.6l2-1l2-1.2l2-.2l2-.5l2-1l2-.4l2-1.4l1-.4l1-1.3l2-2.3l2-3.2l2-2.9l2-1.9l2-2.2l.4-.9l1.6-6.7l2-6.9l2-5.3l.1-.2l1.9-6.6l1.9-6.1l.1-.6l2-9.1l1.7-7.7l.3-1.7l2-8.5l1.5-6.2l.5-1.3l2-6.2l1.3-3.7l.7-2.7l2-7.4l1-3l1-1.9l2-7.1l2-5.3l.8-1.8l1.2-3.2l2-4.5l2-4.5l2-5.6l.4-.9l1.6-3.7l2-4.4l2-5.7l2-3.2l0-.1l2-3.3l2-4.4l2-4.3l2-3.3l1.4-1.6l.6-.7l2-2.1l2-3.4l2-2.9l2-2.5l.9-1.6l1.1-1.1l2-2.9l2-2.7l2-2.8l2-1.9l.4-.6l1.6-1.5l2-3.2l2-1.3l2-2l1.9-1.3l.1-.1l2-1.5l2-2.1l2-1.1l2-1.8l1.4-2.3l.6-.7l2-1.4l2-1.7l2-2.7l2-1.6l.9-1.1l1.1-.9l2-1.2l2-1.8l2-1.5l2-.6l.4-.7l1.6-2.6l2-1.1l2,.3l2-2l1.9-1.1l.1,0l2-1l2-2l2-1.2l2-1.2l1.4,0l.6-.3l2-.9l2-.2l2-2.9l2-.6l2-.9l.7-.3l1.3-1.2l2-.3l2-.6l2-.2l.3-.1l1.7-.9l2,.3l2-.7l2-.4l2-.4l2,1.1l2-.2l1.5-.6l.5,0l2-.2l2,.3l2-.3l2-.5l2,.6l2-.1l2-1.1l2,1.8l2-.3l2-.7l2-1.3l2,.9l2,.8l2-.2l2,.1l2-.4l2-.9l2,.6l2,.4l2-.6l2-.8l2,.5l2-1.7l1,.6l1,.8l2-.3l2,.6l2-.6l2,.1l2-.5l2-1.2l2,.9l2-.3l2,.9l2-.3l2,.8l2,0l2,.8l2-1.1l2,0l2,.1l2,.4l2,.3l2-.7l2,1.1l2-1.5l2,.4l2-.4l2-.6l2-.2l2,.8l2,.2l2,.1l2,.6l2-.6l2-.1l2,.2l2,1.6l2-.9l2,.3l2-1l2-.8l1,.4l1,.7l2-.5l2,.2l2,0l2-1.3l2,.5l2-.2l2,.7l2-1.4l2,.9l2,.1l2-1.8l2,.9l2,.3l2,.6l2-1l2-.2l2,.1l2-.1l2-.2l2,1.4l2-.6l2,.6l2-.5l2,0l2-.6l2,.7l2-1.2l2,.8l2,1.6l2-.7l2,.3l2-1.1l2,.2l2,.6l2-.4l2,.9l2-.2l2-.1l2-1.7l2,.4l2,.4l2-.4l2-.3l2,.4l2,.3l.1,0l0,269l-486.1,0Z" fill="#E83323" fill-opacity="0.2"/>
<path d="M1385.0,1450.1l1.5-.1l1.5-.1l1.5,0l1.5,.1l1.5-.2l1.5-.2l.5,0l1-.5l1.5-1l1.5-.9l1.5-.5l1.5-.8l1.5-1.2l1,0l.5,0l1.5-.4l1.5-.6l1.5-.4l1.5-.9l1.5-.4l1.5-.5l0,0l1.5-.4l1.5-.7l1.5-.3l1.5-.2l1.5-.3l1.5-.3l.5-.1l1-.3l1.5,.2l1.5,.3l1.5,0l1.5-.7l1.5,.1l1,.4l.5,.2l1.5-.3l1.5-.4l1.5-.1l1.5,.4l1.5-.4l1.5-.4l0,0l1.5-.6l1.5,.3l1.5-.1l1.5,.1l1.5,.2l1.5-.5l.5,0l1-.1l1.5-.7l1.5-.3l1.5-.3l1.5,0l1.5-.2l1-.2l.5-.6l1.5-1.5l1.5,.2l1.5,.4l1.5-.3l1.5,.3l1.5,.4l0,0l1.5-.2l1.5-1l1.5,.7l1.5,.3l1.5-1.2l1.5-.4l.5,.1l1,.3l1.5,.3l1.5,0l1.5-.7l1.5,0l1.5,.3l1-.1l.5,.1l1.5,.1l1.5,0l1.5-.2l1.5,.5l1.5,.3l1.5,.3l0-.1l1.5-.8l1.5,0l1.5-.3l1.5-.1l1.5-.2l1.5,0l.5-.3l1-.8l1.5-.9l1.5,.1l1.5,.2l1.5-.9l1.5-.4l1-.1l.5,.1l1.5,.6l1.5-.8l1.5,.2l1.5,.4l1.5,.2l1.4-.3l.1,0l1.5,.1l1.5-.2l1.5-.4l1.5-.6l1.5-.2l1.5-.5l.5-.1l1-.4l1.5,.4l1.5-.1l1.5-.1l1.5-.3l1.5-.2l.9,.1l.6,.1l1.5-.6l1.5-.6l1.5-.6l1.5,.5l1.5-.9l1.4-1.6l.1,0l1.5,.2l1.5,.2l1.5,0l1.5-.1l1.5,0l1.5,.2l.4,0l1.1,.1l1.5,.1l1.5,.6l1.5-.3l1.5-.6l1.5-.4l.9-.1l.6,0l1.5,0l1.5,.1l1.5,.1l1.5-.7l1.5,.6l1.4,.5l.1-.1l1.5-1l1.5-.6l1.5-.5l1.5-.2l1.5-.2l1.5-.4l.4-.3l1.1-.2l1.5,0l1.5-.7l1.5-.5l1.5,.6l1.5-.1l.9-.3l.6-.2l1.5,.4l1.5,.2l1.5-.5l1.5-.3l1.5-.2l1.4-.5l.1,0l1.5,.1l1.5-.2l1.5-.6l1.5-.3l1.5-.1l1.5-.7l1.5,0l1.5,.2l1.5-.6l1.5-.6l1.5,.2l1.5-.1l1.5-.4l1.5,.7l1.5,0l1.5-1.1l.5-.3l1-.5l1.5-.4l1.5,.4l1.5-.7l1.5-.6l.6-.1l.9,.3l1.5-.5l1.5,.6l1.5,1.1l.3,0l1.2-1l1.5-.7l1.5,.3l1.5-.4l1.5-.8l1.5,.1l1.5,.2l1.5-.7l1.5-.6l1.5-.5l1.5-.4l1.5-.5l1.5-.3l1.5-.6l1.5-.4l1.5,0l1,.2l.5,.2l1.5-.5l1.5,.2l1.5-.9l1.5,0l1.5-.2l1.5-.3l1.5-.5l1.5-.8l1.5-.7l1.5-.5l1.5-.2l1.5-.4l1.5,0l1.5,.8l1.3,0l.2-.2l1.5-.6l1.5,.2l1.5,.3l1.5-1.7l1.5-.4l1.5,.2l1.5,0l1.5-.6l1.5-.7l1.5,.2l1.5,0l1.5-.6l1.5-1.1l1.5-.4l1.5-.4l1.5-.2l.5,0l1-.5l1.5-1l1.5,.2l1.5,.4l1.5-.6l1.5-.4l1.5-.1l1.5,.2l1.5-.1l1.5,.3l1.5-.8l1.5-.2l1.5-.3l0,0l1.5-.4l1.5-.8l1.5-.2l1.5,.3l1.5-1.1l1.5-.4l1.5,.2l1.5-.1l1.5,.5l1.5-.5l1.5-1.4l1.5-.5l1,.6l.5,.3l1.5,.4l1.5-1.3l1.5-.2l1.5,.3l1.5-.3l1.5,0l1.5,.1l1.5-.2l1.5-.5l1.5,.4l1.5-.1l1.5-.3l1.5,.8l1.5-.5l1.3,.2l.2,0l1.5-.6l1.5-.7l1.5-.5l1.5-.2l1.5,0l1.5-.5l1.5-1l.6-.2l.9,0l1.5,.2l1.5-.1l1.5,0l1.5-.4l1.5,0l1.5,.5l1.5-.5l1.5-.2l1.5-.1l1.5-.2l1.5,.1l1.5-.1l.1,0l1.4-.4l1.5-.6l1.5-.2l1.5-.8l1.5-.3l1.5,.2l1.5-.6l1.5-1l1.5-.4l1.5,0l.3,0l1.2-.1l1.5-.4l1.5-.6l1.5,.2l1.5,.1l1.5-.2l1.5-.5l1.5-.3l1.5,.1l1.5,.1l1.5-.1l1.5-.5l1.3-.3l.2,.1l1.5,.3l1.5,1l1.5-.3l1.5,.4l1.5,.5l1.5,.2l1.3,.5l.2,0l1.5-.5l1.5-.7l1.5,.2l1.5,.2l1.5,.6l1.5-.9l1.5-.4l1.5-.4l.1-.1" fill="none" stroke="#0000FF" stroke-width="1.55" stroke-linejoin="round" stroke-dasharray="1.30 2.14"/>
<path d="M1385.0,1448.9l1.5,0l1.5,.1l1.5-.1l1.5-.1l1.5,.1l1.5-.1l1.5-.1l1.5,.2l1.5,.3l1.5,.1l1.5-.2l1.5,0l1.5,.1l1.5-.3l1.5,.1l1.5,.6l1.5,0l1.5-.7l1.5,.4l1.5,.1l1.5-.4l1.5,0l1.5,.6l1.5-1l1.5-.3l1.5,.6l1.5-.5l1.5,.6l1.5,.4l1.5-.2l1.5-.4l1.5,.2l1.5,.2l1.5-.3l1.5,0l1.5,0l1.5-.6l1.5-.2l1.5,.5l1.5,0l1.5-.4l1.5,0l1.5,.2l1.5,0l1.5-.1l1.5,.1l1.5,.2l1.5-.2l1.5,.3l1.5,.2l1.5,0l1.5,.2l1.5-.3l1.5-.6l1.5,.7l1.5,.6l1.5-.1l1.5,0l1.5-.1l1.5,0l1.5-.4l1.5-.5l1.5,.4l1.5,.3l1.5-.1l1.5,.1l1.5-.2l1.5,.4l1.5-.1l1.5,0l1.5,0l1.5,.1l1.5,.4l1.5,0l1.5-.2l1.5,0l1.5-.1l1.5-.1l1.5,.2l1.5-.3l1.5-.5l1.5,.3l1.5,.3l1.5,.1l1.5-.1l1.5-.1l1.5,.5l1.5-.1l1.5,0l1.5,.2l1.5,.1l1.5-1.2l1.5-.4l1.5,0l1.5,.2l1.5,.4l1.5,0l1.5,0l1.5-.3l1.5-.4l1.5,.6l1.5,.3l1.5,.2l1.5-.3l1.5-.3l1.5,.2l1.5-.2l1.5-.2l1.5,0l1.5,.6l1.5-.1l1.5-.2l1.5-.3l1.5,.2l1.5-.1l1.5,.2l1.5,.2l1.5-.2l1.5-.2l1.5,.2l1.5,.5l1.5-.3l1.5-.1l1.5,.6l1.5,.3l1.5-.9l1.5,0l1.5,.1l1.5,.5l1.5,.2l1.5-.6l1.5,0l1.5-.1l1.5,0l1.5,.2l1.5,0l1.5-.1l1.5-.3l1.5,.3l1.5,.9l1.5-.5l1.5-.4l1.5,.7l1.5-.5l1.5-.4l1.5-.2l1.5,.7l1.5,.5l1.5,0l1.5-.3l1.5,0l1.5-.2l1.5,.1l1.5,0l1.5-.1l1.5,.1l1.5,.4l1.5-.3l1.5,0l1.5,.2l1.5,.1l1.5,.2l1.5-.4l1.5-.5l1.5,.6l1.5-.5l1.5,0l1.5,0l1.5-.5l1.5,.4l1.5,.1l1.5,0l1.5,0l1.5-.4l1.5,.1l1.5,.7l1.5-.4l1.5-.2l1.5-.2l1.5,.4l1.5,.2l1.5-.2l1.5-.4l1.5,0l1.5,.2l1.5-.1l1.5,0l1.5,.1l1.5,.2l1.5,.1l1.5-.1l1.5-.2l1.5,.3l1.5,.4l1.5-.7l1.5-.2l1.5,.2l1.5-.1l1.5-.2l1.5-.3l1.5,.1l1.5,0l1.5,.2l1.5,.5l1.5,0l1.5-.4l1.5,.1l1.5,.4l1.5,0l1.5-.1l1.5-.1l1.5,0l1.5-.3l1.5,.2l1.5,.4l1.5,.1l1.5,.1l1.5-.2l1.5-.2l1.5-.2l1.5,.1l1.5-.4l1.5-.1l1.5-.2l1.5,.1l1.5,.2l1.5,.6l1.5-.2l1.5-.2l1.5,.4l1.5-.3l1.5,.1l1.5,0l1.5-.2l1.5,.5l1.5,.1l1.5-.8l1.5-.1l1.5,.1l1.5-.2l1.5-.5l1.5-.1l1.5,.7l1.5,.1l1.5,0l1.5,.2l1.5,.5l1.5,.3l1.5-.3l1.5-.2l1.5-.1l1.5,.1l1.5-.6l1.5-.2l1.5,0l1.5,.2l1.5,.1l1.5-.1l1.5,.3l1.5-.5l1.5,.3l1.5,.4l1.5-.5l1.5-.2l1.5,.3l1.5,.5l1.5,.3l1.5-.6l1.5-.4l1.5-.1l1.5,.6l1.5,.2l1.5-.2l1.5-.2l1.5,.1l1.5,.6l1.5-.3l1.5,.1l1.5-.5l1.5,.2l1.5,.3l1.5,.1l1.5-.4l1.5,.2l1.5,0l1.5,.2l1.5-.4l1.5,.1l1.5,.1l1.5-.2l1.5,0l1.5,.6l1.5,.1l1.5-.5l1.5-.5l1.5,.1l1.5,.1l1.5,0l1.5-.5l1.5,.5l1.5,.3l1.5-.2l1.5-.1l1.5,.6l1.5,.2l1.5-.3l1.5-.4l1.5,.2l1.5,.1l1.5-.2l1.5-.2l1.5-.2l1.5,.2l1.5,.4l1.5-.5l1.5-.2l1.5,.6l1.5,0l1.5,0l1.5-.8l1.5,.4l1.5,.2l1.5-.1l1.5-.1l.1,0" fill="none" stroke="#75147C" stroke-width="1.55" stroke-linejoin="round" stroke-dasharray="8.29 2.07 1.30 2.07"/>
<path d="M1385.0,1449.7l3,0l3,.1l3,0l3-.1l3-.1l3,0l3-.4l3,.2l3,.2l3,.1l3,0l3,.1l3-.2l3,0l3,0l3,.1l3-.6l3,.3l3-.1l3,.1l3-.2l3,0l3,.1l3-.2l3,.1l3,.1l3,0l3-.3l3,.1l3-.1l3,.3l2-.3l1,.2l3-.3l3-.5l3,.3l3-.3l3-.2l3,0l3-.3l3-.4l3-.4l3,.2l3-.2l3,0l1-.3l2-.3l3,0l3-.1l3,.1l3-.4l3,.2l3-.4l3-.1l3,0l3-.2l3,0l3,.2l2.9-.3l.1,0l3-.1l3-.1l3-.1l3,.1l3-.4l3,.1l3-.5l3,0l3,.1l3,0l3-.2l3,.3l1.9-.1l1.1,.2l3-.1l3,0l3-.1l3,.1l3,.1l3-.2l3-.1l3,.1l3,.1l3-.2l3-.3l3,0l3,.1l3,.3l3-.5l3-.1l3,.4l3,.1l3-.1l3,.3l3-.4l3,.6l3-.4l2-.2l1-.1l3-.3l3,.4l3-.3l3-.2l3,.3l3-.3l3,.1l3-.2l3,0l3-.5l3-.1l3,.3l1-.2l2-.1l3,.4l3-.3l3-.3l3,.4l3,.3l3-.4l3-.3l3-.3l3,.5l3-.4l3,.3l3,0l0,0l3,0l3-.1l3-.2l3-.1l3-.4l3,.3l3-.1l3-.4l3,.3l3-.1l2.2-.1l.8,0l3,.4l3,.1l3,0l3-.2l3,.1l3,.1l3,.4l2.9,.1l.1,0l3,0l3,.1l3-.2l3-.1l3,.4l3,0l3,0l3,.1l3,0l3,.1l3,0l3,.1l1.9,.1l1.1,.1l3-.4l3,.2l3-.3l3,0l3-.1l3,0l3-.1l3,.6l3-.5l3,.3l3,0l.1,0" fill="none" stroke="#3A7D22" stroke-width="1.55" stroke-linejoin="round" stroke-dasharray="6.48 3.89 1.30 3.89 1.30 3.89"/>
<path d="M1385.0,1449.6l3,0l3,0l3-.1l3,0l3-.1l3,.2l3-.1l3,0l3,.1l3-.1l3,.5l3,.1l3-.3l3,0l3,.2l3,0l3-.4l3,0l3,.1l3-.2l3,0l3,.1l3,.5l3-.3l3,.2l1-.3l2-.6l3-.2l3-1.1l3,.3l3-.3l3-.2l2-.5l1-.4l3-.7l3-.9l.6-.1l2.4-1.9l3-2.5l2.2-1.6l.8-1.4l3-5.4l3-5.1l.8-1.3l2.2-3.1l3-3.9l.5-.7l2.5-3.2l3-3.1l3-4.1l1-1l2-2.7l3-3.9l3-4.2l1.4-2l1.6-1.7l3-2.8l3-3.1l2-2l1-.8l3-3.2l3-2.7l2.4-2.3l.6-.4l3-1.8l3-2.4l2.9-1.8l.1,0l3-1.4l3-2l3-1.2l.4,0l2.6-1.2l3-1.2l3-1.4l.9-.4l2.1-.1l2.1-.6l.9-.7l3-1.3l3-1.9l3-.9l3-1.8l1.9-.6l1.1-.5l3-1.4l3-.9l3-.6l3-1.4l3-1l2.9-1.2l.1-.1l3-.8l3-.5l3-.8l3-.4l3-1l3-1.1l3-.1l3-1.1l2.4-.4l.6-.3l3,.1l3-.3l3,.7l3-.5l3-.3l1.5-.2l1.5,.1l3,.1l3,.2l3,.4l3-.5l3-.2l3,0l3-.5l3,.4l3-.3l3,0l3,.2l3,.1l3,.1l3,.2l3-.3l1,0l2,0l3,.3l3,.1l3-.4l3,.1l3,.2l3-.3l3-.1l3,.1l3-.5l3,.3l3-.3l3,.2l3,.4l3-.5l3,.2l3-.1l3,.2l3-.4l3,.1l3-.3l3-.1l3,0l3,0l3,.6l2-.4l1-.3l3,.1l3,.2l3-.1l3,0l3-.3l3-.1l3,.4l3,0l3,.3l3-.3l3,0l3,.2l3-.5l3,0l3,.2l3-.3l3,0l3,.4l3-.3l3,.3l3,.2l3-.3l3,.3l3-.2l3,0l3,0l3,0l3,0l3-.1l3-.4l.1,0" fill="none" stroke="#E83323" stroke-width="1.55" stroke-linejoin="round"/>
</g>
<text x="1385.0" y="1474.6" font-size="19.93" text-anchor="middle" fill="#262626" textLength="12.0" lengthAdjust="spacingAndGlyphs">0</text>
<text x="1482.2" y="1474.6" font-size="19.93" text-anchor="middle" fill="#262626" textLength="12.0" lengthAdjust="spacingAndGlyphs">1</text>
<text x="1579.4" y="1474.6" font-size="19.93" text-anchor="middle" fill="#262626" textLength="12.0" lengthAdjust="spacingAndGlyphs">2</text>
<text x="1676.6" y="1474.6" font-size="19.93" text-anchor="middle" fill="#262626" textLength="12.0" lengthAdjust="spacingAndGlyphs">3</text>
<text x="1773.8" y="1474.6" font-size="19.93" text-anchor="middle" fill="#262626" textLength="12.0" lengthAdjust="spacingAndGlyphs">4</text>
<text x="1871.0" y="1474.6" font-size="19.93" text-anchor="middle" fill="#262626" textLength="12.0" lengthAdjust="spacingAndGlyphs">5</text>
<text x="1375.5" y="1458.7" font-size="19.93" text-anchor="end" fill="#262626" textLength="12.0" lengthAdjust="spacingAndGlyphs">0</text>
<text x="1375.5" y="1405.7" font-size="19.93" text-anchor="end" fill="#262626" textLength="35.9" lengthAdjust="spacingAndGlyphs">200</text>
<text x="1375.5" y="1352.6" font-size="19.93" text-anchor="end" fill="#262626" textLength="35.9" lengthAdjust="spacingAndGlyphs">400</text>
<text x="1375.5" y="1299.5" font-size="19.93" text-anchor="end" fill="#262626" textLength="35.9" lengthAdjust="spacingAndGlyphs">600</text>
<text x="1375.5" y="1246.5" font-size="19.93" text-anchor="end" fill="#262626" textLength="35.9" lengthAdjust="spacingAndGlyphs">800</text>
<text x="1375.5" y="1193.4" font-size="19.93" text-anchor="end" fill="#262626" textLength="47.8" lengthAdjust="spacingAndGlyphs">1000</text>
<text x="1863.1" y="1495.5" font-size="19.27" text-anchor="end" fill="#262626" textLength="39.7" lengthAdjust="spacingAndGlyphs">×10</text>
<text x="1871.5" y="1488.8" font-size="13.95" text-anchor="end" fill="#262626" textLength="8.4" lengthAdjust="spacingAndGlyphs">9</text>
<text x="1628.0" y="1504.0" font-size="28.94" text-anchor="middle" fill="#262626" textLength="140.4" lengthAdjust="spacingAndGlyphs">Env Steps</text>
<text x="1628.0" y="1153.9" font-size="30.84" text-anchor="middle" fill="#262626" textLength="249.5" lengthAdjust="spacingAndGlyphs">FrankaCubePush</text>
<text x="0" y="0" transform="translate(1318.6,1305.5) rotate(-90)" font-size="28.94" text-anchor="middle" fill="#262626" textLength="239.7" lengthAdjust="spacingAndGlyphs">Episode Rewards</text>
</g>
<g id="P10">
<rect x="2003" y="1164" width="499" height="287" fill="#EAEAF2"/>
<clipPath id="cP10"><rect x="2003" y="1164" width="499" height="287"/></clipPath>
<path d="M2003.00,1164V1451M2102.80,1164V1451M2202.60,1164V1451M2302.40,1164V1451M2402.20,1164V1451M2501.97,1164V1451M2003,1450.97H2502M2003,1383.50H2502M2003,1315.90H2502M2003,1248.30H2502M2003,1180.70H2502" stroke="#fff" stroke-width="0.94" fill="none" clip-path="url(#cP10)"/>
<g clip-path="url(#cP10)">
<path d="M2003.0,1448.0l1.5-17.3l.4-4.2l1.1-22.5l.8-15.1l.7-13.1l1.5-26.3l1.5-25.9l0-.2l1.5-15l1.5-15.2l.7-7.6l.8-5.7l1.5-11.3l1.5-10.3l0,0l1.5-5.6l1.5-4.2l.7-2.7l.8-.4l1.5-.4l1.5-.1l1.5-.1l.4,.2l1.1,0l1.5,.5l1.5-.9l1.5-1.1l1.5-.5l1.5,.2l1.5-.9l1.5-1.1l1.5,.8l0,0l1.5-.3l1.5-.3l1.5-1.6l1.5-1l1.5,.7l1.5-1l.3-.3l1.2,.4l1.5,.2l1.5,0l1.5-.5l1.5-.2l1.5-.4l.7-.4l.8-.6l1.5-.1l1.5,1.3l1.5,.2l1.5-1.1l1.5,.4l1.5-1.2l1.5,.4l1.5,0l1.5-1.5l1.5,.4l1.5-.1l1.4,.1l.1,0l1.5,.5l1.5,0l1.5,.2l1.5-.7l1.5-.9l1.5-.2l.3-.1l1.2,0l1.5-.1l1.5,.3l1.5,.6l1.5,0l1.5-.7l1.5,.5l1.5-.5l1.5,0l1.5-.2l.5,.3l1,.9l1.5,.3l1.5-1.9l1.5,.6l1.5-.7l1.5-2.7l1.5,.7l1.5,.9l1.4,.1l.1,0l1.5-.9l1.5-1.1l1.5-.4l1.5-.9l1.5,1.3l1.5,.6l1.5,.3l1.5-1.1l1.5-1l1.5,.3l1.5-.3l1.5-.1l.6,0l.9-.1l1.5-.6l1.5,.2l1.5-1.2l1.5,0l1.5,1.2l1.5-.4l1.5-1.4l1.5,.2l1.5,.8l1.5-2.1l1.5-1l1.4,.8l.1,.1l1.5,.4l1.5,.3l1.5-.3l1.5,.8l1.5,1l1.5-1.3l1.5,.6l1.5,.4l1.5-1.1l1.5,1l1.5,1.9l1.5,.4l.6,0l.9-.2l1.5-.3l1.5-1.8l1.5-1.4l1.5-.6l1.5-.9l1-1.1l.5-.2l1.5,.1l1.5,0l1.5,.2l1.5-.6l1.5-.8l1.3,.8l.2,.1l1.5,.2l1.5-.7l1.5,1.5l1.5,.4l1.5-.5l1.5-.3l1.5-.7l1.5-1.8l1.5,.5l1.5,0l1.5,.2l1.5,1.1l.6-.1l.9-.3l1.5,.7l1.5-.3l1.5-.3l1.5-.1l1.5-.1l1.5-.1l1.5-1l1.5-.7l1.5,1l1.5,1.1l1.5-.9l1.5,.8l1.5,.7l1.5-.2l1.5-1.6l1.5-.7l1.5,.8l1.5,.2l.2-.2l1.3-1l1.5,2l1.5-.7l1.5-.5l1.5,.3l1.5-.4l1.5,0l1.5-.2l1.5-.6l1.5-.2l1.5,.1l1.5,.2l1.5-1.7l1.5-.9l1.5,1.2l1.5,.3l1.5-.9l1.5-.2l1.5-1.4l1.5-.1l0,0l1.5,1.4l1.5,1l1.5,.4l1.5,.5l1.5,1.7l0,0l1.5,2.8l1.5,3.3l.7,1.2l.8-1.1l1.5-.1l1.5,.1l1.5-.1l.3,.1l1.2-.7l1.5-2.1l1.5-.9l1.5,.4l1.5-.9l.3-.3l1.2-.2l1.5,.2l1.5-.4l1.5,.3l1.5,.4l1.5-1.4l1.5,.6l1.5,1.1l1.5-1.5l1.5-1.4l1.5-.9l.7-.1l.8,.4l1.5,.7l1.5-.8l1.5-.6l1.5,.2l1.5-1.1l1.5-.7l1.5,.5l1.5,1l1.5-.5l1.5-.7l1.5,.6l1.4-.9l.1-.1l1.5,.2l1.5-.4l1.5,.3l1.5,.1l1.5-.4l1.5,.1l1.5,0l1.5,.2l1.5-.5l1.5-.5l1.5,0l1.5-1.2l.7,.2l.8,.3l1.5-.2l1.5-1.5l1.5,.1l1.5,.3l1.5-.1l1.5,1l1.5,.9l1.5-2l1.5-.8l1.5,1.6l1.5,.2l1.4-1.1l.1-.1l1.5-.2l1.5,.6l1.5-.5l1.5-.1l1.5,.3l1.5,.8l1.5-.2l1.5-.1l1.5,.5l1.4-2.1l.1-.1l1.5,0l1.5,.2l1.5,.3l1.5,.4l1.5-.8l1.5-1.1l1.5-.3l1.5,.9l1,.5l.5,.1l1.5,0l1.5-.2l1.5-.3l1.5-.9l1.5-.1l1.5,.7l1.5,.7l1.5-.9l.6-.7l.9-.4l1.5,.5l1.5,1.3l1.5,.7l1.5,0l1.5-.2l1.5,1.5l1.5,.7l1.5-.4l1.5,1.1l.6,.2l.9,.2l1.5-.1l1.5-.1l1.5-.5l1.5,.3l1.5-.3l1.5-.5l1.5,1.1l1.5,.9l1.5-1.5l1.5,.1l1.5-.1l1.3-.9l.2-.2l1.5,.2l1.5,1.2l1.5-1.6l1.5-1.7l1.5-.4l1.5,1.2l1.5,.1l1.5,.7l1.5-.6l1.5-.5l1.5-.5l1.5-.7l.6-.1l.9,1l1.5,.5l1.5-1l1.5,.6l1.5,.7l1.5,.3l1.5,0l1.5-.7l1.5,1.5l1.5-.5l1.5,.2l1.5,.7l1.3,.8l.2,0l1.5-1.1l1.5-1.1l1.5-.2l1.5-.3l1.5-.5l1.5-1.4l1.5,1l1.5,.1l1.5,0l1.3-1.1l.2-.1l1.5,.5l1.5-.1l1.5,1.2l1.5-1l1.5,.1l1.5,.2l.9-.7l0,19.9l-1.5-1.7l-1.5,.2l-1.5,.4l-1.5,0l-1.5,.9l-.7,.4l-.8,.2l-1.5,.6l-1.5-.4l-1.5-1l-1.5,0l-.7,.3l-.8-.5l-1.5-.1l-1.5,.8l-1.5-.2l-1.5-1.5l-1.5-.4l-1.1-1.2l-.4-.2l-1.5-.6l-1.5,.3l-1.5-.3l-1.5,.2l-1.5,.8l-1.5,.5l-1.5-.6l-1.5-.7l-1.5-.9l-1.5,1.2l-1.5,1.1l-1.5,.2l-.3-.1l-1.2-1.1l-1.5,0l-1.5,1.6l-1.5,0l-1.5-1.6l-1.5-1.6l-.7,.2l-.8,.8l-1.5,1.7l-1.5-.2l-1.5-.9l-1.5-.6l-1.5,.4l-1.5,.5l-1.5,.1l-1.5,1l-1.5,.1l-1.5-1.6l-1.5,1l-1.4,1.1l-.1,.1l-1.5-.8l-1.5-.4l-1.5,.7l-1.5,1.6l-1.5,.3l-1.5,.4l-1.5-.4l-1.5-.4l-1.4,2.2l-.1,0l-1.5-1l-1.5-.9l-1.5-1.2l-.7-.8l-.8-.6l-1.5-1.2l-1.5,.8l-1.5,.9l-1.5-.4l-1.5-.8l-1.5-1.1l-1.5,.1l-1.5,1.3l-1.5-.7l-1.5,0l-1,.4l-.5,.2l-1.5,.9l-1.5-.5l-1.5,1.5l-1.5,1l-1.5,.8l-1.5,.3l-1.5,1.6l-.3,.2l-1.2-.5l-1.5,.6l-1.5-.4l-1.5,.8l-1.5,0l-1.5-.3l-1.5,.2l-1,1.5l-.5,1l-1.5,2l-1.5,.7l-.8,0l-.7-1.3l-1.5-2l-1-2.6l-.5-.3l-1.5-.2l-1.5-1.2l-1.5,0l-1.5,1l-1.5,.1l-1.4,0l-.1,0l-1.5,.8l-1.5-.4l-1.5,.2l-1.5,.1l-1.5-1.1l-1.5,0l-1.5,.6l-1.5,.5l-1.5,1.1l-1.5,.7l-1.5,.8l-1.5,.6l-.6-.3l-.9-.3l-1.5,0l-1.5-.3l-1.5,.3l-1.5,.5l-1.5,.6l-1.5-.1l-1.5-.4l-1.5,.7l-1.5,.6l-.6,.2l-.9,0l-1.5-1.2l-1.5,0l-1.5,.8l-1.5-.3l-1.5-.9l-1.5,.1l-1.5-.5l-1.5,.6l-.2,.2l-1.3,0l-1.5-.9l-1.5,.7l-1.5-1.4l-1.5,.4l-1.5-.4l-1.5,1.7l-1.5,.7l-1.5,.3l-1.5-.7l-.2-.3l-1.3-.6l-1.5,.6l-1.5-.2l-1.5,.3l-1.5,1l-1.5,1.2l-.6,.2l-.9,.1l-1.5,.8l-1.5,.6l-1.5,.8l-.2,.2l-1.3,.6l-1.5,1.2l-1.5,1.3l-.4,.7l-1.1-1.2l-1.5-2.8l-.2-.7l-1.3-3.2l-1.5-1.3l-.9-.7l-.6,.1l-1.5,.1l-1.5,.6l-1.5,2l-1.5-1.4l-1.5-.3l-1.5-.3l-1.5,.1l-1.5,.8l-1.5-1l-1.5,1.2l-1.5,.3l-1.5,.2l-1.5,.4l-1.5-.9l-1.5-.4l-1.5,.4l-1.5,.2l-1.5,.3l-1.5,.6l-.7-.9l-.8-.3l-1.5,.2l-1.5,1.7l-1.5,1.6l-1.5-1.2l-1.5,1.2l-1.5-1.2l-1.5-.6l-1.5,1.1l-1.5,.1l-1.5-1.8l-1.5-1.5l-1.5,.4l-1.5,.5l-1.5-.7l-1.5,.8l-1.5,.5l-1.5-.8l-1.5-.1l-.3,.1l-1.2,1.3l-1.5,.5l-1.5-.1l-1.5,.2l-1.5,.2l-1.5-1.2l-1.5-.2l-1.5-.3l-1.5,.3l-1.5,1.2l-1.5,0l-1.5-.4l-1.1-.2l-.4,.2l-1.5,.7l-1.5-.4l-1.5,1.8l-1.5,2.1l-1.5,1l-1.5,2.6l-1.5,.7l-.3-.1l-1.2-.9l-1.5-1.6l-1-.9l-.5-.7l-1.5-2.9l-1.5-2.9l-.3-.6l-1.2,.8l-1.5,1.1l-1.5,.1l-1.5-.3l-1.5-.7l-1.5,.2l-1.5,.6l-1.5-.5l-1.5,.3l-1.5,1l-1.5,0l-1.5,1.2l-1.5,.7l-1.5,1l-1.5-.1l-.3,.1l-1.2-.1l-1.5-.5l-1.5-1.8l-1.5-.2l-1.5-.6l-1.5,0l-1.5,1l-1.5-1.1l-1.5-.1l-1.5,.5l-.3-.2l-1.2,.3l-1.5,.5l-1.5-.2l-1.5-.2l-1.5-.9l-1.5-.6l-1.5,.7l-1.5-.5l-1.5,.5l-1.5,.8l-1.5,1.3l-1.5,.4l-1-.6l-.5-.2l-1.5,1.3l-1.5,.4l-1.5,.8l-1.5,0l-1.5-.7l-1.5,.3l-1.5-.1l-1.5-.4l-1.5,.1l-1.5,.7l-1.5,.4l-1.5,.4l-.2,0l-1.3-.5l-1.5-1.2l-1.5,.4l-1.5-.6l-1.5,.4l-1.5,.3l-1.5-.3l-1.5-.9l-1.5-.5l-1.5-.1l-1.5,.3l-1.5-.1l-1,.6l-.5,.1l-1.5-.4l-1.5,.5l-1.5,1.1l-1.5,.2l-1.5-.9l-1.5,.2l-1.5,1.8l-1.5,1.1l-1.5,1l-1.5-1.4l-1.5,.5l-1.5-.1l-.2,0l-1.3,.2l-1.5,.5l-1.5,.5l-1.5,1.7l-1.5,1l-1.5,1.7l-.6,.1l-.9-.7l-1.5-.4l-1.5,3l-1.5,2.3l-1.5,1.1l-1.5-.2l-.9,.7l-.6,.7l-1.5,.9l-1.5,1.3l-1.5,2.5l-1.5,1.1l-.9,.4l-.6,1.3l-1.5,3.5l-1.5,3l-1.5,1.6l-.5,1.3l-1,3.2l-1.5,4.8l-1.5,6.1l-1.5,4.6l-.2,.5l-1.3,7.7l-1.5,10.1l-1.5,10.1l-1.3,8.7l-.2,1.7l-1.5,15.4l-1.5,14.9l-.5,5.6l-1,13.9l-1.5,22.6l-1.3,19.7l-.2,1.8l-1.5,14.8l-.1,1.9l-1.4,2.8l-1.5,3Z" fill="#0000FF" fill-opacity="0.2"/>
<path d="M2003.0,1449.0l1.5-6.3l1.5-6.1l1.5-5.8l1.1-5l.4-3.5l1.5-11.6l1.5-12.1l1.5-13.4l.7-6.2l.8-3l1.5-5.9l1.5-6.5l1.5-6.4l.4-1.5l1.1-.4l1.5,.4l1.5-.6l1.5-1.2l1.5,.6l.4,0l1.1-1l1.5-3.5l1.5,1.3l1.5,.9l1.5,1.3l1.5,2.3l.7-.2l.8-1.4l1.5-2.8l1.5,1.1l1.5,3.3l1.5-3.1l1.5-2.6l1.5-.4l1.5-.4l1.5,1l.3,.4l1.2-.5l1.5-1.1l1.5-2.2l1.5,.1l1.5,.8l1.5-.9l.7-.9l.8-.2l1.5-1.5l1.5,0l1.5,1.7l1.5,0l1.5,1.1l1.5-3.2l1.5,1.3l1.5,2.2l.3-.3l1.2-.8l1.5-1.1l1.5,2.4l1.5,.3l1.5,.2l1.5-2.2l1.5,2.2l1.5,.5l1.5,.4l1.5,1.2l.3,.1l1.2-.6l1.5-2l1.5,1.2l1.5-1.4l1.5,3.5l1.5-2l1.5-3.7l1.5,1.9l1.5,.1l1.5-1.1l.5-.4l1-.3l1.5,2.3l1.5,1.8l1.4-.1l.1,.1l1.5-2.4l1.5-.8l1.5,3.6l1.5,.2l1.4,2.8l.1,.2l1.5,4.2l1.5-.4l1.5-2l1.5,1.1l1.5,.3l1.5-.3l1.5-2.4l1.5,1l1.5,3.1l1.5-1.4l1.5,.7l1.5-2.3l.6-.5l.9,.7l1.5,.4l1.5-3.1l1.5,1.8l1.5,1.2l1.5-1.5l1.5,3.7l1.5,3l1.5-.7l1.5-1.8l.6,.6l.9-1.1l1.5-3.8l1.4-2.6l.1-.1l1.5-.7l1.5,1.6l1.5-.4l1.5,.7l1.5,1.8l1.5-1l1.5,2l1.5-.6l1.5,1l1.4-.3l.1-.4l1.5-2.2l1.5-2.6l.6,.1l.9,.5l1.5-1.3l1.5,1.9l1.5-.4l1.5-.3l1.5-.2l1.5-.4l1.5-2.4l1.5,2l1.5,.4l1.5,0l1.5-.4l1.3,2.4l.2-.2l1.5-3.3l1.5,3.2l1.5-.8l1.5-.6l1.5,4.2l1.5-2l.2-.5l1.3,1.7l1.5,.4l1.5,1.1l1.3,1.3l.2-.1l1.5-.1l1.5-.7l1.5,.3l1.5,.9l1.5-2.9l1.5-.9l1.5-.3l1.5-.6l.9,.3l.6,.9l1.5,3.4l1.5-4.3l1.5-4.3l1.5,4.9l1.5,.9l1.3-.4l.2-.1l1.5-.3l1.5,1.5l1.5,0l1.5,1.2l1.5,1l1.5,.6l1.5-.1l1.5-1.8l1.5-3l1.5-.5l1.5,2.5l1.5,3.7l1.5-2.4l1.5,.3l1.5-.7l1.5,2.5l1.5,2.6l1.5,.6l1.5-2.7l1.5-1.7l1.5-.3l1.5-2.5l.4-.1l1.1,.2l1.5,1.8l1.5,0l1.5,.1l0,0l1.5-.3l1.5,0l.7,1.1l.8-.1l1.5-1.2l1.5-.1l1.5-1.5l.4-.7l1.1-.5l1.5,.3l1.5,3l.5,1.5l1-.2l1.5-1.5l1.3-5.1l.2-.4l1.5,0l1.5-1.7l1.5,4.7l1.5-3.2l1.5-.2l1.5,3.9l1.5-1.5l1.5-1.1l0,.1l1.5,2.1l1.5-2.1l1.5,.7l1.1,.8l.4-.5l1.5-.5l1.5,.8l1.5,1.7l1.5,1.7l1.5,.5l1.5-1.2l1.5,2.1l1.5,2.1l1.5,.7l1.1-.5l.4-.7l1.5-2.1l1.5-.4l1.5-1.3l1.5-.2l1.5,1.6l1.5-.7l1.5-1l1.5,3.5l1.5-.6l1.5-4.3l1.5,.9l1.5,1.1l.3,.5l1.2-1.5l.7-2.1l.8,.3l1,2.8l.5-.8l1.5-.7l1.5-.5l1.5,1.7l1.5-.6l1.5-2.6l1.4,.1l.1,.1l1.5,3.1l1.5-.7l1.5-.5l.1,.3l1.4,1.7l.5,1.1l1,.9l1.5-.6l1.5-1.9l1.5,1l1.5-2.4l1.4,0l.1,.1l1.5-.9l1.5,3.4l.7,2l.8,0l1.5-4.4l1.5-1.4l1.5,.3l1.5-1.3l1.5-.2l1.5-1.3l1.5,1.9l1.5,.1l.3,0l1.2,4.9l.6,2.5l.9-2.4l1.5-5l1.4-2.6l.1,.1l1.5-3l1.5,1.5l1.5,.2l1.5,.9l1.5-2.3l1.5,1.3l1.5,4l1.5,.1l1.5,.7l1.4-1.5l.1-.2l1.5-.2l1.5-1.4l1.5-.6l1.5,2l1.5,2.7l1.5,.7l.2-.7l1.3-1.9l1.5,4.1l1.5-1.2l1.4-.4l.1,.1l1.5,1l.2,.5l1.3,.4l1.5,.7l1.5,0l1.5-.5l1.5,0l1.5-.9l1.5,.3l1.5-2.4l1.3-.2l.2,.1l1.5-.2l1.5-1.9l1.5,2.3l1.5-1l1.5-1.2l1.5-1.2l1.5-.7l1.5-1.1l1.5-.7l1.3,3.5l.2,.7l1.5,1.4l1.5,.7l1.5,.3l1.5,2.1l.4,.8l1.1-.4l1.5-4.8l1.5-1.2l.6-.1l.9,1l1.5,1.1l1.5,1.4l1.5,0l1.5,.1l1.5,5l.9-.2l.6-1.5l1.5,.2l1.5-1.7l1.5-.4l.6-.4l.9-.6l1.5,1.8l1.3,1.8l.2-.1l1.5-3l1.5-.3l1.5,.3l1.5-1.8l1.5,1.2l1.5,1.6l1.5-.7l.5,.2l1,1l1.5,1.6l1.5,1l1.5,2.7l.2,.2l1.3-.2l1.5-1.7l1.5,2l.4,.5l1.1,.2l1.5-.4l.9-1.8l0,92.4l-498.9,0Z" fill="#75147C" fill-opacity="0.2"/>
<path d="M2003.0,1448.4l2-4.3l2-4.5l1.6-3.9l.4-5l2-26.2l.4-5.8l1.6-26.5l1.2-20.5l.8-7.2l2-20.3l1-10.1l1-7.7l2-14.5l.7-5.7l1.3-6.6l2-9.8l2-10.7l.4-2l1.6-17.3l1.2-11.5l.8,.5l2,1.5l2,.5l1.7,1.9l.3-.4l2-3.5l2-.9l1.3-2.7l.7-2.1l1.2-2.4l.8,.2l2,0l2-.8l.8-.6l1.2-1.4l2-3.8l.6-1l1.4-1.8l2-2.8l2-2l.2-.2l1.8-1.2l2-1.7l1.8-1.6l.2-.1l2,.7l2-.3l2-1.3l2,.1l2,0l2-1l2-.2l2,.7l2-1.4l.6,.1l1.4,.2l2-.4l2,1.3l2,.3l2-.3l2,0l2,.2l2-.4l2-.1l1.5,1.5l.5,.4l2-2l2-1.5l2-.3l2-.2l2-1.3l2,1.1l.4,.1l1.6-.3l2-.4l2-.7l2-.6l2,.4l2-.4l2,.8l1.4,.8l.6,.1l2-.8l2-.3l2,1.6l2,.4l2-.1l.6-.2l1.4,.2l2,1.4l2,.3l2,1l2-1.2l1.9,.8l.1,0l2-.2l2-.8l2,1.6l2-1.2l2-1l2,1.5l2-1l2-.4l2-.7l.6,.4l1.4-.4l2-.4l2-2.2l2,1.5l2-.3l2,.7l2-1.3l2,.1l2,.8l1.3-.1l.7-.2l2-.6l2,.6l2-1.4l2,.2l2,.2l2-.5l2-.4l2,.2l2-1.1l.1-.1l1.9-.2l2-.2l2-1.3l2-2.3l2,.6l2,.1l2,.8l2-2.2l2-.5l.8,.1l1.2,0l2-.1l2-1.4l2,.5l2,.7l2-1l2-.9l2,1.9l2-1l2,.3l2,0l2-.2l2-.2l2-1.3l2,1l2-1.2l2,.8l2-1.4l2,.7l2,.1l2-.1l1.7,1.3l.3,.2l2-.2l2-1.2l2-.3l2,.8l2-1.9l2,1.9l2,1l2-1l2,.1l.5,.2l1.5,.2l2,.1l2-.9l2-.8l2,.6l2,.8l2-.5l2-.9l2,.9l1.2,.5l.8,.3l2-1l2,.1l2-1.1l2,.7l2-.4l2-.4l2,.7l2-1l1.9-.1l.1,0l2-.1l2,.7l2,1.2l2,.2l2-1.8l2-.2l2,.4l2,1.4l2-1.2l2,.7l2-.2l.4,.1l1.6,1.3l2,.5l2-1.5l2,.6l2-.1l2-.3l2-.3l2,.7l2,.2l1.2-.4l.8,.2l2-1.5l2-.3l2,1.4l2,.9l2,.3l2-.1l2-.8l2,.2l2-.4l2,1.1l2-2l2,.3l2,.3l2-.6l2-.7l2,1.8l.9,.2l1.1,.1l2,0l2-1.1l2,.3l2-.1l2,.4l2,.3l2,.5l2-1l1.6-.5l.4,.2l2,.4l2,.9l2,0l2,.8l2,.2l2-1.6l2,.7l2-.4l2-1.2l.3,0l1.7,1.5l2,.4l2-1.3l2,.4l2-1l2,.3l2,.8l2-1.6l2,1.7l2-.1l2-1.1l2-.2l2,.3l2-1.5l.4-.3l1.6,.1l2,1.1l2-.7l2-.2l2,.1l2,1.1l2-.7l2,1l2-.8l1.2-.4l.8,0l2,.5l2-.1l2,.3l2-.6l2-.8l2-.2l2,.9l.9-.9l0,13.6l-.9,.8l-2-1.2l-2,.1l-2,.8l-2-.3l-2-.5l-2,0l-2-.2l-2-.9l-2-.1l-2,.4l-2-.7l-2,0l-.2-.1l-1.8-.5l-2,1.1l-2-.1l-2,.4l-2-.4l-2,.8l-2-.7l-2-.5l-2,.8l-.9,.2l-1.1-.6l-2,.1l-2,0l-2,.5l-2,.5l-2,2.8l-2-1.2l-2-1.9l-2,.5l-2,.2l-2,.5l-2,0l-2-.8l-2,.3l-1,1.1l-1,.4l-2-.1l-2-.6l-2,.3l-2-1.8l-2,1.4l-2-.2l-2-1.3l-1.9-.7l-.1-.1l-2-.1l-2,.4l-2,.2l-2-1.5l-2,1.1l-2-.8l-2,.5l-2-.8l-2,.9l-2-2.1l-.5,.5l-1.5,1.7l-2-1.8l-2,.7l-2,.9l-2,1.1l-2,1l-2-.6l-2,.5l-2-.1l-2,.1l-2-1.4l-2-.4l-.8,.5l-1.2,.3l-2-.9l-2-.2l-2-.3l-2-.8l-2,0l-2-.9l-2,1l-2-.2l-1.6-.4l-.4-.1l-2-.8l-2,2.1l-2-2l-2,.5l-2-.3l-2,1.1l-2,.3l-2-2l-2-.1l-2,.3l-2,.4l-.1-.1l-1.9-1.6l-2,.3l-2,2.2l-2-.8l-2,1.4l-2,1l-2-1.1l-2,.2l-2,.2l-2,.2l-2,.5l-2,.7l-.4-.3l-1.6-.7l-2-1.2l-2,1.8l-2,.6l-2,.2l-2,.5l-2-.2l-2,.9l-1.3-.1l-.7,.4l-2,.3l-2,1.9l-2,.3l-2,1.4l-2-.1l-2,.4l-2,.6l-2,.2l-.1,0l-1.9-.6l-2,.5l-2,.9l-2-1l-2,1.3l-2,1.4l-2-.7l-2,.6l-2-1.1l-2,.1l-2-.1l-2,1.5l-2,.5l-2,0l-2-.8l-1.8,.1l-.2,.1l-2,1l-2-.2l-2,2l-2-.3l-2-.6l-2,2l-.9,.6l-1.1-1l-2-.7l-2,.2l-2-.8l-2,.3l-2,0l-2-1.7l-1.9,.7l-.1,0l-2-.4l-2-1.4l-2-.4l-2,.1l-2-.4l-2,.6l-2-1.4l-2,1.2l-2,1.4l-.7,.1l-1.3,.2l-2-1l-2-.8l-2,0l-2,1l-2-.4l-2,1l-2-.5l-2-.2l-2,.1l-2-.8l-2-.9l-2,.2l-2,.2l-.8,0l-1.2,1l-2,.6l-2,.6l-2,.4l-2,.5l-2-.5l-2-.1l-2,.7l-2-.1l-1.5,.3l-.5,.1l-2,.3l-2-.3l-2-.9l-2-.4l-2-.5l-2,1.1l-2-.5l-2,.5l-2,1l-.2,.1l-1.8,1.1l-2-.5l-2,2.6l-2-.7l-2,.4l-2,1.7l-1.4,1.1l-.6,.1l-2,.6l-2-.7l-2,1.2l-2,1l-.5-.1l-1.5,1.5l-2,1l-2,2.2l-2,.8l-2,1.3l-.1,.1l-1.9,1.8l-2,1.7l-2,1.7l-1.6-.6l-.4,.7l-2,4.5l-2,4.8l-2,5.9l-1.1,2.7l-.9,.8l-2,2l-2,0l-.7,.4l-1.3-1.6l-2-2.5l-2-3.6l-2-2.2l-.2-.3l-1.8,0l-2,.7l-2-1.6l-2-.9l-1.6,.7l-.4,1.2l-2,5.1l-2,4.2l-2,2.5l-1,1.7l-1,3.2l-2,8.7l-2,6.5l-2,6.4l-.5,1.8l-1.5,4.5l-2,3.8l-.3,.6l-1.7-.3l-2-.2l-1.9,1.4l-.1,.2l-2,1l-1.6,3l-.4,1.8l-2,10.1l-1.4,7.4l-.6,4.3l-2,14.9l-1.1,9.5l-.9,14.9l-2,34.4l-.9,16.1l-1.1,10.7l-1.7,17l-.3,1l-2,6.8l-.5,1.7l-1.5,.9l-2,1.6l-2,1.4l-2,1.5Z" fill="#3A7D22" fill-opacity="0.2"/>
<path d="M2003.0,1448.7l2-2.6l2-2.7l1.6-2.1l.4-1l2-5.4l2-5.7l1.2-3.4l.8-5.3l2-13l2-13.1l.9-5.7l1.1-6.5l2-11.6l2-12.7l.5-2.9l1.5-3.8l2-4.5l2-4.4l.1-.2l1.9-9.8l2-9.5l1.7-8.6l.3-2.3l2-16.2l1.5-12.3l.5-3.4l2-11.3l2-12l2-11.6l1-6.2l1-3.7l2-6.4l.7-2.4l1.3-3.9l2-7l2-6.2l.3-.7l1.7-1.3l2-4.3l2-1.8l1.8-3.2l.2-.2l2-.3l2-.5l2-2l2-1.2l1.2-1l.8-.7l2-1.4l2-2l2-.9l2-.8l.6-.4l1.4-.6l2-.1l2,.1l2-.6l1.9-.2l.1,0l2,.1l2-1.5l2,0l2,.4l1.5-.1l.5,.1l2-.1l2,.5l2-.5l2,.2l2-.2l2-.5l2-.2l2-1.6l2,.1l2,1.1l1.8-.4l.2-.1l2-.7l2,0l2,.4l2-.2l2,0l2,.1l2,.5l2-.4l2-.6l.5,0l1.5-.6l2,.1l2,.9l2-.5l2,.5l2,1.6l2-1.3l2-.6l2,.1l2-.6l2,.2l2-.3l2-.1l2,.2l.6-.2l1.4-.4l2,.2l2-.8l2-.3l2,.2l2-.6l2,1.2l2-.6l2,0l2-1.1l2-.2l2,.6l2-.4l2,0l2-.8l2,.5l2-.4l2,.4l2-.2l.1,0l1.9-.4l2,.7l2,.2l2-.2l2,1l2-.6l2,.3l2,.1l2-1.3l2,.5l2-.4l2-.9l2,.2l2,.5l2-.5l2,1l2-1.1l2-.3l2,.7l2,.5l2-.3l2,0l2,.2l2-.2l2-1.3l2,.4l2,.2l2,.3l2-.4l2-.1l2,.7l2-.9l2,1.5l2-.6l2-.6l2,.5l2-.2l2-.4l2-.9l2-.6l2-.1l2,.2l2,0l2,.7l2-.4l2-.4l1.6,.5l.4,.1l2,.1l2-.2l2-.7l2,1.3l2,.1l2-.6l2,.4l2,.6l2-.8l2,.3l2,.1l1.9-.6l.1,0l2,.1l2-.7l2,.4l2,.3l2-1.2l2,.2l2-.1l2-.5l2,.5l2,.1l2-.5l2,.4l2-1l2,.5l2,.1l2,.6l2-.9l2,.7l1.4-.1l.6-.1l2-.6l2,.3l2,.6l2-.2l2-.3l2,0l2-1.3l2,.5l2,.6l2-1.1l2,.3l2,.3l2-.1l2,0l2-.3l2,.9l2-.1l2,.2l.9,.5l1.1,.2l2-1.6l2-.4l2,.4l2,.6l2-1.1l2-.9l2,.9l2-.6l2,.6l2,0l2-.5l2,1.1l2-.6l2,.3l2-1l2,.7l2,.1l2,.2l.3-.1l1.7,.1l2-.9l2,.1l2,.1l2,.5l2-.5l2,.2l2,.1l2-.1l2-.3l2,.3l2,.5l2-.2l2-.5l2,.3l2,0l2-.7l2-.2l1.8,.1l.2,0l2-.5l2-.5l2,.8l2,.8l2-.6l2-.3l2,.4l2,.1l2,.6l2,.5l2,.3l2-.6l.9-.1l0,3.2l-.9,.3l-2-.9l-2,.8l-2-.8l-2-.1l-2,.5l-2,.2l-2,.2l-2,.3l-2-.9l-2,.3l-2,.2l-2-.9l-.2,0l-1.8,.5l-2-.3l-2-.2l-2,0l-2,0l-2,1l-2-.5l-2-.1l-2,.5l-2,.3l-2-.5l-2-.2l-2,1.1l-2-.8l-2,.6l-2,.1l-2-.2l-2-.3l-1.7,.5l-.3,.2l-2-.2l-2-1l-2,0l-2-.4l-2-.2l-2,0l-2,.1l-2,.7l-2,.6l-2,.2l-2-.3l-2-.3l-2,.4l-2,.3l-2-.3l-2-.6l-2,.5l-2,.1l-1.1,.5l-.9,.3l-2-.1l-2-.6l-2-.5l-2,1l-2-.3l-2-.2l-2-.2l-2,.6l-2,.1l-2,.1l-2-.6l-2-.2l-2,1.1l-2-.7l-2,.1l-2,.1l-2-.3l-2,.6l-.6-.2l-1.4,.3l-2-.7l-2-.4l-2,.3l-2,.1l-2,1l-2-.7l-2,.5l-2,1.6l-2-.4l-2-1.1l-2,.2l-2,1l-2-.5l-2,.6l-2-.8l-2,.4l-2,.3l-2,.2l-.1,0l-1.9-.4l-2-.2l-2-.2l-2,.9l-2,.1l-2,.3l-2-1l-2,.8l-2-1.3l-2,.1l-2,0l-2,.4l-.4,0l-1.6-.5l-2,.7l-2,.7l-2-1l-2,1l-2-.8l-2,0l-2,.2l-2,.4l-2,.3l-2,.9l-2-.5l-2,.4l-2-.8l-2,.1l-2-.7l-2,.6l-2-.7l-2,.3l-2,.2l-2-.1l-2-.4l-2,.8l-2,0l-2-.4l-2-.1l-2-.1l-2,.6l-2,.7l-2-.8l-2,1.2l-2-.7l-2-.7l-2,1.2l-2-.8l-2-.9l-2,1.2l-2-1l-2-.4l-2,.3l-2,1.5l-2-.6l-2,.3l-2-.4l-2,.3l-2,0l-1.9,.4l-.1,0l-2,.3l-2-.3l-2,.7l-2,.9l-2,.3l-2-.4l-2-.5l-2-.3l-2,.2l-2,.6l-2,1.3l-2-.6l-2,.8l-2,.4l-2,.4l-2-1.8l-2,.9l-2,.7l-1.4-.5l-.6,.1l-2-.1l-2,.9l-2-.5l-2,.3l-2,1.6l-2,.2l-2,1l-2-.2l-2-.5l-.1,0l-1.9,.6l-2,.4l-2,.4l-2-.2l-2,.9l-2-.4l-2,.6l-2,.9l-2,.9l-2,.5l-2-1.4l-.6,.5l-1.4,1.2l-2,.7l-2,1.2l-2,1.8l-2-.7l-2,1l-2,1.2l-1.6,1l-.4,.2l-2,.2l-2,1.8l-2,2l-2,.5l-2,1l-2,1.7l-.5,.2l-1.5,1.3l-2,2.2l-2,1.4l-2,1.8l-2,1.1l-.1,.2l-1.9,3.2l-2,2.1l-2,2.7l-2,2.5l-1.4,2l-.6,.6l-2,1.6l-2,1.1l-2,2.2l-2,1.3l-.8,.9l-1.2,3.3l-2,3.9l-2,3.5l-2,2.9l-.3,.5l-1.7,10.8l-2,13.3l0,.4l-2,14l-1.8,12.3l-.2,1.2l-2,13.3l-1.6,9.9l-.4,2.9l-2,13.8l-1.3,8l-.7,1.4l-2,3.1l-2,3l-2,4.5l-.8,1.3l-1.2,7.1l-2,11.8l-2,11.1l-1.3,7.8l-.7,3.8l-2,11.7l-2,12.1l0,.1l-2,2.2l-2,1l-1.6,1.5l-.4,.3l-2,2.1l-2,1.3l-2,1.9l-2,1.9l-1,.6l-1,.9l-2,1.8l-2,2.4l-.6,.6l-1.4,.7l-2,1.2l-2,1.4l-2,1.2l-2,1.1Z" fill="#E83323" fill-opacity="0.2"/>
<path d="M2003.0,1449.8l2.8-14.2l.2-4.7l1.7-42.1l1.3-22l1.5-24.8l1.5-15.2l1.3-12.9l1.7-13.5l1.1-8.7l1.9-7.5l3-11.2l.7-2.7l2.3-3.5l3-4.5l.4-.8l2.6-2.5l3-1.7l3-2.7l.7-.5l2.3-1.7l3-2.1l1.3-1l1.7-.4l3-1.7l1.8-.7l1.2-.7l3-1.3l3-1.1l2.2-1.1l.8-.5l3,0l3-1.2l2.6-.7l.4,0l3-.4l3,.7l3,0l3,0l3-.1l3,0l.3-.1l2.7-.3l3,1.1l3-.6l2.5,.4l.5-.2l3-1.7l.5-.2l2.5-.2l3,.3l3-.6l3,0l1.4-.2l1.6-.4l3-.1l3-.8l3-.7l3-.2l3-.6l2.1,0l.9,.3l3,.6l3,.1l3-.3l3,0l2.1,0l.9-.3l3-.7l3-.3l3-.3l3-.2l.2,0l2.8,0l3,.2l3,.1l2.5,0l.5,.8l2.3,3.4l.7-.2l3-1.8l3-.7l3-1.1l.6,0l2.4-.5l3-.1l3-.1l3,.1l3-.6l3-.8l3,.5l2.1-.3l.9,.2l3-.2l3,0l3,.2l3,.1l3-.1l3,.1l3-.9l3,0l3-.2l.2-.1l2.8,0l3-.2l3-.7l3,.1l3,.1l3-.2l3-.5l3-.5l3,.3l3-.8l0,0l3,1.4l2.6,2l.4,.5l3,4.1l2.2,2.2l.8-.5l3-2.4l1.8-1.1l1.2-.5l3-1.4l3-2l.3-.3l2.7-.3l3-.4l3-.9l3-.2l3,.3l2.2-.4l.8-.1l3-.4l3-.1l3-.5l3-.7l3,.3l2.9-1.1l.1,0l3,.5l3,1l1.4,.2l1.6-.3l3-.4l3-.1l3-.8l.7-.3l2.3-.6l3-.4l3,.1l3-1l3,.6l3-.9l1.4,.4l1.6,1.8l1.8,1.9l1.2-.7l2.9-1.8l.1,0l3-1.5l3,0l1.4-.7l1.6,.9l3,.8l.1,0l2.9-1.2l3-.8l2.5-.7l.5,.1l3,0l3,.2l3,.1l3-.7l.6,0l2.4,.9l3,.7l3,.8l1.9,.1l1.1-.1l3-.6l3,.5l3-.4l3-.7l1-.1l2,.8l3-.7l3-.7l3-.3l3-.4l2.8-.1l.2,.1l3,.8l3,.3l.4,.1l2.6-.7l3-.6l.9-.5l2.1,.3l3-.2l3,.8l3,.2l2.1,0l.9,.4l3,.4l3,.1l3,.1l3,.2l.2,0l2.8-1.4l2.8-.1l.2-.1l3,.3l3-.7l3-.2l.9,.5" fill="none" stroke="#0000FF" stroke-width="1.55" stroke-linejoin="round" stroke-dasharray="1.30 2.14"/>
<path d="M2003.0,1449.7l1.5-2.3l1.5-2.2l1.5-2.2l1.1-1.6l.4-1.5l1.5-6l1.5-5.8l.4-1.5l1.1-4l1.5-5l1.1-3.7l.4-.5l1.5-1.9l1.5-1.9l1.5-1.5l.7-.3l.8,0l1.5-1.1l1.5-.6l1.5,.4l1.5,.1l1.5-.1l1.1-1.7l.4-.1l1.5,.5l1.5,.5l1.5-.5l1.5-.1l1.5,.7l1.5-.2l1.5-.6l1.5-.7l1.5,.1l1.5-.5l1.5,.6l1.5-.1l.3-.2l1.2-.5l1.5,.4l1.5,.2l1.5-1l1.5,.4l1.5,.2l1.5-.3l1.5,.3l1.5-.7l1.5-.7l.3-.2l1.2-.1l1.5,.6l1.5,.3l1.5,.4l1.5,0l1.5,.5l1.5-.1l1.5,.5l1.4,.6l.1,0l1.5-.2l1.5-.9l1.5,0l1.5-.4l1.5-.1l1.5,0l.3,.2l1.2,.6l1.5-.1l1.5-.5l1.5-.2l1.5,.5l1.5,0l1.5,.2l1.5,.3l1.5-.6l1.5,.2l.5,.2l1,.2l1.5,.5l1.5,.6l1.5-.6l1.5,1.3l1.5,.9l1.5-.1l1.5-.6l1.5,.2l1.5,1.8l1.5,.2l.7-.1l.8-.4l1.5,.2l1.5-.1l1.5-.8l1.5-1.2l1.5,.4l1.5,.6l1.5-.5l1.5,0l1.5,.7l.6,.4l.9,.6l1.5-.2l1.5-.3l1.5-.8l1.5-.6l1.5,0l1.5,.4l1.5-.3l1.5-.2l1.5,.2l1.5-.6l1.5-.1l1.4,.2l.1,.1l1.5,.1l1.5,.4l1.5,.3l1.5-.1l1.5,1.3l1.5,.9l1.5-.7l1.5-1.2l1.5,.8l1.4,.3l.1-.2l1.5-1.6l1.5,0l.6-.6l.9-.2l1.5,0l1.5,.1l1.5,1.6l1.5-.3l1.5-.4l1.5-.6l1.5-.1l1.5,.9l1.5,.4l1.5-.2l1.5,.4l1.3,.8l.2,0l1.5-.1l1.5-.1l1.5,.1l1.5-1.4l1.5-.3l1.5-.5l1.5,1.1l1.5,.2l1.5-.9l1.5,.3l1.5-.2l1.5-.4l.6,.1l.9-.2l1.5-.1l1.5,.5l1.5,.4l1.5-.1l1.5,.3l1.5,1.1l1.5,.7l1.5-.4l1.5-.5l1.5-.8l1.5-.4l1.3,.9l.2,.2l1.5,.1l1.5,.6l1.5,.1l1.5-1.1l1.5,.1l1.5,.3l1.5-.4l1.5,.5l1.5-.9l1.5-.8l1.5,.8l1.5,0l1.5-.4l1.5,.1l1.5,.1l1.5-1.5l1.5,.7l1.5,1.3l1.5-.2l1.5-.6l1.5-.2l1.5,0l.4-.2l1.1-.1l1.5,.6l1.5,.2l1.5-.4l.9-.2l.6,.4l1.5,1.3l1.5,.2l1.1-.5l.4-.4l1.5,.1l1.5-.3l1.5-.3l.7,.2l.8,1l1.5,.8l.5,.5l1-.6l1.5-.9l1.3-1.2l.2,0l1.5-.4l1.5-.6l1.5-.2l1.5-1.2l1.5,.4l1.5,.2l1.5,.1l1.5-1.4l0-.1l1.5,.8l1.5,1.7l1.5,1.3l1.5,.4l1.4-.2l.1-.1l1.5-.1l1.5,.1l1.5-.4l1.5,.3l1.5,.5l1.5,.1l1.5-.1l1.5,.1l1.1-.1l.4-.2l1.5,.3l1.5-.1l1.5,.1l1.5-.9l1.5-.1l1.5,1.1l1.5-.6l1.5-1.1l1.5,.2l1.5,.4l1.5-.3l1.5-.1l.3,.1l1.2,0l1.5-.8l1-.4l.5,.3l1.5,1l1.5-.6l1.5,.4l1.5,.8l1.5-.3l1.5-.3l1.5,.2l1.5,.6l.7,.2l.8-.2l1.5,.7l1.5,.1l1.5-.6l1.5-.8l1.5-.5l1.5-.3l1.4-.2l.1,0l1.5-.1l1.5,1.2l1.5-.7l1.5,.1l1.5,.2l1.5,.5l1.5,0l1.5-.7l1.5-.9l1.4,1.3l.1,.1l1.5,.9l1.5,.7l.6,.1l.9-1.8l1.5-1.9l1.4-.7l.1,.1l1.5-.6l1.5-.4l1.5-.6l1.5,.2l1.5,.5l1.5,.4l1.5-.6l.6-.3l.9,.8l1.5,1l1.5,.5l1.5,.1l1.5,.1l1.5,.6l1.5,0l1.5,1.2l1.5,1l.2-.1l1.3-.5l1.5-.2l1.5,.2l1.5,0l1.5-.7l1.5-.1l1.5,.3l1.5,.1l1.5,.1l1.5-.5l1.5,.1l1.5,.7l1-.3l.5-.2l1.5-.4l1.5,.2l1.5,.5l1.5,.2l1.5,.4l1.5-1.2l1.5-.8l1.5,.3l1.5,.5l1.5,.1l1.3-.6l.2-.1l1.5-.5l1.5-.3l1.5,.6l1.5,.6l1.5-.3l1.5-.2l1.5,.5l1.5,.3l1.5-.7l1.5-.2l1.5,1.4l.2,.2l1.3,.6l1.5-.9l1.5-.7l1.5,.3l1.5-.5l1.5-.2l.6,.2l.9,.7l1.5-.3l1.5-.3l1.5-.6l1.5,.3l.6,.1l.9,.3l1.5,.6l1.5,.1l1.5-.3l1.5,.3l1.5,.6l1.5,.4l1.5,.2l1.5-.6l.2-.1l1.3,.4l1.5,.1l1.5,2.4l.4,.1l1.1-.7l1.5-1.2l.9-.7" fill="none" stroke="#75147C" stroke-width="1.55" stroke-linejoin="round" stroke-dasharray="8.29 2.07 1.30 2.07"/>
<path d="M2003.0,1449.7l3-2.5l2.6-2.1l.4-1.9l3-15l.4-1.9l1.8-46.9l.8-10.1l2-27.2l1-7.2l2.8-21.4l.2-1.7l2.6-20.5l.4-1.9l3-14.7l.4-1.8l2.6-8.3l1.1-3.2l1.9-.5l3-1.8l2.6-1.2l.4-.5l3-5.1l1.3-2l1.7-4.8l3-8.3l0-.1l3-6l.7-1.3l2.3-2.6l3-3.2l.3-.5l2.7,.1l3,.9l1.8,.3l1.2,.3l3,.6l3,0l2.2,.6l.8-.2l3-2l3-1.2l.7-.7l2.3-1.6l3-2.4l3-3.2l1-.9l2-.5l3-2l3-1.8l3-1.5l.5-.2l2.5,.5l2.9,.4l.1,0l3-1.6l3-.7l3-.9l3-1l3-1.3l1.8-.5l1.2,.2l3,.2l3,0l3-.9l3,.6l3-.8l3,.3l3,.4l2.1-.4l.9,.3l3,.2l3,1.2l.6-.2l2.4-.6l3-.4l3-.4l3-.2l3-.4l.6-.1l2.4-.2l3,.2l3-.5l3-.3l3,.1l3-.6l1.3-.1l1.7-.3l3,.3l3-.1l3,.2l3-.2l3,.1l2.1,0l.9-.2l3-.1l3-.3l3-.8l3,.2l3-.4l2.8-.3l.2,0l3-.5l3,0l3-.3l3-.3l3-.2l3-.7l3-.2l3,.1l3,0l3-.4l3-.2l3,0l3-.5l1.9-.1l1.1-.1l3-.8l3-.1l3-.6l3-.2l3-1l.7,0l2.3-.4l3,0l3-1l3,0l3-.4l2.6-.2l.4,.2l3-.2l3-.2l3-.2l3,.1l3-.3l3-.8l3,.6l2.9-.2l.1,0l3,0l3,.1l3,.2l3-.4l3,.3l3,.2l3-.2l1.4,.3l1.6,.4l3-.2l3,.6l3,0l3,.2l3-.4l2.2,0l.8-.2l3,.5l3-.2l3,.5l3,.3l3-1l3,.3l3,.1l2.5,.2l.5,0l3-.3l3,.3l3-.1l3,.4l3,.3l3-.3l2.1-.2l.9,.2l3,0l3,.6l3,0l3,.2l3-.3l3,.2l3,.3l3-.7l1.3-.1l1.7,.3l3-.3l3,0l3-.3l3,.2l3-.1l3-.1l3,.2l3,.2l2.4-.2l.6-.1l3,0l3,.3l3,.3l3-.5l3,.3l3,0l.2,0l2.8,.2l3-.5l3,.4l3-.4l3,0l.9-.1" fill="none" stroke="#3A7D22" stroke-width="1.55" stroke-linejoin="round" stroke-dasharray="6.48 3.89 1.30 3.89 1.30 3.89"/>
<path d="M2003.0,1449.7l3-2.5l2.6-2.2l.4-.1l3-1.3l1.3-.5l1.7-7.5l3-13.3l0-.1l3-9.7l2.6-8.5l.4-.9l3-7.4l3-6.8l3-7.2l0-.2l3-23.9l1.7-13.4l1.3-10l1.5-11.1l1.5-8.6l2.2-11.7l.8-2l3-8.3l1.8-4.6l1.2-1.5l.7-.8l2.3-10l1.4-6.6l1.6-5.4l2.2-7.7l.8-4.1l3-14.9l0-.1l3-10.5l1.6-5.8l1.4-1.5l3-4l2.2-2.4l.8-.6l3-2.8l3-2.4l2.6-2.6l.4-.3l3-1.5l3-1.4l2.9-1.5l.1-.1l3-1.7l3-1.7l3-2.3l.5-.3l2.5-.3l3-.8l3-1.1l3-.7l1.4-.1l1.6-.6l3-1l3-.8l3-.5l3-.7l1.4-.2l1.6-.4l3-.3l3-.2l3-.7l3-.2l3-.2l3-.6l2.9-.5l.1-.1l3,.3l3-.1l3-.6l3,.2l3-.6l3,.2l.6,0l2.4-.4l3-1.1l3,.1l1,0l2-.2l3,.2l3,.2l3-.2l3,.1l3-.1l1.7-.1l1.3-.1l3-.8l3-.5l2.1-.5l.9-.1l3,0l3-.5l3,.7l3-.2l3,0l2.8-.3l.2,0l3,0l3-.1l3-.7l3,.6l3-.4l3,.2l3,.3l3,.1l3-.3l3-.1l3-.6l3,.3l3-.2l3,.2l3,.4l3-.7l3-.1l3,.2l3-.4l3,.3l3,.1l3-.4l3-.1l3,.6l2.6,.1l.4,0l3-.1l3-.1l3-.1l3-.7l3,.3l3,.2l3-.5l2.9-.3l.1,0l3,0l3-.2l3,.3l3,.1l3-.2l3,.1l3-.2l3-.2l3,0l3,0l3-.1l3,.3l1.4-.3l1.6-.1l3-.3l3,.3l3-.4l3-.1l3-.5l3,.1l3,.3l3,.1l3-.1l3,.2l3-.3l2.9,.2l.1,0l3,.2l3-.5l3-.1l3-.1l3,.4l3-.4l3-.3l3,.3l3-.3l3,0l3,0l3-.4l1.3,.2l1.7,.1l3-.2l3,.3l3-.3l3-.4l3,0l3,.4l3-.5l3,.2l3,.1l3-.6l3,.1l2.8-.3l.2,0l3,.3l3,.2l3,.1l3,.1l3,.2l3-.4l3,.4l3,0l.9-.2" fill="none" stroke="#E83323" stroke-width="1.55" stroke-linejoin="round"/>
</g>
<text x="2003.0" y="1474.6" font-size="19.93" text-anchor="middle" fill="#262626" textLength="12.0" lengthAdjust="spacingAndGlyphs">0</text>
<text x="2102.8" y="1474.6" font-size="19.93" text-anchor="middle" fill="#262626" textLength="12.0" lengthAdjust="spacingAndGlyphs">1</text>
<text x="2202.6" y="1474.6" font-size="19.93" text-anchor="middle" fill="#262626" textLength="12.0" lengthAdjust="spacingAndGlyphs">2</text>
<text x="2302.4" y="1474.6" font-size="19.93" text-anchor="middle" fill="#262626" textLength="12.0" lengthAdjust="spacingAndGlyphs">3</text>
<text x="2402.2" y="1474.6" font-size="19.93" text-anchor="middle" fill="#262626" textLength="12.0" lengthAdjust="spacingAndGlyphs">4</text>
<text x="2502.0" y="1474.6" font-size="19.93" text-anchor="middle" fill="#262626" textLength="12.0" lengthAdjust="spacingAndGlyphs">5</text>
<text x="1993.5" y="1458.3" font-size="19.93" text-anchor="end" fill="#262626" textLength="12.0" lengthAdjust="spacingAndGlyphs">0</text>
<text x="1993.5" y="1390.7" font-size="19.93" text-anchor="end" fill="#262626" textLength="35.9" lengthAdjust="spacingAndGlyphs">200</text>
<text x="1993.5" y="1323.1" font-size="19.93" text-anchor="end" fill="#262626" textLength="35.9" lengthAdjust="spacingAndGlyphs">400</text>
<text x="1993.5" y="1255.5" font-size="19.93" text-anchor="end" fill="#262626" textLength="35.9" lengthAdjust="spacingAndGlyphs">600</text>
<text x="1993.5" y="1187.9" font-size="19.93" text-anchor="end" fill="#262626" textLength="35.9" lengthAdjust="spacingAndGlyphs">800</text>
<text x="2494.1" y="1495.5" font-size="19.27" text-anchor="end" fill="#262626" textLength="39.7" lengthAdjust="spacingAndGlyphs">×10</text>
<text x="2502.5" y="1488.8" font-size="13.95" text-anchor="end" fill="#262626" textLength="8.4" lengthAdjust="spacingAndGlyphs">9</text>
<text x="2252.5" y="1504.0" font-size="28.94" text-anchor="middle" fill="#262626" textLength="140.4" lengthAdjust="spacingAndGlyphs">Env Steps</text>
<text x="2252.5" y="1153.9" font-size="30.84" text-anchor="middle" fill="#262626" textLength="261.3" lengthAdjust="spacingAndGlyphs">FrankaCubeStack</text>
<text x="0" y="0" transform="translate(1948.5,1307.5) rotate(-90)" font-size="28.94" text-anchor="middle" fill="#262626" textLength="239.7" lengthAdjust="spacingAndGlyphs">Episode Rewards</text>
</g>
<g id="legend">
<rect x="667.4" y="1580.05" width="116.6" height="8.9" fill="#E83323"/>
<rect x="1099.3" y="1580.05" width="8.5" height="8.9" fill="#3A7D22"/>
<rect x="1133.8" y="1580.05" width="44.2" height="8.9" fill="#3A7D22"/>
<rect x="1389.8" y="1580.05" width="56.3" height="8.9" fill="#75147C"/>
<rect x="1459.9" y="1580.05" width="8.8" height="8.9" fill="#75147C"/>
<rect x="1482.5" y="1580.05" width="15.4" height="8.9" fill="#75147C"/>
<rect x="1666.2" y="1580.05" width="9.0" height="8.9" fill="#0000FF"/>
<rect x="1689.5" y="1580.05" width="9.0" height="8.9" fill="#0000FF"/>
<rect x="1712.8" y="1580.05" width="9.0" height="8.9" fill="#0000FF"/>
<rect x="1736.1" y="1580.05" width="9.0" height="8.9" fill="#0000FF"/>
<rect x="1759.4" y="1580.05" width="9.0" height="8.9" fill="#0000FF"/>
<text x="797.5" y="1597.9" font-size="40.38" text-anchor="start" fill="#000" textLength="211.4" lengthAdjust="spacingAndGlyphs">CPO (ours)</text>
<text x="1208.0" y="1597.9" font-size="40.38" text-anchor="start" fill="#000" textLength="107.0" lengthAdjust="spacingAndGlyphs">SAPG</text>
<text x="1516.0" y="1597.9" font-size="40.38" text-anchor="start" fill="#000" textLength="74.9" lengthAdjust="spacingAndGlyphs">PBT</text>
<text x="1792.3" y="1597.9" font-size="40.38" text-anchor="start" fill="#000" textLength="78.5" lengthAdjust="spacingAndGlyphs">PPO</text>
</g>
</svg>
</body></html>
